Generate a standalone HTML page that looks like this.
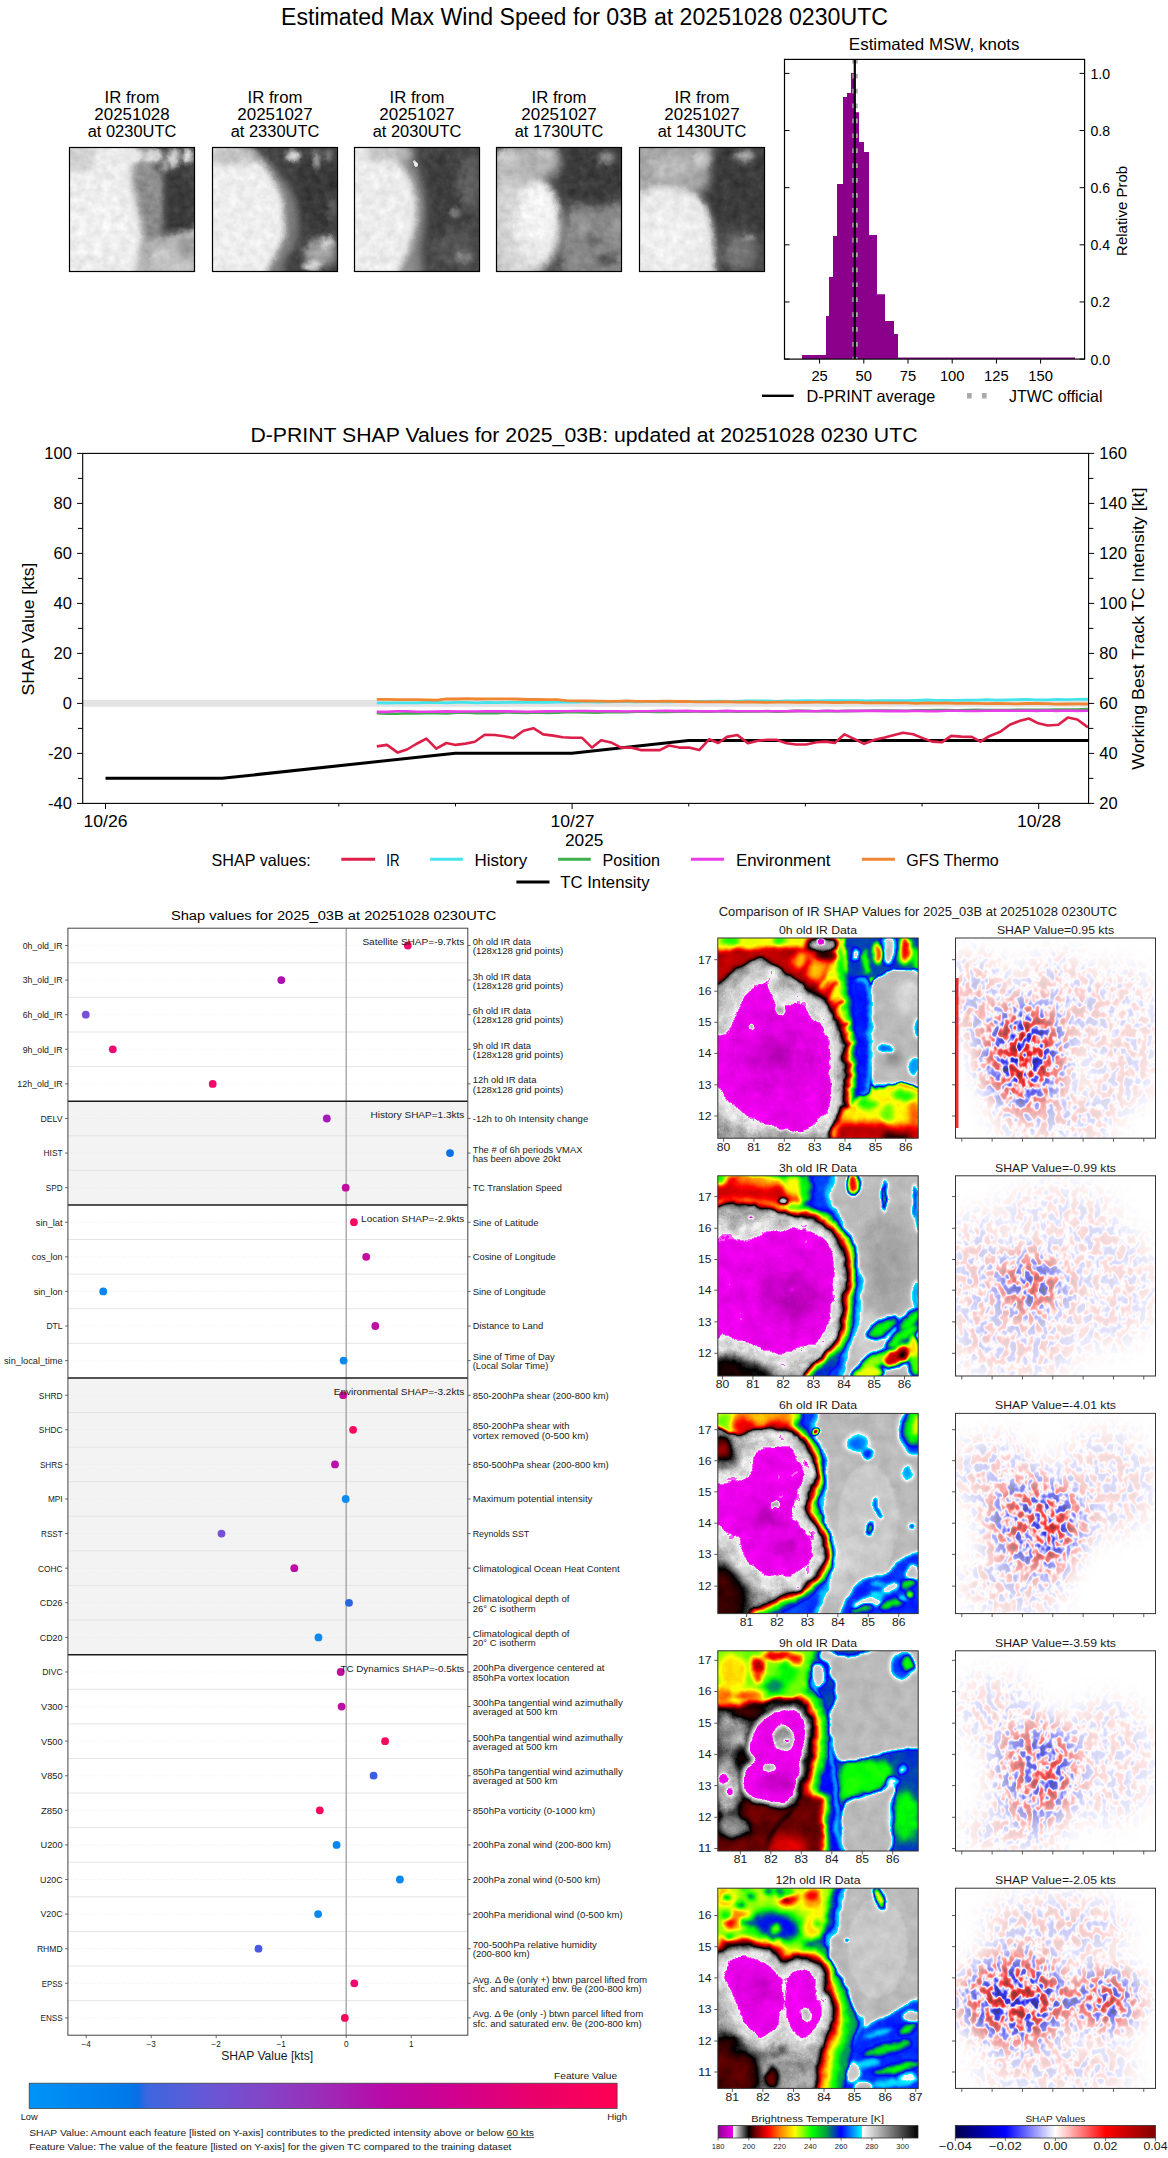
<!DOCTYPE html>
<html><head><meta charset="utf-8"><title>D-PRINT</title>
<style>html,body{margin:0;padding:0;background:#fff;overflow:hidden;}svg{display:block;}
text{font-family:"Liberation Sans", sans-serif;}</style></head>
<body><svg width="1168" height="2158" viewBox="0 0 1168 2158" font-family='"Liberation Sans", sans-serif'>
<defs><clipPath id="cpth"><rect x="0" y="0" width="125" height="124"/></clipPath><filter id="tb0.5" x="-40" y="-40" width="220" height="220" filterUnits="userSpaceOnUse"><feGaussianBlur stdDeviation="0.5"/></filter><filter id="tb2" x="-40" y="-40" width="220" height="220" filterUnits="userSpaceOnUse"><feGaussianBlur stdDeviation="2"/></filter><filter id="tb3" x="-40" y="-40" width="220" height="220" filterUnits="userSpaceOnUse"><feGaussianBlur stdDeviation="3"/></filter><filter id="tb4" x="-40" y="-40" width="220" height="220" filterUnits="userSpaceOnUse"><feGaussianBlur stdDeviation="4"/></filter><filter id="tb5" x="-40" y="-40" width="220" height="220" filterUnits="userSpaceOnUse"><feGaussianBlur stdDeviation="5"/></filter><filter id="tb6" x="-40" y="-40" width="220" height="220" filterUnits="userSpaceOnUse"><feGaussianBlur stdDeviation="6"/></filter><filter id="tb8" x="-40" y="-40" width="220" height="220" filterUnits="userSpaceOnUse"><feGaussianBlur stdDeviation="8"/></filter><filter id="thn0" x="-20" y="-20" width="165" height="165" filterUnits="userSpaceOnUse" color-interpolation-filters="sRGB"><feTurbulence type="fractalNoise" baseFrequency="0.12" numOctaves="3" seed="20" result="nz"/><feDisplacementMap in="SourceGraphic" in2="nz" scale="6" xChannelSelector="R" yChannelSelector="G" result="dp"/><feGaussianBlur in="dp" stdDeviation="0.6" result="bl"/><feColorMatrix in="nz" type="matrix" values="1 0 0 0 0 1 0 0 0 0 1 0 0 0 0 0 0 0 0 1" result="ng"/><feComposite in="bl" in2="ng" operator="arithmetic" k1="0" k2="1" k3="0.14" k4="-0.07"/></filter><filter id="thn1" x="-20" y="-20" width="165" height="165" filterUnits="userSpaceOnUse" color-interpolation-filters="sRGB"><feTurbulence type="fractalNoise" baseFrequency="0.12" numOctaves="3" seed="21" result="nz"/><feDisplacementMap in="SourceGraphic" in2="nz" scale="6" xChannelSelector="R" yChannelSelector="G" result="dp"/><feGaussianBlur in="dp" stdDeviation="0.6" result="bl"/><feColorMatrix in="nz" type="matrix" values="1 0 0 0 0 1 0 0 0 0 1 0 0 0 0 0 0 0 0 1" result="ng"/><feComposite in="bl" in2="ng" operator="arithmetic" k1="0" k2="1" k3="0.14" k4="-0.07"/></filter><filter id="thn2" x="-20" y="-20" width="165" height="165" filterUnits="userSpaceOnUse" color-interpolation-filters="sRGB"><feTurbulence type="fractalNoise" baseFrequency="0.12" numOctaves="3" seed="22" result="nz"/><feDisplacementMap in="SourceGraphic" in2="nz" scale="6" xChannelSelector="R" yChannelSelector="G" result="dp"/><feGaussianBlur in="dp" stdDeviation="0.6" result="bl"/><feColorMatrix in="nz" type="matrix" values="1 0 0 0 0 1 0 0 0 0 1 0 0 0 0 0 0 0 0 1" result="ng"/><feComposite in="bl" in2="ng" operator="arithmetic" k1="0" k2="1" k3="0.14" k4="-0.07"/></filter><filter id="thn3" x="-20" y="-20" width="165" height="165" filterUnits="userSpaceOnUse" color-interpolation-filters="sRGB"><feTurbulence type="fractalNoise" baseFrequency="0.12" numOctaves="3" seed="23" result="nz"/><feDisplacementMap in="SourceGraphic" in2="nz" scale="6" xChannelSelector="R" yChannelSelector="G" result="dp"/><feGaussianBlur in="dp" stdDeviation="0.6" result="bl"/><feColorMatrix in="nz" type="matrix" values="1 0 0 0 0 1 0 0 0 0 1 0 0 0 0 0 0 0 0 1" result="ng"/><feComposite in="bl" in2="ng" operator="arithmetic" k1="0" k2="1" k3="0.14" k4="-0.07"/></filter><filter id="thn4" x="-20" y="-20" width="165" height="165" filterUnits="userSpaceOnUse" color-interpolation-filters="sRGB"><feTurbulence type="fractalNoise" baseFrequency="0.12" numOctaves="3" seed="24" result="nz"/><feDisplacementMap in="SourceGraphic" in2="nz" scale="6" xChannelSelector="R" yChannelSelector="G" result="dp"/><feGaussianBlur in="dp" stdDeviation="0.6" result="bl"/><feColorMatrix in="nz" type="matrix" values="1 0 0 0 0 1 0 0 0 0 1 0 0 0 0 0 0 0 0 1" result="ng"/><feComposite in="bl" in2="ng" operator="arithmetic" k1="0" k2="1" k3="0.14" k4="-0.07"/></filter><linearGradient id="gshap" x1="0" x2="1" y1="0" y2="0">
<stop offset="0" stop-color="#0094f7"/><stop offset="0.17" stop-color="#0078ea"/><stop offset="0.185" stop-color="#0a6ee6"/>
<stop offset="0.2" stop-color="#3c66e0"/><stop offset="0.3" stop-color="#6658d6"/><stop offset="0.4" stop-color="#8444c8"/>
<stop offset="0.5" stop-color="#9c2cb8"/><stop offset="0.6" stop-color="#b80aa8"/><stop offset="0.72" stop-color="#d00090"/>
<stop offset="0.85" stop-color="#e8006c"/><stop offset="1" stop-color="#ff0052"/></linearGradient><filter id="b0_5" x="-40" y="-40" width="280" height="280" filterUnits="userSpaceOnUse" color-interpolation-filters="sRGB"><feGaussianBlur stdDeviation="0.5"/></filter><filter id="b1" x="-40" y="-40" width="280" height="280" filterUnits="userSpaceOnUse" color-interpolation-filters="sRGB"><feGaussianBlur stdDeviation="1"/></filter><filter id="b1_5" x="-40" y="-40" width="280" height="280" filterUnits="userSpaceOnUse" color-interpolation-filters="sRGB"><feGaussianBlur stdDeviation="1.5"/></filter><filter id="b2" x="-40" y="-40" width="280" height="280" filterUnits="userSpaceOnUse" color-interpolation-filters="sRGB"><feGaussianBlur stdDeviation="2"/></filter><filter id="b3" x="-40" y="-40" width="280" height="280" filterUnits="userSpaceOnUse" color-interpolation-filters="sRGB"><feGaussianBlur stdDeviation="3"/></filter><filter id="b4" x="-40" y="-40" width="280" height="280" filterUnits="userSpaceOnUse" color-interpolation-filters="sRGB"><feGaussianBlur stdDeviation="4"/></filter><filter id="b5" x="-40" y="-40" width="280" height="280" filterUnits="userSpaceOnUse" color-interpolation-filters="sRGB"><feGaussianBlur stdDeviation="5"/></filter><filter id="b6" x="-40" y="-40" width="280" height="280" filterUnits="userSpaceOnUse" color-interpolation-filters="sRGB"><feGaussianBlur stdDeviation="6"/></filter><filter id="b8" x="-40" y="-40" width="280" height="280" filterUnits="userSpaceOnUse" color-interpolation-filters="sRGB"><feGaussianBlur stdDeviation="8"/></filter><clipPath id="cp200"><rect x="0" y="0" width="200.4" height="200.2"/></clipPath><filter id="cm0" x="-40" y="-40" width="280" height="280" filterUnits="userSpaceOnUse" color-interpolation-filters="sRGB"><feTurbulence type="fractalNoise" baseFrequency="0.07" numOctaves="3" seed="3" result="nz"/><feDisplacementMap in="SourceGraphic" in2="nz" scale="6" xChannelSelector="R" yChannelSelector="G" result="dp"/><feGaussianBlur in="dp" stdDeviation="0.8" result="bl"/><feColorMatrix in="nz" type="matrix" values="1 0 0 0 0 1 0 0 0 0 1 0 0 0 0 0 0 0 0 1" result="ng"/><feComposite in="bl" in2="ng" operator="arithmetic" k1="0" k2="1" k3="0.032" k4="-0.016"/><feComponentTransfer><feFuncR type="table" tableValues="0.502 0.528 0.554 0.580 0.606 0.632 0.658 0.684 0.709 0.735 0.761 0.787 0.813 0.839 0.865 0.891 0.917 0.943 0.969 0.995 0.966 0.918 0.870 0.821 0.773 0.725 0.676 0.628 0.580 0.531 0.483 0.435 0.386 0.338 0.290 0.242 0.193 0.145 0.097 0.048 0.000 0.033 0.067 0.100 0.134 0.167 0.201 0.234 0.268 0.301 0.335 0.368 0.402 0.435 0.468 0.502 0.533 0.563 0.594 0.625 0.656 0.686 0.717 0.748 0.779 0.809 0.840 0.871 0.902 0.932 0.963 0.994 1.000 1.000 1.000 1.000 1.000 1.000 1.000 1.000 1.000 1.000 1.000 1.000 1.000 1.000 1.000 1.000 1.000 1.000 1.000 1.000 1.000 1.000 1.000 1.000 1.000 1.000 1.000 1.000 1.000 0.964 0.929 0.893 0.857 0.821 0.786 0.750 0.714 0.679 0.643 0.607 0.571 0.536 0.500 0.464 0.429 0.393 0.357 0.321 0.286 0.250 0.214 0.179 0.143 0.107 0.071 0.036 0.000 0.000 0.000 0.000 0.000 0.000 0.000 0.000 0.000 0.000 0.000 0.000 0.000 0.000 0.000 0.000 0.000 0.000 0.000 0.000 0.000 0.000 0.000 0.000 0.000 0.000 0.000 0.000 0.000 0.000 0.000 0.000 0.000 0.000 0.000 0.000 0.000 0.000 0.000 0.000 0.000 0.000 0.000 0.000 0.000 0.000 0.000 0.000 0.000 0.000 0.000 0.000 0.000 0.000 0.000 0.000 0.000 0.000 0.000 0.000 0.429 0.997 0.983 0.969 0.955 0.941 0.927 0.913 0.899 0.885 0.871 0.857 0.843 0.829 0.815 0.801 0.787 0.772 0.758 0.744 0.730 0.716 0.702 0.688 0.674 0.660 0.646 0.632 0.618 0.604 0.590 0.576 0.562 0.548 0.534 0.520 0.506 0.492 0.478 0.463 0.449 0.435 0.421 0.407 0.393 0.379 0.365 0.351 0.337 0.323 0.309 0.295 0.281 0.267 0.253 0.239 0.225 0.211 0.197 0.183 0.169 0.154 0.140 0.126 0.112 0.098 0.084 0.070 0.056 0.042 0.028 0.014 0.000"/><feFuncG type="table" tableValues="0.000 0.000 0.000 0.000 0.000 0.000 0.000 0.000 0.000 0.000 0.000 0.000 0.000 0.000 0.000 0.000 0.000 0.000 0.000 0.000 0.966 0.918 0.870 0.821 0.773 0.725 0.676 0.628 0.580 0.531 0.483 0.435 0.386 0.338 0.290 0.242 0.193 0.145 0.097 0.048 0.000 0.000 0.000 0.000 0.000 0.000 0.000 0.000 0.000 0.000 0.000 0.000 0.000 0.000 0.000 0.000 0.000 0.000 0.000 0.000 0.000 0.000 0.000 0.000 0.000 0.000 0.000 0.000 0.000 0.000 0.000 0.000 0.029 0.065 0.100 0.136 0.172 0.208 0.244 0.280 0.316 0.351 0.387 0.423 0.459 0.495 0.529 0.563 0.596 0.630 0.663 0.697 0.731 0.764 0.798 0.832 0.865 0.899 0.933 0.966 1.000 1.000 1.000 1.000 1.000 1.000 1.000 1.000 1.000 1.000 1.000 1.000 1.000 1.000 1.000 1.000 1.000 1.000 1.000 1.000 1.000 1.000 1.000 1.000 1.000 1.000 1.000 1.000 1.000 0.968 0.936 0.905 0.873 0.841 0.809 0.777 0.745 0.714 0.682 0.650 0.618 0.586 0.554 0.523 0.491 0.459 0.427 0.395 0.363 0.331 0.300 0.268 0.236 0.204 0.172 0.140 0.108 0.076 0.045 0.013 0.021 0.057 0.093 0.129 0.164 0.200 0.236 0.271 0.307 0.343 0.379 0.414 0.450 0.486 0.521 0.557 0.593 0.629 0.664 0.700 0.736 0.771 0.807 0.843 0.879 0.914 0.950 0.986 1.000 0.997 0.983 0.969 0.955 0.941 0.927 0.913 0.899 0.885 0.871 0.857 0.843 0.829 0.815 0.801 0.787 0.772 0.758 0.744 0.730 0.716 0.702 0.688 0.674 0.660 0.646 0.632 0.618 0.604 0.590 0.576 0.562 0.548 0.534 0.520 0.506 0.492 0.478 0.463 0.449 0.435 0.421 0.407 0.393 0.379 0.365 0.351 0.337 0.323 0.309 0.295 0.281 0.267 0.253 0.239 0.225 0.211 0.197 0.183 0.169 0.154 0.140 0.126 0.112 0.098 0.084 0.070 0.056 0.042 0.028 0.014 0.000"/><feFuncB type="table" tableValues="0.502 0.528 0.554 0.580 0.606 0.632 0.658 0.684 0.709 0.735 0.761 0.787 0.813 0.839 0.865 0.891 0.917 0.943 0.969 0.995 0.966 0.918 0.870 0.821 0.773 0.725 0.676 0.628 0.580 0.531 0.483 0.435 0.386 0.338 0.290 0.242 0.193 0.145 0.097 0.048 0.000 0.000 0.000 0.000 0.000 0.000 0.000 0.000 0.000 0.000 0.000 0.000 0.000 0.000 0.000 0.000 0.000 0.000 0.000 0.000 0.000 0.000 0.000 0.000 0.000 0.000 0.000 0.000 0.000 0.000 0.000 0.000 0.000 0.000 0.000 0.000 0.000 0.000 0.000 0.000 0.000 0.000 0.000 0.000 0.000 0.000 0.000 0.000 0.000 0.000 0.000 0.000 0.000 0.000 0.000 0.000 0.000 0.000 0.000 0.000 0.000 0.000 0.000 0.000 0.000 0.000 0.000 0.000 0.000 0.000 0.000 0.000 0.000 0.000 0.000 0.000 0.000 0.000 0.000 0.000 0.000 0.000 0.000 0.000 0.000 0.000 0.000 0.000 0.000 0.028 0.056 0.084 0.112 0.140 0.168 0.196 0.224 0.252 0.280 0.308 0.336 0.364 0.392 0.420 0.453 0.488 0.524 0.559 0.595 0.630 0.666 0.701 0.737 0.773 0.808 0.844 0.879 0.915 0.950 0.986 1.000 1.000 1.000 1.000 1.000 1.000 1.000 1.000 1.000 1.000 1.000 1.000 1.000 1.000 1.000 1.000 1.000 1.000 1.000 1.000 1.000 1.000 1.000 1.000 1.000 1.000 1.000 1.000 1.000 0.997 0.983 0.969 0.955 0.941 0.927 0.913 0.899 0.885 0.871 0.857 0.843 0.829 0.815 0.801 0.787 0.772 0.758 0.744 0.730 0.716 0.702 0.688 0.674 0.660 0.646 0.632 0.618 0.604 0.590 0.576 0.562 0.548 0.534 0.520 0.506 0.492 0.478 0.463 0.449 0.435 0.421 0.407 0.393 0.379 0.365 0.351 0.337 0.323 0.309 0.295 0.281 0.267 0.253 0.239 0.225 0.211 0.197 0.183 0.169 0.154 0.140 0.126 0.112 0.098 0.084 0.070 0.056 0.042 0.028 0.014 0.000"/></feComponentTransfer></filter><filter id="mkb" x="-60" y="-60" width="320" height="320" filterUnits="userSpaceOnUse"><feGaussianBlur stdDeviation="14"/></filter><filter id="sh0" x="0" y="0" width="200" height="200.2" filterUnits="userSpaceOnUse" color-interpolation-filters="sRGB">
<feTurbulence type="fractalNoise" baseFrequency="0.13 0.1" numOctaves="2" seed="11"/>
<feColorMatrix type="matrix" values="1.75 0 0 0 -0.325  1.75 0 0 0 -0.325  1.75 0 0 0 -0.325  0 0 0 0 1"/>
<feComponentTransfer><feFuncR type="table" tableValues="0 0 1 1 0.5"/><feFuncG type="table" tableValues="0 0 1 0 0"/>
<feFuncB type="table" tableValues="0.3 1 1 0 0"/></feComponentTransfer></filter><mask id="mk0" maskUnits="userSpaceOnUse" x="0" y="0" width="200" height="200.2"><g filter="url(#mkb)"><ellipse cx="68" cy="118" rx="38" ry="48" fill="#fff" fill-opacity="0.85"/><ellipse cx="100" cy="60" rx="40" ry="40" fill="#fff" fill-opacity="0.2"/><ellipse cx="165" cy="100" rx="40" ry="70" fill="#fff" fill-opacity="0.15"/><ellipse cx="100" cy="180" rx="60" ry="25" fill="#fff" fill-opacity="0.2"/><ellipse cx="20" cy="60" rx="30" ry="40" fill="#fff" fill-opacity="0.25"/></g></mask><filter id="cm1" x="-40" y="-40" width="280" height="280" filterUnits="userSpaceOnUse" color-interpolation-filters="sRGB"><feTurbulence type="fractalNoise" baseFrequency="0.07" numOctaves="3" seed="4" result="nz"/><feDisplacementMap in="SourceGraphic" in2="nz" scale="6" xChannelSelector="R" yChannelSelector="G" result="dp"/><feGaussianBlur in="dp" stdDeviation="0.8" result="bl"/><feColorMatrix in="nz" type="matrix" values="1 0 0 0 0 1 0 0 0 0 1 0 0 0 0 0 0 0 0 1" result="ng"/><feComposite in="bl" in2="ng" operator="arithmetic" k1="0" k2="1" k3="0.032" k4="-0.016"/><feComponentTransfer><feFuncR type="table" tableValues="0.502 0.528 0.554 0.580 0.606 0.632 0.658 0.684 0.709 0.735 0.761 0.787 0.813 0.839 0.865 0.891 0.917 0.943 0.969 0.995 0.966 0.918 0.870 0.821 0.773 0.725 0.676 0.628 0.580 0.531 0.483 0.435 0.386 0.338 0.290 0.242 0.193 0.145 0.097 0.048 0.000 0.033 0.067 0.100 0.134 0.167 0.201 0.234 0.268 0.301 0.335 0.368 0.402 0.435 0.468 0.502 0.533 0.563 0.594 0.625 0.656 0.686 0.717 0.748 0.779 0.809 0.840 0.871 0.902 0.932 0.963 0.994 1.000 1.000 1.000 1.000 1.000 1.000 1.000 1.000 1.000 1.000 1.000 1.000 1.000 1.000 1.000 1.000 1.000 1.000 1.000 1.000 1.000 1.000 1.000 1.000 1.000 1.000 1.000 1.000 1.000 0.964 0.929 0.893 0.857 0.821 0.786 0.750 0.714 0.679 0.643 0.607 0.571 0.536 0.500 0.464 0.429 0.393 0.357 0.321 0.286 0.250 0.214 0.179 0.143 0.107 0.071 0.036 0.000 0.000 0.000 0.000 0.000 0.000 0.000 0.000 0.000 0.000 0.000 0.000 0.000 0.000 0.000 0.000 0.000 0.000 0.000 0.000 0.000 0.000 0.000 0.000 0.000 0.000 0.000 0.000 0.000 0.000 0.000 0.000 0.000 0.000 0.000 0.000 0.000 0.000 0.000 0.000 0.000 0.000 0.000 0.000 0.000 0.000 0.000 0.000 0.000 0.000 0.000 0.000 0.000 0.000 0.000 0.000 0.000 0.000 0.000 0.000 0.429 0.997 0.983 0.969 0.955 0.941 0.927 0.913 0.899 0.885 0.871 0.857 0.843 0.829 0.815 0.801 0.787 0.772 0.758 0.744 0.730 0.716 0.702 0.688 0.674 0.660 0.646 0.632 0.618 0.604 0.590 0.576 0.562 0.548 0.534 0.520 0.506 0.492 0.478 0.463 0.449 0.435 0.421 0.407 0.393 0.379 0.365 0.351 0.337 0.323 0.309 0.295 0.281 0.267 0.253 0.239 0.225 0.211 0.197 0.183 0.169 0.154 0.140 0.126 0.112 0.098 0.084 0.070 0.056 0.042 0.028 0.014 0.000"/><feFuncG type="table" tableValues="0.000 0.000 0.000 0.000 0.000 0.000 0.000 0.000 0.000 0.000 0.000 0.000 0.000 0.000 0.000 0.000 0.000 0.000 0.000 0.000 0.966 0.918 0.870 0.821 0.773 0.725 0.676 0.628 0.580 0.531 0.483 0.435 0.386 0.338 0.290 0.242 0.193 0.145 0.097 0.048 0.000 0.000 0.000 0.000 0.000 0.000 0.000 0.000 0.000 0.000 0.000 0.000 0.000 0.000 0.000 0.000 0.000 0.000 0.000 0.000 0.000 0.000 0.000 0.000 0.000 0.000 0.000 0.000 0.000 0.000 0.000 0.000 0.029 0.065 0.100 0.136 0.172 0.208 0.244 0.280 0.316 0.351 0.387 0.423 0.459 0.495 0.529 0.563 0.596 0.630 0.663 0.697 0.731 0.764 0.798 0.832 0.865 0.899 0.933 0.966 1.000 1.000 1.000 1.000 1.000 1.000 1.000 1.000 1.000 1.000 1.000 1.000 1.000 1.000 1.000 1.000 1.000 1.000 1.000 1.000 1.000 1.000 1.000 1.000 1.000 1.000 1.000 1.000 1.000 0.968 0.936 0.905 0.873 0.841 0.809 0.777 0.745 0.714 0.682 0.650 0.618 0.586 0.554 0.523 0.491 0.459 0.427 0.395 0.363 0.331 0.300 0.268 0.236 0.204 0.172 0.140 0.108 0.076 0.045 0.013 0.021 0.057 0.093 0.129 0.164 0.200 0.236 0.271 0.307 0.343 0.379 0.414 0.450 0.486 0.521 0.557 0.593 0.629 0.664 0.700 0.736 0.771 0.807 0.843 0.879 0.914 0.950 0.986 1.000 0.997 0.983 0.969 0.955 0.941 0.927 0.913 0.899 0.885 0.871 0.857 0.843 0.829 0.815 0.801 0.787 0.772 0.758 0.744 0.730 0.716 0.702 0.688 0.674 0.660 0.646 0.632 0.618 0.604 0.590 0.576 0.562 0.548 0.534 0.520 0.506 0.492 0.478 0.463 0.449 0.435 0.421 0.407 0.393 0.379 0.365 0.351 0.337 0.323 0.309 0.295 0.281 0.267 0.253 0.239 0.225 0.211 0.197 0.183 0.169 0.154 0.140 0.126 0.112 0.098 0.084 0.070 0.056 0.042 0.028 0.014 0.000"/><feFuncB type="table" tableValues="0.502 0.528 0.554 0.580 0.606 0.632 0.658 0.684 0.709 0.735 0.761 0.787 0.813 0.839 0.865 0.891 0.917 0.943 0.969 0.995 0.966 0.918 0.870 0.821 0.773 0.725 0.676 0.628 0.580 0.531 0.483 0.435 0.386 0.338 0.290 0.242 0.193 0.145 0.097 0.048 0.000 0.000 0.000 0.000 0.000 0.000 0.000 0.000 0.000 0.000 0.000 0.000 0.000 0.000 0.000 0.000 0.000 0.000 0.000 0.000 0.000 0.000 0.000 0.000 0.000 0.000 0.000 0.000 0.000 0.000 0.000 0.000 0.000 0.000 0.000 0.000 0.000 0.000 0.000 0.000 0.000 0.000 0.000 0.000 0.000 0.000 0.000 0.000 0.000 0.000 0.000 0.000 0.000 0.000 0.000 0.000 0.000 0.000 0.000 0.000 0.000 0.000 0.000 0.000 0.000 0.000 0.000 0.000 0.000 0.000 0.000 0.000 0.000 0.000 0.000 0.000 0.000 0.000 0.000 0.000 0.000 0.000 0.000 0.000 0.000 0.000 0.000 0.000 0.000 0.028 0.056 0.084 0.112 0.140 0.168 0.196 0.224 0.252 0.280 0.308 0.336 0.364 0.392 0.420 0.453 0.488 0.524 0.559 0.595 0.630 0.666 0.701 0.737 0.773 0.808 0.844 0.879 0.915 0.950 0.986 1.000 1.000 1.000 1.000 1.000 1.000 1.000 1.000 1.000 1.000 1.000 1.000 1.000 1.000 1.000 1.000 1.000 1.000 1.000 1.000 1.000 1.000 1.000 1.000 1.000 1.000 1.000 1.000 1.000 0.997 0.983 0.969 0.955 0.941 0.927 0.913 0.899 0.885 0.871 0.857 0.843 0.829 0.815 0.801 0.787 0.772 0.758 0.744 0.730 0.716 0.702 0.688 0.674 0.660 0.646 0.632 0.618 0.604 0.590 0.576 0.562 0.548 0.534 0.520 0.506 0.492 0.478 0.463 0.449 0.435 0.421 0.407 0.393 0.379 0.365 0.351 0.337 0.323 0.309 0.295 0.281 0.267 0.253 0.239 0.225 0.211 0.197 0.183 0.169 0.154 0.140 0.126 0.112 0.098 0.084 0.070 0.056 0.042 0.028 0.014 0.000"/></feComponentTransfer></filter><filter id="sh1" x="0" y="0" width="200" height="200.2" filterUnits="userSpaceOnUse" color-interpolation-filters="sRGB">
<feTurbulence type="fractalNoise" baseFrequency="0.13 0.1" numOctaves="2" seed="18"/>
<feColorMatrix type="matrix" values="1.75 0 0 0 -0.345  1.75 0 0 0 -0.345  1.75 0 0 0 -0.345  0 0 0 0 1"/>
<feComponentTransfer><feFuncR type="table" tableValues="0 0 1 1 0.5"/><feFuncG type="table" tableValues="0 0 1 0 0"/>
<feFuncB type="table" tableValues="0.3 1 1 0 0"/></feComponentTransfer></filter><mask id="mk1" maskUnits="userSpaceOnUse" x="0" y="0" width="200" height="200.2"><g filter="url(#mkb)"><ellipse cx="75" cy="108" rx="32" ry="32" fill="#fff" fill-opacity="0.6"/><ellipse cx="100" cy="40" rx="60" ry="30" fill="#fff" fill-opacity="0.12"/><ellipse cx="150" cy="110" rx="50" ry="60" fill="#fff" fill-opacity="0.14"/><ellipse cx="60" cy="170" rx="60" ry="30" fill="#fff" fill-opacity="0.18"/><ellipse cx="20" cy="100" rx="25" ry="60" fill="#fff" fill-opacity="0.2"/></g></mask><filter id="cm2" x="-40" y="-40" width="280" height="280" filterUnits="userSpaceOnUse" color-interpolation-filters="sRGB"><feTurbulence type="fractalNoise" baseFrequency="0.07" numOctaves="3" seed="5" result="nz"/><feDisplacementMap in="SourceGraphic" in2="nz" scale="6" xChannelSelector="R" yChannelSelector="G" result="dp"/><feGaussianBlur in="dp" stdDeviation="0.8" result="bl"/><feColorMatrix in="nz" type="matrix" values="1 0 0 0 0 1 0 0 0 0 1 0 0 0 0 0 0 0 0 1" result="ng"/><feComposite in="bl" in2="ng" operator="arithmetic" k1="0" k2="1" k3="0.032" k4="-0.016"/><feComponentTransfer><feFuncR type="table" tableValues="0.502 0.528 0.554 0.580 0.606 0.632 0.658 0.684 0.709 0.735 0.761 0.787 0.813 0.839 0.865 0.891 0.917 0.943 0.969 0.995 0.966 0.918 0.870 0.821 0.773 0.725 0.676 0.628 0.580 0.531 0.483 0.435 0.386 0.338 0.290 0.242 0.193 0.145 0.097 0.048 0.000 0.033 0.067 0.100 0.134 0.167 0.201 0.234 0.268 0.301 0.335 0.368 0.402 0.435 0.468 0.502 0.533 0.563 0.594 0.625 0.656 0.686 0.717 0.748 0.779 0.809 0.840 0.871 0.902 0.932 0.963 0.994 1.000 1.000 1.000 1.000 1.000 1.000 1.000 1.000 1.000 1.000 1.000 1.000 1.000 1.000 1.000 1.000 1.000 1.000 1.000 1.000 1.000 1.000 1.000 1.000 1.000 1.000 1.000 1.000 1.000 0.964 0.929 0.893 0.857 0.821 0.786 0.750 0.714 0.679 0.643 0.607 0.571 0.536 0.500 0.464 0.429 0.393 0.357 0.321 0.286 0.250 0.214 0.179 0.143 0.107 0.071 0.036 0.000 0.000 0.000 0.000 0.000 0.000 0.000 0.000 0.000 0.000 0.000 0.000 0.000 0.000 0.000 0.000 0.000 0.000 0.000 0.000 0.000 0.000 0.000 0.000 0.000 0.000 0.000 0.000 0.000 0.000 0.000 0.000 0.000 0.000 0.000 0.000 0.000 0.000 0.000 0.000 0.000 0.000 0.000 0.000 0.000 0.000 0.000 0.000 0.000 0.000 0.000 0.000 0.000 0.000 0.000 0.000 0.000 0.000 0.000 0.000 0.429 0.997 0.983 0.969 0.955 0.941 0.927 0.913 0.899 0.885 0.871 0.857 0.843 0.829 0.815 0.801 0.787 0.772 0.758 0.744 0.730 0.716 0.702 0.688 0.674 0.660 0.646 0.632 0.618 0.604 0.590 0.576 0.562 0.548 0.534 0.520 0.506 0.492 0.478 0.463 0.449 0.435 0.421 0.407 0.393 0.379 0.365 0.351 0.337 0.323 0.309 0.295 0.281 0.267 0.253 0.239 0.225 0.211 0.197 0.183 0.169 0.154 0.140 0.126 0.112 0.098 0.084 0.070 0.056 0.042 0.028 0.014 0.000"/><feFuncG type="table" tableValues="0.000 0.000 0.000 0.000 0.000 0.000 0.000 0.000 0.000 0.000 0.000 0.000 0.000 0.000 0.000 0.000 0.000 0.000 0.000 0.000 0.966 0.918 0.870 0.821 0.773 0.725 0.676 0.628 0.580 0.531 0.483 0.435 0.386 0.338 0.290 0.242 0.193 0.145 0.097 0.048 0.000 0.000 0.000 0.000 0.000 0.000 0.000 0.000 0.000 0.000 0.000 0.000 0.000 0.000 0.000 0.000 0.000 0.000 0.000 0.000 0.000 0.000 0.000 0.000 0.000 0.000 0.000 0.000 0.000 0.000 0.000 0.000 0.029 0.065 0.100 0.136 0.172 0.208 0.244 0.280 0.316 0.351 0.387 0.423 0.459 0.495 0.529 0.563 0.596 0.630 0.663 0.697 0.731 0.764 0.798 0.832 0.865 0.899 0.933 0.966 1.000 1.000 1.000 1.000 1.000 1.000 1.000 1.000 1.000 1.000 1.000 1.000 1.000 1.000 1.000 1.000 1.000 1.000 1.000 1.000 1.000 1.000 1.000 1.000 1.000 1.000 1.000 1.000 1.000 0.968 0.936 0.905 0.873 0.841 0.809 0.777 0.745 0.714 0.682 0.650 0.618 0.586 0.554 0.523 0.491 0.459 0.427 0.395 0.363 0.331 0.300 0.268 0.236 0.204 0.172 0.140 0.108 0.076 0.045 0.013 0.021 0.057 0.093 0.129 0.164 0.200 0.236 0.271 0.307 0.343 0.379 0.414 0.450 0.486 0.521 0.557 0.593 0.629 0.664 0.700 0.736 0.771 0.807 0.843 0.879 0.914 0.950 0.986 1.000 0.997 0.983 0.969 0.955 0.941 0.927 0.913 0.899 0.885 0.871 0.857 0.843 0.829 0.815 0.801 0.787 0.772 0.758 0.744 0.730 0.716 0.702 0.688 0.674 0.660 0.646 0.632 0.618 0.604 0.590 0.576 0.562 0.548 0.534 0.520 0.506 0.492 0.478 0.463 0.449 0.435 0.421 0.407 0.393 0.379 0.365 0.351 0.337 0.323 0.309 0.295 0.281 0.267 0.253 0.239 0.225 0.211 0.197 0.183 0.169 0.154 0.140 0.126 0.112 0.098 0.084 0.070 0.056 0.042 0.028 0.014 0.000"/><feFuncB type="table" tableValues="0.502 0.528 0.554 0.580 0.606 0.632 0.658 0.684 0.709 0.735 0.761 0.787 0.813 0.839 0.865 0.891 0.917 0.943 0.969 0.995 0.966 0.918 0.870 0.821 0.773 0.725 0.676 0.628 0.580 0.531 0.483 0.435 0.386 0.338 0.290 0.242 0.193 0.145 0.097 0.048 0.000 0.000 0.000 0.000 0.000 0.000 0.000 0.000 0.000 0.000 0.000 0.000 0.000 0.000 0.000 0.000 0.000 0.000 0.000 0.000 0.000 0.000 0.000 0.000 0.000 0.000 0.000 0.000 0.000 0.000 0.000 0.000 0.000 0.000 0.000 0.000 0.000 0.000 0.000 0.000 0.000 0.000 0.000 0.000 0.000 0.000 0.000 0.000 0.000 0.000 0.000 0.000 0.000 0.000 0.000 0.000 0.000 0.000 0.000 0.000 0.000 0.000 0.000 0.000 0.000 0.000 0.000 0.000 0.000 0.000 0.000 0.000 0.000 0.000 0.000 0.000 0.000 0.000 0.000 0.000 0.000 0.000 0.000 0.000 0.000 0.000 0.000 0.000 0.000 0.028 0.056 0.084 0.112 0.140 0.168 0.196 0.224 0.252 0.280 0.308 0.336 0.364 0.392 0.420 0.453 0.488 0.524 0.559 0.595 0.630 0.666 0.701 0.737 0.773 0.808 0.844 0.879 0.915 0.950 0.986 1.000 1.000 1.000 1.000 1.000 1.000 1.000 1.000 1.000 1.000 1.000 1.000 1.000 1.000 1.000 1.000 1.000 1.000 1.000 1.000 1.000 1.000 1.000 1.000 1.000 1.000 1.000 1.000 1.000 0.997 0.983 0.969 0.955 0.941 0.927 0.913 0.899 0.885 0.871 0.857 0.843 0.829 0.815 0.801 0.787 0.772 0.758 0.744 0.730 0.716 0.702 0.688 0.674 0.660 0.646 0.632 0.618 0.604 0.590 0.576 0.562 0.548 0.534 0.520 0.506 0.492 0.478 0.463 0.449 0.435 0.421 0.407 0.393 0.379 0.365 0.351 0.337 0.323 0.309 0.295 0.281 0.267 0.253 0.239 0.225 0.211 0.197 0.183 0.169 0.154 0.140 0.126 0.112 0.098 0.084 0.070 0.056 0.042 0.028 0.014 0.000"/></feComponentTransfer></filter><filter id="sh2" x="0" y="0" width="200" height="200.2" filterUnits="userSpaceOnUse" color-interpolation-filters="sRGB">
<feTurbulence type="fractalNoise" baseFrequency="0.13 0.1" numOctaves="2" seed="25"/>
<feColorMatrix type="matrix" values="1.75 0 0 0 -0.345  1.75 0 0 0 -0.345  1.75 0 0 0 -0.345  0 0 0 0 1"/>
<feComponentTransfer><feFuncR type="table" tableValues="0 0 1 1 0.5"/><feFuncG type="table" tableValues="0 0 1 0 0"/>
<feFuncB type="table" tableValues="0.3 1 1 0 0"/></feComponentTransfer></filter><mask id="mk2" maskUnits="userSpaceOnUse" x="0" y="0" width="200" height="200.2"><g filter="url(#mkb)"><ellipse cx="80" cy="110" rx="45" ry="42" fill="#fff" fill-opacity="0.65"/><ellipse cx="100" cy="120" rx="10" ry="35" fill="#fff" fill-opacity="0.9"/><ellipse cx="150" cy="70" rx="50" ry="50" fill="#fff" fill-opacity="0.15"/><ellipse cx="40" cy="60" rx="40" ry="35" fill="#fff" fill-opacity="0.2"/><ellipse cx="60" cy="170" rx="50" ry="30" fill="#fff" fill-opacity="0.2"/></g></mask><filter id="cm3" x="-40" y="-40" width="280" height="280" filterUnits="userSpaceOnUse" color-interpolation-filters="sRGB"><feTurbulence type="fractalNoise" baseFrequency="0.07" numOctaves="3" seed="6" result="nz"/><feDisplacementMap in="SourceGraphic" in2="nz" scale="6" xChannelSelector="R" yChannelSelector="G" result="dp"/><feGaussianBlur in="dp" stdDeviation="0.8" result="bl"/><feColorMatrix in="nz" type="matrix" values="1 0 0 0 0 1 0 0 0 0 1 0 0 0 0 0 0 0 0 1" result="ng"/><feComposite in="bl" in2="ng" operator="arithmetic" k1="0" k2="1" k3="0.032" k4="-0.016"/><feComponentTransfer><feFuncR type="table" tableValues="0.502 0.528 0.554 0.580 0.606 0.632 0.658 0.684 0.709 0.735 0.761 0.787 0.813 0.839 0.865 0.891 0.917 0.943 0.969 0.995 0.966 0.918 0.870 0.821 0.773 0.725 0.676 0.628 0.580 0.531 0.483 0.435 0.386 0.338 0.290 0.242 0.193 0.145 0.097 0.048 0.000 0.033 0.067 0.100 0.134 0.167 0.201 0.234 0.268 0.301 0.335 0.368 0.402 0.435 0.468 0.502 0.533 0.563 0.594 0.625 0.656 0.686 0.717 0.748 0.779 0.809 0.840 0.871 0.902 0.932 0.963 0.994 1.000 1.000 1.000 1.000 1.000 1.000 1.000 1.000 1.000 1.000 1.000 1.000 1.000 1.000 1.000 1.000 1.000 1.000 1.000 1.000 1.000 1.000 1.000 1.000 1.000 1.000 1.000 1.000 1.000 0.964 0.929 0.893 0.857 0.821 0.786 0.750 0.714 0.679 0.643 0.607 0.571 0.536 0.500 0.464 0.429 0.393 0.357 0.321 0.286 0.250 0.214 0.179 0.143 0.107 0.071 0.036 0.000 0.000 0.000 0.000 0.000 0.000 0.000 0.000 0.000 0.000 0.000 0.000 0.000 0.000 0.000 0.000 0.000 0.000 0.000 0.000 0.000 0.000 0.000 0.000 0.000 0.000 0.000 0.000 0.000 0.000 0.000 0.000 0.000 0.000 0.000 0.000 0.000 0.000 0.000 0.000 0.000 0.000 0.000 0.000 0.000 0.000 0.000 0.000 0.000 0.000 0.000 0.000 0.000 0.000 0.000 0.000 0.000 0.000 0.000 0.000 0.429 0.997 0.983 0.969 0.955 0.941 0.927 0.913 0.899 0.885 0.871 0.857 0.843 0.829 0.815 0.801 0.787 0.772 0.758 0.744 0.730 0.716 0.702 0.688 0.674 0.660 0.646 0.632 0.618 0.604 0.590 0.576 0.562 0.548 0.534 0.520 0.506 0.492 0.478 0.463 0.449 0.435 0.421 0.407 0.393 0.379 0.365 0.351 0.337 0.323 0.309 0.295 0.281 0.267 0.253 0.239 0.225 0.211 0.197 0.183 0.169 0.154 0.140 0.126 0.112 0.098 0.084 0.070 0.056 0.042 0.028 0.014 0.000"/><feFuncG type="table" tableValues="0.000 0.000 0.000 0.000 0.000 0.000 0.000 0.000 0.000 0.000 0.000 0.000 0.000 0.000 0.000 0.000 0.000 0.000 0.000 0.000 0.966 0.918 0.870 0.821 0.773 0.725 0.676 0.628 0.580 0.531 0.483 0.435 0.386 0.338 0.290 0.242 0.193 0.145 0.097 0.048 0.000 0.000 0.000 0.000 0.000 0.000 0.000 0.000 0.000 0.000 0.000 0.000 0.000 0.000 0.000 0.000 0.000 0.000 0.000 0.000 0.000 0.000 0.000 0.000 0.000 0.000 0.000 0.000 0.000 0.000 0.000 0.000 0.029 0.065 0.100 0.136 0.172 0.208 0.244 0.280 0.316 0.351 0.387 0.423 0.459 0.495 0.529 0.563 0.596 0.630 0.663 0.697 0.731 0.764 0.798 0.832 0.865 0.899 0.933 0.966 1.000 1.000 1.000 1.000 1.000 1.000 1.000 1.000 1.000 1.000 1.000 1.000 1.000 1.000 1.000 1.000 1.000 1.000 1.000 1.000 1.000 1.000 1.000 1.000 1.000 1.000 1.000 1.000 1.000 0.968 0.936 0.905 0.873 0.841 0.809 0.777 0.745 0.714 0.682 0.650 0.618 0.586 0.554 0.523 0.491 0.459 0.427 0.395 0.363 0.331 0.300 0.268 0.236 0.204 0.172 0.140 0.108 0.076 0.045 0.013 0.021 0.057 0.093 0.129 0.164 0.200 0.236 0.271 0.307 0.343 0.379 0.414 0.450 0.486 0.521 0.557 0.593 0.629 0.664 0.700 0.736 0.771 0.807 0.843 0.879 0.914 0.950 0.986 1.000 0.997 0.983 0.969 0.955 0.941 0.927 0.913 0.899 0.885 0.871 0.857 0.843 0.829 0.815 0.801 0.787 0.772 0.758 0.744 0.730 0.716 0.702 0.688 0.674 0.660 0.646 0.632 0.618 0.604 0.590 0.576 0.562 0.548 0.534 0.520 0.506 0.492 0.478 0.463 0.449 0.435 0.421 0.407 0.393 0.379 0.365 0.351 0.337 0.323 0.309 0.295 0.281 0.267 0.253 0.239 0.225 0.211 0.197 0.183 0.169 0.154 0.140 0.126 0.112 0.098 0.084 0.070 0.056 0.042 0.028 0.014 0.000"/><feFuncB type="table" tableValues="0.502 0.528 0.554 0.580 0.606 0.632 0.658 0.684 0.709 0.735 0.761 0.787 0.813 0.839 0.865 0.891 0.917 0.943 0.969 0.995 0.966 0.918 0.870 0.821 0.773 0.725 0.676 0.628 0.580 0.531 0.483 0.435 0.386 0.338 0.290 0.242 0.193 0.145 0.097 0.048 0.000 0.000 0.000 0.000 0.000 0.000 0.000 0.000 0.000 0.000 0.000 0.000 0.000 0.000 0.000 0.000 0.000 0.000 0.000 0.000 0.000 0.000 0.000 0.000 0.000 0.000 0.000 0.000 0.000 0.000 0.000 0.000 0.000 0.000 0.000 0.000 0.000 0.000 0.000 0.000 0.000 0.000 0.000 0.000 0.000 0.000 0.000 0.000 0.000 0.000 0.000 0.000 0.000 0.000 0.000 0.000 0.000 0.000 0.000 0.000 0.000 0.000 0.000 0.000 0.000 0.000 0.000 0.000 0.000 0.000 0.000 0.000 0.000 0.000 0.000 0.000 0.000 0.000 0.000 0.000 0.000 0.000 0.000 0.000 0.000 0.000 0.000 0.000 0.000 0.028 0.056 0.084 0.112 0.140 0.168 0.196 0.224 0.252 0.280 0.308 0.336 0.364 0.392 0.420 0.453 0.488 0.524 0.559 0.595 0.630 0.666 0.701 0.737 0.773 0.808 0.844 0.879 0.915 0.950 0.986 1.000 1.000 1.000 1.000 1.000 1.000 1.000 1.000 1.000 1.000 1.000 1.000 1.000 1.000 1.000 1.000 1.000 1.000 1.000 1.000 1.000 1.000 1.000 1.000 1.000 1.000 1.000 1.000 1.000 0.997 0.983 0.969 0.955 0.941 0.927 0.913 0.899 0.885 0.871 0.857 0.843 0.829 0.815 0.801 0.787 0.772 0.758 0.744 0.730 0.716 0.702 0.688 0.674 0.660 0.646 0.632 0.618 0.604 0.590 0.576 0.562 0.548 0.534 0.520 0.506 0.492 0.478 0.463 0.449 0.435 0.421 0.407 0.393 0.379 0.365 0.351 0.337 0.323 0.309 0.295 0.281 0.267 0.253 0.239 0.225 0.211 0.197 0.183 0.169 0.154 0.140 0.126 0.112 0.098 0.084 0.070 0.056 0.042 0.028 0.014 0.000"/></feComponentTransfer></filter><filter id="sh3" x="0" y="0" width="200" height="200.2" filterUnits="userSpaceOnUse" color-interpolation-filters="sRGB">
<feTurbulence type="fractalNoise" baseFrequency="0.13 0.1" numOctaves="2" seed="32"/>
<feColorMatrix type="matrix" values="1.75 0 0 0 -0.355  1.75 0 0 0 -0.355  1.75 0 0 0 -0.355  0 0 0 0 1"/>
<feComponentTransfer><feFuncR type="table" tableValues="0 0 1 1 0.5"/><feFuncG type="table" tableValues="0 0 1 0 0"/>
<feFuncB type="table" tableValues="0.3 1 1 0 0"/></feComponentTransfer></filter><mask id="mk3" maskUnits="userSpaceOnUse" x="0" y="0" width="200" height="200.2"><g filter="url(#mkb)"><ellipse cx="80" cy="120" rx="38" ry="48" fill="#fff" fill-opacity="0.55"/><ellipse cx="98" cy="120" rx="8" ry="35" fill="#fff" fill-opacity="0.9"/><ellipse cx="150" cy="110" rx="50" ry="60" fill="#fff" fill-opacity="0.14"/><ellipse cx="40" cy="60" rx="40" ry="35" fill="#fff" fill-opacity="0.15"/><ellipse cx="60" cy="180" rx="50" ry="20" fill="#fff" fill-opacity="0.18"/></g></mask><filter id="cm4" x="-40" y="-40" width="280" height="280" filterUnits="userSpaceOnUse" color-interpolation-filters="sRGB"><feTurbulence type="fractalNoise" baseFrequency="0.07" numOctaves="3" seed="7" result="nz"/><feDisplacementMap in="SourceGraphic" in2="nz" scale="6" xChannelSelector="R" yChannelSelector="G" result="dp"/><feGaussianBlur in="dp" stdDeviation="0.8" result="bl"/><feColorMatrix in="nz" type="matrix" values="1 0 0 0 0 1 0 0 0 0 1 0 0 0 0 0 0 0 0 1" result="ng"/><feComposite in="bl" in2="ng" operator="arithmetic" k1="0" k2="1" k3="0.032" k4="-0.016"/><feComponentTransfer><feFuncR type="table" tableValues="0.502 0.528 0.554 0.580 0.606 0.632 0.658 0.684 0.709 0.735 0.761 0.787 0.813 0.839 0.865 0.891 0.917 0.943 0.969 0.995 0.966 0.918 0.870 0.821 0.773 0.725 0.676 0.628 0.580 0.531 0.483 0.435 0.386 0.338 0.290 0.242 0.193 0.145 0.097 0.048 0.000 0.033 0.067 0.100 0.134 0.167 0.201 0.234 0.268 0.301 0.335 0.368 0.402 0.435 0.468 0.502 0.533 0.563 0.594 0.625 0.656 0.686 0.717 0.748 0.779 0.809 0.840 0.871 0.902 0.932 0.963 0.994 1.000 1.000 1.000 1.000 1.000 1.000 1.000 1.000 1.000 1.000 1.000 1.000 1.000 1.000 1.000 1.000 1.000 1.000 1.000 1.000 1.000 1.000 1.000 1.000 1.000 1.000 1.000 1.000 1.000 0.964 0.929 0.893 0.857 0.821 0.786 0.750 0.714 0.679 0.643 0.607 0.571 0.536 0.500 0.464 0.429 0.393 0.357 0.321 0.286 0.250 0.214 0.179 0.143 0.107 0.071 0.036 0.000 0.000 0.000 0.000 0.000 0.000 0.000 0.000 0.000 0.000 0.000 0.000 0.000 0.000 0.000 0.000 0.000 0.000 0.000 0.000 0.000 0.000 0.000 0.000 0.000 0.000 0.000 0.000 0.000 0.000 0.000 0.000 0.000 0.000 0.000 0.000 0.000 0.000 0.000 0.000 0.000 0.000 0.000 0.000 0.000 0.000 0.000 0.000 0.000 0.000 0.000 0.000 0.000 0.000 0.000 0.000 0.000 0.000 0.000 0.000 0.429 0.997 0.983 0.969 0.955 0.941 0.927 0.913 0.899 0.885 0.871 0.857 0.843 0.829 0.815 0.801 0.787 0.772 0.758 0.744 0.730 0.716 0.702 0.688 0.674 0.660 0.646 0.632 0.618 0.604 0.590 0.576 0.562 0.548 0.534 0.520 0.506 0.492 0.478 0.463 0.449 0.435 0.421 0.407 0.393 0.379 0.365 0.351 0.337 0.323 0.309 0.295 0.281 0.267 0.253 0.239 0.225 0.211 0.197 0.183 0.169 0.154 0.140 0.126 0.112 0.098 0.084 0.070 0.056 0.042 0.028 0.014 0.000"/><feFuncG type="table" tableValues="0.000 0.000 0.000 0.000 0.000 0.000 0.000 0.000 0.000 0.000 0.000 0.000 0.000 0.000 0.000 0.000 0.000 0.000 0.000 0.000 0.966 0.918 0.870 0.821 0.773 0.725 0.676 0.628 0.580 0.531 0.483 0.435 0.386 0.338 0.290 0.242 0.193 0.145 0.097 0.048 0.000 0.000 0.000 0.000 0.000 0.000 0.000 0.000 0.000 0.000 0.000 0.000 0.000 0.000 0.000 0.000 0.000 0.000 0.000 0.000 0.000 0.000 0.000 0.000 0.000 0.000 0.000 0.000 0.000 0.000 0.000 0.000 0.029 0.065 0.100 0.136 0.172 0.208 0.244 0.280 0.316 0.351 0.387 0.423 0.459 0.495 0.529 0.563 0.596 0.630 0.663 0.697 0.731 0.764 0.798 0.832 0.865 0.899 0.933 0.966 1.000 1.000 1.000 1.000 1.000 1.000 1.000 1.000 1.000 1.000 1.000 1.000 1.000 1.000 1.000 1.000 1.000 1.000 1.000 1.000 1.000 1.000 1.000 1.000 1.000 1.000 1.000 1.000 1.000 0.968 0.936 0.905 0.873 0.841 0.809 0.777 0.745 0.714 0.682 0.650 0.618 0.586 0.554 0.523 0.491 0.459 0.427 0.395 0.363 0.331 0.300 0.268 0.236 0.204 0.172 0.140 0.108 0.076 0.045 0.013 0.021 0.057 0.093 0.129 0.164 0.200 0.236 0.271 0.307 0.343 0.379 0.414 0.450 0.486 0.521 0.557 0.593 0.629 0.664 0.700 0.736 0.771 0.807 0.843 0.879 0.914 0.950 0.986 1.000 0.997 0.983 0.969 0.955 0.941 0.927 0.913 0.899 0.885 0.871 0.857 0.843 0.829 0.815 0.801 0.787 0.772 0.758 0.744 0.730 0.716 0.702 0.688 0.674 0.660 0.646 0.632 0.618 0.604 0.590 0.576 0.562 0.548 0.534 0.520 0.506 0.492 0.478 0.463 0.449 0.435 0.421 0.407 0.393 0.379 0.365 0.351 0.337 0.323 0.309 0.295 0.281 0.267 0.253 0.239 0.225 0.211 0.197 0.183 0.169 0.154 0.140 0.126 0.112 0.098 0.084 0.070 0.056 0.042 0.028 0.014 0.000"/><feFuncB type="table" tableValues="0.502 0.528 0.554 0.580 0.606 0.632 0.658 0.684 0.709 0.735 0.761 0.787 0.813 0.839 0.865 0.891 0.917 0.943 0.969 0.995 0.966 0.918 0.870 0.821 0.773 0.725 0.676 0.628 0.580 0.531 0.483 0.435 0.386 0.338 0.290 0.242 0.193 0.145 0.097 0.048 0.000 0.000 0.000 0.000 0.000 0.000 0.000 0.000 0.000 0.000 0.000 0.000 0.000 0.000 0.000 0.000 0.000 0.000 0.000 0.000 0.000 0.000 0.000 0.000 0.000 0.000 0.000 0.000 0.000 0.000 0.000 0.000 0.000 0.000 0.000 0.000 0.000 0.000 0.000 0.000 0.000 0.000 0.000 0.000 0.000 0.000 0.000 0.000 0.000 0.000 0.000 0.000 0.000 0.000 0.000 0.000 0.000 0.000 0.000 0.000 0.000 0.000 0.000 0.000 0.000 0.000 0.000 0.000 0.000 0.000 0.000 0.000 0.000 0.000 0.000 0.000 0.000 0.000 0.000 0.000 0.000 0.000 0.000 0.000 0.000 0.000 0.000 0.000 0.000 0.028 0.056 0.084 0.112 0.140 0.168 0.196 0.224 0.252 0.280 0.308 0.336 0.364 0.392 0.420 0.453 0.488 0.524 0.559 0.595 0.630 0.666 0.701 0.737 0.773 0.808 0.844 0.879 0.915 0.950 0.986 1.000 1.000 1.000 1.000 1.000 1.000 1.000 1.000 1.000 1.000 1.000 1.000 1.000 1.000 1.000 1.000 1.000 1.000 1.000 1.000 1.000 1.000 1.000 1.000 1.000 1.000 1.000 1.000 1.000 0.997 0.983 0.969 0.955 0.941 0.927 0.913 0.899 0.885 0.871 0.857 0.843 0.829 0.815 0.801 0.787 0.772 0.758 0.744 0.730 0.716 0.702 0.688 0.674 0.660 0.646 0.632 0.618 0.604 0.590 0.576 0.562 0.548 0.534 0.520 0.506 0.492 0.478 0.463 0.449 0.435 0.421 0.407 0.393 0.379 0.365 0.351 0.337 0.323 0.309 0.295 0.281 0.267 0.253 0.239 0.225 0.211 0.197 0.183 0.169 0.154 0.140 0.126 0.112 0.098 0.084 0.070 0.056 0.042 0.028 0.014 0.000"/></feComponentTransfer></filter><filter id="sh4" x="0" y="0" width="200" height="200.2" filterUnits="userSpaceOnUse" color-interpolation-filters="sRGB">
<feTurbulence type="fractalNoise" baseFrequency="0.13 0.1" numOctaves="2" seed="39"/>
<feColorMatrix type="matrix" values="1.75 0 0 0 -0.335  1.75 0 0 0 -0.335  1.75 0 0 0 -0.335  0 0 0 0 1"/>
<feComponentTransfer><feFuncR type="table" tableValues="0 0 1 1 0.5"/><feFuncG type="table" tableValues="0 0 1 0 0"/>
<feFuncB type="table" tableValues="0.3 1 1 0 0"/></feComponentTransfer></filter><mask id="mk4" maskUnits="userSpaceOnUse" x="0" y="0" width="200" height="200.2"><g filter="url(#mkb)"><ellipse cx="60" cy="112" rx="52" ry="42" fill="#fff" fill-opacity="0.8"/><ellipse cx="150" cy="112" rx="32" ry="28" fill="#fff" fill-opacity="0.75"/><ellipse cx="100" cy="40" rx="70" ry="30" fill="#fff" fill-opacity="0.2"/><ellipse cx="100" cy="180" rx="80" ry="20" fill="#fff" fill-opacity="0.2"/></g></mask><linearGradient id="gbt" x1="0" x2="1" y1="0" y2="0">
<stop offset="0" stop-color="#900090"/><stop offset="0.0769" stop-color="#f000f0"/>
<stop offset="0.0770" stop-color="#ffffff"/><stop offset="0.1538" stop-color="#000000"/>
<stop offset="0.18" stop-color="#600000"/><stop offset="0.25" stop-color="#ff0000"/>
<stop offset="0.31" stop-color="#ff8000"/><stop offset="0.385" stop-color="#ffff00"/>
<stop offset="0.47" stop-color="#00ff00"/><stop offset="0.54" stop-color="#00a040"/>
<stop offset="0.615" stop-color="#0000ff"/><stop offset="0.72" stop-color="#00ffff"/>
<stop offset="0.7201" stop-color="#ffffff"/><stop offset="1" stop-color="#000000"/></linearGradient><linearGradient id="gsei" x1="0" x2="1" y1="0" y2="0">
<stop offset="0" stop-color="#00004c"/><stop offset="0.25" stop-color="#0000ff"/><stop offset="0.5" stop-color="#ffffff"/>
<stop offset="0.75" stop-color="#ff0000"/><stop offset="1" stop-color="#800000"/></linearGradient></defs>
<rect width="1168" height="2158" fill="#fff"/>
<text x="281.0" y="25.2" font-size="23" textLength="607.0" lengthAdjust="spacingAndGlyphs" >Estimated Max Wind Speed for 03B at 20251028 0230UTC</text>
<text x="132.0" y="102.8" font-size="15.8" text-anchor="middle" textLength="54.8" lengthAdjust="spacingAndGlyphs" >IR from</text>
<text x="132.0" y="120.2" font-size="15.8" text-anchor="middle" textLength="75.4" lengthAdjust="spacingAndGlyphs" >20251028</text>
<text x="132.0" y="137.0" font-size="15.8" text-anchor="middle" textLength="88.7" lengthAdjust="spacingAndGlyphs" >at 0230UTC</text>
<g transform="translate(69.5,147.5)"><g clip-path="url(#cpth)"><g filter="url(#thn0)"><rect x="-20" y="-20" width="165" height="165" fill="#484848"/><ellipse cx="108" cy="55" rx="18" ry="34" fill="#3a3a3a" filter="url(#tb4)"/><path d="M55.0,-20.0 L63.5,-18.1 L69.6,-15.6 L73.9,-12.4 L77.1,-8.9 L80.0,-5.0 L82.1,-0.4 L82.9,5.1 L83.1,10.7 L83.3,15.9 L84.0,20.0 L85.5,22.3 L87.2,23.3 L89.1,23.9 L90.8,25.1 L92.0,28.0 L92.7,32.9 L93.1,39.3 L93.2,46.4 L93.2,53.5 L93.0,60.0 L92.8,66.0 L92.4,72.0 L91.9,77.7 L91.1,82.8 L90.0,87.0 L88.4,89.4 L86.2,90.2 L83.9,90.7 L81.7,92.2 L80.0,96.0 L80.3,103.3 L82.4,113.2 L83.9,123.9 L82.6,133.5 L76.0,140.0 L61.2,145.4 L39.6,150.8 L15.9,153.6 L-5.5,150.9 L-20.0,140.0 L-27.3,115.7 L-30.5,79.8 L-30.0,40.2 L-26.3,4.3 L-20.0,-20.0 L-9.0,-30.5 L7.0,-32.2 L25.0,-28.8 L42.0,-23.5Z" fill="#9b9b9b" filter="url(#tb3)"/><ellipse cx="78.0" cy="28.0" rx="12" ry="2.0" fill="#787878" filter="url(#tb2)" transform="rotate(15 78.0 28.0)"/><ellipse cx="73.2" cy="35.5" rx="12" ry="2.0" fill="#787878" filter="url(#tb2)" transform="rotate(15 73.2 35.5)"/><ellipse cx="74.4" cy="43.0" rx="12" ry="2.0" fill="#787878" filter="url(#tb2)" transform="rotate(15 74.4 43.0)"/><ellipse cx="81.6" cy="50.5" rx="12" ry="2.0" fill="#787878" filter="url(#tb2)" transform="rotate(15 81.6 50.5)"/><ellipse cx="76.8" cy="58.0" rx="12" ry="2.0" fill="#787878" filter="url(#tb2)" transform="rotate(15 76.8 58.0)"/><ellipse cx="78.0" cy="65.5" rx="12" ry="2.0" fill="#787878" filter="url(#tb2)" transform="rotate(15 78.0 65.5)"/><ellipse cx="85.2" cy="73.0" rx="12" ry="2.0" fill="#787878" filter="url(#tb2)" transform="rotate(15 85.2 73.0)"/><ellipse cx="80.4" cy="80.5" rx="12" ry="2.0" fill="#787878" filter="url(#tb2)" transform="rotate(15 80.4 80.5)"/><ellipse cx="81.6" cy="88.0" rx="12" ry="2.0" fill="#787878" filter="url(#tb2)" transform="rotate(15 81.6 88.0)"/><path d="M-20.0,-20.0 L-7.9,-30.7 L9.9,-32.9 L29.6,-29.7 L47.6,-24.4 L60.0,-20.0 L65.8,-16.0 L67.4,-10.4 L66.5,-3.9 L64.8,2.5 L64.0,8.0 L63.9,12.3 L63.3,16.0 L62.7,19.4 L62.1,23.0 L62.0,27.0 L62.4,31.5 L63.0,36.1 L63.9,41.0 L64.9,46.3 L66.0,52.0 L67.4,58.6 L69.0,66.1 L70.7,73.7 L72.1,80.8 L73.0,86.8 L73.1,91.1 L72.7,94.0 L71.9,96.6 L71.3,99.6 L71.0,104.0 L72.7,110.6 L76.1,118.8 L78.8,127.3 L78.6,134.8 L73.0,140.0 L59.0,144.9 L38.2,150.3 L15.1,153.2 L-5.8,150.8 L-20.0,140.0 L-27.2,115.7 L-30.5,79.8 L-30.2,40.2 L-26.6,4.3Z" fill="#ececec" filter="url(#tb3)"/><ellipse cx="30" cy="75" rx="30" ry="35" fill="#f0f0f0" filter="url(#tb8)"/><ellipse cx="8" cy="10" rx="20" ry="15" fill="#d2d2d2" filter="url(#tb5)"/><ellipse cx="60" cy="8" rx="14" ry="8" fill="#e8e8e8" filter="url(#tb2)"/><ellipse cx="84" cy="8" rx="10" ry="7" fill="#d7d7d7" filter="url(#tb2)"/><ellipse cx="104" cy="10" rx="6" ry="10" fill="#cdcdcd" filter="url(#tb2)"/><ellipse cx="118" cy="8" rx="6" ry="8" fill="#d7d7d7" filter="url(#tb2)"/><ellipse cx="95" cy="18" rx="4" ry="7" fill="#aaaaaa" filter="url(#tb2)"/><path d="M73.0,100.0 L75.5,95.7 L78.6,92.8 L82.3,90.8 L86.2,89.4 L90.0,88.0 L93.6,86.9 L97.3,86.2 L101.1,85.9 L105.3,85.6 L110.0,85.0 L115.8,83.1 L122.7,80.0 L129.7,77.4 L135.8,76.9 L140.0,80.0 L143.0,88.8 L145.5,102.2 L146.5,117.2 L145.0,130.8 L140.0,140.0 L129.3,144.5 L113.5,146.2 L96.1,145.8 L80.4,143.5 L70.0,140.0 L65.7,134.1 L65.3,125.5 L67.3,115.9 L70.3,106.8Z" fill="#b4b4b4" filter="url(#tb3)"/><ellipse cx="95" cy="110" rx="14" ry="8" fill="#c8c8c8" filter="url(#tb3)"/><ellipse cx="118" cy="100" rx="8" ry="10" fill="#969696" filter="url(#tb3)"/><ellipse cx="112" cy="120" rx="10" ry="5" fill="#cdcdcd" filter="url(#tb2)"/></g></g></g>
<rect x="69.50" y="147.50" width="125.00" height="124.00" fill="none" stroke="#000" stroke-width="1.2" />
<text x="275.0" y="102.8" font-size="15.8" text-anchor="middle" textLength="54.8" lengthAdjust="spacingAndGlyphs" >IR from</text>
<text x="275.0" y="120.2" font-size="15.8" text-anchor="middle" textLength="75.4" lengthAdjust="spacingAndGlyphs" >20251027</text>
<text x="275.0" y="137.0" font-size="15.8" text-anchor="middle" textLength="88.7" lengthAdjust="spacingAndGlyphs" >at 2330UTC</text>
<g transform="translate(212.5,147.5)"><g clip-path="url(#cpth)"><g filter="url(#thn1)"><rect x="-20" y="-20" width="165" height="165" fill="#424242"/><ellipse cx="105" cy="45" rx="22" ry="40" fill="#373737" filter="url(#tb5)"/><path d="M10.0,-20.0 L16.1,-17.3 L22.4,-13.4 L28.6,-9.0 L34.5,-4.3 L40.0,0.0 L45.0,3.9 L49.6,7.8 L53.9,11.6 L58.0,15.7 L62.0,20.0 L66.0,24.7 L70.1,29.6 L73.9,34.8 L77.2,39.9 L80.0,45.0 L82.1,50.0 L83.6,55.0 L84.8,60.0 L85.5,65.0 L86.0,70.0 L86.3,75.1 L86.3,80.2 L85.9,85.4 L85.2,90.3 L84.0,95.0 L82.2,99.2 L79.7,103.1 L76.9,106.9 L74.2,110.8 L72.0,115.0 L71.5,120.1 L72.6,125.8 L73.2,131.6 L71.3,136.5 L65.0,140.0 L51.6,144.2 L32.5,149.5 L11.6,152.7 L-7.2,150.6 L-20.0,140.0 L-25.9,115.7 L-27.6,79.8 L-26.2,40.2 L-23.3,4.3 L-20.0,-20.0 L-15.9,-30.6 L-10.2,-32.5 L-3.4,-29.1 L3.5,-23.8Z" fill="#787878" filter="url(#tb3)"/><path d="M-20.0,-20.0 L-15.8,-30.6 L-9.7,-32.7 L-2.7,-29.5 L4.2,-24.2 L10.0,-20.0 L14.6,-16.4 L18.7,-11.1 L22.5,-5.1 L26.2,0.6 L30.0,5.0 L34.2,7.9 L38.5,9.8 L42.7,11.4 L46.6,12.9 L50.0,15.0 L52.6,17.6 L54.7,20.4 L56.5,23.4 L58.2,26.6 L60.0,30.0 L62.1,33.7 L64.4,37.6 L66.6,41.8 L68.5,45.9 L70.0,50.0 L70.9,54.0 L71.5,58.0 L71.7,62.1 L71.9,66.1 L72.0,70.0 L72.2,73.9 L72.5,77.8 L72.6,81.7 L72.5,85.4 L72.0,89.0 L71.1,92.3 L69.8,95.5 L68.4,98.5 L66.7,101.7 L65.0,105.0 L63.1,108.7 L61.0,112.5 L58.8,116.5 L56.7,120.3 L55.0,124.0 L54.7,127.6 L55.8,131.4 L56.4,134.9 L55.1,137.9 L50.0,140.0 L39.0,143.6 L23.3,148.8 L6.1,152.3 L-9.4,150.5 L-20.0,140.0 L-25.0,115.7 L-26.5,79.8 L-25.5,40.2 L-23.0,4.3Z" fill="#eeeeee" filter="url(#tb3)"/><ellipse cx="25" cy="80" rx="28" ry="35" fill="#eeeeee" filter="url(#tb8)"/><ellipse cx="20" cy="8" rx="25" ry="10" fill="#c3c3c3" filter="url(#tb4)"/><ellipse cx="81" cy="8" rx="7" ry="6" fill="#d7d7d7" filter="url(#tb2)"/><ellipse cx="104" cy="12" rx="3" ry="10" fill="#aaaaaa" filter="url(#tb2)"/><ellipse cx="115" cy="8" rx="5" ry="6" fill="#787878" filter="url(#tb2)"/><ellipse cx="108" cy="105" rx="16" ry="14" fill="#a5a5a5" filter="url(#tb4)"/><ellipse cx="115" cy="95" rx="8" ry="5" fill="#c8c8c8" filter="url(#tb2)"/><ellipse cx="100" cy="118" rx="10" ry="5" fill="#d2d2d2" filter="url(#tb2)"/><ellipse cx="120" cy="60" rx="5" ry="12" fill="#5f5f5f" filter="url(#tb3)"/></g></g></g>
<rect x="212.50" y="147.50" width="125.00" height="124.00" fill="none" stroke="#000" stroke-width="1.2" />
<text x="417.0" y="102.8" font-size="15.8" text-anchor="middle" textLength="54.8" lengthAdjust="spacingAndGlyphs" >IR from</text>
<text x="417.0" y="120.2" font-size="15.8" text-anchor="middle" textLength="75.4" lengthAdjust="spacingAndGlyphs" >20251027</text>
<text x="417.0" y="137.0" font-size="15.8" text-anchor="middle" textLength="88.7" lengthAdjust="spacingAndGlyphs" >at 2030UTC</text>
<g transform="translate(354.5,147.5)"><g clip-path="url(#cpth)"><g filter="url(#thn2)"><rect x="-20" y="-20" width="165" height="165" fill="#464646"/><ellipse cx="85" cy="50" rx="20" ry="45" fill="#3c3c3c" filter="url(#tb6)"/><ellipse cx="115" cy="35" rx="10" ry="25" fill="#646464" filter="url(#tb5)"/><path d="M30.0,-20.0 L36.8,-16.6 L42.5,-11.8 L47.3,-6.2 L51.4,-0.4 L55.0,5.0 L58.0,10.1 L60.3,15.2 L62.1,20.4 L63.6,25.3 L65.0,30.0 L66.4,34.2 L67.6,38.1 L68.6,41.9 L69.4,45.8 L70.0,50.0 L70.4,54.7 L70.6,59.6 L70.5,64.8 L70.3,69.9 L70.0,75.0 L69.5,79.8 L68.8,84.3 L67.9,88.9 L67.0,94.0 L66.0,100.0 L66.1,107.7 L67.3,116.8 L67.8,126.2 L66.0,134.3 L60.0,140.0 L47.5,145.1 L29.5,150.6 L9.8,153.4 L-7.9,150.9 L-20.0,140.0 L-25.9,115.7 L-28.2,79.8 L-27.4,40.2 L-24.5,4.3 L-20.0,-20.0 L-12.8,-30.6 L-2.4,-32.7 L9.4,-29.5 L20.8,-24.2Z" fill="#8c8c8c" filter="url(#tb4)"/><path d="M-20.0,-20.0 L-11.8,-30.7 L0.3,-33.0 L13.7,-29.8 L26.1,-24.5 L35.0,-20.0 L39.5,-15.8 L41.4,-9.7 L41.8,-2.7 L41.9,4.2 L43.0,10.0 L45.3,14.7 L47.8,19.0 L50.5,22.8 L53.0,26.5 L55.0,30.0 L56.5,33.3 L57.6,36.4 L58.6,39.2 L59.3,42.1 L60.0,45.0 L60.7,47.9 L61.2,50.8 L61.6,53.6 L61.9,56.7 L62.0,60.0 L61.9,63.7 L61.6,67.6 L61.2,71.8 L60.7,75.9 L60.0,80.0 L59.3,83.9 L58.5,87.8 L57.5,91.7 L56.4,95.7 L55.0,100.0 L53.2,104.7 L51.1,109.7 L48.9,114.8 L46.8,119.6 L45.0,124.0 L44.6,128.0 L45.3,131.7 L45.7,135.1 L44.4,138.0 L40.0,140.0 L30.6,143.6 L17.1,148.8 L2.3,152.3 L-11.0,150.5 L-20.0,140.0 L-24.7,115.7 L-27.0,79.8 L-26.8,40.2 L-24.5,4.3Z" fill="#ececec" filter="url(#tb3)"/><ellipse cx="25" cy="75" rx="25" ry="30" fill="#ececec" filter="url(#tb8)"/><ellipse cx="35" cy="5" rx="25" ry="8" fill="#bebebe" filter="url(#tb4)"/><ellipse cx="62" cy="16" rx="2.5" ry="2.5" fill="#e6e6e6" filter="url(#tb0.5)"/><ellipse cx="100" cy="100" rx="20" ry="18" fill="#555555" filter="url(#tb5)"/><ellipse cx="110" cy="110" rx="8" ry="6" fill="#828282" filter="url(#tb2)"/><ellipse cx="100" cy="65" rx="6" ry="4" fill="#828282" filter="url(#tb2)"/></g></g></g>
<rect x="354.50" y="147.50" width="125.00" height="124.00" fill="none" stroke="#000" stroke-width="1.2" />
<text x="559.0" y="102.8" font-size="15.8" text-anchor="middle" textLength="54.8" lengthAdjust="spacingAndGlyphs" >IR from</text>
<text x="559.0" y="120.2" font-size="15.8" text-anchor="middle" textLength="75.4" lengthAdjust="spacingAndGlyphs" >20251027</text>
<text x="559.0" y="137.0" font-size="15.8" text-anchor="middle" textLength="88.7" lengthAdjust="spacingAndGlyphs" >at 1730UTC</text>
<g transform="translate(496.5,147.5)"><g clip-path="url(#cpth)"><g filter="url(#thn3)"><rect x="-20" y="-20" width="165" height="165" fill="#505050"/><path d="M60.0,-20.0 L71.8,-25.8 L89.7,-29.0 L109.7,-29.3 L127.8,-26.4 L140.0,-20.0 L145.6,-7.6 L147.2,10.7 L146.0,31.0 L143.2,49.3 L140.0,62.0 L135.9,67.8 L130.2,69.2 L123.4,68.0 L116.5,66.0 L110.0,65.0 L103.8,64.9 L97.3,64.7 L90.9,64.1 L85.0,63.3 L80.0,62.0 L75.9,61.1 L72.4,60.6 L69.6,59.4 L67.1,56.3 L65.0,50.0 L62.0,38.6 L58.2,22.8 L55.4,5.7 L55.4,-9.6Z" fill="#3a3a3a" filter="url(#tb5)"/><path d="M72.0,62.0 L75.7,56.7 L80.8,55.7 L86.7,57.2 L93.2,59.2 L100.0,60.0 L107.9,58.3 L117.1,55.2 L126.3,52.8 L134.4,53.0 L140.0,58.0 L143.7,70.3 L146.2,88.7 L147.0,109.1 L145.1,127.5 L140.0,140.0 L129.3,146.5 L113.6,149.6 L96.2,149.6 L80.5,146.3 L70.0,140.0 L65.4,128.2 L64.4,110.8 L65.9,91.5 L68.8,74.0Z" fill="#878787" filter="url(#tb4)"/><ellipse cx="110" cy="112" rx="10" ry="6" fill="#505050" filter="url(#tb3)"/><ellipse cx="96" cy="92" rx="6" ry="5" fill="#5f5f5f" filter="url(#tb3)"/><ellipse cx="120" cy="80" rx="6" ry="8" fill="#a0a0a0" filter="url(#tb3)"/><ellipse cx="85" cy="80" rx="10" ry="8" fill="#969696" filter="url(#tb3)"/><ellipse cx="20" cy="75" rx="32" ry="70" fill="#d2d2d2" filter="url(#tb6)"/><ellipse cx="30" cy="15" rx="35" ry="18" fill="#b2b2b2" filter="url(#tb5)"/><ellipse cx="40" cy="78" rx="24" ry="42" fill="#eaeaea" filter="url(#tb4)"/><ellipse cx="42" cy="65" rx="16" ry="28" fill="#f4f4f4" filter="url(#tb4)"/><ellipse cx="12" cy="10" rx="10" ry="8" fill="#cdcdcd" filter="url(#tb3)"/><ellipse cx="50" cy="5" rx="10" ry="5" fill="#c8c8c8" filter="url(#tb3)"/><ellipse cx="110" cy="10" rx="8" ry="6" fill="#969696" filter="url(#tb3)"/></g></g></g>
<rect x="496.50" y="147.50" width="125.00" height="124.00" fill="none" stroke="#000" stroke-width="1.2" />
<text x="702.0" y="102.8" font-size="15.8" text-anchor="middle" textLength="54.8" lengthAdjust="spacingAndGlyphs" >IR from</text>
<text x="702.0" y="120.2" font-size="15.8" text-anchor="middle" textLength="75.4" lengthAdjust="spacingAndGlyphs" >20251027</text>
<text x="702.0" y="137.0" font-size="15.8" text-anchor="middle" textLength="88.7" lengthAdjust="spacingAndGlyphs" >at 1430UTC</text>
<g transform="translate(639.5,147.5)"><g clip-path="url(#cpth)"><g filter="url(#thn4)"><rect x="-20" y="-20" width="165" height="165" fill="#464646"/><path d="M60.0,-20.0 L71.8,-25.8 L89.7,-29.5 L109.7,-30.3 L127.8,-27.4 L140.0,-20.0 L145.8,-4.8 L147.7,17.7 L146.7,42.5 L143.8,64.9 L140.0,80.0 L134.3,86.2 L126.2,86.8 L116.8,84.1 L107.7,80.4 L100.0,78.0 L93.8,77.1 L88.2,76.0 L83.2,74.7 L78.8,72.8 L75.0,70.0 L72.0,66.7 L69.7,63.1 L67.9,58.7 L66.4,52.8 L65.0,45.0 L62.3,33.5 L58.6,18.8 L55.6,3.2 L55.5,-10.5Z" fill="#3a3a3a" filter="url(#tb5)"/><path d="M-20.0,-20.0 L-6.8,-24.8 L12.6,-26.6 L34.1,-26.0 L53.6,-23.6 L67.0,-20.0 L73.1,-14.3 L74.5,-6.0 L73.3,3.4 L71.1,12.6 L70.0,20.0 L70.2,25.7 L70.4,30.6 L70.2,34.7 L69.2,38.2 L67.0,41.0 L63.7,43.0 L59.5,44.0 L54.3,44.5 L47.9,44.7 L40.0,45.0 L29.2,46.3 L15.5,48.4 L1.3,49.9 L-11.3,49.2 L-20.0,45.0 L-25.2,35.1 L-28.5,20.6 L-29.1,4.4 L-26.5,-10.1Z" fill="#a5a5a5" filter="url(#tb4)"/><ellipse cx="30" cy="20" rx="20" ry="10" fill="#bebebe" filter="url(#tb4)"/><ellipse cx="60" cy="12" rx="10" ry="8" fill="#c8c8c8" filter="url(#tb3)"/><ellipse cx="105" cy="8" rx="10" ry="6" fill="#b4b4b4" filter="url(#tb3)"/><path d="M0.0,45.0 L4.0,43.9 L8.0,42.3 L12.0,40.5 L16.0,38.9 L20.0,38.0 L24.1,37.8 L28.2,38.0 L32.4,38.6 L36.3,39.3 L40.0,40.0 L43.4,40.7 L46.6,41.5 L49.6,42.5 L52.4,43.6 L55.0,45.0 L57.4,46.5 L59.5,48.2 L61.5,50.0 L63.3,52.3 L65.0,55.0 L66.7,58.4 L68.2,62.3 L69.6,66.5 L70.9,70.8 L72.0,75.0 L72.9,78.9 L73.6,82.6 L74.1,86.4 L74.6,90.4 L75.0,95.0 L75.3,100.4 L75.6,106.6 L75.8,112.9 L75.9,118.9 L76.0,124.0 L77.6,128.3 L80.7,132.1 L83.0,135.4 L82.2,138.0 L76.0,140.0 L61.4,142.5 L39.9,145.7 L16.1,147.6 L-5.4,146.3 L-20.0,140.0 L-26.5,125.6 L-27.9,104.3 L-26.0,80.7 L-22.8,59.4 L-20.0,45.0 L-17.3,39.0 L-13.4,38.5 L-9.0,40.9 L-4.3,43.9Z" fill="#e8e8e8" filter="url(#tb3)"/><ellipse cx="30" cy="90" rx="28" ry="30" fill="#f0f0f0" filter="url(#tb8)"/><ellipse cx="100" cy="105" rx="18" ry="18" fill="#737373" filter="url(#tb5)"/><ellipse cx="110" cy="90" rx="6" ry="4" fill="#969696" filter="url(#tb2)"/></g></g></g>
<rect x="639.50" y="147.50" width="125.00" height="124.00" fill="none" stroke="#000" stroke-width="1.2" />
<text x="934.2" y="50.1" font-size="16.5" text-anchor="middle" textLength="170.7" lengthAdjust="spacingAndGlyphs" >Estimated MSW, knots</text>
<path d="M802,359.1 L802,354.9 L826,354.9 L826,315.9 L829,315.9 L829,276.9 L833,276.9 L833,236.1 L837,236.1 L837,183.9 L843,183.9 L843,97.1 L847,97.1 L847,93.1 L851,93.1 L851,73.1 L855,73.1 L855,112.2 L859,112.2 L859,142.0 L864,142.0 L864,152.1 L869,152.1 L869,234.9 L877,234.9 L877,294.2 L885,294.2 L885,320.9 L894,320.9 L894,334.1 L898,334.1 L898,357.6 L1075,357.6 L1075,359.1 Z" fill="#8b008b"/>
<line x1="855.00" y1="59.40" x2="855.00" y2="359.10" stroke="#aaaaaa" stroke-width="5.5" stroke-dasharray="4.7,10.2" stroke-dashoffset="0.5"/>
<line x1="854.80" y1="59.40" x2="854.80" y2="359.10" stroke="#000" stroke-width="2.2" />
<rect x="784.50" y="59.40" width="300.10" height="299.70" fill="none" stroke="#000" stroke-width="1.2" />
<line x1="784.50" y1="359.10" x2="789.50" y2="359.10" stroke="#000" stroke-width="1.0" />
<line x1="1079.60" y1="359.10" x2="1084.60" y2="359.10" stroke="#000" stroke-width="1.0" />
<text x="1090.4" y="364.5" font-size="13.8" textLength="19.6" lengthAdjust="spacingAndGlyphs" >0.0</text>
<line x1="784.50" y1="301.96" x2="789.50" y2="301.96" stroke="#000" stroke-width="1.0" />
<line x1="1079.60" y1="301.96" x2="1084.60" y2="301.96" stroke="#000" stroke-width="1.0" />
<text x="1090.4" y="307.4" font-size="13.8" textLength="19.6" lengthAdjust="spacingAndGlyphs" >0.2</text>
<line x1="784.50" y1="244.82" x2="789.50" y2="244.82" stroke="#000" stroke-width="1.0" />
<line x1="1079.60" y1="244.82" x2="1084.60" y2="244.82" stroke="#000" stroke-width="1.0" />
<text x="1090.4" y="250.2" font-size="13.8" textLength="19.6" lengthAdjust="spacingAndGlyphs" >0.4</text>
<line x1="784.50" y1="187.68" x2="789.50" y2="187.68" stroke="#000" stroke-width="1.0" />
<line x1="1079.60" y1="187.68" x2="1084.60" y2="187.68" stroke="#000" stroke-width="1.0" />
<text x="1090.4" y="193.1" font-size="13.8" textLength="19.6" lengthAdjust="spacingAndGlyphs" >0.6</text>
<line x1="784.50" y1="130.54" x2="789.50" y2="130.54" stroke="#000" stroke-width="1.0" />
<line x1="1079.60" y1="130.54" x2="1084.60" y2="130.54" stroke="#000" stroke-width="1.0" />
<text x="1090.4" y="135.9" font-size="13.8" textLength="19.6" lengthAdjust="spacingAndGlyphs" >0.8</text>
<line x1="784.50" y1="73.40" x2="789.50" y2="73.40" stroke="#000" stroke-width="1.0" />
<line x1="1079.60" y1="73.40" x2="1084.60" y2="73.40" stroke="#000" stroke-width="1.0" />
<text x="1090.4" y="78.8" font-size="13.8" textLength="19.6" lengthAdjust="spacingAndGlyphs" >1.0</text>
<line x1="819.60" y1="359.10" x2="819.60" y2="363.60" stroke="#000" stroke-width="1.0" />
<text x="819.6" y="380.8" font-size="13.8" text-anchor="middle" textLength="16.4" lengthAdjust="spacingAndGlyphs" >25</text>
<line x1="863.80" y1="359.10" x2="863.80" y2="363.60" stroke="#000" stroke-width="1.0" />
<text x="863.8" y="380.8" font-size="13.8" text-anchor="middle" textLength="16.4" lengthAdjust="spacingAndGlyphs" >50</text>
<line x1="908.00" y1="359.10" x2="908.00" y2="363.60" stroke="#000" stroke-width="1.0" />
<text x="908.0" y="380.8" font-size="13.8" text-anchor="middle" textLength="16.4" lengthAdjust="spacingAndGlyphs" >75</text>
<line x1="952.20" y1="359.10" x2="952.20" y2="363.60" stroke="#000" stroke-width="1.0" />
<text x="952.2" y="380.8" font-size="13.8" text-anchor="middle" textLength="24.6" lengthAdjust="spacingAndGlyphs" >100</text>
<line x1="996.40" y1="359.10" x2="996.40" y2="363.60" stroke="#000" stroke-width="1.0" />
<text x="996.4" y="380.8" font-size="13.8" text-anchor="middle" textLength="24.6" lengthAdjust="spacingAndGlyphs" >125</text>
<line x1="1040.60" y1="359.10" x2="1040.60" y2="363.60" stroke="#000" stroke-width="1.0" />
<text x="1040.6" y="380.8" font-size="13.8" text-anchor="middle" textLength="24.6" lengthAdjust="spacingAndGlyphs" >150</text>
<text x="1127.2" y="210.9" font-size="15.2" text-anchor="middle" textLength="90.0" lengthAdjust="spacingAndGlyphs" transform="rotate(-90 1127.2 210.9)" >Relative Prob</text>
<line x1="762.00" y1="395.80" x2="793.70" y2="395.80" stroke="#000" stroke-width="2.4" />
<text x="806.4" y="401.8" font-size="16.5" textLength="128.9" lengthAdjust="spacingAndGlyphs" >D-PRINT average</text>
<line x1="967.00" y1="395.80" x2="996.40" y2="395.80" stroke="#aaaaaa" stroke-width="5.5" stroke-dasharray="4.7,10.2"/>
<text x="1009.0" y="401.8" font-size="16.5" textLength="93.5" lengthAdjust="spacingAndGlyphs" >JTWC official</text>
<text x="250.4" y="441.8" font-size="20.5" textLength="667.1" lengthAdjust="spacingAndGlyphs" >D-PRINT SHAP Values for 2025_03B: updated at 20251028 0230 UTC</text>
<rect x="82.70" y="699.80" width="1005.90" height="7.00" fill="#e3e3e3" />
<polyline points="376.8,713.3 386.8,713.8 396.8,713.7 406.8,713.2 416.8,713.4 426.8,713.3 436.8,713.3 446.8,713.4 456.8,712.8 466.8,712.7 476.8,713.2 486.8,712.9 496.8,713.1 506.8,712.5 516.8,712.7 526.8,712.9 536.8,712.5 546.8,712.9 556.8,712.8 566.8,712.1 576.8,712.1 586.8,712.4 596.8,712.6 606.8,712.2 616.8,712.0 626.8,712.1 636.8,711.7 646.8,711.8 656.8,711.9 666.8,711.9 676.8,711.6 686.8,711.6 696.8,711.5 706.8,711.6 716.8,711.4 726.8,711.2 736.8,711.7 746.8,711.5 756.8,711.5 766.8,711.1 776.8,711.6 786.8,711.4 796.8,710.9 806.8,710.9 816.8,711.2 826.8,711.1 836.8,711.2 846.8,710.8 856.8,711.0 866.8,710.8 876.8,710.5 886.8,710.6 896.8,710.8 906.8,710.7 916.8,710.4 926.8,710.4 936.8,710.0 946.8,710.1 956.8,710.4 966.8,710.1 976.8,709.8 986.8,710.0 996.8,710.1 1006.8,710.0 1016.8,709.7 1026.8,709.7 1036.8,709.7 1046.8,709.8 1056.8,709.6 1066.8,709.5 1076.8,709.5 1086.8,709.1 1088.0,709.1" fill="none" stroke="#3cb04a" stroke-width="2.6" stroke-linejoin="round" />
<polyline points="376.8,711.9 386.8,711.9 396.8,711.3 406.8,711.3 416.8,711.7 426.8,711.7 436.8,711.6 446.8,711.4 456.8,711.6 466.8,711.5 476.8,711.5 486.8,711.2 496.8,711.4 506.8,711.4 516.8,711.5 526.8,711.7 536.8,711.6 546.8,711.4 556.8,711.3 566.8,711.2 576.8,711.0 586.8,711.0 596.8,711.3 606.8,711.2 616.8,711.2 626.8,711.5 636.8,711.2 646.8,711.3 656.8,711.0 666.8,710.9 676.8,711.1 686.8,710.9 696.8,711.2 706.8,711.4 716.8,711.2 726.8,710.9 736.8,711.3 746.8,711.3 756.8,711.2 766.8,711.3 776.8,711.2 786.8,711.2 796.8,710.9 806.8,711.3 816.8,711.3 826.8,710.8 836.8,711.1 846.8,711.1 856.8,710.9 866.8,710.9 876.8,710.9 886.8,711.1 896.8,710.9 906.8,711.1 916.8,710.8 926.8,711.1 936.8,711.1 946.8,710.8 956.8,710.8 966.8,711.0 976.8,710.9 986.8,710.7 996.8,710.6 1006.8,710.6 1016.8,710.8 1026.8,710.5 1036.8,710.9 1046.8,710.5 1056.8,710.9 1066.8,710.5 1076.8,710.9 1086.8,710.7 1088.0,710.6" fill="none" stroke="#e83ee8" stroke-width="2.6" stroke-linejoin="round" />
<polyline points="376.8,702.8 386.8,703.0 396.8,702.8 406.8,702.9 416.8,702.9 426.8,702.5 436.8,702.4 446.8,702.8 456.8,702.4 466.8,702.4 476.8,702.8 486.8,702.4 496.8,702.6 506.8,702.3 516.8,702.4 526.8,702.0 536.8,702.3 546.8,702.4 556.8,702.1 566.8,702.2 576.8,702.1 586.8,701.7 596.8,702.0 606.8,701.9 616.8,701.7 626.8,701.5 636.8,701.9 646.8,701.6 656.8,701.7 666.8,701.8 676.8,701.6 686.8,701.7 696.8,701.3 706.8,701.5 716.8,701.2 726.8,701.5 736.8,701.4 746.8,700.9 756.8,700.9 766.8,700.9 776.8,701.3 786.8,700.9 796.8,700.9 806.8,700.7 816.8,700.8 826.8,700.7 836.8,700.6 846.8,700.7 856.8,700.6 866.8,700.8 876.8,700.6 886.8,700.7 896.8,700.6 906.8,700.6 916.8,700.4 926.8,700.0 936.8,700.4 946.8,700.4 956.8,700.3 966.8,700.1 976.8,700.1 986.8,699.7 996.8,700.1 1006.8,699.9 1016.8,699.6 1026.8,699.4 1036.8,699.9 1046.8,699.9 1056.8,699.3 1066.8,699.7 1076.8,699.4 1086.8,699.2 1088.0,699.3" fill="none" stroke="#44e4ec" stroke-width="2.8" stroke-linejoin="round" />
<polyline points="376.8,699.4 386.8,699.4 396.8,699.7 406.8,699.6 416.8,699.6 426.8,699.9 436.8,700.2 446.8,698.9 456.8,699.0 466.8,698.7 476.8,699.0 486.8,698.9 496.8,698.9 506.8,698.9 516.8,699.0 526.8,699.5 536.8,699.5 546.8,699.6 556.8,699.6 566.8,700.6 576.8,700.8 586.8,701.0 596.8,701.1 606.8,701.3 616.8,701.3 626.8,700.9 636.8,701.3 646.8,701.4 656.8,701.4 666.8,701.2 676.8,701.5 686.8,701.3 696.8,701.9 706.8,701.9 716.8,701.8 726.8,701.7 736.8,702.1 746.8,702.0 756.8,702.2 766.8,702.3 776.8,702.1 786.8,702.1 796.8,702.3 806.8,702.3 816.8,702.2 826.8,702.3 836.8,702.7 846.8,702.3 856.8,702.4 866.8,702.8 876.8,702.6 886.8,702.8 896.8,702.9 906.8,702.9 916.8,703.3 926.8,702.9 936.8,703.1 946.8,703.0 956.8,703.4 966.8,703.2 976.8,703.3 986.8,703.6 996.8,703.4 1006.8,703.6 1016.8,703.9 1026.8,703.5 1036.8,703.5 1046.8,703.7 1056.8,704.1 1066.8,704.0 1076.8,703.9 1086.8,704.0 1088.0,703.9" fill="none" stroke="#f08532" stroke-width="2.8" stroke-linejoin="round" />
<polyline points="105.5,778.3 222.1,778.3 455.3,753.2 571.9,753.2 688.5,740.4 1088.6,740.4" fill="none" stroke="#000" stroke-width="3.0" stroke-linejoin="round" />
<polyline points="376.8,746.4 387.0,744.9 397.7,752.6 407.0,749.5 416.2,744.0 426.4,738.7 436.3,748.6 446.4,743.0 455.7,744.9 465.6,743.6 474.8,741.8 484.7,734.7 494.8,735.0 504.1,736.2 513.3,738.1 523.5,730.7 533.4,728.2 543.2,734.4 553.4,735.6 562.7,737.2 571.9,737.8 582.1,737.8 592.0,747.6 601.2,740.2 611.0,742.4 621.2,747.6 630.5,747.6 640.7,750.1 650.5,750.1 659.8,750.1 669.0,745.5 679.2,747.6 689.0,747.6 699.2,750.1 709.1,739.3 718.3,743.0 727.0,736.9 737.4,735.0 747.9,743.2 758.0,740.7 767.5,739.7 776.4,739.7 786.5,743.2 796.0,744.5 806.2,744.5 816.6,742.3 826.1,741.6 834.7,742.9 844.5,734.3 854.6,739.1 864.1,743.8 874.6,739.7 884.7,737.5 894.2,735.0 903.1,732.8 913.2,734.3 922.7,738.1 932.2,741.6 941.7,742.3 951.2,735.9 961.4,736.6 971.8,736.9 980.4,741.6 989.2,736.2 1000.3,731.8 1009.8,724.8 1019.3,721.0 1028.8,718.5 1038.3,723.3 1047.8,725.5 1058.3,724.8 1067.8,717.6 1077.3,719.5 1088.0,727.4" fill="none" stroke="#dc1e48" stroke-width="2.6" stroke-linejoin="round" />
<rect x="82.70" y="453.40" width="1005.90" height="350.00" fill="none" stroke="#000" stroke-width="1.1" />
<line x1="77.10" y1="453.40" x2="82.70" y2="453.40" stroke="#000" stroke-width="1.0" />
<line x1="1088.60" y1="453.40" x2="1094.20" y2="453.40" stroke="#000" stroke-width="1.0" />
<text x="71.9" y="459.3" font-size="16.5" text-anchor="end" >100</text>
<text x="1099.3" y="459.3" font-size="16.5" >160</text>
<line x1="77.90" y1="478.40" x2="82.70" y2="478.40" stroke="#000" stroke-width="1.0" />
<line x1="1088.60" y1="478.40" x2="1093.40" y2="478.40" stroke="#000" stroke-width="1.0" />
<line x1="77.10" y1="503.40" x2="82.70" y2="503.40" stroke="#000" stroke-width="1.0" />
<line x1="1088.60" y1="503.40" x2="1094.20" y2="503.40" stroke="#000" stroke-width="1.0" />
<text x="71.9" y="509.3" font-size="16.5" text-anchor="end" >80</text>
<text x="1099.3" y="509.3" font-size="16.5" >140</text>
<line x1="77.90" y1="528.40" x2="82.70" y2="528.40" stroke="#000" stroke-width="1.0" />
<line x1="1088.60" y1="528.40" x2="1093.40" y2="528.40" stroke="#000" stroke-width="1.0" />
<line x1="77.10" y1="553.40" x2="82.70" y2="553.40" stroke="#000" stroke-width="1.0" />
<line x1="1088.60" y1="553.40" x2="1094.20" y2="553.40" stroke="#000" stroke-width="1.0" />
<text x="71.9" y="559.3" font-size="16.5" text-anchor="end" >60</text>
<text x="1099.3" y="559.3" font-size="16.5" >120</text>
<line x1="77.90" y1="578.40" x2="82.70" y2="578.40" stroke="#000" stroke-width="1.0" />
<line x1="1088.60" y1="578.40" x2="1093.40" y2="578.40" stroke="#000" stroke-width="1.0" />
<line x1="77.10" y1="603.40" x2="82.70" y2="603.40" stroke="#000" stroke-width="1.0" />
<line x1="1088.60" y1="603.40" x2="1094.20" y2="603.40" stroke="#000" stroke-width="1.0" />
<text x="71.9" y="609.3" font-size="16.5" text-anchor="end" >40</text>
<text x="1099.3" y="609.3" font-size="16.5" >100</text>
<line x1="77.90" y1="628.40" x2="82.70" y2="628.40" stroke="#000" stroke-width="1.0" />
<line x1="1088.60" y1="628.40" x2="1093.40" y2="628.40" stroke="#000" stroke-width="1.0" />
<line x1="77.10" y1="653.40" x2="82.70" y2="653.40" stroke="#000" stroke-width="1.0" />
<line x1="1088.60" y1="653.40" x2="1094.20" y2="653.40" stroke="#000" stroke-width="1.0" />
<text x="71.9" y="659.3" font-size="16.5" text-anchor="end" >20</text>
<text x="1099.3" y="659.3" font-size="16.5" >80</text>
<line x1="77.90" y1="678.40" x2="82.70" y2="678.40" stroke="#000" stroke-width="1.0" />
<line x1="1088.60" y1="678.40" x2="1093.40" y2="678.40" stroke="#000" stroke-width="1.0" />
<line x1="77.10" y1="703.40" x2="82.70" y2="703.40" stroke="#000" stroke-width="1.0" />
<line x1="1088.60" y1="703.40" x2="1094.20" y2="703.40" stroke="#000" stroke-width="1.0" />
<text x="71.9" y="709.3" font-size="16.5" text-anchor="end" >0</text>
<text x="1099.3" y="709.3" font-size="16.5" >60</text>
<line x1="77.90" y1="728.40" x2="82.70" y2="728.40" stroke="#000" stroke-width="1.0" />
<line x1="1088.60" y1="728.40" x2="1093.40" y2="728.40" stroke="#000" stroke-width="1.0" />
<line x1="77.10" y1="753.40" x2="82.70" y2="753.40" stroke="#000" stroke-width="1.0" />
<line x1="1088.60" y1="753.40" x2="1094.20" y2="753.40" stroke="#000" stroke-width="1.0" />
<text x="71.9" y="759.3" font-size="16.5" text-anchor="end" >-20</text>
<text x="1099.3" y="759.3" font-size="16.5" >40</text>
<line x1="77.90" y1="778.40" x2="82.70" y2="778.40" stroke="#000" stroke-width="1.0" />
<line x1="1088.60" y1="778.40" x2="1093.40" y2="778.40" stroke="#000" stroke-width="1.0" />
<line x1="77.10" y1="803.40" x2="82.70" y2="803.40" stroke="#000" stroke-width="1.0" />
<line x1="1088.60" y1="803.40" x2="1094.20" y2="803.40" stroke="#000" stroke-width="1.0" />
<text x="71.9" y="809.3" font-size="16.5" text-anchor="end" >-40</text>
<text x="1099.3" y="809.3" font-size="16.5" >20</text>
<line x1="105.50" y1="803.40" x2="105.50" y2="809.00" stroke="#000" stroke-width="1.0" />
<line x1="222.15" y1="803.40" x2="222.15" y2="806.40" stroke="#000" stroke-width="1.0" />
<line x1="338.80" y1="803.40" x2="338.80" y2="806.40" stroke="#000" stroke-width="1.0" />
<line x1="455.45" y1="803.40" x2="455.45" y2="806.40" stroke="#000" stroke-width="1.0" />
<line x1="572.10" y1="803.40" x2="572.10" y2="809.00" stroke="#000" stroke-width="1.0" />
<line x1="688.75" y1="803.40" x2="688.75" y2="806.40" stroke="#000" stroke-width="1.0" />
<line x1="805.40" y1="803.40" x2="805.40" y2="806.40" stroke="#000" stroke-width="1.0" />
<line x1="922.05" y1="803.40" x2="922.05" y2="806.40" stroke="#000" stroke-width="1.0" />
<line x1="1038.70" y1="803.40" x2="1038.70" y2="809.00" stroke="#000" stroke-width="1.0" />
<text x="105.5" y="826.6" font-size="16.5" text-anchor="middle" textLength="44.0" lengthAdjust="spacingAndGlyphs" >10/26</text>
<text x="572.5" y="826.6" font-size="16.5" text-anchor="middle" textLength="44.0" lengthAdjust="spacingAndGlyphs" >10/27</text>
<text x="1039.0" y="826.6" font-size="16.5" text-anchor="middle" textLength="44.0" lengthAdjust="spacingAndGlyphs" >10/28</text>
<text x="584.2" y="846.4" font-size="16.5" text-anchor="middle" textLength="38.5" lengthAdjust="spacingAndGlyphs" >2025</text>
<text x="34.2" y="629.0" font-size="16.5" text-anchor="middle" textLength="132.8" lengthAdjust="spacingAndGlyphs" transform="rotate(-90 34.2 629.0)" >SHAP Value [kts]</text>
<text x="1144.1" y="628.7" font-size="16.5" text-anchor="middle" textLength="282.2" lengthAdjust="spacingAndGlyphs" transform="rotate(-90 1144.1 628.7)" >Working Best Track TC Intensity [kt]</text>
<text x="211.5" y="866.1" font-size="16.5" textLength="99.3" lengthAdjust="spacingAndGlyphs" >SHAP values:</text>
<line x1="341.30" y1="859.30" x2="375.10" y2="859.30" stroke="#dc1e48" stroke-width="3" />
<text x="386.3" y="866.1" font-size="16.5" textLength="13.3" lengthAdjust="spacingAndGlyphs" >IR</text>
<line x1="430.10" y1="859.30" x2="462.90" y2="859.30" stroke="#44e4ec" stroke-width="3" />
<text x="474.4" y="866.1" font-size="16.5" textLength="52.8" lengthAdjust="spacingAndGlyphs" >History</text>
<line x1="558.10" y1="859.30" x2="590.80" y2="859.30" stroke="#3cb04a" stroke-width="3" />
<text x="602.4" y="866.1" font-size="16.5" textLength="57.6" lengthAdjust="spacingAndGlyphs" >Position</text>
<line x1="690.90" y1="859.30" x2="723.90" y2="859.30" stroke="#e83ee8" stroke-width="3" />
<text x="736.0" y="866.1" font-size="16.5" textLength="94.5" lengthAdjust="spacingAndGlyphs" >Environment</text>
<line x1="861.90" y1="859.30" x2="894.90" y2="859.30" stroke="#f08532" stroke-width="3" />
<text x="906.2" y="866.1" font-size="16.5" textLength="92.6" lengthAdjust="spacingAndGlyphs" >GFS Thermo</text>
<line x1="516.40" y1="882.00" x2="549.50" y2="882.00" stroke="#000" stroke-width="3" />
<text x="560.2" y="887.9" font-size="16.5" textLength="89.4" lengthAdjust="spacingAndGlyphs" >TC Intensity</text>
<text x="333.6" y="919.6" font-size="12.0" text-anchor="middle" textLength="325.4" lengthAdjust="spacingAndGlyphs" >Shap values for 2025_03B at 20251028 0230UTC</text>
<rect x="67.90" y="1101.17" width="399.90" height="103.78" fill="#f3f3f3" />
<rect x="67.90" y="1377.92" width="399.90" height="276.75" fill="#f3f3f3" />
<line x1="67.90" y1="945.50" x2="467.80" y2="945.50" stroke="#e6e6e6" stroke-width="0.7" stroke-dasharray="1,2"/>
<line x1="67.90" y1="980.09" x2="467.80" y2="980.09" stroke="#e6e6e6" stroke-width="0.7" stroke-dasharray="1,2"/>
<line x1="67.90" y1="962.79" x2="467.80" y2="962.79" stroke="#e2e2e2" stroke-width="0.9" />
<line x1="67.90" y1="1014.68" x2="467.80" y2="1014.68" stroke="#e6e6e6" stroke-width="0.7" stroke-dasharray="1,2"/>
<line x1="67.90" y1="997.39" x2="467.80" y2="997.39" stroke="#e2e2e2" stroke-width="0.9" />
<line x1="67.90" y1="1049.28" x2="467.80" y2="1049.28" stroke="#e6e6e6" stroke-width="0.7" stroke-dasharray="1,2"/>
<line x1="67.90" y1="1031.98" x2="467.80" y2="1031.98" stroke="#e2e2e2" stroke-width="0.9" />
<line x1="67.90" y1="1083.87" x2="467.80" y2="1083.87" stroke="#e6e6e6" stroke-width="0.7" stroke-dasharray="1,2"/>
<line x1="67.90" y1="1066.58" x2="467.80" y2="1066.58" stroke="#e2e2e2" stroke-width="0.9" />
<line x1="67.90" y1="1118.47" x2="467.80" y2="1118.47" stroke="#e6e6e6" stroke-width="0.7" stroke-dasharray="1,2"/>
<line x1="67.90" y1="1153.06" x2="467.80" y2="1153.06" stroke="#e6e6e6" stroke-width="0.7" stroke-dasharray="1,2"/>
<line x1="67.90" y1="1135.76" x2="467.80" y2="1135.76" stroke="#e2e2e2" stroke-width="0.9" />
<line x1="67.90" y1="1187.65" x2="467.80" y2="1187.65" stroke="#e6e6e6" stroke-width="0.7" stroke-dasharray="1,2"/>
<line x1="67.90" y1="1170.36" x2="467.80" y2="1170.36" stroke="#e2e2e2" stroke-width="0.9" />
<line x1="67.90" y1="1222.25" x2="467.80" y2="1222.25" stroke="#e6e6e6" stroke-width="0.7" stroke-dasharray="1,2"/>
<line x1="67.90" y1="1256.84" x2="467.80" y2="1256.84" stroke="#e6e6e6" stroke-width="0.7" stroke-dasharray="1,2"/>
<line x1="67.90" y1="1239.54" x2="467.80" y2="1239.54" stroke="#e2e2e2" stroke-width="0.9" />
<line x1="67.90" y1="1291.43" x2="467.80" y2="1291.43" stroke="#e6e6e6" stroke-width="0.7" stroke-dasharray="1,2"/>
<line x1="67.90" y1="1274.14" x2="467.80" y2="1274.14" stroke="#e2e2e2" stroke-width="0.9" />
<line x1="67.90" y1="1326.03" x2="467.80" y2="1326.03" stroke="#e6e6e6" stroke-width="0.7" stroke-dasharray="1,2"/>
<line x1="67.90" y1="1308.73" x2="467.80" y2="1308.73" stroke="#e2e2e2" stroke-width="0.9" />
<line x1="67.90" y1="1360.62" x2="467.80" y2="1360.62" stroke="#e6e6e6" stroke-width="0.7" stroke-dasharray="1,2"/>
<line x1="67.90" y1="1343.33" x2="467.80" y2="1343.33" stroke="#e2e2e2" stroke-width="0.9" />
<line x1="67.90" y1="1395.22" x2="467.80" y2="1395.22" stroke="#e6e6e6" stroke-width="0.7" stroke-dasharray="1,2"/>
<line x1="67.90" y1="1429.81" x2="467.80" y2="1429.81" stroke="#e6e6e6" stroke-width="0.7" stroke-dasharray="1,2"/>
<line x1="67.90" y1="1412.51" x2="467.80" y2="1412.51" stroke="#e2e2e2" stroke-width="0.9" />
<line x1="67.90" y1="1464.40" x2="467.80" y2="1464.40" stroke="#e6e6e6" stroke-width="0.7" stroke-dasharray="1,2"/>
<line x1="67.90" y1="1447.11" x2="467.80" y2="1447.11" stroke="#e2e2e2" stroke-width="0.9" />
<line x1="67.90" y1="1499.00" x2="467.80" y2="1499.00" stroke="#e6e6e6" stroke-width="0.7" stroke-dasharray="1,2"/>
<line x1="67.90" y1="1481.70" x2="467.80" y2="1481.70" stroke="#e2e2e2" stroke-width="0.9" />
<line x1="67.90" y1="1533.59" x2="467.80" y2="1533.59" stroke="#e6e6e6" stroke-width="0.7" stroke-dasharray="1,2"/>
<line x1="67.90" y1="1516.29" x2="467.80" y2="1516.29" stroke="#e2e2e2" stroke-width="0.9" />
<line x1="67.90" y1="1568.18" x2="467.80" y2="1568.18" stroke="#e6e6e6" stroke-width="0.7" stroke-dasharray="1,2"/>
<line x1="67.90" y1="1550.89" x2="467.80" y2="1550.89" stroke="#e2e2e2" stroke-width="0.9" />
<line x1="67.90" y1="1602.78" x2="467.80" y2="1602.78" stroke="#e6e6e6" stroke-width="0.7" stroke-dasharray="1,2"/>
<line x1="67.90" y1="1585.48" x2="467.80" y2="1585.48" stroke="#e2e2e2" stroke-width="0.9" />
<line x1="67.90" y1="1637.37" x2="467.80" y2="1637.37" stroke="#e6e6e6" stroke-width="0.7" stroke-dasharray="1,2"/>
<line x1="67.90" y1="1620.08" x2="467.80" y2="1620.08" stroke="#e2e2e2" stroke-width="0.9" />
<line x1="67.90" y1="1671.97" x2="467.80" y2="1671.97" stroke="#e6e6e6" stroke-width="0.7" stroke-dasharray="1,2"/>
<line x1="67.90" y1="1706.56" x2="467.80" y2="1706.56" stroke="#e6e6e6" stroke-width="0.7" stroke-dasharray="1,2"/>
<line x1="67.90" y1="1689.26" x2="467.80" y2="1689.26" stroke="#e2e2e2" stroke-width="0.9" />
<line x1="67.90" y1="1741.15" x2="467.80" y2="1741.15" stroke="#e6e6e6" stroke-width="0.7" stroke-dasharray="1,2"/>
<line x1="67.90" y1="1723.86" x2="467.80" y2="1723.86" stroke="#e2e2e2" stroke-width="0.9" />
<line x1="67.90" y1="1775.75" x2="467.80" y2="1775.75" stroke="#e6e6e6" stroke-width="0.7" stroke-dasharray="1,2"/>
<line x1="67.90" y1="1758.45" x2="467.80" y2="1758.45" stroke="#e2e2e2" stroke-width="0.9" />
<line x1="67.90" y1="1810.34" x2="467.80" y2="1810.34" stroke="#e6e6e6" stroke-width="0.7" stroke-dasharray="1,2"/>
<line x1="67.90" y1="1793.04" x2="467.80" y2="1793.04" stroke="#e2e2e2" stroke-width="0.9" />
<line x1="67.90" y1="1844.93" x2="467.80" y2="1844.93" stroke="#e6e6e6" stroke-width="0.7" stroke-dasharray="1,2"/>
<line x1="67.90" y1="1827.64" x2="467.80" y2="1827.64" stroke="#e2e2e2" stroke-width="0.9" />
<line x1="67.90" y1="1879.53" x2="467.80" y2="1879.53" stroke="#e6e6e6" stroke-width="0.7" stroke-dasharray="1,2"/>
<line x1="67.90" y1="1862.23" x2="467.80" y2="1862.23" stroke="#e2e2e2" stroke-width="0.9" />
<line x1="67.90" y1="1914.12" x2="467.80" y2="1914.12" stroke="#e6e6e6" stroke-width="0.7" stroke-dasharray="1,2"/>
<line x1="67.90" y1="1896.83" x2="467.80" y2="1896.83" stroke="#e2e2e2" stroke-width="0.9" />
<line x1="67.90" y1="1948.72" x2="467.80" y2="1948.72" stroke="#e6e6e6" stroke-width="0.7" stroke-dasharray="1,2"/>
<line x1="67.90" y1="1931.42" x2="467.80" y2="1931.42" stroke="#e2e2e2" stroke-width="0.9" />
<line x1="67.90" y1="1983.31" x2="467.80" y2="1983.31" stroke="#e6e6e6" stroke-width="0.7" stroke-dasharray="1,2"/>
<line x1="67.90" y1="1966.01" x2="467.80" y2="1966.01" stroke="#e2e2e2" stroke-width="0.9" />
<line x1="67.90" y1="2017.90" x2="467.80" y2="2017.90" stroke="#e6e6e6" stroke-width="0.7" stroke-dasharray="1,2"/>
<line x1="67.90" y1="2000.61" x2="467.80" y2="2000.61" stroke="#e2e2e2" stroke-width="0.9" />
<line x1="346.20" y1="928.20" x2="346.20" y2="2035.20" stroke="#a0a0a0" stroke-width="1.3" />
<line x1="67.90" y1="1101.17" x2="467.80" y2="1101.17" stroke="#1a1a1a" stroke-width="1.5" />
<line x1="67.90" y1="1204.95" x2="467.80" y2="1204.95" stroke="#1a1a1a" stroke-width="1.5" />
<line x1="67.90" y1="1377.92" x2="467.80" y2="1377.92" stroke="#1a1a1a" stroke-width="1.5" />
<line x1="67.90" y1="1654.67" x2="467.80" y2="1654.67" stroke="#1a1a1a" stroke-width="1.5" />
<circle cx="407.8" cy="945.5" r="3.9" fill="#ee0e6c"/>
<circle cx="281.3" cy="980.1" r="3.9" fill="#b00cb0"/>
<circle cx="85.8" cy="1014.7" r="3.9" fill="#7850d8"/>
<circle cx="112.8" cy="1049.3" r="3.9" fill="#ee0a72"/>
<circle cx="212.7" cy="1083.9" r="3.9" fill="#f20a66"/>
<circle cx="326.8" cy="1118.5" r="3.9" fill="#a41cb8"/>
<circle cx="450.0" cy="1153.1" r="3.9" fill="#0a70e8"/>
<circle cx="345.7" cy="1187.7" r="3.9" fill="#c00ca2"/>
<circle cx="353.9" cy="1222.2" r="3.9" fill="#f40a60"/>
<circle cx="366.2" cy="1256.8" r="3.9" fill="#c40c9e"/>
<circle cx="103.2" cy="1291.4" r="3.9" fill="#0888f0"/>
<circle cx="375.3" cy="1326.0" r="3.9" fill="#bc10a6"/>
<circle cx="343.6" cy="1360.6" r="3.9" fill="#0a8af0"/>
<circle cx="343.2" cy="1395.2" r="3.9" fill="#c80c98"/>
<circle cx="353.1" cy="1429.8" r="3.9" fill="#f80a5c"/>
<circle cx="335.0" cy="1464.4" r="3.9" fill="#b810a8"/>
<circle cx="345.7" cy="1499.0" r="3.9" fill="#0a8cf4"/>
<circle cx="221.5" cy="1533.6" r="3.9" fill="#7850d8"/>
<circle cx="294.3" cy="1568.2" r="3.9" fill="#c00ca4"/>
<circle cx="349.0" cy="1602.8" r="3.9" fill="#2866e0"/>
<circle cx="318.5" cy="1637.4" r="3.9" fill="#0a8af2"/>
<circle cx="340.7" cy="1672.0" r="3.9" fill="#c00ca0"/>
<circle cx="341.6" cy="1706.6" r="3.9" fill="#c00ca4"/>
<circle cx="385.1" cy="1741.2" r="3.9" fill="#f00a60"/>
<circle cx="373.6" cy="1775.7" r="3.9" fill="#3c5ee0"/>
<circle cx="319.8" cy="1810.3" r="3.9" fill="#f40a5c"/>
<circle cx="336.6" cy="1844.9" r="3.9" fill="#0a86f0"/>
<circle cx="399.9" cy="1879.5" r="3.9" fill="#0a88f2"/>
<circle cx="318.1" cy="1914.1" r="3.9" fill="#0a88f2"/>
<circle cx="258.5" cy="1948.7" r="3.9" fill="#4a5ae0"/>
<circle cx="354.3" cy="1983.3" r="3.9" fill="#ec0a70"/>
<circle cx="344.8" cy="2017.9" r="3.9" fill="#f40a58"/>
<text x="464.3" y="945.3" font-size="9.3" text-anchor="end" textLength="101.9" lengthAdjust="spacingAndGlyphs" fill="#1a1a1a" >Satellite SHAP=-9.7kts</text>
<text x="464.3" y="1118.3" font-size="9.3" text-anchor="end" textLength="93.8" lengthAdjust="spacingAndGlyphs" fill="#1a1a1a" >History SHAP=1.3kts</text>
<text x="464.3" y="1222.0" font-size="9.3" text-anchor="end" textLength="103.2" lengthAdjust="spacingAndGlyphs" fill="#1a1a1a" >Location SHAP=-2.9kts</text>
<text x="464.3" y="1395.0" font-size="9.3" text-anchor="end" textLength="130.6" lengthAdjust="spacingAndGlyphs" fill="#1a1a1a" >Environmental SHAP=-3.2kts</text>
<text x="464.3" y="1671.8" font-size="9.3" text-anchor="end" textLength="123.9" lengthAdjust="spacingAndGlyphs" fill="#1a1a1a" >TC Dynamics SHAP=-0.5kts</text>
<rect x="67.90" y="928.20" width="399.90" height="1107.00" fill="none" stroke="#444" stroke-width="1.0" />
<line x1="65.10" y1="945.50" x2="67.90" y2="945.50" stroke="#444" stroke-width="0.8" />
<line x1="467.80" y1="945.50" x2="470.60" y2="945.50" stroke="#444" stroke-width="0.8" />
<text x="62.6" y="948.8" font-size="8.7" text-anchor="end" textLength="39.9" lengthAdjust="spacingAndGlyphs" fill="#1a1a1a" >0h_old_IR</text>
<text x="472.7" y="944.9" font-size="8.7" textLength="58.4" lengthAdjust="spacingAndGlyphs" fill="#1a1a1a" >0h old IR data</text>
<text x="472.7" y="954.2" font-size="8.7" textLength="90.6" lengthAdjust="spacingAndGlyphs" fill="#1a1a1a" >(128x128 grid points)</text>
<line x1="65.10" y1="980.09" x2="67.90" y2="980.09" stroke="#444" stroke-width="0.8" />
<line x1="467.80" y1="980.09" x2="470.60" y2="980.09" stroke="#444" stroke-width="0.8" />
<text x="62.6" y="983.4" font-size="8.7" text-anchor="end" textLength="39.9" lengthAdjust="spacingAndGlyphs" fill="#1a1a1a" >3h_old_IR</text>
<text x="472.7" y="979.5" font-size="8.7" textLength="58.4" lengthAdjust="spacingAndGlyphs" fill="#1a1a1a" >3h old IR data</text>
<text x="472.7" y="988.8" font-size="8.7" textLength="90.6" lengthAdjust="spacingAndGlyphs" fill="#1a1a1a" >(128x128 grid points)</text>
<line x1="65.10" y1="1014.68" x2="67.90" y2="1014.68" stroke="#444" stroke-width="0.8" />
<line x1="467.80" y1="1014.68" x2="470.60" y2="1014.68" stroke="#444" stroke-width="0.8" />
<text x="62.6" y="1018.0" font-size="8.7" text-anchor="end" textLength="39.9" lengthAdjust="spacingAndGlyphs" fill="#1a1a1a" >6h_old_IR</text>
<text x="472.7" y="1014.1" font-size="8.7" textLength="58.4" lengthAdjust="spacingAndGlyphs" fill="#1a1a1a" >6h old IR data</text>
<text x="472.7" y="1023.4" font-size="8.7" textLength="90.6" lengthAdjust="spacingAndGlyphs" fill="#1a1a1a" >(128x128 grid points)</text>
<line x1="65.10" y1="1049.28" x2="67.90" y2="1049.28" stroke="#444" stroke-width="0.8" />
<line x1="467.80" y1="1049.28" x2="470.60" y2="1049.28" stroke="#444" stroke-width="0.8" />
<text x="62.6" y="1052.6" font-size="8.7" text-anchor="end" textLength="39.9" lengthAdjust="spacingAndGlyphs" fill="#1a1a1a" >9h_old_IR</text>
<text x="472.7" y="1048.7" font-size="8.7" textLength="58.4" lengthAdjust="spacingAndGlyphs" fill="#1a1a1a" >9h old IR data</text>
<text x="472.7" y="1058.0" font-size="8.7" textLength="90.6" lengthAdjust="spacingAndGlyphs" fill="#1a1a1a" >(128x128 grid points)</text>
<line x1="65.10" y1="1083.87" x2="67.90" y2="1083.87" stroke="#444" stroke-width="0.8" />
<line x1="467.80" y1="1083.87" x2="470.60" y2="1083.87" stroke="#444" stroke-width="0.8" />
<text x="62.6" y="1087.2" font-size="8.7" text-anchor="end" textLength="45.3" lengthAdjust="spacingAndGlyphs" fill="#1a1a1a" >12h_old_IR</text>
<text x="472.7" y="1083.3" font-size="8.7" textLength="63.7" lengthAdjust="spacingAndGlyphs" fill="#1a1a1a" >12h old IR data</text>
<text x="472.7" y="1092.6" font-size="8.7" textLength="90.6" lengthAdjust="spacingAndGlyphs" fill="#1a1a1a" >(128x128 grid points)</text>
<line x1="65.10" y1="1118.47" x2="67.90" y2="1118.47" stroke="#444" stroke-width="0.8" />
<line x1="467.80" y1="1118.47" x2="470.60" y2="1118.47" stroke="#444" stroke-width="0.8" />
<text x="62.6" y="1121.8" font-size="8.7" text-anchor="end" textLength="22.1" lengthAdjust="spacingAndGlyphs" fill="#1a1a1a" >DELV</text>
<text x="472.7" y="1121.9" font-size="8.7" textLength="115.6" lengthAdjust="spacingAndGlyphs" fill="#1a1a1a" >-12h to 0h Intensity change</text>
<line x1="65.10" y1="1153.06" x2="67.90" y2="1153.06" stroke="#444" stroke-width="0.8" />
<line x1="467.80" y1="1153.06" x2="470.60" y2="1153.06" stroke="#444" stroke-width="0.8" />
<text x="62.6" y="1156.4" font-size="8.7" text-anchor="end" textLength="19.1" lengthAdjust="spacingAndGlyphs" fill="#1a1a1a" >HIST</text>
<text x="472.7" y="1152.5" font-size="8.7" textLength="109.7" lengthAdjust="spacingAndGlyphs" fill="#1a1a1a" >The # of 6h periods VMAX</text>
<text x="472.7" y="1161.8" font-size="8.7" textLength="87.9" lengthAdjust="spacingAndGlyphs" fill="#1a1a1a" >has been above 20kt</text>
<line x1="65.10" y1="1187.65" x2="67.90" y2="1187.65" stroke="#444" stroke-width="0.8" />
<line x1="467.80" y1="1187.65" x2="470.60" y2="1187.65" stroke="#444" stroke-width="0.8" />
<text x="62.6" y="1191.0" font-size="8.7" text-anchor="end" textLength="16.8" lengthAdjust="spacingAndGlyphs" fill="#1a1a1a" >SPD</text>
<text x="472.7" y="1191.1" font-size="8.7" textLength="89.1" lengthAdjust="spacingAndGlyphs" fill="#1a1a1a" >TC Translation Speed</text>
<line x1="65.10" y1="1222.25" x2="67.90" y2="1222.25" stroke="#444" stroke-width="0.8" />
<line x1="467.80" y1="1222.25" x2="470.60" y2="1222.25" stroke="#444" stroke-width="0.8" />
<text x="62.6" y="1225.5" font-size="8.7" text-anchor="end" textLength="26.8" lengthAdjust="spacingAndGlyphs" fill="#1a1a1a" >sin_lat</text>
<text x="472.7" y="1225.6" font-size="8.7" textLength="65.8" lengthAdjust="spacingAndGlyphs" fill="#1a1a1a" >Sine of Latitude</text>
<line x1="65.10" y1="1256.84" x2="67.90" y2="1256.84" stroke="#444" stroke-width="0.8" />
<line x1="467.80" y1="1256.84" x2="470.60" y2="1256.84" stroke="#444" stroke-width="0.8" />
<text x="62.6" y="1260.1" font-size="8.7" text-anchor="end" textLength="30.9" lengthAdjust="spacingAndGlyphs" fill="#1a1a1a" >cos_lon</text>
<text x="472.7" y="1260.2" font-size="8.7" textLength="83.1" lengthAdjust="spacingAndGlyphs" fill="#1a1a1a" >Cosine of Longitude</text>
<line x1="65.10" y1="1291.43" x2="67.90" y2="1291.43" stroke="#444" stroke-width="0.8" />
<line x1="467.80" y1="1291.43" x2="470.60" y2="1291.43" stroke="#444" stroke-width="0.8" />
<text x="62.6" y="1294.7" font-size="8.7" text-anchor="end" textLength="28.9" lengthAdjust="spacingAndGlyphs" fill="#1a1a1a" >sin_lon</text>
<text x="472.7" y="1294.8" font-size="8.7" textLength="73.1" lengthAdjust="spacingAndGlyphs" fill="#1a1a1a" >Sine of Longitude</text>
<line x1="65.10" y1="1326.03" x2="67.90" y2="1326.03" stroke="#444" stroke-width="0.8" />
<line x1="467.80" y1="1326.03" x2="470.60" y2="1326.03" stroke="#444" stroke-width="0.8" />
<text x="62.6" y="1329.3" font-size="8.7" text-anchor="end" textLength="16.2" lengthAdjust="spacingAndGlyphs" fill="#1a1a1a" >DTL</text>
<text x="472.7" y="1329.4" font-size="8.7" textLength="70.6" lengthAdjust="spacingAndGlyphs" fill="#1a1a1a" >Distance to Land</text>
<line x1="65.10" y1="1360.62" x2="67.90" y2="1360.62" stroke="#444" stroke-width="0.8" />
<line x1="467.80" y1="1360.62" x2="470.60" y2="1360.62" stroke="#444" stroke-width="0.8" />
<text x="62.6" y="1363.9" font-size="8.7" text-anchor="end" textLength="58.6" lengthAdjust="spacingAndGlyphs" fill="#1a1a1a" >sin_local_time</text>
<text x="472.7" y="1360.0" font-size="8.7" textLength="81.9" lengthAdjust="spacingAndGlyphs" fill="#1a1a1a" >Sine of Time of Day</text>
<text x="472.7" y="1369.3" font-size="8.7" textLength="75.6" lengthAdjust="spacingAndGlyphs" fill="#1a1a1a" >(Local Solar Time)</text>
<line x1="65.10" y1="1395.22" x2="67.90" y2="1395.22" stroke="#444" stroke-width="0.8" />
<line x1="467.80" y1="1395.22" x2="470.60" y2="1395.22" stroke="#444" stroke-width="0.8" />
<text x="62.6" y="1398.5" font-size="8.7" text-anchor="end" textLength="23.8" lengthAdjust="spacingAndGlyphs" fill="#1a1a1a" >SHRD</text>
<text x="472.7" y="1398.6" font-size="8.7" textLength="136.0" lengthAdjust="spacingAndGlyphs" fill="#1a1a1a" >850-200hPa shear (200-800 km)</text>
<line x1="65.10" y1="1429.81" x2="67.90" y2="1429.81" stroke="#444" stroke-width="0.8" />
<line x1="467.80" y1="1429.81" x2="470.60" y2="1429.81" stroke="#444" stroke-width="0.8" />
<text x="62.6" y="1433.1" font-size="8.7" text-anchor="end" textLength="23.8" lengthAdjust="spacingAndGlyphs" fill="#1a1a1a" >SHDC</text>
<text x="472.7" y="1429.2" font-size="8.7" textLength="96.7" lengthAdjust="spacingAndGlyphs" fill="#1a1a1a" >850-200hPa shear with</text>
<text x="472.7" y="1438.5" font-size="8.7" textLength="115.7" lengthAdjust="spacingAndGlyphs" fill="#1a1a1a" >vortex removed (0-500 km)</text>
<line x1="65.10" y1="1464.40" x2="67.90" y2="1464.40" stroke="#444" stroke-width="0.8" />
<line x1="467.80" y1="1464.40" x2="470.60" y2="1464.40" stroke="#444" stroke-width="0.8" />
<text x="62.6" y="1467.7" font-size="8.7" text-anchor="end" textLength="22.7" lengthAdjust="spacingAndGlyphs" fill="#1a1a1a" >SHRS</text>
<text x="472.7" y="1467.8" font-size="8.7" textLength="136.0" lengthAdjust="spacingAndGlyphs" fill="#1a1a1a" >850-500hPa shear (200-800 km)</text>
<line x1="65.10" y1="1499.00" x2="67.90" y2="1499.00" stroke="#444" stroke-width="0.8" />
<line x1="467.80" y1="1499.00" x2="470.60" y2="1499.00" stroke="#444" stroke-width="0.8" />
<text x="62.6" y="1502.3" font-size="8.7" text-anchor="end" textLength="14.7" lengthAdjust="spacingAndGlyphs" fill="#1a1a1a" >MPI</text>
<text x="472.7" y="1502.4" font-size="8.7" textLength="119.8" lengthAdjust="spacingAndGlyphs" fill="#1a1a1a" >Maximum potential intensity</text>
<line x1="65.10" y1="1533.59" x2="67.90" y2="1533.59" stroke="#444" stroke-width="0.8" />
<line x1="467.80" y1="1533.59" x2="470.60" y2="1533.59" stroke="#444" stroke-width="0.8" />
<text x="62.6" y="1536.9" font-size="8.7" text-anchor="end" textLength="21.5" lengthAdjust="spacingAndGlyphs" fill="#1a1a1a" >RSST</text>
<text x="472.7" y="1537.0" font-size="8.7" textLength="56.6" lengthAdjust="spacingAndGlyphs" fill="#1a1a1a" >Reynolds SST</text>
<line x1="65.10" y1="1568.18" x2="67.90" y2="1568.18" stroke="#444" stroke-width="0.8" />
<line x1="467.80" y1="1568.18" x2="470.60" y2="1568.18" stroke="#444" stroke-width="0.8" />
<text x="62.6" y="1571.5" font-size="8.7" text-anchor="end" textLength="24.5" lengthAdjust="spacingAndGlyphs" fill="#1a1a1a" >COHC</text>
<text x="472.7" y="1571.6" font-size="8.7" textLength="146.9" lengthAdjust="spacingAndGlyphs" fill="#1a1a1a" >Climatological Ocean Heat Content</text>
<line x1="65.10" y1="1602.78" x2="67.90" y2="1602.78" stroke="#444" stroke-width="0.8" />
<line x1="467.80" y1="1602.78" x2="470.60" y2="1602.78" stroke="#444" stroke-width="0.8" />
<text x="62.6" y="1606.1" font-size="8.7" text-anchor="end" textLength="22.9" lengthAdjust="spacingAndGlyphs" fill="#1a1a1a" >CD26</text>
<text x="472.7" y="1602.2" font-size="8.7" textLength="96.8" lengthAdjust="spacingAndGlyphs" fill="#1a1a1a" >Climatological depth of</text>
<text x="472.7" y="1611.5" font-size="8.7" textLength="63.0" lengthAdjust="spacingAndGlyphs" fill="#1a1a1a" >26° C isotherm</text>
<line x1="65.10" y1="1637.37" x2="67.90" y2="1637.37" stroke="#444" stroke-width="0.8" />
<line x1="467.80" y1="1637.37" x2="470.60" y2="1637.37" stroke="#444" stroke-width="0.8" />
<text x="62.6" y="1640.7" font-size="8.7" text-anchor="end" textLength="22.9" lengthAdjust="spacingAndGlyphs" fill="#1a1a1a" >CD20</text>
<text x="472.7" y="1636.8" font-size="8.7" textLength="96.8" lengthAdjust="spacingAndGlyphs" fill="#1a1a1a" >Climatological depth of</text>
<text x="472.7" y="1646.1" font-size="8.7" textLength="63.0" lengthAdjust="spacingAndGlyphs" fill="#1a1a1a" >20° C isotherm</text>
<line x1="65.10" y1="1671.97" x2="67.90" y2="1671.97" stroke="#444" stroke-width="0.8" />
<line x1="467.80" y1="1671.97" x2="470.60" y2="1671.97" stroke="#444" stroke-width="0.8" />
<text x="62.6" y="1675.3" font-size="8.7" text-anchor="end" textLength="20.4" lengthAdjust="spacingAndGlyphs" fill="#1a1a1a" >DIVC</text>
<text x="472.7" y="1671.4" font-size="8.7" textLength="131.6" lengthAdjust="spacingAndGlyphs" fill="#1a1a1a" >200hPa divergence centered at</text>
<text x="472.7" y="1680.7" font-size="8.7" textLength="96.7" lengthAdjust="spacingAndGlyphs" fill="#1a1a1a" >850hPa vortex location</text>
<line x1="65.10" y1="1706.56" x2="67.90" y2="1706.56" stroke="#444" stroke-width="0.8" />
<line x1="467.80" y1="1706.56" x2="470.60" y2="1706.56" stroke="#444" stroke-width="0.8" />
<text x="62.6" y="1709.9" font-size="8.7" text-anchor="end" textLength="21.6" lengthAdjust="spacingAndGlyphs" fill="#1a1a1a" >V300</text>
<text x="472.7" y="1706.0" font-size="8.7" textLength="150.0" lengthAdjust="spacingAndGlyphs" fill="#1a1a1a" >300hPa tangential wind azimuthally</text>
<text x="472.7" y="1715.3" font-size="8.7" textLength="84.7" lengthAdjust="spacingAndGlyphs" fill="#1a1a1a" >averaged at 500 km</text>
<line x1="65.10" y1="1741.15" x2="67.90" y2="1741.15" stroke="#444" stroke-width="0.8" />
<line x1="467.80" y1="1741.15" x2="470.60" y2="1741.15" stroke="#444" stroke-width="0.8" />
<text x="62.6" y="1744.5" font-size="8.7" text-anchor="end" textLength="21.6" lengthAdjust="spacingAndGlyphs" fill="#1a1a1a" >V500</text>
<text x="472.7" y="1740.6" font-size="8.7" textLength="150.0" lengthAdjust="spacingAndGlyphs" fill="#1a1a1a" >500hPa tangential wind azimuthally</text>
<text x="472.7" y="1749.9" font-size="8.7" textLength="84.7" lengthAdjust="spacingAndGlyphs" fill="#1a1a1a" >averaged at 500 km</text>
<line x1="65.10" y1="1775.75" x2="67.90" y2="1775.75" stroke="#444" stroke-width="0.8" />
<line x1="467.80" y1="1775.75" x2="470.60" y2="1775.75" stroke="#444" stroke-width="0.8" />
<text x="62.6" y="1779.0" font-size="8.7" text-anchor="end" textLength="21.6" lengthAdjust="spacingAndGlyphs" fill="#1a1a1a" >V850</text>
<text x="472.7" y="1775.1" font-size="8.7" textLength="150.0" lengthAdjust="spacingAndGlyphs" fill="#1a1a1a" >850hPa tangential wind azimuthally</text>
<text x="472.7" y="1784.4" font-size="8.7" textLength="84.7" lengthAdjust="spacingAndGlyphs" fill="#1a1a1a" >averaged at 500 km</text>
<line x1="65.10" y1="1810.34" x2="67.90" y2="1810.34" stroke="#444" stroke-width="0.8" />
<line x1="467.80" y1="1810.34" x2="470.60" y2="1810.34" stroke="#444" stroke-width="0.8" />
<text x="62.6" y="1813.6" font-size="8.7" text-anchor="end" textLength="21.7" lengthAdjust="spacingAndGlyphs" fill="#1a1a1a" >Z850</text>
<text x="472.7" y="1813.7" font-size="8.7" textLength="122.6" lengthAdjust="spacingAndGlyphs" fill="#1a1a1a" >850hPa vorticity (0-1000 km)</text>
<line x1="65.10" y1="1844.93" x2="67.90" y2="1844.93" stroke="#444" stroke-width="0.8" />
<line x1="467.80" y1="1844.93" x2="470.60" y2="1844.93" stroke="#444" stroke-width="0.8" />
<text x="62.6" y="1848.2" font-size="8.7" text-anchor="end" textLength="22.0" lengthAdjust="spacingAndGlyphs" fill="#1a1a1a" >U200</text>
<text x="472.7" y="1848.3" font-size="8.7" textLength="138.3" lengthAdjust="spacingAndGlyphs" fill="#1a1a1a" >200hPa zonal wind (200-800 km)</text>
<line x1="65.10" y1="1879.53" x2="67.90" y2="1879.53" stroke="#444" stroke-width="0.8" />
<line x1="467.80" y1="1879.53" x2="470.60" y2="1879.53" stroke="#444" stroke-width="0.8" />
<text x="62.6" y="1882.8" font-size="8.7" text-anchor="end" textLength="22.6" lengthAdjust="spacingAndGlyphs" fill="#1a1a1a" >U20C</text>
<text x="472.7" y="1882.9" font-size="8.7" textLength="127.7" lengthAdjust="spacingAndGlyphs" fill="#1a1a1a" >200hPa zonal wind (0-500 km)</text>
<line x1="65.10" y1="1914.12" x2="67.90" y2="1914.12" stroke="#444" stroke-width="0.8" />
<line x1="467.80" y1="1914.12" x2="470.60" y2="1914.12" stroke="#444" stroke-width="0.8" />
<text x="62.6" y="1917.4" font-size="8.7" text-anchor="end" textLength="22.2" lengthAdjust="spacingAndGlyphs" fill="#1a1a1a" >V20C</text>
<text x="472.7" y="1917.5" font-size="8.7" textLength="150.0" lengthAdjust="spacingAndGlyphs" fill="#1a1a1a" >200hPa meridional wind (0-500 km)</text>
<line x1="65.10" y1="1948.72" x2="67.90" y2="1948.72" stroke="#444" stroke-width="0.8" />
<line x1="467.80" y1="1948.72" x2="470.60" y2="1948.72" stroke="#444" stroke-width="0.8" />
<text x="62.6" y="1952.0" font-size="8.7" text-anchor="end" textLength="25.7" lengthAdjust="spacingAndGlyphs" fill="#1a1a1a" >RHMD</text>
<text x="472.7" y="1948.1" font-size="8.7" textLength="124.2" lengthAdjust="spacingAndGlyphs" fill="#1a1a1a" >700-500hPa relative humidity</text>
<text x="472.7" y="1957.4" font-size="8.7" textLength="57.0" lengthAdjust="spacingAndGlyphs" fill="#1a1a1a" >(200-800 km)</text>
<line x1="65.10" y1="1983.31" x2="67.90" y2="1983.31" stroke="#444" stroke-width="0.8" />
<line x1="467.80" y1="1983.31" x2="470.60" y2="1983.31" stroke="#444" stroke-width="0.8" />
<text x="62.6" y="1986.6" font-size="8.7" text-anchor="end" textLength="20.9" lengthAdjust="spacingAndGlyphs" fill="#1a1a1a" >EPSS</text>
<text x="472.7" y="1982.7" font-size="8.7" textLength="174.5" lengthAdjust="spacingAndGlyphs" fill="#1a1a1a" >Avg. Δ θe (only +) btwn parcel lifted from</text>
<text x="472.7" y="1992.0" font-size="8.7" textLength="169.1" lengthAdjust="spacingAndGlyphs" fill="#1a1a1a" >sfc. and saturated env. θe (200-800 km)</text>
<line x1="65.10" y1="2017.90" x2="67.90" y2="2017.90" stroke="#444" stroke-width="0.8" />
<line x1="467.80" y1="2017.90" x2="470.60" y2="2017.90" stroke="#444" stroke-width="0.8" />
<text x="62.6" y="2021.2" font-size="8.7" text-anchor="end" textLength="22.1" lengthAdjust="spacingAndGlyphs" fill="#1a1a1a" >ENSS</text>
<text x="472.7" y="2017.3" font-size="8.7" textLength="170.5" lengthAdjust="spacingAndGlyphs" fill="#1a1a1a" >Avg. Δ θe (only -) btwn parcel lifted from</text>
<text x="472.7" y="2026.6" font-size="8.7" textLength="169.1" lengthAdjust="spacingAndGlyphs" fill="#1a1a1a" >sfc. and saturated env. θe (200-800 km)</text>
<line x1="86.20" y1="2035.20" x2="86.20" y2="2038.20" stroke="#444" stroke-width="0.8" />
<text x="86.2" y="2046.7" font-size="8.2" text-anchor="middle" fill="#1a1a1a" >−4</text>
<line x1="151.20" y1="2035.20" x2="151.20" y2="2038.20" stroke="#444" stroke-width="0.8" />
<text x="151.2" y="2046.7" font-size="8.2" text-anchor="middle" fill="#1a1a1a" >−3</text>
<line x1="216.20" y1="2035.20" x2="216.20" y2="2038.20" stroke="#444" stroke-width="0.8" />
<text x="216.2" y="2046.7" font-size="8.2" text-anchor="middle" fill="#1a1a1a" >−2</text>
<line x1="281.20" y1="2035.20" x2="281.20" y2="2038.20" stroke="#444" stroke-width="0.8" />
<text x="281.2" y="2046.7" font-size="8.2" text-anchor="middle" fill="#1a1a1a" >−1</text>
<line x1="346.20" y1="2035.20" x2="346.20" y2="2038.20" stroke="#444" stroke-width="0.8" />
<text x="346.2" y="2046.7" font-size="8.2" text-anchor="middle" fill="#1a1a1a" >0</text>
<line x1="411.20" y1="2035.20" x2="411.20" y2="2038.20" stroke="#444" stroke-width="0.8" />
<text x="411.2" y="2046.7" font-size="8.2" text-anchor="middle" fill="#1a1a1a" >1</text>
<text x="267.2" y="2059.5" font-size="12.0" text-anchor="middle" textLength="92.0" lengthAdjust="spacingAndGlyphs" fill="#1a1a1a" >SHAP Value [kts]</text>
<rect x="29.20" y="2083.20" width="587.90" height="25.20" fill="url(#gshap)" stroke="#444" stroke-width="0.8" />
<text x="617.1" y="2079.0" font-size="9.3" text-anchor="end" textLength="63.0" lengthAdjust="spacingAndGlyphs" fill="#1a1a1a" >Feature Value</text>
<text x="29.2" y="2120.2" font-size="9.0" text-anchor="middle" textLength="17.1" lengthAdjust="spacingAndGlyphs" fill="#1a1a1a" >Low</text>
<text x="617.1" y="2120.2" font-size="9.0" text-anchor="middle" textLength="19.8" lengthAdjust="spacingAndGlyphs" fill="#1a1a1a" >High</text>
<text x="29.2" y="2135.8" font-size="9.2" textLength="504.7" lengthAdjust="spacingAndGlyphs" fill="#1a1a1a" >SHAP Value: Amount each feature [listed on Y-axis] contributes to the predicted intensity above or below 60 kts</text>
<line x1="506.90" y1="2137.60" x2="533.90" y2="2137.60" stroke="#1a1a1a" stroke-width="0.8" />
<text x="29.2" y="2150.3" font-size="9.2" textLength="482.3" lengthAdjust="spacingAndGlyphs" fill="#1a1a1a" >Feature Value: The value of the feature [listed on Y-axis] for the given TC compared to the training dataset</text>
<text x="917.9" y="915.6" font-size="12.2" text-anchor="middle" textLength="398.3" lengthAdjust="spacingAndGlyphs" fill="#1a1a1a" >Comparison of IR SHAP Values for 2025_03B at 20251028 0230UTC</text>
<text x="818.0" y="933.7" font-size="11.4" text-anchor="middle" textLength="78.0" lengthAdjust="spacingAndGlyphs" fill="#1a1a1a" >0h old IR Data</text>
<text x="1055.5" y="933.7" font-size="11.4" text-anchor="middle" textLength="117.1" lengthAdjust="spacingAndGlyphs" fill="#1a1a1a" >SHAP Value=0.95 kts</text>
<g transform="translate(717.8,938.0)"><g clip-path="url(#cp200)"><g filter="url(#cm0)"><path d="M-30.0,-30.0 L230.0,-30.0 L230.0,230.0 L-30.0,230.0 Z" fill="#565656" /><path d="M158.0,38.0 C161.5,34.8 168.0,32.3 175.0,31.0 C182.0,29.7 190.8,30.2 200.0,30.0 C209.2,29.8 225.0,10.3 230.0,30.0 C235.0,49.7 235.0,128.2 230.0,148.0 C225.0,167.8 207.5,149.5 200.0,149.0 C192.5,148.5 190.8,144.7 185.0,145.0 C179.2,145.3 170.0,150.3 165.0,151.0 C160.0,151.7 157.0,154.2 155.0,149.0 C153.0,143.8 153.5,131.5 153.0,120.0 C152.5,108.5 151.8,91.7 152.0,80.0 C152.2,68.3 153.0,57.0 154.0,50.0 C155.0,43.0 154.5,41.2 158.0,38.0 Z" fill="#cccccc" /><ellipse cx="190" cy="60" rx="12" ry="18" fill="#c4c4c4" filter="url(#b3)"/><ellipse cx="175" cy="120" rx="10" ry="8" fill="#d6d6d6" filter="url(#b3)"/><ellipse cx="168" cy="110" rx="9" ry="5" fill="#a9a9a9" filter="url(#b1)"/><ellipse cx="196" cy="128" rx="6" ry="10" fill="#adadad" filter="url(#b1)"/><ellipse cx="200" cy="90" rx="4" ry="10" fill="#adadad" filter="url(#b1)"/><path d="M126.0,-30.0 L230.0,-30.0 L230.0,30.0 L200.0,32.0 L175.0,32.0 L160.0,38.0 L150.0,42.0 L130.0,42.0 Z" fill="#959595" /><ellipse cx="171" cy="12" rx="6" ry="14" fill="#cccccc" filter="url(#b2)"/><ellipse cx="138" cy="17" rx="4" ry="6" fill="#c8c8c8" filter="url(#b1_5)"/><ellipse cx="188" cy="12" rx="6" ry="14" fill="#434343" filter="url(#b2)"/><ellipse cx="160" cy="16" rx="4" ry="10" fill="#4e4e4e" filter="url(#b1_5)"/><ellipse cx="148" cy="24" rx="3" ry="12" fill="#767676" filter="url(#b1_5)"/><ellipse cx="200" cy="22" rx="5" ry="12" fill="#767676" filter="url(#b2)"/><path d="M130.0,176.0 C136.3,168.2 143.3,157.5 150.0,153.0 C156.7,148.5 161.7,149.3 170.0,149.0 C178.3,148.7 190.0,150.7 200.0,151.0 C210.0,151.3 225.0,136.2 230.0,151.0 C235.0,165.8 252.0,225.2 230.0,240.0 C208.0,254.8 117.7,246.7 98.0,240.0 C78.3,233.3 106.7,210.7 112.0,200.0 C117.3,189.3 123.7,183.8 130.0,176.0 Z" fill="#626262" filter="url(#b3)" /><ellipse cx="150" cy="166" rx="10" ry="5" fill="#7c7c7c" filter="url(#b2)"/><ellipse cx="186" cy="158" rx="12" ry="5" fill="#7c7c7c" filter="url(#b2)"/><ellipse cx="170" cy="178" rx="6" ry="14" fill="#727272" filter="url(#b2)"/><ellipse cx="196" cy="176" rx="6" ry="14" fill="#525252" filter="url(#b2)"/><path d="M100.0,240.0 C80.7,232.0 107.3,201.3 114.0,192.0 C120.7,182.7 130.7,185.0 140.0,184.0 C149.3,183.0 160.0,185.3 170.0,186.0 C180.0,186.7 190.0,187.3 200.0,188.0 C210.0,188.7 225.0,181.3 230.0,190.0 C235.0,198.7 251.7,231.7 230.0,240.0 C208.3,248.3 119.3,248.0 100.0,240.0 Z" fill="#3f3f3f" filter="url(#b3)" /><ellipse cx="178" cy="200" rx="14" ry="6" fill="#2b2b2b" filter="url(#b2)"/><path d="M-40.0,-40.0 L-50.6,-6.3 L-56.6,43.0 L-58.2,100.0 L-55.9,157.0 L-49.7,206.3 L-40.0,240.0 L-23.9,256.8 L-0.4,262.7 L26.8,260.9 L54.2,254.4 L78.5,246.4 L96.0,240.0 L106.1,233.7 L111.6,224.5 L113.8,213.9 L114.2,203.0 L114.5,193.3 L116.0,186.0 L118.5,181.3 L120.6,178.3 L122.5,176.4 L124.3,175.0 L126.1,173.8 L128.0,172.0 L130.0,169.9 L132.0,167.9 L133.9,165.9 L135.9,163.9 L137.9,162.0 L140.0,160.0 L142.2,158.9 L144.7,158.8 L147.2,158.8 L149.5,157.6 L151.5,154.4 L153.0,148.0 L153.9,136.9 L154.4,121.7 L154.6,104.4 L154.5,87.0 L154.3,71.5 L154.0,60.0 L153.8,52.8 L153.6,48.4 L153.2,45.9 L152.6,44.5 L151.5,43.5 L150.0,42.0 L147.7,40.4 L144.8,39.6 L141.5,39.0 L138.1,38.4 L134.8,37.6 L132.0,36.0 L129.6,34.2 L127.3,32.4 L125.1,30.2 L123.2,27.4 L121.5,23.5 L120.0,18.0 L120.6,10.0 L123.7,-0.5 L127.0,-12.1 L128.3,-23.5 L125.4,-33.2 L116.0,-40.0 L97.0,-46.6 L69.5,-54.7 L37.8,-61.1 L6.1,-62.9 L-21.3,-56.9 L-40.0,-40.0Z " fill="#9f9f9f" fill-rule="evenodd" filter="url(#b1_5)"/><path d="M144.7,158.8 L147.2,158.8 L149.5,157.6 L151.5,154.4 L153.0,148.0 L153.9,136.9 L154.4,121.7 L154.6,104.4 L154.5,87.0 L154.3,71.5 L154.0,60.0 L153.8,52.8 L153.6,48.4 L153.2,45.9 L152.6,44.5 L151.5,43.5 L150.0,42.0 L147.7,40.4 L144.8,39.6 L141.5,39.0 L138.8,38.6 L138.2,42.5 L140.8,42.9 L143.9,43.5 L146.0,44.1 L147.5,45.1 L148.7,46.3 L149.2,46.8 L149.3,47.0 L149.6,48.8 L149.8,53.0 L150.0,60.1 L150.3,71.6 L150.5,87.0 L150.6,104.4 L150.4,121.6 L149.9,136.7 L149.0,147.4 L147.8,152.9 L146.7,154.5 L146.2,154.8 L144.6,154.8 L142.1,154.9 L142.1,154.9 L143.6,158.3 L144.1,158.8 L144.7,158.8Z " fill="#b2b2b2" fill-rule="evenodd" filter="url(#b1)"/><path d="M-40.0,-40.0 C-14.7,-86.7 84.5,-48.3 112.0,-40.0 C139.5,-31.7 122.3,-1.7 125.0,10.0 C127.7,21.7 127.0,21.7 128.0,30.0 C129.0,38.3 130.0,50.0 131.0,60.0 C132.0,70.0 133.2,80.0 134.0,90.0 C134.8,100.0 135.7,110.0 136.0,120.0 C136.3,130.0 136.7,141.3 136.0,150.0 C135.3,158.7 134.7,165.3 132.0,172.0 C129.3,178.7 125.3,178.7 120.0,190.0 C114.7,201.3 126.7,231.7 100.0,240.0 C73.3,248.3 -16.7,286.7 -40.0,240.0 C-63.3,193.3 -65.3,6.7 -40.0,-40.0 Z" fill="#808080" filter="url(#b2)" /><path d="M-40.0,-40.0 C-16.3,-86.7 76.3,-48.3 102.0,-40.0 C127.7,-31.7 111.0,-1.7 114.0,10.0 C117.0,21.7 118.3,21.7 120.0,30.0 C121.7,38.3 122.7,50.0 124.0,60.0 C125.3,70.0 127.2,80.0 128.0,90.0 C128.8,100.0 128.8,110.0 129.0,120.0 C129.2,130.0 129.5,141.3 129.0,150.0 C128.5,158.7 128.2,165.3 126.0,172.0 C123.8,178.7 121.2,178.7 116.0,190.0 C110.8,201.3 121.0,231.7 95.0,240.0 C69.0,248.3 -17.5,286.7 -40.0,240.0 C-62.5,193.3 -63.7,6.7 -40.0,-40.0 Z" fill="#606060" filter="url(#b2)" /><path d="M-40.0,-40.0 C-18.0,-86.7 68.3,-48.3 92.0,-40.0 C115.7,-31.7 99.3,-1.7 102.0,10.0 C104.7,21.7 106.0,22.5 108.0,30.0 C110.0,37.5 112.0,45.0 114.0,55.0 C116.0,65.0 118.5,79.2 120.0,90.0 C121.5,100.8 122.5,110.0 123.0,120.0 C123.5,130.0 123.3,141.3 123.0,150.0 C122.7,158.7 122.7,165.7 121.0,172.0 C119.3,178.3 117.8,176.7 113.0,188.0 C108.2,199.3 117.5,231.3 92.0,240.0 C66.5,248.7 -18.0,286.7 -40.0,240.0 C-62.0,193.3 -62.0,6.7 -40.0,-40.0 Z" fill="#4c4c4c" filter="url(#b2)" /><path d="M-40.0,-40.0 C-20.0,-86.7 58.7,-48.3 80.0,-40.0 C101.3,-31.7 85.7,-1.7 88.0,10.0 C90.3,21.7 91.7,23.3 94.0,30.0 C96.3,36.7 99.2,43.3 102.0,50.0 C104.8,56.7 108.5,62.5 111.0,70.0 C113.5,77.5 115.5,86.7 117.0,95.0 C118.5,103.3 119.3,110.8 120.0,120.0 C120.7,129.2 121.2,141.3 121.0,150.0 C120.8,158.7 120.5,165.7 119.0,172.0 C117.5,178.3 116.8,176.7 112.0,188.0 C107.2,199.3 115.3,231.3 90.0,240.0 C64.7,248.7 -18.3,286.7 -40.0,240.0 C-61.7,193.3 -60.0,6.7 -40.0,-40.0 Z" fill="#353535" filter="url(#b2)" /><ellipse cx="104.0" cy="22.0" rx="11" ry="2.0" fill="#666666" filter="url(#b1)" transform="rotate(-61.1 104.0 22.0)"/><ellipse cx="106.7" cy="31.5" rx="11" ry="2.0" fill="#3f3f3f" filter="url(#b1)" transform="rotate(-57.3 106.7 31.5)"/><ellipse cx="109.4" cy="41.0" rx="11" ry="2.0" fill="#666666" filter="url(#b1)" transform="rotate(-53.0 109.4 41.0)"/><ellipse cx="112.1" cy="50.5" rx="11" ry="2.0" fill="#3f3f3f" filter="url(#b1)" transform="rotate(-48.2 112.1 50.5)"/><ellipse cx="114.9" cy="60.0" rx="11" ry="2.0" fill="#666666" filter="url(#b1)" transform="rotate(-42.8 114.9 60.0)"/><ellipse cx="117.6" cy="69.5" rx="11" ry="2.0" fill="#3f3f3f" filter="url(#b1)" transform="rotate(-36.8 117.6 69.5)"/><ellipse cx="120.3" cy="79.0" rx="11" ry="2.0" fill="#666666" filter="url(#b1)" transform="rotate(-30.3 120.3 79.0)"/><ellipse cx="123.0" cy="88.5" rx="11" ry="2.0" fill="#3f3f3f" filter="url(#b1)" transform="rotate(-23.3 123.0 88.5)"/><ellipse cx="124" cy="98.0" rx="11" ry="2.0" fill="#666666" filter="url(#b1)" transform="rotate(-16.6 124 98.0)"/><ellipse cx="124" cy="107.5" rx="11" ry="2.0" fill="#3f3f3f" filter="url(#b1)" transform="rotate(-9.6 124 107.5)"/><ellipse cx="124" cy="117.0" rx="11" ry="2.0" fill="#666666" filter="url(#b1)" transform="rotate(-2.3 124 117.0)"/><ellipse cx="124" cy="126.5" rx="11" ry="2.0" fill="#3f3f3f" filter="url(#b1)" transform="rotate(5.0 124 126.5)"/><ellipse cx="124" cy="136.0" rx="11" ry="2.0" fill="#666666" filter="url(#b1)" transform="rotate(12.2 124 136.0)"/><ellipse cx="124" cy="145.5" rx="11" ry="2.0" fill="#3f3f3f" filter="url(#b1)" transform="rotate(19.0 124 145.5)"/><ellipse cx="124" cy="155.0" rx="11" ry="2.0" fill="#666666" filter="url(#b1)" transform="rotate(25.3 124 155.0)"/><ellipse cx="124" cy="164.5" rx="11" ry="2.0" fill="#3f3f3f" filter="url(#b1)" transform="rotate(31.0 124 164.5)"/><path d="M83.5,21.6 L81.6,20.3 L81.5,20.2 L79.6,18.9 L79.4,18.8 L77.5,17.5 L77.3,17.3 L75.3,16.0 L75.0,15.8 L72.9,14.5 L72.6,14.2 L70.5,13.0 L68.6,11.8 L66.3,10.3 L66.1,10.1 L63.5,8.5 L62.6,7.9 L60.0,6.4 L58.2,5.5 L55.6,4.3 L54.0,3.7 L52.4,3.2 L49.9,2.6 L47.8,2.2 L45.6,2.0 L43.1,1.9 L41.3,2.0 L39.6,2.1 L37.1,2.5 L34.6,3.0 L32.1,3.7 L30.6,4.2 L28.1,5.2 L27.3,5.5 L24.8,6.5 L22.3,7.5 L22.3,7.5 L19.8,8.6 L19.2,8.8 L16.7,10.0 L16.0,10.3 L13.5,11.6 L12.8,11.9 L10.3,13.3 L9.6,13.7 L7.1,15.2 L6.4,15.7 L3.9,17.4 L2.6,18.3 L1.4,19.3 L-0.8,21.3 L-2.0,22.6 L-2.6,23.3 L-9.9,18.5 L-12.0,17.3 L-14.2,16.4 L-22.0,13.6 L-23.9,13.0 L-26.0,12.6 L-28.0,12.4 L-30.1,12.5 L-32.1,12.7 L-34.1,13.2 L-36.1,13.8 L-42.7,16.5 L-44.5,17.3 L-46.2,18.3 L-47.8,19.4 L-49.3,20.7 L-50.7,22.2 L-51.9,23.8 L-52.9,25.5 L-53.8,27.2 L-55.1,30.4 L-54.1,53.0 L-49.1,75.5 L-40.0,90.0 L-23.6,95.5 L0.4,94.8 L28.1,90.0 L55.7,83.0 L79.3,75.6 L95.0,70.0 L101.8,66.2 L102.6,62.6 L99.4,58.8 L94.1,54.1 L88.6,48.0 L85.0,40.0 L83.9,28.6 L83.9,21.9 L83.5,21.6Z " fill="#3d3d3d" fill-rule="evenodd" filter="url(#b3)"/><path d="M-40.0,-40.0 C-13.3,-48.7 94.7,-47.3 120.0,-40.0 C145.3,-32.7 117.0,-4.2 112.0,4.0 C107.0,12.2 98.7,8.0 90.0,9.0 C81.3,10.0 70.0,9.8 60.0,10.0 C50.0,10.2 46.7,9.7 30.0,10.0 C13.3,10.3 -28.3,20.3 -40.0,12.0 C-51.7,3.7 -66.7,-31.3 -40.0,-40.0 Z" fill="#646464" filter="url(#b2)" /><ellipse cx="12" cy="2" rx="10" ry="4" fill="#7c7c7c" filter="url(#b1_5)"/><ellipse cx="62" cy="2" rx="7" ry="4" fill="#7a7a7a" filter="url(#b1_5)"/><ellipse cx="100" cy="30" rx="8" ry="16" fill="#5a5a5a" filter="url(#b3)" transform="rotate(30 100 30)"/><ellipse cx="82" cy="22" rx="7" ry="10" fill="#5e5e5e" filter="url(#b3)" transform="rotate(30 82 22)"/><ellipse cx="108" cy="18" rx="12" ry="6" fill="#2f2f2f" filter="url(#b2)"/><ellipse cx="105" cy="6" rx="17" ry="8" fill="#1a1a1a" filter="url(#b2)"/><ellipse cx="103" cy="3" rx="4" ry="3" fill="#0e0e0e" filter="url(#b0_5)"/><path d="M-41.1,45.5 L-41.2,45.7 L-41.2,45.8 L-45.0,69.1 L-45.0,69.2 L-49.0,103.3 L-49.0,103.3 L-51.8,142.9 L-51.8,142.9 L-52.3,182.5 L-52.3,182.6 L-49.2,216.7 L-49.2,216.9 L-49.1,217.0 L-41.1,240.4 L-41.1,240.5 L-41.0,240.6 L-41.0,240.7 L-40.9,240.8 L-40.8,240.9 L-40.7,241.0 L-25.2,252.6 L-25.1,252.7 L-25.0,252.7 L-24.9,252.8 L-24.8,252.8 L-24.7,252.8 L-2.2,257.0 L-2.1,257.0 L-1.9,257.0 L24.2,255.7 L24.3,255.7 L50.6,251.2 L50.7,251.2 L73.8,245.6 L73.9,245.6 L90.3,241.2 L90.4,241.1 L90.5,241.1 L99.6,236.7 L99.7,236.6 L99.8,236.6 L99.9,236.5 L100.0,236.4 L100.1,236.3 L104.4,230.0 L104.5,229.9 L104.5,229.8 L104.6,229.7 L104.6,229.6 L104.6,229.5 L105.7,222.2 L105.8,222.0 L105.8,221.9 L105.2,214.4 L105.2,214.3 L104.5,207.5 L105.2,202.3 L106.9,198.6 L108.5,195.6 L110.0,193.3 L111.4,191.2 L111.4,191.2 L112.7,189.1 L112.8,189.0 L114.1,186.6 L114.1,186.5 L115.3,183.9 L115.3,183.9 L116.5,181.3 L116.5,181.3 L117.6,178.7 L117.6,178.7 L118.6,176.1 L118.6,176.0 L119.5,173.3 L119.5,173.2 L120.2,170.3 L120.2,170.2 L120.7,167.1 L120.7,167.1 L121.0,163.9 L121.0,163.9 L121.2,160.6 L121.2,160.6 L121.3,157.2 L121.3,157.2 L121.3,153.7 L121.3,153.6 L121.2,150.0 L121.2,150.0 L121.1,146.0 L121.1,146.0 L120.8,141.8 L120.8,141.8 L120.5,137.4 L120.5,137.4 L120.1,133.0 L120.1,133.0 L119.7,128.8 L119.7,128.8 L119.2,124.9 L119.2,124.8 L118.7,121.2 L118.7,121.1 L118.1,117.6 L118.1,117.6 L117.5,114.2 L117.5,114.1 L116.8,110.9 L116.8,110.8 L116.0,107.7 L116.0,107.7 L115.2,104.7 L115.1,104.6 L114.1,101.8 L114.1,101.7 L113.0,99.2 L113.0,99.1 L111.8,96.7 L111.8,96.6 L110.5,94.3 L109.3,91.9 L108.1,89.5 L106.9,87.0 L105.8,84.6 L104.7,82.1 L103.5,79.6 L102.3,77.1 L101.1,74.5 L99.8,71.7 L98.5,68.8 L97.2,65.8 L97.2,65.7 L95.8,62.8 L95.8,62.8 L94.4,60.0 L94.4,59.9 L93.1,57.4 L93.0,57.4 L91.7,55.2 L91.7,55.2 L90.5,53.2 L90.5,53.1 L89.2,51.3 L89.2,51.3 L87.9,49.6 L87.9,49.5 L86.5,47.9 L86.4,47.8 L84.9,46.2 L84.8,46.1 L83.0,44.5 L83.0,44.4 L81.0,42.9 L81.0,42.8 L79.0,41.3 L78.9,41.3 L76.8,39.9 L76.8,39.9 L74.7,38.4 L72.7,37.0 L70.7,35.6 L70.7,35.6 L68.8,34.3 L68.8,34.3 L66.9,32.9 L66.9,32.9 L64.9,31.6 L64.9,31.6 L62.8,30.3 L62.8,30.3 L60.6,29.0 L58.3,27.5 L55.9,25.9 L55.9,25.9 L53.3,24.2 L53.3,24.2 L50.7,22.7 L50.6,22.7 L48.0,21.5 L47.9,21.5 L47.8,21.5 L45.3,20.8 L45.2,20.8 L45.0,20.8 L42.5,20.7 L42.4,20.7 L42.3,20.7 L39.8,21.1 L39.7,21.1 L37.2,21.8 L37.1,21.9 L34.6,22.8 L34.5,22.8 L32.0,23.9 L29.5,24.9 L29.5,24.9 L27.0,25.9 L27.0,26.0 L24.5,27.1 L24.5,27.1 L22.0,28.4 L21.9,28.4 L19.4,29.8 L19.4,29.8 L16.9,31.3 L16.8,31.3 L14.3,33.0 L14.3,33.1 L14.2,33.1 L12.0,35.2 L11.9,35.2 L11.8,35.3 L10.0,37.8 L10.0,37.8 L8.1,40.3 L6.0,42.6 L3.4,44.5 L-0.0,45.7 L-5.2,44.3 L-12.3,39.5 L-12.3,39.5 L-20.3,34.2 L-20.4,34.1 L-20.5,34.1 L-28.3,31.3 L-28.4,31.2 L-28.5,31.2 L-28.7,31.2 L-28.8,31.2 L-28.9,31.2 L-29.0,31.3 L-29.1,31.3 L-35.8,33.9 L-35.9,34.0 L-36.0,34.0 L-36.1,34.1 L-36.2,34.2 L-36.3,34.3 L-36.3,34.4 L-36.4,34.5 L-36.5,34.6 L-41.1,45.5Z " fill="#292929" fill-rule="evenodd" filter="url(#b1_0)"/><path d="M-40.0,46.0 L-43.8,69.3 L-47.8,103.4 L-50.6,142.9 L-51.1,182.5 L-48.0,216.6 L-40.0,240.0 L-24.5,251.7 L-2.0,255.8 L24.1,254.5 L50.4,250.0 L73.5,244.4 L90.0,240.0 L99.1,235.6 L103.4,229.3 L104.6,222.0 L104.0,214.4 L103.3,207.5 L104.0,202.0 L105.8,198.1 L107.5,195.0 L109.0,192.6 L110.4,190.5 L111.7,188.4 L113.0,186.0 L114.2,183.4 L115.4,180.8 L116.5,178.2 L117.5,175.6 L118.3,172.9 L119.0,170.0 L119.5,167.0 L119.8,163.8 L120.0,160.6 L120.1,157.2 L120.1,153.7 L120.0,150.0 L119.9,146.1 L119.6,141.9 L119.3,137.5 L118.9,133.1 L118.5,128.9 L118.0,125.0 L117.5,121.3 L116.9,117.8 L116.3,114.4 L115.6,111.1 L114.9,108.0 L114.0,105.0 L113.0,102.2 L111.9,99.6 L110.7,97.2 L109.4,94.8 L108.2,92.4 L107.0,90.0 L105.8,87.5 L104.7,85.1 L103.6,82.6 L102.4,80.1 L101.2,77.6 L100.0,75.0 L98.7,72.2 L97.4,69.3 L96.1,66.2 L94.7,63.3 L93.3,60.5 L92.0,58.0 L90.7,55.8 L89.5,53.8 L88.2,52.0 L87.0,50.3 L85.6,48.6 L84.0,47.0 L82.2,45.4 L80.3,43.8 L78.2,42.3 L76.1,40.9 L74.0,39.4 L72.0,38.0 L70.0,36.6 L68.1,35.3 L66.2,33.9 L64.2,32.6 L62.2,31.3 L60.0,30.0 L57.7,28.5 L55.2,26.9 L52.7,25.2 L50.1,23.8 L47.5,22.6 L45.0,22.0 L42.5,21.9 L40.0,22.3 L37.5,23.0 L35.0,23.9 L32.5,25.0 L30.0,26.0 L27.5,27.0 L25.0,28.2 L22.5,29.4 L20.0,30.8 L17.5,32.3 L15.0,34.0 L12.8,36.0 L10.9,38.5 L9.1,41.1 L6.9,43.5 L3.9,45.6 L0.0,47.0 L-5.7,45.4 L-13.0,40.5 L-20.9,35.2 L-28.7,32.4 L-35.4,35.0 L-40.0,46.0Z " fill="#1b1b1b" fill-rule="evenodd" filter="url(#b2)"/><path d="M-8.5,166.0 L-8.0,166.9 L-7.8,167.3 L-6.4,169.4 L-5.9,170.3 L-4.4,172.4 L-3.4,173.7 L-1.7,175.6 L-0.6,176.9 L1.3,178.7 L2.1,179.5 L4.2,181.2 L4.8,181.8 L7.0,183.4 L7.5,183.8 L9.8,185.5 L10.2,185.8 L12.5,187.4 L12.8,187.5 L15.2,189.1 L15.5,189.3 L17.9,190.8 L18.4,191.1 L20.9,192.5 L21.3,192.7 L23.8,194.1 L24.2,194.3 L26.7,195.6 L27.0,195.7 L29.6,197.0 L29.8,197.1 L32.3,198.3 L32.7,198.5 L35.3,199.6 L35.8,199.8 L38.5,200.9 L38.8,201.0 L41.4,202.0 L41.5,202.0 L44.0,203.0 L46.1,203.8 L47.4,204.3 L47.9,204.6 L48.5,205.0 L49.7,205.8 L50.6,206.4 L52.1,207.2 L54.2,208.4 L55.9,209.1 L57.3,209.6 L58.9,210.0 L60.9,210.5 L63.0,210.9 L65.4,211.2 L66.6,211.3 L69.3,211.4 L70.4,211.4 L73.3,211.4 L74.5,211.3 L77.5,211.1 L78.8,210.9 L81.8,210.5 L83.4,210.2 L86.3,209.5 L88.1,208.9 L90.9,207.9 L92.3,207.3 L95.2,206.0 L96.3,205.5 L99.1,203.9 L100.0,203.4 L102.7,201.8 L103.4,201.3 L105.9,199.5 L106.6,199.0 L108.9,197.3 L109.8,196.6 L111.8,194.9 L112.8,193.9 L114.6,192.1 L115.5,191.1 L117.0,189.3 L117.7,188.4 L119.1,186.5 L119.7,185.7 L120.9,183.8 L121.4,183.1 L122.5,181.1 L122.9,180.5 L123.9,178.6 L124.3,177.7 L125.1,175.9 L125.6,174.7 L126.3,172.9 L126.8,171.7 L127.3,169.8 L127.6,168.6 L128.1,166.5 L128.3,165.6 L128.7,163.1 L128.9,162.2 L129.2,159.4 L129.3,158.5 L129.5,155.4 L129.6,154.8 L129.7,151.5 L129.7,151.1 L129.8,147.6 L129.8,147.5 L129.9,143.9 L130.0,140.4 L130.1,136.8 L130.1,136.7 L130.1,132.9 L130.1,132.8 L130.2,128.9 L130.2,128.7 L130.2,125.0 L130.2,124.7 L130.1,121.1 L130.1,120.7 L130.0,117.3 L130.0,117.0 L129.8,113.9 L129.8,113.7 L129.6,110.8 L129.6,110.4 L129.3,107.7 L129.2,107.0 L128.9,104.5 L128.7,103.6 L128.3,101.1 L128.1,100.0 L127.5,97.7 L127.1,96.3 L126.3,94.0 L125.8,92.6 L124.9,90.5 L124.4,89.5 L123.4,87.5 L123.0,86.7 L121.9,84.8 L121.7,84.5 L120.5,82.6 L120.5,82.6 L119.4,80.7 L119.4,80.7 L118.3,78.9 L118.1,78.5 L117.0,76.8 L116.7,76.4 L115.6,74.7 L115.3,74.3 L114.1,72.7 L113.8,72.2 L112.6,70.6 L112.2,70.2 L110.9,68.6 L110.9,68.5 L109.5,66.9 L109.5,66.9 L108.1,65.2 L107.8,64.9 L106.4,63.2 L105.7,62.5 L104.2,61.0 L103.1,60.0 L101.5,58.6 L99.9,57.3 L98.2,56.1 L96.4,55.1 L94.4,54.0 L93.1,53.4 L90.9,52.5 L89.7,52.0 L87.5,51.3 L86.3,50.9 L84.1,50.3 L82.9,50.0 L80.6,49.6 L79.3,49.4 L77.2,49.1 L75.7,49.0 L74.2,49.0 L72.1,49.1 L70.6,49.2 L70.3,49.3 L70.2,49.2 L69.6,47.5 L69.1,46.1 L68.4,44.6 L68.1,44.0 L67.5,42.7 L66.8,41.3 L66.5,40.7 L65.8,39.3 L64.8,37.6 L64.0,36.4 L62.9,34.8 L61.5,33.4 L60.6,32.5 L59.3,31.4 L57.9,30.4 L56.4,29.5 L54.9,28.8 L53.8,28.3 L52.2,27.8 L50.6,27.4 L48.9,27.1 L47.2,27.0 L45.5,27.1 L44.3,27.2 L42.5,27.4 L40.8,27.8 L39.1,28.4 L37.7,28.9 L36.4,29.5 L35.2,30.2 L33.7,31.1 L32.5,31.8 L31.0,32.9 L30.6,33.2 L29.0,34.3 L27.7,35.2 L26.3,36.2 L26.3,36.2 L24.5,37.4 L24.2,37.6 L22.4,38.9 L21.7,39.4 L20.0,40.8 L19.0,41.6 L17.4,43.1 L16.1,44.3 L14.7,45.9 L13.3,47.6 L12.1,49.4 L11.1,50.9 L10.0,52.8 L9.5,53.9 L8.5,55.9 L8.2,56.5 L7.3,58.6 L7.3,58.7 L6.4,60.7 L5.5,62.7 L4.5,64.9 L4.4,65.3 L3.4,67.7 L3.4,67.8 L2.4,70.2 L1.4,72.5 L0.5,74.5 L-0.4,76.5 L-0.4,76.6 L-1.3,78.6 L-1.5,79.0 L-1.6,79.3 L-3.6,79.8 L-5.4,80.4 L-7.1,81.2 L-8.7,82.2 L-10.3,83.4 L-12.2,85.0 L-13.4,86.2 L-14.6,87.4 L-15.6,88.8 L-16.4,90.2 L-17.2,91.7 L-18.5,94.9 L-19.1,96.4 L-19.5,97.9 L-19.8,99.5 L-20.6,105.0 L-20.7,106.7 L-21.1,114.2 L-21.1,115.0 L-21.1,123.5 L-21.1,124.0 L-20.9,132.5 L-20.9,133.0 L-20.5,140.5 L-20.4,141.1 L-19.9,146.6 L-19.7,148.5 L-19.0,151.7 L-18.6,153.4 L-18.0,155.0 L-17.3,156.6 L-16.5,158.2 L-15.5,159.8 L-14.3,161.4 L-13.0,162.8 L-11.5,164.1 L-9.9,165.2 L-8.9,165.8 L-8.5,166.0Z " fill="#171717" fill-rule="evenodd" filter="url(#b4)"/><path d="M0.3,155.5 L0.9,156.4 L2.0,158.2 L3.2,160.3 L3.3,160.4 L4.6,162.6 L4.8,162.8 L6.3,164.9 L6.5,165.3 L8.2,167.2 L8.5,167.6 L10.4,169.4 L10.6,169.6 L12.6,171.3 L12.8,171.5 L15.0,173.2 L15.1,173.3 L17.4,174.9 L17.5,175.0 L19.8,176.6 L19.9,176.7 L22.3,178.2 L22.4,178.3 L24.8,179.7 L24.9,179.8 L27.4,181.2 L27.5,181.3 L30.0,182.7 L30.1,182.7 L32.6,184.0 L32.7,184.0 L35.3,185.3 L35.3,185.3 L37.9,186.5 L38.0,186.6 L40.5,187.7 L40.7,187.8 L43.3,188.8 L43.4,188.9 L46.0,189.9 L46.1,189.9 L48.6,190.8 L50.9,191.7 L52.9,192.5 L54.4,193.3 L55.7,194.1 L57.1,195.1 L57.3,195.2 L58.8,196.1 L59.4,196.4 L61.0,197.1 L61.4,197.3 L61.8,197.4 L63.9,197.9 L64.4,198.0 L66.9,198.2 L67.2,198.3 L69.9,198.4 L70.2,198.4 L73.2,198.4 L73.5,198.4 L76.5,198.1 L76.9,198.1 L79.9,197.6 L80.3,197.6 L83.2,196.9 L83.7,196.7 L86.5,195.7 L86.9,195.5 L89.8,194.2 L90.1,194.1 L92.9,192.5 L93.1,192.4 L95.8,190.7 L96.1,190.6 L98.6,188.8 L98.8,188.7 L101.0,187.0 L101.3,186.8 L103.2,185.1 L103.5,184.8 L105.3,183.0 L105.5,182.7 L107.1,180.9 L107.3,180.7 L108.7,178.8 L108.8,178.5 L110.1,176.6 L110.2,176.5 L111.3,174.5 L111.4,174.4 L112.4,172.5 L112.5,172.3 L113.4,170.5 L113.5,170.1 L114.2,168.3 L114.3,168.0 L114.9,166.1 L114.9,165.7 L115.4,163.6 L115.5,163.3 L115.9,160.9 L116.0,160.6 L116.3,157.8 L116.3,157.5 L116.6,154.4 L116.6,154.2 L116.7,150.9 L116.7,150.8 L116.8,147.3 L116.9,147.2 L116.9,143.6 L117.0,140.1 L117.1,136.5 L117.1,136.5 L117.1,132.7 L117.1,132.6 L117.2,128.8 L117.2,128.7 L117.2,125.0 L117.2,124.9 L117.1,121.3 L117.1,121.2 L117.0,117.8 L117.0,117.7 L116.8,114.7 L116.8,114.6 L116.6,111.7 L116.6,111.6 L116.4,108.9 L116.3,108.7 L116.0,106.2 L116.0,105.9 L115.5,103.5 L115.4,103.2 L114.9,100.8 L114.7,100.4 L114.0,98.2 L113.8,97.8 L112.9,95.7 L112.8,95.4 L111.8,93.4 L111.7,93.2 L110.6,91.2 L110.5,91.1 L109.4,89.3 L109.4,89.3 L108.3,87.4 L108.3,87.4 L107.2,85.6 L107.1,85.5 L106.0,83.8 L106.0,83.7 L104.8,82.0 L104.7,81.9 L103.6,80.3 L103.5,80.1 L102.3,78.5 L102.2,78.4 L100.9,76.8 L100.9,76.8 L99.5,75.2 L99.5,75.2 L98.1,73.5 L98.1,73.4 L96.6,71.8 L96.4,71.6 L94.9,70.1 L94.6,69.8 L93.0,68.4 L92.6,68.1 L90.8,66.9 L90.3,66.6 L88.4,65.6 L88.0,65.4 L85.9,64.5 L85.5,64.3 L83.3,63.6 L83.0,63.5 L80.7,62.9 L80.4,62.8 L78.1,62.4 L77.8,62.3 L75.6,62.0 L75.2,62.0 L74.8,62.0 L72.7,62.1 L72.2,62.1 L71.8,62.2 L69.7,62.7 L69.3,62.8 L67.2,63.4 L65.5,63.9 L64.4,64.1 L64.2,64.1 L63.9,64.0 L63.4,63.6 L62.7,62.9 L62.0,61.9 L61.1,60.7 L60.3,59.4 L59.7,58.3 L59.2,57.0 L58.6,55.4 L58.1,53.7 L58.0,53.5 L57.4,51.8 L57.2,51.5 L56.6,49.9 L56.5,49.8 L55.8,48.4 L55.1,46.9 L55.0,46.7 L54.3,45.3 L54.0,44.8 L53.2,43.6 L52.8,43.1 L52.5,42.7 L51.6,41.8 L51.2,41.5 L50.8,41.2 L50.4,41.0 L50.0,40.8 L48.9,40.4 L48.4,40.2 L48.0,40.1 L47.5,40.0 L47.1,40.0 L46.6,40.0 L45.3,40.1 L44.8,40.2 L44.4,40.3 L43.9,40.5 L42.5,41.0 L42.1,41.2 L41.8,41.4 L40.3,42.3 L40.0,42.5 L38.4,43.6 L38.3,43.6 L36.7,44.8 L35.2,45.9 L33.6,47.0 L33.5,47.0 L31.8,48.2 L31.7,48.2 L29.9,49.5 L29.7,49.6 L28.0,51.0 L27.7,51.2 L26.1,52.7 L25.7,53.0 L24.3,54.6 L23.9,55.1 L22.7,56.9 L22.4,57.3 L21.4,59.2 L21.2,59.5 L20.2,61.5 L20.2,61.6 L19.3,63.7 L19.2,63.8 L18.4,65.9 L17.4,68.0 L16.4,70.2 L16.4,70.3 L15.4,72.7 L15.4,72.7 L14.4,75.2 L13.4,77.5 L12.4,79.8 L11.5,81.9 L11.4,81.9 L10.5,84.0 L10.5,84.1 L9.6,86.0 L8.9,87.8 L8.1,89.2 L7.3,90.4 L6.8,91.1 L6.6,91.2 L5.4,91.3 L3.2,91.5 L2.7,91.6 L2.3,91.7 L-0.0,92.3 L-0.5,92.5 L-1.0,92.7 L-1.5,93.0 L-1.9,93.3 L-3.8,95.0 L-4.2,95.3 L-4.5,95.6 L-4.8,96.0 L-5.0,96.4 L-5.2,96.8 L-6.6,100.0 L-6.8,100.4 L-6.9,100.9 L-7.0,101.3 L-7.7,106.8 L-7.8,107.3 L-8.1,114.8 L-8.1,115.0 L-8.1,123.5 L-8.1,123.6 L-7.9,132.1 L-7.9,132.3 L-7.5,139.8 L-7.5,139.9 L-7.0,145.4 L-6.9,146.0 L-6.3,149.2 L-6.2,149.6 L-6.0,150.1 L-5.8,150.5 L-4.9,152.1 L-4.7,152.6 L-4.3,153.0 L-4.0,153.4 L-3.6,153.8 L-3.1,154.1 L-2.1,154.7 L-1.7,154.9 L-1.3,155.1 L-0.8,155.3 L-0.3,155.4 L0.3,155.5Z " fill="#151515" fill-rule="evenodd" filter="url(#b3)"/><ellipse cx="60" cy="205" rx="60" ry="12" fill="#1b1b1b" filter="url(#b4)"/><path d="M47.0,45.0 L45.7,45.1 L44.3,45.7 L42.8,46.6 L41.2,47.7 L39.6,48.9 L38.0,50.0 L36.3,51.1 L34.6,52.3 L32.8,53.6 L31.1,54.9 L29.4,56.4 L28.0,58.0 L26.8,59.7 L25.7,61.6 L24.8,63.6 L23.9,65.7 L23.0,67.8 L22.0,70.0 L21.0,72.3 L20.0,74.6 L19.0,77.1 L18.0,79.5 L17.0,81.8 L16.0,84.0 L15.1,86.1 L14.2,88.0 L13.4,89.9 L12.4,91.7 L11.3,93.4 L10.0,95.0 L8.2,96.0 L6.0,96.3 L3.6,96.5 L1.3,97.1 L-0.6,98.8 L-2.0,102.0 L-2.8,107.5 L-3.1,115.0 L-3.1,123.5 L-2.9,132.0 L-2.5,139.5 L-2.0,145.0 L-1.4,148.2 L-0.5,149.8 L0.5,150.4 L1.6,150.6 L2.8,151.0 L4.0,152.0 L5.2,153.7 L6.3,155.7 L7.6,157.8 L8.9,160.0 L10.4,162.1 L12.0,164.0 L13.9,165.8 L15.9,167.6 L18.1,169.2 L20.3,170.9 L22.7,172.5 L25.0,174.0 L27.4,175.5 L29.9,176.9 L32.4,178.2 L34.9,179.6 L37.5,180.8 L40.0,182.0 L42.6,183.1 L45.2,184.2 L47.8,185.2 L50.4,186.1 L52.8,187.1 L55.0,188.0 L56.9,189.0 L58.4,190.0 L59.9,190.9 L61.3,191.8 L63.0,192.5 L65.0,193.0 L67.4,193.3 L70.2,193.4 L73.1,193.4 L76.1,193.1 L79.1,192.7 L82.0,192.0 L84.8,191.0 L87.7,189.7 L90.5,188.1 L93.2,186.4 L95.8,184.7 L98.0,183.0 L100.0,181.3 L101.7,179.5 L103.2,177.7 L104.6,175.8 L105.9,173.9 L107.0,172.0 L108.0,170.2 L108.8,168.4 L109.5,166.6 L110.1,164.6 L110.6,162.5 L111.0,160.0 L111.4,157.2 L111.6,154.0 L111.8,150.6 L111.9,147.1 L111.9,143.5 L112.0,140.0 L112.1,136.4 L112.1,132.6 L112.2,128.8 L112.2,125.0 L112.1,121.3 L112.0,118.0 L111.8,114.9 L111.6,112.1 L111.4,109.4 L111.0,106.8 L110.6,104.4 L110.0,102.0 L109.2,99.7 L108.3,97.6 L107.3,95.6 L106.2,93.7 L105.1,91.8 L104.0,90.0 L102.9,88.2 L101.8,86.5 L100.7,84.8 L99.5,83.2 L98.3,81.6 L97.0,80.0 L95.7,78.4 L94.3,76.7 L92.9,75.1 L91.4,73.6 L89.8,72.2 L88.0,71.0 L86.1,70.0 L83.9,69.1 L81.7,68.3 L79.4,67.7 L77.2,67.3 L75.0,67.0 L72.9,67.1 L70.7,67.6 L68.6,68.2 L66.6,68.8 L64.7,69.1 L63.0,69.0 L61.5,68.4 L60.2,67.4 L59.0,66.2 L57.9,64.9 L56.9,63.4 L56.0,62.0 L55.2,60.5 L54.5,58.8 L53.9,57.0 L53.3,55.2 L52.7,53.5 L52.0,52.0 L51.3,50.5 L50.6,49.0 L49.8,47.6 L49.0,46.3 L48.1,45.4 L47.0,45.0Z " fill="#101010" fill-rule="evenodd"/><ellipse cx="60" cy="120" rx="32" ry="30" fill="#0d0d0d" filter="url(#b8)"/><ellipse cx="62" cy="118" rx="12" ry="9" fill="#080808" filter="url(#b4)"/><ellipse cx="62" cy="73" rx="5" ry="6" fill="#1a1a1a" filter="url(#b1)"/><ellipse cx="34" cy="90" rx="3" ry="3" fill="#1a1a1a" filter="url(#b0_5)"/></g></g></g>
<g transform="translate(955.5,938.0)"><g clip-path="url(#cp200)"><rect width="200" height="200.2" fill="#fff"/><rect width="200" height="200.2" filter="url(#sh0)" mask="url(#mk0)"/><rect x="0" y="40" width="3" height="150" fill="#e00000" opacity="0.8"/></g></g>
<rect x="717.80" y="938.00" width="200.40" height="200.20" fill="none" stroke="#333" stroke-width="1.0" />
<rect x="955.50" y="938.00" width="200.00" height="200.20" fill="none" stroke="#333" stroke-width="1.0" />
<line x1="714.30" y1="959.70" x2="717.80" y2="959.70" stroke="#333" stroke-width="0.8" />
<line x1="952.00" y1="959.70" x2="955.50" y2="959.70" stroke="#333" stroke-width="0.8" />
<text x="711.5" y="963.6" font-size="10.8" text-anchor="end" textLength="13.5" lengthAdjust="spacingAndGlyphs" fill="#1a1a1a" >17</text>
<line x1="714.30" y1="991.20" x2="717.80" y2="991.20" stroke="#333" stroke-width="0.8" />
<line x1="952.00" y1="991.20" x2="955.50" y2="991.20" stroke="#333" stroke-width="0.8" />
<text x="711.5" y="995.1" font-size="10.8" text-anchor="end" textLength="13.5" lengthAdjust="spacingAndGlyphs" fill="#1a1a1a" >16</text>
<line x1="714.30" y1="1022.30" x2="717.80" y2="1022.30" stroke="#333" stroke-width="0.8" />
<line x1="952.00" y1="1022.30" x2="955.50" y2="1022.30" stroke="#333" stroke-width="0.8" />
<text x="711.5" y="1026.2" font-size="10.8" text-anchor="end" textLength="13.5" lengthAdjust="spacingAndGlyphs" fill="#1a1a1a" >15</text>
<line x1="714.30" y1="1053.40" x2="717.80" y2="1053.40" stroke="#333" stroke-width="0.8" />
<line x1="952.00" y1="1053.40" x2="955.50" y2="1053.40" stroke="#333" stroke-width="0.8" />
<text x="711.5" y="1057.3" font-size="10.8" text-anchor="end" textLength="13.5" lengthAdjust="spacingAndGlyphs" fill="#1a1a1a" >14</text>
<line x1="714.30" y1="1084.80" x2="717.80" y2="1084.80" stroke="#333" stroke-width="0.8" />
<line x1="952.00" y1="1084.80" x2="955.50" y2="1084.80" stroke="#333" stroke-width="0.8" />
<text x="711.5" y="1088.7" font-size="10.8" text-anchor="end" textLength="13.5" lengthAdjust="spacingAndGlyphs" fill="#1a1a1a" >13</text>
<line x1="714.30" y1="1116.00" x2="717.80" y2="1116.00" stroke="#333" stroke-width="0.8" />
<line x1="952.00" y1="1116.00" x2="955.50" y2="1116.00" stroke="#333" stroke-width="0.8" />
<text x="711.5" y="1119.9" font-size="10.8" text-anchor="end" textLength="13.5" lengthAdjust="spacingAndGlyphs" fill="#1a1a1a" >12</text>
<line x1="723.60" y1="1138.20" x2="723.60" y2="1141.70" stroke="#333" stroke-width="0.8" />
<text x="723.6" y="1150.5" font-size="10.8" text-anchor="middle" textLength="13.5" lengthAdjust="spacingAndGlyphs" fill="#1a1a1a" >80</text>
<line x1="753.95" y1="1138.20" x2="753.95" y2="1141.70" stroke="#333" stroke-width="0.8" />
<text x="754.0" y="1150.5" font-size="10.8" text-anchor="middle" textLength="13.5" lengthAdjust="spacingAndGlyphs" fill="#1a1a1a" >81</text>
<line x1="784.30" y1="1138.20" x2="784.30" y2="1141.70" stroke="#333" stroke-width="0.8" />
<text x="784.3" y="1150.5" font-size="10.8" text-anchor="middle" textLength="13.5" lengthAdjust="spacingAndGlyphs" fill="#1a1a1a" >82</text>
<line x1="814.65" y1="1138.20" x2="814.65" y2="1141.70" stroke="#333" stroke-width="0.8" />
<text x="814.7" y="1150.5" font-size="10.8" text-anchor="middle" textLength="13.5" lengthAdjust="spacingAndGlyphs" fill="#1a1a1a" >83</text>
<line x1="845.00" y1="1138.20" x2="845.00" y2="1141.70" stroke="#333" stroke-width="0.8" />
<text x="845.0" y="1150.5" font-size="10.8" text-anchor="middle" textLength="13.5" lengthAdjust="spacingAndGlyphs" fill="#1a1a1a" >84</text>
<line x1="875.35" y1="1138.20" x2="875.35" y2="1141.70" stroke="#333" stroke-width="0.8" />
<text x="875.4" y="1150.5" font-size="10.8" text-anchor="middle" textLength="13.5" lengthAdjust="spacingAndGlyphs" fill="#1a1a1a" >85</text>
<line x1="905.70" y1="1138.20" x2="905.70" y2="1141.70" stroke="#333" stroke-width="0.8" />
<text x="905.7" y="1150.5" font-size="10.8" text-anchor="middle" textLength="13.5" lengthAdjust="spacingAndGlyphs" fill="#1a1a1a" >86</text>
<line x1="961.80" y1="1138.20" x2="961.80" y2="1141.70" stroke="#333" stroke-width="0.8" />
<line x1="992.13" y1="1138.20" x2="992.13" y2="1141.70" stroke="#333" stroke-width="0.8" />
<line x1="1022.46" y1="1138.20" x2="1022.46" y2="1141.70" stroke="#333" stroke-width="0.8" />
<line x1="1052.79" y1="1138.20" x2="1052.79" y2="1141.70" stroke="#333" stroke-width="0.8" />
<line x1="1083.12" y1="1138.20" x2="1083.12" y2="1141.70" stroke="#333" stroke-width="0.8" />
<line x1="1113.45" y1="1138.20" x2="1113.45" y2="1141.70" stroke="#333" stroke-width="0.8" />
<line x1="1143.78" y1="1138.20" x2="1143.78" y2="1141.70" stroke="#333" stroke-width="0.8" />
<text x="818.0" y="1171.5" font-size="11.4" text-anchor="middle" textLength="78.0" lengthAdjust="spacingAndGlyphs" fill="#1a1a1a" >3h old IR Data</text>
<text x="1055.5" y="1171.5" font-size="11.4" text-anchor="middle" textLength="121.0" lengthAdjust="spacingAndGlyphs" fill="#1a1a1a" >SHAP Value=-0.99 kts</text>
<g transform="translate(717.8,1175.8)"><g clip-path="url(#cp200)"><g filter="url(#cm1)"><path d="M-30.0,-30.0 L230.0,-30.0 L230.0,230.0 L-30.0,230.0 Z" fill="#cccccc" /><ellipse cx="170" cy="90" rx="25" ry="50" fill="#d2d2d2" filter="url(#b8)"/><ellipse cx="150" cy="160" rx="15" ry="25" fill="#c6c6c6" filter="url(#b6)"/><ellipse cx="167" cy="20" rx="3" ry="16" fill="#a1a1a1" filter="url(#b1)"/><ellipse cx="167" cy="22" rx="1.5" ry="12" fill="#7c7c7c" filter="url(#b1)"/><ellipse cx="197" cy="25" rx="3" ry="18" fill="#a1a1a1" filter="url(#b1)"/><ellipse cx="198" cy="120" rx="4" ry="14" fill="#adadad" filter="url(#b1_5)"/><ellipse cx="200" cy="45" rx="3" ry="12" fill="#adadad" filter="url(#b1)"/><ellipse cx="136" cy="8" rx="7" ry="12" fill="#a1a1a1" filter="url(#b1)"/><ellipse cx="136" cy="8" rx="5" ry="10" fill="#434343" filter="url(#b1_5)"/><ellipse cx="165" cy="152" rx="19.5" ry="8" fill="#9b9b9b" filter="url(#b1)" transform="rotate(-30 165 152)"/><ellipse cx="185" cy="160" rx="21.5" ry="8" fill="#9b9b9b" filter="url(#b1)" transform="rotate(-35 185 160)"/><ellipse cx="158" cy="185" rx="19.5" ry="9" fill="#9b9b9b" filter="url(#b1)" transform="rotate(-30 158 185)"/><ellipse cx="192" cy="145" rx="15.5" ry="8" fill="#9b9b9b" filter="url(#b1)" transform="rotate(-40 192 145)"/><ellipse cx="180" cy="180" rx="18.5" ry="11" fill="#9b9b9b" filter="url(#b1)" transform="rotate(-35 180 180)"/><ellipse cx="150" cy="198" rx="17.5" ry="9" fill="#9b9b9b" filter="url(#b1)" transform="rotate(-10 150 198)"/><ellipse cx="198" cy="185" rx="9.5" ry="17" fill="#9b9b9b" filter="url(#b1)"/><ellipse cx="165" cy="152" rx="16" ry="5" fill="#7e7e7e" filter="url(#b1_5)" transform="rotate(-30 165 152)"/><ellipse cx="185" cy="160" rx="18" ry="5" fill="#7c7c7c" filter="url(#b1_5)" transform="rotate(-35 185 160)"/><ellipse cx="158" cy="185" rx="16" ry="6" fill="#6e6e6e" filter="url(#b1_5)" transform="rotate(-30 158 185)"/><ellipse cx="192" cy="145" rx="12" ry="5" fill="#7e7e7e" filter="url(#b1_5)" transform="rotate(-40 192 145)"/><ellipse cx="180" cy="180" rx="15" ry="8" fill="#3f3f3f" filter="url(#b1_5)" transform="rotate(-35 180 180)"/><ellipse cx="150" cy="198" rx="14" ry="6" fill="#666666" filter="url(#b1_5)" transform="rotate(-10 150 198)"/><ellipse cx="198" cy="185" rx="6" ry="14" fill="#767676" filter="url(#b1_5)"/><ellipse cx="184" cy="178" rx="5" ry="3" fill="#272727" filter="url(#b1)" transform="rotate(-35 184 178)"/><ellipse cx="196" cy="170" rx="5" ry="10" fill="#5e5e5e" filter="url(#b1_5)"/><ellipse cx="150" cy="198" rx="10" ry="5" fill="#666666" filter="url(#b1_5)"/><path d="M-40.0,-40.0 L-50.6,-6.3 L-57.1,43.0 L-59.4,100.0 L-57.3,157.0 L-50.9,206.3 L-40.0,240.0 L-21.1,256.7 L6.6,262.2 L38.6,260.0 L70.7,253.3 L98.6,245.6 L118.0,240.0 L127.9,235.5 L131.5,229.3 L130.9,221.9 L128.2,214.1 L125.5,206.6 L125.0,200.0 L126.3,194.3 L127.6,188.9 L129.0,183.8 L130.4,178.9 L131.7,174.3 L133.0,170.0 L134.3,166.1 L135.6,162.6 L136.8,159.4 L138.0,156.3 L139.1,153.2 L140.0,150.0 L140.8,146.7 L141.4,143.6 L141.9,140.4 L142.4,137.2 L142.7,133.7 L143.0,130.0 L143.2,125.9 L143.4,121.4 L143.5,116.7 L143.5,112.0 L143.3,107.3 L143.0,103.0 L142.5,99.0 L141.9,95.1 L141.1,91.4 L140.2,87.7 L139.2,83.9 L138.0,80.0 L136.6,75.9 L135.0,71.6 L133.3,67.3 L131.5,63.0 L129.7,58.9 L128.0,55.0 L126.3,51.3 L124.5,47.8 L122.8,44.4 L121.0,41.1 L119.4,38.0 L118.0,35.0 L116.7,32.7 L115.5,31.3 L114.4,30.0 L113.4,28.1 L112.6,25.0 L112.0,20.0 L113.4,11.9 L117.2,1.1 L121.1,-10.9 L123.0,-22.8 L120.7,-33.0 L112.0,-40.0 L93.7,-46.7 L67.0,-54.8 L36.0,-61.2 L5.0,-63.0 L-21.7,-56.9 L-40.0,-40.0Z " fill="#a3a3a3" fill-rule="evenodd" filter="url(#b1_5)"/><path d="M-50.6,-6.3 L-57.1,43.0 L-59.4,100.0 L-57.3,157.0 L-50.9,206.3 L-40.0,240.0 L-21.1,256.7 L6.6,262.2 L38.6,260.0 L70.7,253.3 L98.6,245.6 L118.0,240.0 L127.9,235.5 L131.5,229.3 L130.9,221.9 L128.2,214.1 L125.5,206.6 L125.0,200.0 L126.3,194.3 L127.6,188.9 L129.0,183.8 L130.4,178.9 L131.7,174.3 L133.0,170.0 L134.3,166.1 L135.6,162.6 L136.8,159.4 L138.0,156.3 L139.1,153.2 L140.0,150.0 L140.8,146.7 L141.4,143.6 L141.9,140.4 L142.4,137.2 L142.7,133.7 L143.0,130.0 L143.2,125.9 L143.4,121.4 L143.5,116.7 L143.5,112.0 L143.3,107.3 L143.0,103.0 L142.5,99.0 L141.9,95.1 L141.1,91.4 L140.2,87.7 L139.2,83.9 L138.0,80.0 L136.6,75.9 L135.0,71.6 L133.3,67.3 L131.5,63.0 L129.7,58.9 L128.0,55.0 L126.3,51.3 L124.5,47.8 L122.8,44.4 L121.0,41.1 L119.4,38.0 L118.0,35.0 L116.7,32.7 L115.5,31.3 L114.4,30.0 L113.4,28.1 L112.6,25.0 L112.0,20.0 L113.4,11.9 L117.2,1.1 L121.1,-10.9 L123.0,-22.8 L120.7,-33.0 L112.0,-40.0 L93.7,-46.7 L67.0,-54.8 L36.0,-61.2 L5.0,-63.0 L-21.7,-56.9 L-40.0,-40.0 L-50.6,-6.3Z M-19.8,-53.2 L5.4,-58.9 L35.5,-57.3 L66.0,-50.9 L92.4,-42.9 L110.0,-36.5 L117.1,-30.7 L119.0,-22.6 L117.2,-11.9 L113.4,-0.2 L109.6,10.6 L109.5,10.9 L109.5,11.2 L108.1,19.3 L108.0,19.7 L108.0,20.1 L108.0,20.5 L108.6,25.5 L108.7,26.0 L109.5,29.1 L109.7,29.6 L109.9,30.0 L110.8,31.9 L111.1,32.2 L111.3,32.6 L112.4,33.9 L113.4,35.0 L114.5,36.9 L115.8,39.7 L115.9,39.8 L117.5,42.9 L117.5,43.0 L119.2,46.2 L121.0,49.6 L122.7,53.1 L124.4,56.7 L126.1,60.5 L127.8,64.6 L129.6,68.8 L131.3,73.1 L132.9,77.2 L134.2,81.2 L135.3,85.0 L136.4,88.7 L137.2,92.2 L138.0,95.8 L138.6,99.5 L139.0,103.4 L139.3,107.6 L139.5,112.0 L139.5,116.7 L139.4,121.3 L139.2,125.7 L139.0,129.7 L138.7,133.4 L138.4,136.7 L138.0,139.8 L137.5,142.9 L136.9,145.9 L136.1,149.0 L135.3,152.0 L134.2,154.9 L133.1,157.9 L131.8,161.1 L131.8,161.2 L130.5,164.7 L130.5,164.9 L129.2,168.8 L129.2,168.9 L127.9,173.2 L127.9,173.2 L126.5,177.8 L126.5,177.8 L125.2,182.7 L125.1,182.7 L123.8,187.9 L123.7,187.9 L122.4,193.3 L122.4,193.4 L121.1,199.1 L121.0,199.5 L121.0,199.9 L121.0,200.3 L121.5,206.9 L121.6,207.2 L121.7,207.6 L121.8,207.9 L124.4,215.4 L126.9,222.7 L127.4,228.4 L125.1,232.4 L116.6,236.2 L97.5,241.7 L69.7,249.4 L38.0,256.0 L6.8,258.2 L-19.2,253.0 L-36.5,237.7 L-47.0,205.4 L-53.3,156.7 L-55.4,100.0 L-53.1,43.3 L-46.7,-5.4 L-36.5,-37.8 L-19.8,-53.2Z " fill="#b2b2b2" fill-rule="evenodd" filter="url(#b1)"/><path d="M98.8,245.5 L104.3,234.0 L104.9,230.0 L105.1,219.2 L103.4,206.7 L115.2,192.5 L122.1,181.0 L131.3,162.4 L134.9,150.3 L135.3,143.0 L135.0,133.4 L137.9,113.5 L138.2,97.1 L136.9,86.3 L134.4,74.4 L131.4,65.9 L126.9,57.4 L122.4,51.0 L117.1,45.1 L112.3,41.1 L106.2,37.1 L98.4,33.1 L83.3,27.5 L64.4,18.7 L55.6,15.4 L42.4,12.6 L15.9,9.0 L7.6,9.5 L0.7,12.0 L-10.2,4.6 L-14.9,2.3 L-26.3,-1.0 L-33.4,-0.5 L-46.6,5.8 L-51.4,11.0 L-53.5,15.3 L-57.1,43.0 L-59.4,100.0 L-57.3,157.0 L-50.9,206.3 L-40.0,240.0 L-21.1,256.7 L6.6,262.2 L38.6,260.0 L70.7,253.3 L98.8,245.5Z " fill="#979797" fill-rule="evenodd" filter="url(#b1_2)"/><path d="M-48.9,31.7 L-52.6,57.0 L-56.2,93.8 L-58.3,129.8 L-57.3,157.0 L-50.9,206.3 L-40.0,240.0 L-21.1,256.7 L6.6,262.2 L38.6,260.0 L43.4,259.0 L77.8,248.6 L87.2,243.3 L90.7,239.6 L94.6,231.5 L95.2,222.1 L93.3,206.8 L93.7,203.7 L97.0,198.3 L107.2,186.4 L111.7,179.1 L121.8,159.1 L124.9,149.1 L125.0,132.7 L128.0,112.7 L128.2,98.0 L127.0,88.0 L124.7,76.9 L122.1,69.7 L118.5,62.9 L110.3,52.5 L101.0,45.6 L94.7,42.4 L79.5,36.7 L55.9,26.1 L43.8,22.9 L15.3,18.9 L9.9,19.2 L6.5,20.2 L0.9,23.7 L-1.2,22.9 L-15.8,12.9 L-27.5,8.9 L-32.5,9.7 L-39.2,13.0 L-41.9,15.0 L-43.7,17.8 L-48.9,31.7Z " fill="#808080" fill-rule="evenodd" filter="url(#b1_2)"/><path d="M-45.9,32.1 L-49.6,57.3 L-53.2,94.0 L-55.7,136.1 L-55.9,167.9 L-50.9,206.3 L-40.0,240.0 L-21.1,256.7 L5.7,262.1 L18.1,261.3 L41.9,256.3 L76.8,245.7 L85.7,240.7 L88.0,238.3 L91.3,231.9 L91.9,229.4 L92.2,220.9 L90.3,206.8 L90.8,202.8 L94.6,196.5 L102.5,187.6 L109.1,177.7 L119.1,157.9 L122.0,148.7 L122.0,132.4 L125.0,112.7 L125.3,98.5 L124.1,88.5 L121.8,77.6 L119.4,70.9 L116.0,64.5 L108.3,54.7 L103.9,51.0 L96.9,46.7 L78.3,39.5 L56.9,29.7 L46.4,26.5 L14.5,21.9 L7.7,22.9 L3.0,26.1 L0.6,26.8 L-2.6,25.6 L-17.4,15.4 L-29.0,11.9 L-31.2,12.4 L-39.7,17.0 L-45.9,32.1Z " fill="#646464" fill-rule="evenodd" filter="url(#b1_2)"/><path d="M-43.5,32.5 L-47.1,57.6 L-50.7,94.1 L-53.2,136.3 L-53.5,178.6 L-50.9,206.3 L-40.0,240.0 L-21.1,256.7 L-3.8,260.1 L17.6,258.8 L40.9,254.0 L76.1,243.3 L84.4,238.6 L85.8,237.1 L89.4,229.3 L89.7,221.3 L87.8,206.8 L88.4,202.0 L92.6,195.0 L100.5,186.1 L106.9,176.5 L116.8,156.8 L119.5,148.4 L119.5,132.3 L122.5,112.4 L122.8,98.7 L121.6,88.9 L119.4,78.2 L117.1,71.8 L113.9,65.9 L106.6,56.5 L102.5,53.1 L95.7,48.9 L77.3,41.8 L56.0,32.0 L46.1,29.0 L14.5,24.4 L8.6,25.3 L4.2,28.3 L0.3,29.4 L-3.8,27.8 L-18.8,17.5 L-28.8,14.4 L-37.9,18.7 L-43.5,32.5Z " fill="#4c4c4c" fill-rule="evenodd" filter="url(#b1_2)"/><path d="M-41.5,32.8 L-45.1,57.8 L-48.7,94.2 L-51.2,136.4 L-51.5,178.7 L-48.8,212.8 L-40.0,240.0 L-23.4,254.6 L-6.2,258.3 L17.2,256.8 L40.5,252.0 L75.5,241.4 L83.4,236.8 L87.4,229.3 L87.7,221.5 L85.8,206.9 L86.5,201.4 L91.0,193.8 L98.9,184.9 L105.1,175.5 L115.0,156.0 L117.5,148.2 L117.5,132.1 L120.5,112.2 L120.8,98.8 L119.6,89.2 L117.5,78.7 L115.2,72.6 L112.3,67.0 L105.3,58.0 L101.4,54.8 L94.7,50.7 L76.6,43.6 L55.2,33.9 L45.6,30.9 L14.6,26.4 L9.4,27.1 L5.1,30.1 L0.1,31.5 L-4.8,29.6 L-19.9,19.1 L-28.7,16.4 L-36.4,20.1 L-41.5,32.8Z " fill="#373737" fill-rule="evenodd" filter="url(#b1_2)"/><path d="M89.5,18.1 L87.6,17.3 L85.7,16.5 L83.6,15.5 L81.3,14.4 L78.9,13.2 L78.6,13.1 L76.2,11.9 L75.6,11.7 L73.2,10.6 L73.0,10.5 L70.9,9.6 L68.8,8.7 L68.5,8.5 L66.5,7.7 L65.6,7.3 L63.6,6.5 L62.3,6.1 L60.1,5.3 L58.7,4.8 L56.2,4.2 L54.8,3.8 L52.1,3.1 L50.9,2.9 L48.0,2.3 L47.2,2.2 L44.2,1.7 L43.7,1.6 L40.6,1.2 L40.3,1.1 L37.2,0.7 L37.1,0.7 L34.3,0.3 L31.7,-0.1 L28.7,-0.6 L28.5,-0.6 L25.3,-1.1 L24.4,-1.3 L21.3,-1.7 L19.6,-1.8 L16.7,-2.0 L13.7,-2.1 L11.1,-2.0 L8.0,-1.7 L5.0,-1.2 L3.0,-0.7 L2.1,-0.4 L-4.1,-4.6 L-6.5,-6.0 L-9.0,-7.2 L-11.6,-8.2 L-19.4,-10.7 L-22.1,-11.4 L-25.0,-11.9 L-27.8,-12.1 L-30.6,-12.1 L-33.5,-11.8 L-36.2,-11.2 L-38.9,-10.3 L-41.6,-9.2 L-48.3,-6.0 L-50.8,-4.6 L-52.0,-3.8 L-49.4,9.6 L-45.0,21.9 L-40.0,30.0 L-33.2,33.4 L-23.7,33.5 L-12.5,31.6 L-0.7,28.7 L10.5,26.1 L20.0,25.0 L27.9,25.4 L35.2,26.5 L41.9,27.8 L48.1,29.1 L54.1,29.9 L60.0,30.0 L65.9,29.8 L71.7,29.6 L77.2,29.1 L82.2,27.6 L86.6,24.7 L90.0,20.0 L90.7,18.5 L89.5,18.1Z " fill="#414141" fill-rule="evenodd" filter="url(#b3)"/><ellipse cx="40" cy="5" rx="25" ry="6" fill="#565656" filter="url(#b3)"/><ellipse cx="75" cy="10" rx="10" ry="12" fill="#626262" filter="url(#b3)"/><ellipse cx="3" cy="3" rx="6" ry="6" fill="#7c7c7c" filter="url(#b2)"/><ellipse cx="88" cy="12" rx="5" ry="14" fill="#7e7e7e" filter="url(#b2)"/><ellipse cx="65" cy="25" rx="5" ry="2.5" fill="#181818" filter="url(#b0_5)"/><path d="M-41.1,32.6 L-41.2,32.7 L-41.2,32.8 L-44.8,57.7 L-44.8,57.8 L-48.4,94.2 L-48.4,94.3 L-50.9,136.4 L-50.9,136.5 L-51.2,178.7 L-51.2,178.8 L-48.3,215.2 L-48.3,215.3 L-48.3,215.4 L-41.2,240.3 L-41.1,240.4 L-41.1,240.5 L-41.0,240.6 L-41.0,240.7 L-40.9,240.8 L-40.8,240.9 L-27.1,253.3 L-27.0,253.4 L-26.9,253.5 L-26.8,253.5 L-26.6,253.6 L-26.5,253.6 L-6.6,258.0 L-6.4,258.0 L-6.3,258.0 L-6.2,258.0 L16.9,256.6 L17.1,256.6 L40.4,251.7 L40.5,251.7 L60.9,245.8 L60.9,245.8 L75.4,241.1 L75.5,241.1 L75.6,241.0 L83.3,236.6 L83.4,236.5 L83.5,236.4 L83.6,236.4 L83.6,236.3 L83.7,236.2 L83.8,236.1 L87.0,229.7 L87.0,229.6 L87.1,229.5 L87.1,229.4 L87.1,229.2 L87.4,221.8 L87.4,221.7 L87.4,221.6 L86.4,213.9 L85.5,206.9 L86.2,201.4 L88.3,197.2 L90.8,193.6 L93.4,190.5 L96.1,187.6 L96.1,187.6 L98.6,184.8 L98.7,184.7 L101.0,181.7 L101.0,181.6 L103.0,178.5 L103.0,178.5 L104.9,175.4 L104.9,175.3 L106.6,172.3 L106.6,172.3 L108.2,169.3 L108.2,169.2 L109.7,166.3 L109.7,166.3 L111.1,163.5 L111.1,163.5 L112.4,160.9 L112.4,160.9 L113.6,158.3 L113.6,158.3 L114.7,155.9 L114.7,155.8 L115.7,153.4 L115.7,153.3 L116.5,150.9 L116.6,150.8 L117.2,148.3 L117.2,148.1 L117.5,145.6 L117.5,145.4 L117.5,142.9 L117.5,142.8 L117.4,140.2 L117.4,140.2 L117.2,137.6 L117.1,134.9 L117.2,132.1 L117.6,129.0 L118.1,125.7 L119.3,118.7 L119.3,118.7 L119.8,115.3 L119.8,115.3 L120.2,112.1 L120.2,112.1 L120.4,109.2 L120.4,109.2 L120.6,106.6 L120.6,106.6 L120.6,104.0 L120.6,104.0 L120.6,101.5 L120.6,101.4 L120.5,98.8 L120.5,98.7 L120.2,95.9 L120.2,95.9 L119.8,92.7 L119.8,92.7 L119.3,89.3 L119.3,89.2 L118.7,85.7 L118.7,85.7 L118.0,82.2 L118.0,82.1 L117.2,78.8 L117.1,78.7 L116.1,75.6 L116.1,75.5 L114.9,72.7 L114.9,72.6 L113.6,69.9 L113.5,69.8 L112.0,67.2 L112.0,67.2 L110.4,64.7 L110.4,64.7 L108.7,62.4 L108.7,62.3 L106.9,60.2 L106.9,60.2 L105.1,58.3 L105.1,58.2 L103.3,56.6 L103.2,56.5 L101.3,55.1 L101.2,55.0 L99.2,53.6 L99.2,53.6 L97.0,52.3 L97.0,52.3 L94.6,50.9 L94.5,50.9 L91.8,49.6 L91.8,49.6 L88.8,48.4 L88.7,48.4 L85.6,47.2 L85.6,47.2 L82.4,46.1 L79.3,45.0 L76.5,43.9 L73.8,42.7 L71.2,41.5 L68.7,40.3 L66.3,39.1 L66.3,39.1 L63.9,38.0 L63.8,38.0 L61.5,36.9 L61.5,36.9 L59.3,35.9 L57.2,35.0 L57.2,35.0 L55.2,34.1 L55.1,34.1 L53.1,33.3 L53.0,33.3 L50.8,32.6 L50.8,32.5 L48.3,31.8 L48.3,31.8 L45.6,31.2 L45.5,31.2 L42.6,30.6 L42.6,30.6 L39.5,30.1 L39.5,30.1 L36.4,29.7 L36.3,29.7 L33.2,29.2 L33.2,29.2 L30.2,28.8 L27.1,28.3 L24.0,27.8 L24.0,27.8 L20.8,27.3 L20.8,27.3 L17.7,26.9 L17.6,26.9 L14.7,26.7 L14.6,26.7 L12.0,26.8 L11.8,26.8 L11.7,26.8 L9.7,27.3 L9.6,27.4 L9.5,27.4 L9.4,27.5 L8.0,28.3 L7.9,28.4 L7.8,28.4 L6.6,29.4 L5.3,30.4 L3.2,31.2 L0.1,31.8 L-4.9,29.8 L-12.0,24.7 L-12.1,24.7 L-20.1,19.4 L-20.2,19.3 L-20.3,19.3 L-20.4,19.2 L-28.2,16.7 L-28.3,16.7 L-28.4,16.7 L-28.6,16.7 L-28.7,16.7 L-28.8,16.7 L-28.9,16.7 L-29.0,16.7 L-29.1,16.8 L-35.8,20.0 L-35.9,20.0 L-36.0,20.1 L-36.1,20.2 L-36.2,20.3 L-36.3,20.3 L-36.3,20.4 L-36.4,20.5 L-36.4,20.6 L-41.1,32.6Z " fill="#292929" fill-rule="evenodd" filter="url(#b1_0)"/><path d="M-40.0,33.0 L-43.6,57.9 L-47.2,94.3 L-49.7,136.5 L-50.0,178.7 L-47.1,215.1 L-40.0,240.0 L-26.3,252.4 L-6.3,256.8 L16.9,255.4 L40.2,250.6 L60.6,244.7 L75.0,240.0 L82.7,235.5 L85.9,229.2 L86.2,221.8 L85.2,214.0 L84.3,206.9 L85.0,201.0 L87.3,196.5 L89.8,192.9 L92.5,189.7 L95.2,186.8 L97.7,184.0 L100.0,181.0 L102.0,177.8 L103.9,174.7 L105.6,171.7 L107.1,168.7 L108.6,165.8 L110.0,163.0 L111.3,160.3 L112.5,157.8 L113.6,155.4 L114.6,153.0 L115.4,150.5 L116.0,148.0 L116.3,145.4 L116.3,142.9 L116.2,140.3 L116.0,137.7 L115.9,134.9 L116.0,132.0 L116.4,128.9 L116.9,125.5 L117.5,122.0 L118.1,118.5 L118.6,115.1 L119.0,112.0 L119.2,109.1 L119.4,106.5 L119.4,104.0 L119.4,101.5 L119.3,98.9 L119.0,96.0 L118.6,92.8 L118.1,89.4 L117.6,85.9 L116.9,82.4 L116.0,79.1 L115.0,76.0 L113.8,73.1 L112.5,70.4 L111.0,67.8 L109.4,65.4 L107.7,63.1 L106.0,61.0 L104.2,59.1 L102.4,57.5 L100.6,56.0 L98.6,54.6 L96.4,53.3 L94.0,52.0 L91.3,50.7 L88.3,49.5 L85.2,48.4 L82.0,47.3 L78.9,46.1 L76.0,45.0 L73.3,43.8 L70.7,42.6 L68.2,41.4 L65.7,40.2 L63.3,39.1 L61.0,38.0 L58.8,37.0 L56.7,36.1 L54.7,35.2 L52.6,34.4 L50.4,33.7 L48.0,33.0 L45.3,32.4 L42.4,31.8 L39.3,31.3 L36.2,30.9 L33.1,30.4 L30.0,30.0 L26.9,29.5 L23.8,29.0 L20.6,28.5 L17.6,28.1 L14.7,27.9 L12.0,28.0 L10.0,28.5 L8.6,29.3 L7.4,30.4 L5.9,31.4 L3.6,32.4 L0.0,33.0 L-5.5,30.9 L-12.7,25.7 L-20.8,20.4 L-28.6,17.9 L-35.3,21.1 L-40.0,33.0Z " fill="#1b1b1b" fill-rule="evenodd" filter="url(#b2)"/><ellipse cx="15" cy="200" rx="40" ry="25" fill="#292929" filter="url(#b5)"/><path d="M11.2,47.9 L10.0,46.8 L8.7,45.7 L7.2,44.7 L5.6,43.9 L4.0,43.2 L2.3,42.7 L0.6,42.3 L-1.2,42.1 L-2.9,42.1 L-4.7,42.3 L-6.4,42.7 L-8.1,43.2 L-9.8,43.8 L-11.3,44.7 L-12.8,45.7 L-14.2,46.8 L-15.4,48.0 L-16.5,49.4 L-17.5,50.9 L-18.4,52.5 L-19.0,54.1 L-19.5,55.5 L-20.0,57.0 L-20.3,58.6 L-20.5,60.1 L-20.9,65.4 L-21.0,66.2 L-21.3,77.1 L-21.4,77.4 L-21.6,93.4 L-21.6,93.5 L-21.8,112.0 L-21.8,112.2 L-21.8,130.6 L-21.8,130.9 L-21.5,146.9 L-21.5,147.4 L-21.0,158.4 L-20.8,160.2 L-20.0,165.4 L-19.7,167.1 L-19.1,168.9 L-18.4,170.5 L-17.6,172.1 L-16.5,173.6 L-15.5,174.9 L-14.4,176.3 L-13.1,177.5 L-11.7,178.6 L-10.2,179.6 L-8.6,180.4 L-7.0,181.1 L-5.2,181.6 L-3.5,181.9 L-1.7,182.0 L0.1,182.0 L1.9,181.8 L3.6,181.4 L5.3,180.8 L6.9,180.1 L8.5,179.2 L9.9,178.2 L10.1,178.0 L12.3,178.8 L15.0,179.8 L17.5,180.8 L20.0,181.9 L22.9,183.1 L23.1,183.2 L26.1,184.5 L26.6,184.7 L29.8,185.9 L30.5,186.2 L33.9,187.3 L34.2,187.4 L37.8,188.5 L41.7,189.7 L42.1,189.8 L46.1,191.0 L46.9,191.2 L51.0,192.2 L52.2,192.5 L56.3,193.2 L58.1,193.4 L62.0,193.7 L64.3,193.7 L68.1,193.4 L70.0,193.2 L73.8,192.5 L75.2,192.2 L78.9,191.3 L79.9,191.0 L83.5,189.9 L84.1,189.7 L87.6,188.4 L87.8,188.3 L91.2,187.1 L91.3,187.1 L94.7,185.8 L95.1,185.6 L98.4,184.3 L99.0,184.0 L102.3,182.6 L103.1,182.2 L106.1,180.7 L107.3,180.0 L110.0,178.4 L111.5,177.4 L113.9,175.6 L115.6,174.1 L117.5,172.3 L119.1,170.6 L120.6,168.7 L121.9,166.8 L123.2,164.8 L124.2,163.0 L125.2,160.8 L125.8,159.3 L126.7,157.0 L127.1,155.8 L127.7,153.4 L128.2,151.2 L128.6,148.7 L128.8,146.0 L128.8,143.5 L128.7,142.1 L128.5,139.4 L128.5,139.2 L128.3,136.8 L128.2,135.3 L128.3,134.1 L128.6,132.5 L129.2,129.9 L130.0,126.7 L130.9,123.3 L131.0,122.9 L131.8,119.6 L132.0,118.7 L132.6,115.5 L132.7,114.6 L133.1,111.6 L133.2,111.0 L133.5,108.2 L133.5,107.6 L133.7,104.8 L133.7,104.3 L133.8,101.6 L133.8,101.1 L133.8,98.5 L133.8,98.0 L133.8,95.5 L133.8,95.2 L133.7,92.7 L133.7,92.4 L133.6,90.0 L133.5,89.4 L133.4,87.0 L133.3,86.1 L133.0,83.8 L132.8,82.6 L132.3,80.3 L132.0,79.0 L131.4,76.6 L131.0,75.5 L130.2,73.1 L129.9,72.3 L128.9,69.7 L128.6,68.9 L127.4,66.4 L127.0,65.4 L125.7,62.9 L125.1,61.9 L123.6,59.5 L122.8,58.3 L121.2,56.1 L120.3,55.0 L118.6,53.0 L117.8,52.2 L115.9,50.2 L115.0,49.4 L112.9,47.6 L111.8,46.6 L109.6,45.0 L108.2,44.1 L105.9,42.6 L104.3,41.8 L101.8,40.6 L99.8,39.7 L97.1,38.8 L95.3,38.3 L92.3,37.7 L91.0,37.4 L87.9,37.0 L87.0,36.9 L83.9,36.5 L83.3,36.5 L80.2,36.3 L79.9,36.3 L76.8,36.1 L76.4,36.1 L73.2,36.0 L72.5,36.0 L69.3,36.1 L68.7,36.1 L65.4,36.2 L65.0,36.3 L61.8,36.5 L61.4,36.5 L58.5,36.8 L58.1,36.8 L55.6,37.1 L54.8,37.2 L52.9,37.5 L51.5,37.8 L50.1,38.2 L48.6,38.6 L47.4,39.0 L46.6,39.3 L45.5,39.7 L44.5,40.1 L43.1,40.6 L40.7,41.3 L40.5,41.4 L37.6,42.3 L34.6,43.3 L31.7,44.2 L28.9,45.0 L26.5,45.6 L24.1,46.1 L21.4,46.6 L18.6,47.0 L15.7,47.4 L12.8,47.7 L11.2,47.9Z " fill="#171717" fill-rule="evenodd" filter="url(#b4)"/><path d="M4.0,61.6 L3.3,59.6 L3.1,59.1 L2.9,58.6 L2.2,57.6 L2.0,57.1 L1.6,56.8 L1.3,56.4 L0.9,56.1 L0.5,55.8 L0.1,55.6 L-0.4,55.4 L-0.9,55.3 L-1.3,55.2 L-1.8,55.1 L-2.3,55.1 L-2.8,55.2 L-3.3,55.3 L-3.8,55.4 L-4.2,55.6 L-4.6,55.8 L-5.1,56.1 L-5.4,56.4 L-5.8,56.8 L-6.1,57.1 L-6.4,57.6 L-6.6,58.0 L-6.8,58.4 L-7.3,59.9 L-7.4,60.3 L-7.5,60.7 L-7.6,61.2 L-8.0,66.4 L-8.0,66.6 L-8.4,77.6 L-8.4,77.6 L-8.6,93.6 L-8.6,93.6 L-8.8,112.1 L-8.8,112.2 L-8.8,130.6 L-8.8,130.7 L-8.5,146.7 L-8.5,146.8 L-8.0,157.7 L-7.9,158.2 L-7.2,163.4 L-7.1,163.9 L-6.9,164.4 L-6.7,164.9 L-6.5,165.3 L-6.2,165.7 L-5.2,167.0 L-4.9,167.4 L-4.5,167.8 L-4.1,168.1 L-3.7,168.3 L-3.3,168.6 L-2.8,168.8 L-2.3,168.9 L-1.8,169.0 L-1.3,169.0 L-0.8,169.0 L-0.4,168.9 L0.1,168.8 L0.6,168.7 L1.1,168.5 L1.5,168.2 L1.9,167.9 L2.3,167.6 L3.5,166.4 L3.8,166.1 L4.1,165.8 L4.3,165.4 L5.6,163.3 L5.9,162.9 L6.0,162.9 L8.3,163.6 L11.0,164.5 L13.8,165.5 L16.8,166.6 L19.6,167.7 L22.4,168.8 L25.2,169.9 L28.1,171.2 L28.1,171.2 L31.1,172.5 L31.3,172.5 L34.4,173.7 L34.7,173.8 L38.0,174.9 L38.1,175.0 L41.7,176.1 L45.6,177.3 L45.7,177.4 L49.8,178.5 L50.0,178.6 L54.1,179.6 L54.4,179.7 L58.5,180.4 L59.0,180.4 L62.9,180.7 L63.5,180.7 L67.3,180.5 L67.8,180.4 L71.6,179.7 L72.0,179.7 L75.7,178.7 L76.0,178.6 L79.6,177.5 L79.7,177.4 L83.3,176.2 L83.3,176.1 L86.7,174.9 L86.8,174.9 L90.1,173.6 L90.2,173.6 L93.6,172.2 L93.7,172.2 L97.0,170.7 L97.2,170.6 L100.3,169.1 L100.6,168.9 L103.3,167.2 L103.7,167.0 L106.1,165.2 L106.6,164.8 L108.5,162.9 L108.9,162.5 L110.5,160.5 L110.9,160.0 L112.1,157.9 L112.4,157.5 L113.4,155.3 L113.6,154.8 L114.4,152.6 L114.5,152.2 L115.2,149.9 L115.3,149.2 L115.7,146.8 L115.8,146.0 L115.8,143.4 L115.8,143.1 L115.6,140.4 L115.6,140.3 L115.3,137.7 L115.2,135.1 L115.4,132.7 L115.8,129.9 L116.6,126.8 L117.4,123.4 L118.3,120.0 L118.4,119.9 L119.2,116.5 L119.2,116.3 L119.8,113.1 L119.9,112.9 L120.2,109.9 L120.3,109.7 L120.5,106.9 L120.6,106.7 L120.7,104.0 L120.7,103.8 L120.8,101.2 L120.8,101.0 L120.8,98.4 L120.8,98.3 L120.8,95.7 L120.8,95.6 L120.7,93.1 L120.7,93.0 L120.6,90.6 L120.6,90.4 L120.4,88.0 L120.4,87.8 L120.1,85.4 L120.0,85.1 L119.6,82.7 L119.5,82.4 L118.8,80.0 L118.7,79.7 L117.9,77.2 L117.8,77.0 L116.8,74.5 L116.7,74.2 L115.6,71.7 L115.5,71.4 L114.2,69.0 L114.0,68.7 L112.5,66.3 L112.3,66.0 L110.7,63.8 L110.5,63.5 L108.7,61.5 L108.5,61.3 L106.6,59.4 L106.4,59.1 L104.3,57.3 L104.0,57.1 L101.8,55.4 L101.4,55.2 L99.1,53.7 L98.6,53.5 L96.2,52.3 L95.6,52.1 L92.9,51.1 L92.4,51.0 L89.5,50.3 L89.1,50.3 L86.0,49.8 L85.8,49.8 L82.6,49.5 L82.5,49.5 L79.3,49.3 L79.2,49.3 L76.2,49.1 L76.0,49.1 L72.9,49.0 L72.7,49.0 L69.4,49.1 L69.3,49.1 L66.0,49.2 L65.9,49.2 L62.7,49.4 L62.6,49.5 L59.7,49.7 L59.6,49.7 L57.1,50.0 L56.9,50.1 L55.0,50.4 L54.6,50.5 L53.1,50.8 L52.7,50.9 L51.5,51.3 L51.3,51.4 L50.2,51.9 L48.9,52.4 L47.1,52.9 L44.6,53.7 L44.5,53.7 L41.7,54.7 L38.6,55.7 L35.4,56.7 L32.3,57.6 L29.4,58.3 L26.5,58.9 L23.4,59.4 L20.3,59.9 L17.3,60.3 L14.4,60.6 L11.8,60.9 L9.6,61.2 L7.6,61.4 L5.7,61.5 L4.1,61.6 L4.0,61.6Z " fill="#151515" fill-rule="evenodd" filter="url(#b3)"/><path d="M1.5,66.8 L0.3,65.8 L-0.6,63.5 L-1.4,61.2 L-2.1,60.1 L-2.6,61.6 L-3.0,66.8 L-3.4,77.7 L-3.6,93.7 L-3.8,112.1 L-3.8,130.6 L-3.5,146.6 L-3.0,157.5 L-2.2,162.7 L-1.2,164.0 L0.0,162.8 L1.5,160.5 L3.2,158.2 L5.1,157.5 L7.3,158.1 L9.9,158.9 L12.6,159.8 L15.5,160.8 L18.5,161.9 L21.4,163.0 L24.3,164.1 L27.1,165.3 L30.0,166.6 L33.1,167.9 L36.2,169.1 L39.6,170.2 L43.2,171.3 L47.1,172.6 L51.2,173.7 L55.3,174.7 L59.3,175.4 L63.2,175.7 L67.0,175.5 L70.7,174.8 L74.4,173.9 L78.1,172.7 L81.6,171.4 L85.0,170.2 L88.4,168.9 L91.7,167.6 L95.0,166.1 L98.0,164.6 L100.8,163.0 L103.1,161.2 L105.0,159.3 L106.6,157.4 L107.9,155.3 L108.9,153.1 L109.7,150.9 L110.4,148.5 L110.8,146.0 L110.8,143.4 L110.6,140.8 L110.3,138.0 L110.2,135.1 L110.4,132.1 L110.9,128.9 L111.7,125.6 L112.6,122.2 L113.5,118.7 L114.3,115.4 L114.9,112.2 L115.3,109.2 L115.6,106.4 L115.7,103.7 L115.8,101.0 L115.8,98.4 L115.8,95.8 L115.7,93.3 L115.6,90.8 L115.4,88.4 L115.1,86.1 L114.6,83.7 L114.0,81.3 L113.2,78.8 L112.2,76.3 L111.0,73.8 L109.7,71.3 L108.3,69.0 L106.7,66.8 L105.0,64.8 L103.1,62.9 L101.0,61.1 L98.8,59.4 L96.5,58.0 L94.0,56.8 L91.3,55.9 L88.4,55.2 L85.3,54.8 L82.1,54.5 L79.0,54.3 L75.9,54.1 L72.8,54.0 L69.5,54.1 L66.2,54.2 L63.1,54.4 L60.2,54.7 L57.7,55.0 L55.8,55.3 L54.3,55.7 L53.1,56.1 L52.0,56.5 L50.5,57.1 L48.6,57.7 L46.1,58.5 L43.2,59.4 L40.1,60.5 L36.9,61.5 L33.6,62.4 L30.5,63.2 L27.4,63.8 L24.2,64.4 L21.0,64.8 L17.9,65.2 L15.0,65.6 L12.4,65.9 L10.1,66.2 L8.0,66.4 L6.1,66.5 L4.4,66.6 L2.9,66.7 L1.5,66.8Z " fill="#101010" fill-rule="evenodd"/><ellipse cx="72" cy="118" rx="32" ry="28" fill="#0c0c0c" filter="url(#b8)"/><ellipse cx="76" cy="124" rx="12" ry="10" fill="#070707" filter="url(#b4)"/><ellipse cx="75" cy="114" rx="2" ry="1.5" fill="#161616" filter="url(#b0_3)"/><ellipse cx="34" cy="42" rx="3" ry="2.5" fill="#101010" filter="url(#b0_5)"/></g></g></g>
<g transform="translate(955.5,1175.8)"><g clip-path="url(#cp200)"><rect width="200" height="200.2" fill="#fff"/><rect width="200" height="200.2" filter="url(#sh1)" mask="url(#mk1)"/></g></g>
<rect x="717.80" y="1175.80" width="200.40" height="200.20" fill="none" stroke="#333" stroke-width="1.0" />
<rect x="955.50" y="1175.80" width="200.00" height="200.20" fill="none" stroke="#333" stroke-width="1.0" />
<line x1="714.30" y1="1196.60" x2="717.80" y2="1196.60" stroke="#333" stroke-width="0.8" />
<line x1="952.00" y1="1196.60" x2="955.50" y2="1196.60" stroke="#333" stroke-width="0.8" />
<text x="711.5" y="1200.5" font-size="10.8" text-anchor="end" textLength="13.5" lengthAdjust="spacingAndGlyphs" fill="#1a1a1a" >17</text>
<line x1="714.30" y1="1228.30" x2="717.80" y2="1228.30" stroke="#333" stroke-width="0.8" />
<line x1="952.00" y1="1228.30" x2="955.50" y2="1228.30" stroke="#333" stroke-width="0.8" />
<text x="711.5" y="1232.2" font-size="10.8" text-anchor="end" textLength="13.5" lengthAdjust="spacingAndGlyphs" fill="#1a1a1a" >16</text>
<line x1="714.30" y1="1259.50" x2="717.80" y2="1259.50" stroke="#333" stroke-width="0.8" />
<line x1="952.00" y1="1259.50" x2="955.50" y2="1259.50" stroke="#333" stroke-width="0.8" />
<text x="711.5" y="1263.4" font-size="10.8" text-anchor="end" textLength="13.5" lengthAdjust="spacingAndGlyphs" fill="#1a1a1a" >15</text>
<line x1="714.30" y1="1290.20" x2="717.80" y2="1290.20" stroke="#333" stroke-width="0.8" />
<line x1="952.00" y1="1290.20" x2="955.50" y2="1290.20" stroke="#333" stroke-width="0.8" />
<text x="711.5" y="1294.1" font-size="10.8" text-anchor="end" textLength="13.5" lengthAdjust="spacingAndGlyphs" fill="#1a1a1a" >14</text>
<line x1="714.30" y1="1321.90" x2="717.80" y2="1321.90" stroke="#333" stroke-width="0.8" />
<line x1="952.00" y1="1321.90" x2="955.50" y2="1321.90" stroke="#333" stroke-width="0.8" />
<text x="711.5" y="1325.8" font-size="10.8" text-anchor="end" textLength="13.5" lengthAdjust="spacingAndGlyphs" fill="#1a1a1a" >13</text>
<line x1="714.30" y1="1353.30" x2="717.80" y2="1353.30" stroke="#333" stroke-width="0.8" />
<line x1="952.00" y1="1353.30" x2="955.50" y2="1353.30" stroke="#333" stroke-width="0.8" />
<text x="711.5" y="1357.2" font-size="10.8" text-anchor="end" textLength="13.5" lengthAdjust="spacingAndGlyphs" fill="#1a1a1a" >12</text>
<line x1="722.60" y1="1376.00" x2="722.60" y2="1379.50" stroke="#333" stroke-width="0.8" />
<text x="722.6" y="1388.3" font-size="10.8" text-anchor="middle" textLength="13.5" lengthAdjust="spacingAndGlyphs" fill="#1a1a1a" >80</text>
<line x1="752.92" y1="1376.00" x2="752.92" y2="1379.50" stroke="#333" stroke-width="0.8" />
<text x="752.9" y="1388.3" font-size="10.8" text-anchor="middle" textLength="13.5" lengthAdjust="spacingAndGlyphs" fill="#1a1a1a" >81</text>
<line x1="783.24" y1="1376.00" x2="783.24" y2="1379.50" stroke="#333" stroke-width="0.8" />
<text x="783.2" y="1388.3" font-size="10.8" text-anchor="middle" textLength="13.5" lengthAdjust="spacingAndGlyphs" fill="#1a1a1a" >82</text>
<line x1="813.56" y1="1376.00" x2="813.56" y2="1379.50" stroke="#333" stroke-width="0.8" />
<text x="813.6" y="1388.3" font-size="10.8" text-anchor="middle" textLength="13.5" lengthAdjust="spacingAndGlyphs" fill="#1a1a1a" >83</text>
<line x1="843.88" y1="1376.00" x2="843.88" y2="1379.50" stroke="#333" stroke-width="0.8" />
<text x="843.9" y="1388.3" font-size="10.8" text-anchor="middle" textLength="13.5" lengthAdjust="spacingAndGlyphs" fill="#1a1a1a" >84</text>
<line x1="874.20" y1="1376.00" x2="874.20" y2="1379.50" stroke="#333" stroke-width="0.8" />
<text x="874.2" y="1388.3" font-size="10.8" text-anchor="middle" textLength="13.5" lengthAdjust="spacingAndGlyphs" fill="#1a1a1a" >85</text>
<line x1="904.52" y1="1376.00" x2="904.52" y2="1379.50" stroke="#333" stroke-width="0.8" />
<text x="904.5" y="1388.3" font-size="10.8" text-anchor="middle" textLength="13.5" lengthAdjust="spacingAndGlyphs" fill="#1a1a1a" >86</text>
<line x1="961.80" y1="1376.00" x2="961.80" y2="1379.50" stroke="#333" stroke-width="0.8" />
<line x1="992.13" y1="1376.00" x2="992.13" y2="1379.50" stroke="#333" stroke-width="0.8" />
<line x1="1022.46" y1="1376.00" x2="1022.46" y2="1379.50" stroke="#333" stroke-width="0.8" />
<line x1="1052.79" y1="1376.00" x2="1052.79" y2="1379.50" stroke="#333" stroke-width="0.8" />
<line x1="1083.12" y1="1376.00" x2="1083.12" y2="1379.50" stroke="#333" stroke-width="0.8" />
<line x1="1113.45" y1="1376.00" x2="1113.45" y2="1379.50" stroke="#333" stroke-width="0.8" />
<line x1="1143.78" y1="1376.00" x2="1143.78" y2="1379.50" stroke="#333" stroke-width="0.8" />
<text x="818.0" y="1409.1" font-size="11.4" text-anchor="middle" textLength="78.0" lengthAdjust="spacingAndGlyphs" fill="#1a1a1a" >6h old IR Data</text>
<text x="1055.5" y="1409.1" font-size="11.4" text-anchor="middle" textLength="121.0" lengthAdjust="spacingAndGlyphs" fill="#1a1a1a" >SHAP Value=-4.01 kts</text>
<g transform="translate(717.8,1413.4)"><g clip-path="url(#cp200)"><g filter="url(#cm2)"><path d="M-30.0,-30.0 L230.0,-30.0 L230.0,230.0 L-30.0,230.0 Z" fill="#cccccc" /><ellipse cx="150" cy="110" rx="30" ry="60" fill="#c8c8c8" filter="url(#b10)"/><ellipse cx="120" cy="150" rx="12" ry="30" fill="#c4c4c4" filter="url(#b6)"/><ellipse cx="160" cy="95" rx="3" ry="12" fill="#a1a1a1" filter="url(#b1)" transform="rotate(-20 160 95)"/><ellipse cx="152" cy="116" rx="4" ry="8" fill="#999999" filter="url(#b1)"/><ellipse cx="152" cy="116" rx="2" ry="4" fill="#7e7e7e" filter="url(#b1)"/><ellipse cx="193" cy="112" rx="3" ry="3" fill="#a1a1a1" filter="url(#b1)"/><ellipse cx="140" cy="30" rx="12" ry="8" fill="#a9a9a9" filter="url(#b2)"/><ellipse cx="150" cy="40" rx="6" ry="5" fill="#a1a1a1" filter="url(#b1)"/><ellipse cx="190" cy="60" rx="6" ry="8" fill="#adadad" filter="url(#b1_5)"/><ellipse cx="196" cy="18" rx="14" ry="24" fill="#a1a1a1" filter="url(#b2)"/><ellipse cx="196" cy="14" rx="10" ry="18" fill="#7e7e7e" filter="url(#b2)"/><ellipse cx="198" cy="12" rx="4" ry="10" fill="#666666" filter="url(#b1_5)"/><path d="M135.0,175.0 L133.0,177.5 L131.1,180.0 L129.4,182.8 L127.8,186.1 L126.3,190.1 L125.0,195.0 L122.4,201.6 L118.3,209.8 L114.4,218.8 L112.2,227.4 L113.5,234.8 L120.0,240.0 L134.2,243.8 L155.2,247.0 L179.7,249.1 L204.3,249.1 L225.5,246.3 L240.0,240.0 L247.6,227.9 L250.9,210.2 L250.9,189.7 L248.5,169.3 L244.6,151.7 L240.0,140.0 L233.6,134.6 L224.3,133.5 L213.4,135.3 L202.4,138.7 L192.5,142.4 L185.0,145.0 L180.2,147.0 L177.2,149.6 L175.3,152.5 L173.9,155.4 L172.3,158.0 L170.0,160.0 L166.9,161.4 L163.5,162.2 L160.0,162.8 L156.5,163.3 L153.1,164.0 L150.0,165.0 L147.2,166.3 L144.4,167.6 L141.9,169.1 L139.4,170.7 L137.2,172.7 L135.0,175.0Z " fill="#a1a1a1" fill-rule="evenodd" filter="url(#b1_5)"/><ellipse cx="150" cy="190" rx="14" ry="5" fill="#c8c8c8" filter="url(#b1_5)" transform="rotate(-10 150 190)"/><ellipse cx="172" cy="175" rx="10" ry="4" fill="#c6c6c6" filter="url(#b1_5)" transform="rotate(-20 172 175)"/><ellipse cx="195" cy="160" rx="6" ry="8" fill="#cacaca" filter="url(#b1_5)"/><ellipse cx="160" cy="170" rx="8" ry="3" fill="#b1b1b1" filter="url(#b1)"/><ellipse cx="175" cy="190" rx="14" ry="4" fill="#7e7e7e" filter="url(#b1_5)" transform="rotate(-20 175 190)"/><ellipse cx="145" cy="195" rx="12" ry="3" fill="#7e7e7e" filter="url(#b1_5)" transform="rotate(-10 145 195)"/><ellipse cx="190" cy="170" rx="8" ry="4" fill="#7e7e7e" filter="url(#b1_5)" transform="rotate(-30 190 170)"/><ellipse cx="160" cy="182" rx="6" ry="4" fill="#b4b4b4" filter="url(#b1)"/><ellipse cx="185" cy="185" rx="5" ry="4" fill="#b4b4b4" filter="url(#b1)"/><ellipse cx="192" cy="180" rx="3" ry="3" fill="#666666" filter="url(#b1)"/><path d="M-40.0,-40.0 L-49.7,-6.3 L-55.4,43.0 L-57.2,100.0 L-55.2,157.0 L-49.4,206.3 L-40.0,240.0 L-23.8,256.7 L-0.2,262.2 L27.2,260.0 L54.6,253.3 L78.5,245.6 L95.0,240.0 L103.3,235.5 L106.1,229.1 L105.3,221.6 L102.8,213.7 L100.4,206.3 L100.0,200.0 L101.4,195.0 L103.1,190.6 L105.0,186.6 L106.9,182.8 L108.6,179.0 L110.0,175.0 L111.2,170.8 L112.4,166.7 L113.4,162.5 L114.3,158.3 L114.8,154.2 L115.0,150.0 L114.8,145.8 L114.1,141.7 L113.2,137.5 L112.1,133.3 L111.0,129.2 L110.0,125.0 L108.9,120.8 L107.7,116.5 L106.4,112.2 L105.3,108.0 L104.4,103.9 L104.0,100.0 L104.1,96.5 L104.7,93.3 L105.6,90.3 L106.6,87.2 L107.4,83.9 L108.0,80.0 L108.3,75.5 L108.6,70.4 L108.8,65.0 L108.7,59.6 L108.5,54.5 L108.0,50.0 L107.1,46.1 L105.7,42.6 L104.2,39.4 L102.6,36.3 L101.1,33.2 L100.0,30.0 L99.1,27.0 L98.4,24.4 L97.8,21.9 L97.4,18.9 L97.1,15.1 L97.0,10.0 L98.8,2.8 L102.9,-6.3 L107.1,-16.2 L109.4,-25.9 L107.7,-34.2 L100.0,-40.0 L83.3,-46.1 L58.7,-54.1 L30.2,-60.6 L1.6,-62.6 L-23.1,-56.8 L-40.0,-40.0Z " fill="#a3a3a3" fill-rule="evenodd" filter="url(#b1_5)"/><path d="M-49.7,-6.3 L-55.4,43.0 L-57.2,100.0 L-55.2,157.0 L-49.4,206.3 L-40.0,240.0 L-23.8,256.7 L-0.2,262.2 L27.2,260.0 L54.6,253.3 L78.5,245.6 L95.0,240.0 L103.3,235.5 L106.1,229.1 L105.3,221.6 L102.8,213.7 L100.4,206.3 L100.0,200.0 L101.4,195.0 L103.1,190.6 L105.0,186.6 L106.9,182.8 L108.6,179.0 L110.0,175.0 L111.2,170.8 L112.4,166.7 L113.4,162.5 L114.3,158.3 L114.8,154.2 L115.0,150.0 L114.8,145.8 L114.1,141.7 L113.2,137.5 L112.1,133.3 L111.0,129.2 L110.0,125.0 L108.9,120.8 L107.7,116.5 L106.4,112.2 L105.3,108.0 L104.4,103.9 L104.0,100.0 L104.1,96.5 L104.7,93.3 L105.6,90.3 L106.6,87.2 L107.4,83.9 L108.0,80.0 L108.3,75.5 L108.6,70.4 L108.8,65.0 L108.7,59.6 L108.5,54.5 L108.0,50.0 L107.1,46.1 L105.7,42.6 L104.2,39.4 L102.6,36.3 L101.1,33.2 L100.0,30.0 L99.1,27.0 L98.4,24.4 L97.8,21.9 L97.4,18.9 L97.1,15.1 L97.0,10.0 L98.8,2.8 L102.9,-6.3 L107.1,-16.2 L109.4,-25.9 L107.7,-34.2 L100.0,-40.0 L83.3,-46.1 L58.7,-54.1 L30.2,-60.6 L1.6,-62.6 L-23.1,-56.8 L-40.0,-40.0 L-49.7,-6.3Z M-21.1,-53.1 L1.9,-58.6 L29.6,-56.7 L57.7,-50.2 L82.0,-42.4 L98.1,-36.4 L104.1,-31.9 L105.3,-26.0 L103.2,-17.5 L99.2,-7.9 L95.2,1.2 L95.0,1.5 L94.9,1.8 L93.1,9.0 L93.1,9.4 L93.0,9.7 L93.0,10.1 L93.1,15.1 L93.1,15.4 L93.4,19.2 L93.4,19.5 L93.9,22.5 L93.9,22.8 L94.5,25.3 L94.6,25.5 L95.3,28.1 L95.3,28.1 L96.2,31.1 L96.2,31.3 L97.4,34.5 L97.5,34.9 L99.0,38.0 L99.0,38.1 L100.6,41.2 L102.1,44.2 L103.2,47.3 L104.1,50.7 L104.5,54.9 L104.7,59.7 L104.7,64.9 L104.6,70.2 L104.3,75.2 L104.0,79.6 L103.5,83.1 L102.7,86.1 L101.8,89.1 L101.8,89.2 L100.9,92.2 L100.8,92.6 L100.2,95.7 L100.2,96.0 L100.1,96.3 L100.0,99.8 L100.0,100.1 L100.0,100.4 L100.5,104.3 L100.5,104.7 L101.4,108.8 L101.4,109.0 L102.6,113.2 L102.6,113.3 L103.9,117.6 L105.1,121.8 L106.1,126.0 L107.1,130.1 L107.1,130.2 L108.2,134.3 L109.3,138.4 L110.2,142.4 L110.8,146.3 L111.0,150.0 L110.8,153.8 L110.3,157.7 L109.5,161.6 L108.5,165.6 L107.4,169.7 L106.2,173.8 L104.9,177.5 L103.2,181.1 L101.4,184.8 L101.4,184.9 L99.5,188.9 L99.4,189.1 L97.7,193.5 L97.6,193.9 L96.2,198.9 L96.1,199.3 L96.0,199.8 L96.0,200.2 L96.4,206.5 L96.4,206.8 L96.5,207.2 L96.6,207.5 L99.0,214.9 L101.4,222.4 L102.0,228.4 L100.2,232.6 L93.4,236.3 L77.2,241.8 L53.5,249.5 L26.5,256.0 L0.1,258.2 L-21.8,253.0 L-36.4,237.9 L-45.5,205.5 L-51.2,156.7 L-53.2,100.0 L-51.4,43.3 L-45.7,-5.5 L-36.4,-37.9 L-21.1,-53.1Z " fill="#b2b2b2" fill-rule="evenodd" filter="url(#b1)"/><path d="M16.6,260.9 L31.7,250.9 L38.3,243.3 L42.8,230.0 L44.7,207.3 L54.1,204.6 L68.1,198.0 L81.6,190.2 L92.1,182.8 L98.6,176.8 L104.5,169.7 L108.6,163.3 L112.7,154.5 L114.8,146.7 L113.2,137.5 L104.4,103.6 L98.5,94.9 L102.6,79.5 L104.2,70.9 L104.6,59.2 L103.3,46.8 L99.8,34.3 L96.4,26.9 L92.8,21.0 L83.9,11.1 L78.1,6.8 L73.9,4.6 L69.0,2.9 L62.6,1.7 L48.2,1.2 L27.8,3.2 L17.3,5.9 L14.3,4.8 L-5.7,-6.6 L-9.1,-8.0 L-19.9,-11.0 L-26.3,-11.5 L-41.5,-6.4 L-44.0,-4.6 L-47.8,0.2 L-51.2,6.8 L-55.4,43.0 L-57.2,100.0 L-55.2,157.0 L-49.4,206.3 L-40.0,240.0 L-23.8,256.7 L-0.2,262.2 L16.6,260.9Z " fill="#979797" fill-rule="evenodd" filter="url(#b1_2)"/><path d="M-50.5,16.6 L-54.9,45.7 L-57.2,100.0 L-55.2,157.0 L-49.4,206.3 L-40.0,240.0 L-23.8,256.7 L-0.2,262.2 L4.6,261.8 L25.9,249.3 L34.0,240.8 L37.8,229.4 L39.8,206.2 L40.8,203.3 L52.4,199.9 L65.5,193.7 L75.6,188.0 L85.8,181.3 L92.2,176.1 L98.1,169.9 L102.4,163.9 L107.1,155.0 L109.8,146.3 L110.5,139.2 L109.9,131.4 L108.3,123.8 L104.3,112.7 L93.0,95.6 L97.9,78.0 L99.6,67.2 L99.4,55.4 L97.6,43.9 L95.4,36.8 L92.4,30.0 L86.0,20.4 L77.7,12.6 L71.7,9.1 L66.1,7.3 L55.3,6.2 L41.6,6.5 L28.5,8.1 L20.4,10.6 L16.6,10.9 L12.2,9.4 L-8.2,-2.2 L-21.3,-6.2 L-25.6,-6.5 L-37.1,-2.9 L-40.7,-0.8 L-43.3,2.5 L-50.5,16.6Z " fill="#808080" fill-rule="evenodd" filter="url(#b1_2)"/><path d="M-46.7,17.9 L-50.9,45.9 L-53.3,84.9 L-54.2,129.7 L-53.5,171.1 L-49.4,206.3 L-40.0,240.0 L-23.8,256.7 L-4.3,261.2 L5.0,257.3 L23.7,245.9 L30.5,238.7 L33.8,228.9 L35.8,205.5 L36.9,201.9 L38.0,200.4 L41.0,198.9 L51.0,196.2 L63.8,190.1 L73.5,184.6 L83.5,178.0 L89.6,173.1 L94.9,167.4 L99.0,161.8 L103.3,153.9 L105.9,145.4 L106.5,139.1 L105.9,131.9 L104.4,124.8 L100.8,114.7 L89.0,96.1 L95.3,70.0 L95.6,59.4 L94.4,48.2 L92.7,41.3 L90.1,34.4 L87.2,28.8 L83.3,23.4 L75.5,15.9 L69.9,12.7 L65.4,11.2 L55.1,10.2 L41.8,10.5 L29.0,12.1 L21.3,14.5 L16.0,14.9 L10.5,13.0 L-10.1,1.3 L-22.4,-2.3 L-25.1,-2.5 L-35.8,0.9 L-38.1,2.2 L-39.8,4.3 L-46.7,17.9Z " fill="#646464" fill-rule="evenodd" filter="url(#b1_2)"/><path d="M-44.3,18.6 L-48.4,46.1 L-50.8,84.9 L-51.7,129.9 L-51.0,174.8 L-49.0,208.0 L-40.0,240.0 L-23.8,256.7 L-8.4,260.3 L3.2,255.4 L14.6,248.7 L22.4,243.8 L28.4,237.4 L31.4,228.6 L33.3,205.0 L34.6,200.8 L36.2,198.6 L40.3,196.5 L50.2,193.8 L59.7,189.3 L69.0,184.4 L78.9,178.2 L85.3,173.5 L90.7,168.5 L95.0,163.2 L99.9,155.2 L102.9,147.6 L103.9,142.0 L103.9,135.7 L102.7,128.5 L98.8,116.3 L88.1,100.1 L86.5,96.4 L92.7,70.1 L93.2,62.8 L92.5,52.0 L89.1,38.6 L86.4,32.6 L83.2,27.4 L79.0,22.3 L74.5,18.3 L68.8,15.0 L64.9,13.7 L55.1,12.7 L42.0,13.0 L29.4,14.5 L21.8,16.9 L15.7,17.5 L9.4,15.3 L-11.3,3.5 L-24.8,-0.1 L-36.5,4.1 L-44.3,18.6Z " fill="#4c4c4c" fill-rule="evenodd" filter="url(#b1_2)"/><path d="M-41.9,19.4 L-45.9,46.2 L-48.3,85.0 L-49.2,129.9 L-48.5,174.8 L-46.1,213.8 L-44.5,223.8 L-40.0,240.0 L-23.8,256.7 L-14.6,258.8 L-9.9,258.2 L2.2,253.0 L21.5,241.4 L26.2,236.2 L28.8,228.7 L30.9,204.6 L32.3,199.6 L34.5,196.8 L36.9,195.1 L49.3,191.5 L64.8,184.0 L77.5,176.1 L86.3,169.3 L93.0,161.8 L98.7,151.8 L101.1,144.2 L101.3,135.7 L99.6,125.9 L96.5,117.3 L86.0,101.4 L84.0,96.7 L84.3,93.5 L86.9,84.8 L90.3,69.6 L90.4,56.0 L88.8,45.8 L85.7,36.7 L82.8,31.3 L77.4,24.2 L72.9,20.2 L67.7,17.2 L64.7,16.2 L54.9,15.2 L45.3,15.3 L35.7,16.2 L27.3,17.5 L22.4,19.4 L15.3,20.0 L8.4,17.6 L-12.5,5.7 L-24.1,2.4 L-34.9,6.0 L-41.9,19.4Z " fill="#373737" fill-rule="evenodd" filter="url(#b1_2)"/><ellipse cx="98.6" cy="18.1" rx="4" ry="4" fill="#a1a1a1" filter="url(#b0_5)"/><ellipse cx="98.6" cy="18.1" rx="3" ry="3" fill="#414141" filter="url(#b0_5)"/><ellipse cx="98.6" cy="18.1" rx="1.2" ry="1.2" fill="#272727" filter="url(#b0_3)"/><path d="M83.0,-0.7 L80.3,-2.2 L77.8,-3.4 L74.4,-4.8 L71.7,-5.7 L68.6,-6.5 L65.7,-7.0 L63.5,-7.3 L60.4,-7.6 L58.9,-7.7 L55.8,-7.8 L55.0,-7.8 L51.8,-7.8 L51.6,-7.8 L48.5,-7.8 L48.0,-7.8 L44.9,-7.7 L43.8,-7.7 L40.6,-7.5 L39.9,-7.4 L36.7,-7.1 L36.1,-7.0 L33.0,-6.6 L32.6,-6.6 L29.6,-6.2 L29.4,-6.2 L26.5,-5.8 L24.7,-5.4 L22.4,-4.9 L20.5,-4.4 L18.6,-3.8 L17.9,-3.5 L10.4,-8.0 L9.6,-8.4 L-1.4,-14.5 L-4.0,-15.7 L-6.7,-16.6 L-17.5,-19.7 L-19.9,-20.2 L-22.4,-20.5 L-24.9,-20.6 L-27.4,-20.4 L-29.9,-20.0 L-32.3,-19.3 L-41.5,-16.1 L-43.8,-15.3 L-45.9,-14.2 L-47.9,-12.9 L-49.8,-11.4 L-51.6,-9.8 L-52.4,-8.8 L-52.5,-6.9 L-50.4,6.5 L-46.0,17.8 L-40.0,25.0 L-30.8,27.6 L-17.6,26.9 L-2.2,24.1 L13.7,20.4 L28.3,17.0 L40.0,15.0 L48.8,15.1 L56.1,16.3 L62.2,17.8 L67.2,18.7 L71.4,18.1 L75.0,15.0 L79.0,8.4 L83.2,-0.6 L83.0,-0.7Z " fill="#565656" fill-rule="evenodd" filter="url(#b3)"/><ellipse cx="8" cy="12" rx="12" ry="14" fill="#727272" filter="url(#b3)"/><ellipse cx="45" cy="5" rx="18" ry="6" fill="#5c5c5c" filter="url(#b3)"/><ellipse cx="25" cy="12" rx="12" ry="8" fill="#434343" filter="url(#b3)"/><ellipse cx="60" cy="12" rx="10" ry="6" fill="#474747" filter="url(#b3)"/><path d="M-41.1,19.4 L-41.1,19.6 L-41.2,19.7 L-41.2,19.8 L-45.1,46.2 L-45.1,46.3 L-47.5,85.0 L-47.5,85.0 L-48.4,129.9 L-48.4,129.9 L-47.7,174.8 L-47.7,174.8 L-45.3,213.6 L-45.3,213.7 L-41.2,240.2 L-41.2,240.3 L-41.1,240.4 L-41.1,240.6 L-34.0,253.8 L-33.9,253.9 L-33.8,254.0 L-33.8,254.0 L-33.7,254.1 L-33.6,254.2 L-33.5,254.3 L-33.4,254.3 L-23.1,258.9 L-23.0,259.0 L-22.9,259.0 L-22.8,259.0 L-22.7,259.0 L-22.6,259.0 L-22.5,259.0 L-10.5,257.5 L-10.4,257.5 L-10.3,257.5 L-10.2,257.4 L1.9,252.3 L2.1,252.2 L12.8,246.0 L12.8,246.0 L20.6,241.0 L20.7,241.0 L20.8,240.9 L20.9,240.8 L25.4,236.0 L25.5,235.9 L25.6,235.7 L25.6,235.6 L25.7,235.5 L28.0,228.5 L28.1,228.4 L28.1,228.2 L29.1,220.1 L29.1,220.0 L29.5,211.7 L30.1,204.4 L31.6,199.3 L33.9,196.2 L36.5,194.4 L39.4,193.3 L42.5,192.6 L45.7,191.9 L45.9,191.9 L49.0,190.7 L49.1,190.7 L52.1,189.2 L55.2,187.8 L58.2,186.4 L58.2,186.4 L61.3,184.9 L61.3,184.9 L64.3,183.3 L64.4,183.3 L67.4,181.5 L67.4,181.5 L70.5,179.6 L70.6,179.6 L73.8,177.6 L73.8,177.6 L77.0,175.5 L77.1,175.5 L80.2,173.3 L80.2,173.3 L83.1,171.0 L83.2,171.0 L85.8,168.7 L85.8,168.6 L88.2,166.3 L88.2,166.3 L90.3,163.9 L90.4,163.8 L92.3,161.4 L92.3,161.3 L94.0,158.9 L94.0,158.8 L95.5,156.4 L95.6,156.3 L96.9,153.9 L96.9,153.8 L98.0,151.4 L98.0,151.4 L98.9,149.0 L99.0,149.0 L99.7,146.6 L99.7,146.5 L100.2,144.2 L100.3,144.1 L100.6,141.6 L100.6,141.5 L100.7,138.8 L100.7,138.7 L100.6,135.9 L100.5,135.8 L100.2,132.7 L100.1,132.6 L99.5,129.4 L99.5,129.3 L98.8,126.1 L98.8,126.1 L97.9,123.0 L97.9,123.0 L96.9,120.2 L96.9,120.1 L95.8,117.7 L95.8,117.6 L94.5,115.3 L94.4,115.3 L93.0,113.2 L93.0,113.1 L91.6,111.2 L90.2,109.3 L89.0,107.4 L87.8,105.5 L87.8,105.4 L86.5,103.6 L85.3,101.9 L84.3,100.2 L83.6,98.5 L83.2,96.8 L83.2,95.1 L83.5,93.4 L84.0,91.5 L84.8,89.4 L84.8,89.4 L85.5,87.1 L85.5,87.1 L86.2,84.6 L86.2,84.6 L86.8,81.9 L87.5,79.0 L87.5,79.0 L88.3,76.0 L88.3,76.0 L89.0,72.8 L89.0,72.8 L89.5,69.6 L89.5,69.5 L89.8,66.3 L89.8,66.2 L89.9,63.0 L89.9,62.9 L89.8,59.5 L89.8,59.5 L89.6,56.0 L89.6,56.0 L89.2,52.5 L89.2,52.5 L88.7,49.2 L88.7,49.1 L88.0,45.9 L88.0,45.9 L87.1,42.9 L87.1,42.8 L86.1,39.9 L86.1,39.8 L84.9,37.0 L84.9,37.0 L83.6,34.3 L83.6,34.2 L82.1,31.7 L82.1,31.6 L80.5,29.2 L80.4,29.2 L78.7,26.9 L78.7,26.9 L76.8,24.7 L76.7,24.7 L74.7,22.7 L74.6,22.6 L72.4,20.8 L72.3,20.8 L70.0,19.2 L69.8,19.2 L67.3,17.9 L67.2,17.9 L64.5,17.0 L64.3,17.0 L61.4,16.4 L61.3,16.4 L58.2,16.1 L58.1,16.1 L54.9,16.0 L54.9,16.0 L51.7,16.0 L51.7,16.0 L48.6,16.0 L48.6,16.0 L45.5,16.1 L45.4,16.1 L42.2,16.3 L42.2,16.3 L39.0,16.6 L39.0,16.6 L35.8,17.0 L35.8,17.0 L32.7,17.4 L32.7,17.4 L29.8,17.8 L29.7,17.8 L27.5,18.3 L27.4,18.3 L27.3,18.4 L25.8,19.0 L25.7,19.0 L24.4,19.6 L22.6,20.2 L19.7,20.6 L15.2,20.8 L8.0,18.3 L-1.8,12.5 L-1.8,12.4 L-12.9,6.4 L-13.0,6.3 L-13.1,6.3 L-23.9,3.3 L-24.1,3.2 L-24.2,3.2 L-24.3,3.2 L-24.4,3.2 L-24.5,3.2 L-24.6,3.3 L-33.9,6.4 L-34.0,6.4 L-34.1,6.5 L-34.2,6.6 L-34.3,6.6 L-34.4,6.7 L-34.5,6.8 L-34.6,6.9 L-34.6,7.0 L-41.1,19.4Z " fill="#292929" fill-rule="evenodd" filter="url(#b1_0)"/><path d="M-40.0,20.0 L-43.9,46.4 L-46.3,85.0 L-47.2,129.9 L-46.5,174.7 L-44.1,213.5 L-40.0,240.0 L-32.9,253.2 L-22.6,257.8 L-10.7,256.3 L1.4,251.2 L12.2,244.9 L20.0,240.0 L24.5,235.1 L26.9,228.1 L27.9,219.9 L28.3,211.6 L28.9,204.2 L30.5,198.7 L33.1,195.3 L36.0,193.3 L39.1,192.1 L42.3,191.4 L45.5,190.7 L48.6,189.6 L51.6,188.1 L54.7,186.7 L57.7,185.3 L60.7,183.8 L63.8,182.2 L66.8,180.5 L69.9,178.6 L73.1,176.6 L76.4,174.5 L79.5,172.3 L82.4,170.1 L85.0,167.8 L87.3,165.5 L89.4,163.1 L91.3,160.7 L93.0,158.2 L94.5,155.7 L95.8,153.3 L96.9,150.9 L97.8,148.6 L98.6,146.3 L99.1,143.9 L99.4,141.4 L99.5,138.8 L99.4,135.9 L99.0,132.8 L98.4,129.6 L97.6,126.4 L96.7,123.4 L95.8,120.6 L94.7,118.2 L93.4,115.9 L92.0,113.8 L90.6,111.9 L89.2,109.9 L88.0,108.0 L86.8,106.1 L85.5,104.3 L84.3,102.5 L83.3,100.7 L82.5,98.9 L82.0,97.0 L82.0,95.0 L82.3,93.1 L82.9,91.1 L83.6,89.0 L84.4,86.7 L85.0,84.3 L85.6,81.6 L86.4,78.7 L87.1,75.7 L87.8,72.6 L88.3,69.4 L88.6,66.2 L88.7,62.9 L88.6,59.5 L88.4,56.1 L88.0,52.7 L87.5,49.3 L86.8,46.2 L86.0,43.2 L85.0,40.3 L83.8,37.5 L82.5,34.8 L81.1,32.3 L79.5,29.9 L77.8,27.7 L75.9,25.5 L73.8,23.5 L71.6,21.8 L69.3,20.2 L66.8,19.0 L64.1,18.1 L61.2,17.6 L58.1,17.3 L54.9,17.2 L51.7,17.2 L48.6,17.2 L45.5,17.3 L42.3,17.5 L39.1,17.8 L35.9,18.2 L32.9,18.6 L30.0,19.0 L27.8,19.5 L26.2,20.1 L24.8,20.7 L22.8,21.3 L19.8,21.8 L15.0,22.0 L7.5,19.4 L-2.4,13.5 L-13.4,7.4 L-24.3,4.4 L-33.6,7.5 L-40.0,20.0Z " fill="#1b1b1b" fill-rule="evenodd" filter="url(#b2)"/><ellipse cx="5" cy="185" rx="25" ry="35" fill="#2d2d2d" filter="url(#b6)"/><ellipse cx="8" cy="50" rx="16" ry="14" fill="#292929" filter="url(#b3)"/><ellipse cx="4" cy="35" rx="10" ry="10" fill="#393939" filter="url(#b3)"/><path d="M-5.9,129.8 L-4.9,130.7 L-3.4,132.1 L-1.7,133.5 L0.2,134.7 L2.1,135.7 L3.5,136.4 L5.0,136.9 L6.1,137.3 L6.6,139.7 L6.9,141.1 L7.3,142.5 L8.1,144.8 L8.7,146.2 L9.4,147.6 L10.5,149.6 L11.3,150.9 L12.6,152.8 L13.5,154.0 L14.9,155.7 L15.6,156.6 L17.2,158.3 L17.8,158.9 L19.5,160.6 L19.9,161.0 L21.7,162.8 L23.7,164.6 L25.8,166.7 L26.3,167.1 L28.6,169.1 L29.5,169.9 L32.0,171.9 L33.5,172.9 L36.2,174.6 L38.4,175.8 L41.3,177.0 L42.6,177.6 L43.9,178.0 L47.2,178.9 L49.0,179.3 L52.8,179.9 L54.0,180.1 L58.0,180.4 L59.0,180.5 L63.0,180.7 L63.9,180.7 L67.6,180.6 L68.6,180.6 L71.7,180.4 L73.7,180.1 L76.1,179.6 L77.5,179.3 L78.8,178.9 L80.8,178.2 L82.1,177.8 L83.3,177.2 L85.0,176.3 L86.8,175.2 L88.3,174.1 L89.2,173.5 L90.6,172.4 L92.2,171.2 L92.3,171.2 L94.0,169.9 L94.7,169.3 L96.4,167.8 L97.0,167.3 L98.6,165.7 L99.3,165.1 L100.8,163.5 L101.4,162.8 L102.8,161.3 L103.5,160.4 L104.7,158.8 L105.1,158.3 L106.1,156.8 L106.4,156.4 L107.3,155.1 L108.1,153.8 L108.8,152.4 L109.9,150.2 L110.5,148.7 L111.0,147.2 L111.3,145.7 L111.7,144.1 L111.9,142.4 L112.0,140.8 L112.0,139.0 L111.9,137.4 L111.8,135.8 L111.4,133.7 L110.9,131.5 L110.2,129.2 L109.8,127.9 L108.8,125.4 L108.5,124.7 L107.4,122.1 L107.2,121.7 L106.1,119.2 L106.0,119.0 L104.9,116.7 L104.8,116.4 L103.7,114.2 L103.5,113.7 L102.3,111.4 L102.0,111.0 L100.8,108.8 L100.6,108.3 L99.3,106.2 L99.0,105.7 L97.7,103.7 L97.3,103.1 L96.1,101.3 L95.3,100.2 L94.4,99.2 L93.0,97.8 L91.7,96.5 L91.7,95.6 L92.0,92.5 L92.4,89.7 L92.6,88.5 L92.8,88.2 L93.6,86.9 L94.6,85.3 L95.4,83.7 L95.7,83.1 L96.6,81.4 L97.5,79.4 L97.6,79.3 L98.7,77.1 L99.0,76.5 L100.0,74.2 L100.5,73.1 L101.3,70.9 L101.9,68.9 L102.4,66.8 L102.7,65.3 L102.9,63.9 L103.0,61.9 L103.0,59.4 L102.9,57.4 L102.6,55.5 L102.3,53.6 L102.0,52.4 L101.5,50.5 L101.3,49.8 L100.8,48.1 L100.8,48.0 L100.3,46.4 L100.2,46.2 L99.8,44.8 L99.4,43.8 L99.0,42.6 L98.5,41.5 L98.0,40.3 L97.4,39.3 L96.8,38.2 L96.4,37.4 L95.7,36.3 L95.4,35.8 L94.6,34.6 L94.5,34.5 L93.6,33.0 L93.5,32.9 L92.4,31.3 L92.1,30.9 L90.9,29.1 L90.4,28.4 L89.1,26.8 L88.1,25.6 L86.8,24.2 L85.0,22.5 L83.6,21.4 L82.5,20.5 L81.2,19.7 L79.9,19.0 L78.7,18.3 L77.5,17.8 L76.2,17.3 L75.0,16.8 L73.6,16.5 L72.3,16.2 L70.2,15.8 L68.7,15.7 L67.4,15.6 L65.8,15.5 L65.2,15.5 L63.3,15.5 L63.0,15.5 L60.6,15.5 L60.2,15.5 L57.4,15.6 L56.8,15.7 L53.8,15.9 L53.0,15.9 L50.0,16.3 L48.9,16.4 L46.1,16.9 L44.4,17.3 L42.0,17.9 L39.6,18.8 L37.6,19.7 L35.5,20.7 L33.7,21.8 L32.0,23.0 L30.4,24.3 L28.9,25.5 L27.5,26.8 L26.4,28.1 L25.2,29.5 L24.2,30.7 L23.2,32.1 L22.4,33.3 L21.7,34.6 L21.0,36.0 L20.2,37.7 L19.7,39.5 L19.3,41.0 L18.9,43.4 L18.7,44.9 L18.6,45.8 L18.5,47.1 L18.5,47.5 L18.4,47.9 L18.1,49.3 L18.0,49.8 L17.9,50.3 L16.6,50.6 L14.4,51.2 L11.5,51.8 L8.1,52.4 L5.6,52.8 L4.9,52.5 L3.2,51.8 L1.5,51.3 L-0.3,51.0 L-2.0,50.9 L-3.8,51.0 L-5.6,51.2 L-7.4,51.6 L-9.1,52.2 L-10.7,52.9 L-12.2,53.8 L-13.7,54.9 L-15.0,56.1 L-16.2,57.4 L-17.3,58.8 L-18.2,60.3 L-18.5,60.9 L-19.2,62.3 L-19.8,63.8 L-20.2,65.3 L-20.5,66.9 L-20.8,69.0 L-21.0,70.4 L-21.3,75.0 L-21.3,75.7 L-21.5,82.4 L-21.5,82.8 L-21.6,90.6 L-21.6,90.8 L-21.5,98.6 L-21.5,99.0 L-21.3,105.7 L-21.3,106.4 L-21.0,111.0 L-20.6,113.6 L-20.1,115.7 L-19.7,117.4 L-19.0,119.1 L-18.3,120.7 L-17.3,122.2 L-16.2,123.6 L-15.0,124.9 L-13.7,126.0 L-12.3,127.1 L-11.6,127.5 L-10.1,128.4 L-8.4,129.1 L-6.7,129.7 L-5.9,129.8Z " fill="#171717" fill-rule="evenodd" filter="url(#b4)"/><path d="M0.4,116.7 L0.5,116.8 L1.7,118.5 L1.9,118.9 L3.3,120.5 L3.5,120.8 L3.8,121.1 L5.3,122.5 L5.8,122.9 L6.3,123.2 L8.2,124.2 L8.6,124.4 L9.0,124.6 L11.3,125.3 L11.6,125.4 L13.9,126.0 L15.8,126.6 L17.0,127.2 L17.5,127.5 L17.8,128.1 L18.2,129.6 L18.5,131.9 L18.8,134.5 L18.9,134.8 L19.4,137.4 L19.4,137.8 L19.6,138.2 L20.4,140.5 L20.5,140.9 L20.7,141.2 L21.9,143.3 L22.1,143.6 L23.4,145.5 L23.6,145.8 L25.0,147.6 L25.2,147.8 L26.8,149.6 L27.0,149.7 L28.7,151.5 L28.8,151.6 L30.7,153.3 L32.7,155.2 L34.8,157.3 L34.9,157.4 L37.2,159.4 L37.5,159.7 L40.0,161.6 L40.4,161.9 L43.1,163.6 L43.7,163.9 L46.6,165.2 L46.9,165.3 L47.3,165.4 L50.6,166.3 L51.1,166.4 L54.9,167.1 L55.3,167.1 L59.3,167.5 L59.5,167.5 L63.5,167.7 L63.7,167.7 L67.4,167.6 L67.7,167.6 L70.8,167.4 L71.3,167.3 L73.8,166.9 L74.1,166.8 L74.5,166.7 L76.6,166.0 L76.9,165.8 L77.2,165.7 L79.0,164.8 L79.5,164.5 L81.0,163.4 L81.2,163.2 L82.7,162.1 L84.3,160.9 L84.3,160.9 L86.0,159.6 L86.2,159.4 L87.9,158.0 L88.1,157.8 L89.7,156.3 L89.9,156.1 L91.4,154.5 L91.6,154.3 L93.0,152.7 L93.2,152.5 L94.4,150.9 L94.5,150.8 L95.5,149.3 L95.6,149.2 L96.5,147.8 L96.7,147.5 L97.5,146.1 L97.8,145.5 L98.3,144.0 L98.5,143.6 L98.6,143.2 L98.9,141.6 L99.0,141.1 L99.0,140.7 L99.0,138.8 L99.0,138.4 L98.9,138.0 L98.6,135.8 L98.4,135.3 L97.7,132.9 L97.6,132.5 L96.7,130.0 L96.6,129.8 L95.5,127.2 L95.4,127.1 L94.3,124.6 L94.2,124.6 L93.1,122.2 L93.1,122.1 L92.0,119.8 L91.9,119.7 L90.7,117.4 L90.7,117.3 L89.4,115.1 L89.4,114.9 L88.1,112.8 L88.0,112.7 L86.8,110.7 L86.6,110.5 L85.4,108.7 L85.2,108.4 L84.9,108.2 L83.6,106.8 L83.2,106.4 L82.8,106.1 L81.4,105.1 L81.1,104.9 L79.8,104.2 L79.2,103.8 L79.1,103.6 L78.9,103.1 L78.6,101.2 L78.6,98.2 L78.8,94.7 L79.1,91.2 L79.5,87.9 L79.9,85.3 L80.3,83.8 L80.7,82.9 L81.2,82.1 L81.9,81.0 L82.0,80.9 L82.8,79.7 L83.1,79.2 L83.9,77.6 L84.0,77.5 L84.9,75.6 L86.0,73.5 L86.0,73.5 L87.1,71.3 L87.2,71.1 L88.2,68.9 L88.3,68.6 L89.1,66.4 L89.3,65.8 L89.8,63.8 L89.8,63.4 L89.9,62.9 L90.0,61.0 L90.0,60.3 L89.9,58.3 L89.8,57.8 L89.5,55.9 L89.4,55.6 L88.9,53.8 L88.9,53.6 L88.4,51.9 L88.4,51.8 L87.9,50.2 L87.9,50.2 L87.4,48.8 L87.3,48.5 L86.8,47.3 L86.7,47.0 L86.2,45.8 L86.0,45.5 L85.4,44.4 L85.3,44.2 L84.6,43.1 L84.5,42.9 L83.7,41.7 L83.7,41.7 L82.7,40.2 L82.7,40.1 L81.6,38.5 L81.5,38.3 L80.3,36.6 L80.1,36.4 L78.8,34.8 L78.6,34.5 L77.2,33.0 L76.7,32.6 L75.4,31.4 L75.1,31.2 L74.7,31.0 L73.4,30.2 L73.1,30.0 L72.7,29.9 L71.4,29.4 L71.1,29.3 L70.7,29.2 L69.4,28.8 L68.8,28.7 L67.3,28.6 L67.0,28.6 L65.3,28.5 L65.2,28.5 L63.2,28.5 L63.1,28.5 L60.8,28.5 L60.6,28.5 L57.8,28.6 L57.7,28.6 L54.7,28.8 L54.5,28.9 L51.5,29.2 L51.1,29.2 L48.3,29.7 L47.9,29.8 L45.5,30.5 L44.8,30.7 L42.8,31.6 L42.2,31.9 L40.4,33.0 L39.9,33.3 L38.3,34.5 L37.9,34.9 L36.5,36.2 L36.2,36.6 L35.0,38.0 L34.7,38.3 L33.7,39.7 L33.5,40.0 L33.3,40.4 L32.6,41.8 L32.4,42.2 L32.3,42.8 L31.9,44.2 L31.8,44.9 L31.6,46.4 L31.6,46.6 L31.5,48.1 L31.4,49.3 L31.1,50.6 L30.7,52.3 L30.7,52.5 L30.3,54.3 L29.9,56.1 L29.4,57.6 L29.0,58.6 L28.5,59.3 L27.8,60.0 L26.9,60.6 L25.7,61.2 L24.2,61.9 L22.3,62.5 L20.1,63.2 L17.3,63.9 L13.9,64.6 L10.2,65.2 L6.6,65.8 L3.3,66.3 L2.0,66.5 L2.0,66.4 L1.6,65.9 L1.2,65.5 L0.9,65.1 L0.5,64.8 L0.1,64.6 L-0.4,64.3 L-0.8,64.2 L-1.3,64.0 L-1.8,63.9 L-2.3,63.9 L-2.8,63.9 L-3.3,64.0 L-3.8,64.1 L-4.3,64.3 L-4.7,64.5 L-5.1,64.7 L-5.5,65.0 L-5.9,65.3 L-6.2,65.7 L-6.5,66.1 L-6.8,66.5 L-7.1,67.1 L-7.3,67.5 L-7.4,67.9 L-7.6,68.3 L-7.6,68.7 L-7.9,70.9 L-8.0,71.3 L-8.3,75.9 L-8.3,76.1 L-8.5,82.8 L-8.5,82.9 L-8.6,90.7 L-8.6,90.7 L-8.5,98.5 L-8.5,98.6 L-8.3,105.3 L-8.3,105.5 L-8.0,110.1 L-7.9,110.9 L-7.4,113.0 L-7.3,113.4 L-7.1,113.9 L-6.9,114.3 L-6.6,114.8 L-6.3,115.2 L-6.0,115.5 L-5.6,115.8 L-5.2,116.1 L-4.6,116.5 L-4.2,116.8 L-3.7,117.0 L-3.3,117.1 L-2.8,117.2 L-2.3,117.3 L-1.8,117.3 L-1.3,117.3 L-0.8,117.2 L-0.3,117.0 L0.2,116.8 L0.4,116.7Z " fill="#151515" fill-rule="evenodd" filter="url(#b3)"/><path d="M63.2,33.5 L60.8,33.5 L58.0,33.6 L55.0,33.8 L52.0,34.2 L49.2,34.6 L46.8,35.3 L44.8,36.2 L43.0,37.3 L41.4,38.5 L40.0,39.8 L38.8,41.2 L37.8,42.6 L37.1,44.0 L36.7,45.4 L36.6,46.9 L36.5,48.5 L36.3,50.1 L36.0,51.7 L35.6,53.5 L35.2,55.4 L34.7,57.4 L34.1,59.3 L33.4,61.1 L32.3,62.6 L31.0,63.8 L29.5,64.9 L27.9,65.8 L26.0,66.5 L23.8,67.3 L21.4,68.0 L18.4,68.7 L14.9,69.5 L11.0,70.1 L7.3,70.7 L4.0,71.2 L1.5,71.6 L-0.2,71.4 L-1.3,70.5 L-2.0,69.4 L-2.4,68.9 L-2.7,69.4 L-3.0,71.6 L-3.3,76.2 L-3.5,82.9 L-3.6,90.7 L-3.5,98.5 L-3.3,105.2 L-3.0,109.8 L-2.5,111.9 L-1.9,112.3 L-1.2,111.6 L-0.4,110.5 L0.5,109.7 L1.5,109.8 L2.5,110.8 L3.5,112.3 L4.6,114.0 L5.8,115.7 L7.2,117.4 L8.7,118.8 L10.6,119.8 L12.9,120.6 L15.3,121.2 L17.6,121.9 L19.7,122.9 L21.4,124.3 L22.5,126.2 L23.1,128.6 L23.5,131.2 L23.8,133.9 L24.3,136.5 L25.1,138.8 L26.2,140.8 L27.5,142.7 L28.9,144.5 L30.5,146.2 L32.2,147.9 L34.1,149.7 L36.1,151.6 L38.3,153.7 L40.5,155.7 L43.0,157.6 L45.7,159.3 L48.6,160.6 L51.9,161.5 L55.7,162.1 L59.7,162.5 L63.7,162.7 L67.3,162.6 L70.4,162.4 L72.9,161.9 L74.9,161.2 L76.6,160.3 L78.2,159.3 L79.7,158.1 L81.3,156.9 L83.0,155.6 L84.7,154.2 L86.3,152.6 L87.8,151.0 L89.2,149.4 L90.4,147.9 L91.4,146.5 L92.3,145.1 L93.1,143.7 L93.7,142.2 L94.0,140.6 L94.0,138.8 L93.6,136.7 L92.9,134.3 L92.0,131.8 L90.9,129.2 L89.7,126.7 L88.6,124.3 L87.5,122.0 L86.3,119.7 L85.1,117.5 L83.8,115.4 L82.5,113.4 L81.3,111.6 L80.0,110.2 L78.6,109.2 L77.1,108.4 L75.8,107.5 L74.7,106.2 L74.0,104.3 L73.6,101.6 L73.6,98.2 L73.8,94.4 L74.1,90.6 L74.5,87.1 L75.0,84.3 L75.5,82.2 L76.2,80.6 L77.0,79.3 L77.8,78.2 L78.7,76.9 L79.5,75.3 L80.4,73.4 L81.5,71.3 L82.6,69.1 L83.6,66.8 L84.4,64.7 L84.9,62.6 L85.0,60.6 L84.9,58.7 L84.6,56.8 L84.1,55.0 L83.6,53.3 L83.1,51.7 L82.6,50.3 L82.2,49.1 L81.6,47.9 L81.0,46.8 L80.3,45.7 L79.5,44.4 L78.5,42.9 L77.4,41.2 L76.2,39.5 L74.9,37.9 L73.6,36.4 L72.2,35.3 L70.9,34.5 L69.6,34.0 L68.3,33.7 L66.8,33.6 L65.1,33.5 L63.2,33.5Z " fill="#101010" fill-rule="evenodd"/><ellipse cx="48" cy="105" rx="14" ry="10" fill="#0a0a0a" filter="url(#b5)"/><ellipse cx="68" cy="132" rx="10" ry="10" fill="#0a0a0a" filter="url(#b5)"/><ellipse cx="56.8" cy="92.5" rx="5" ry="5" fill="#1a1a1a" filter="url(#b0_5)"/><ellipse cx="56.8" cy="95.5" rx="2.5" ry="2" fill="#0e0e0e" filter="url(#b0_3)"/></g></g></g>
<g transform="translate(955.5,1413.4)"><g clip-path="url(#cp200)"><rect width="200" height="200.2" fill="#fff"/><rect width="200" height="200.2" filter="url(#sh2)" mask="url(#mk2)"/></g></g>
<rect x="717.80" y="1413.40" width="200.40" height="200.20" fill="none" stroke="#333" stroke-width="1.0" />
<rect x="955.50" y="1413.40" width="200.00" height="200.20" fill="none" stroke="#333" stroke-width="1.0" />
<line x1="714.30" y1="1429.70" x2="717.80" y2="1429.70" stroke="#333" stroke-width="0.8" />
<line x1="952.00" y1="1429.70" x2="955.50" y2="1429.70" stroke="#333" stroke-width="0.8" />
<text x="711.5" y="1433.6" font-size="10.8" text-anchor="end" textLength="13.5" lengthAdjust="spacingAndGlyphs" fill="#1a1a1a" >17</text>
<line x1="714.30" y1="1460.70" x2="717.80" y2="1460.70" stroke="#333" stroke-width="0.8" />
<line x1="952.00" y1="1460.70" x2="955.50" y2="1460.70" stroke="#333" stroke-width="0.8" />
<text x="711.5" y="1464.6" font-size="10.8" text-anchor="end" textLength="13.5" lengthAdjust="spacingAndGlyphs" fill="#1a1a1a" >16</text>
<line x1="714.30" y1="1491.80" x2="717.80" y2="1491.80" stroke="#333" stroke-width="0.8" />
<line x1="952.00" y1="1491.80" x2="955.50" y2="1491.80" stroke="#333" stroke-width="0.8" />
<text x="711.5" y="1495.7" font-size="10.8" text-anchor="end" textLength="13.5" lengthAdjust="spacingAndGlyphs" fill="#1a1a1a" >15</text>
<line x1="714.30" y1="1523.20" x2="717.80" y2="1523.20" stroke="#333" stroke-width="0.8" />
<line x1="952.00" y1="1523.20" x2="955.50" y2="1523.20" stroke="#333" stroke-width="0.8" />
<text x="711.5" y="1527.1" font-size="10.8" text-anchor="end" textLength="13.5" lengthAdjust="spacingAndGlyphs" fill="#1a1a1a" >14</text>
<line x1="714.30" y1="1554.40" x2="717.80" y2="1554.40" stroke="#333" stroke-width="0.8" />
<line x1="952.00" y1="1554.40" x2="955.50" y2="1554.40" stroke="#333" stroke-width="0.8" />
<text x="711.5" y="1558.3" font-size="10.8" text-anchor="end" textLength="13.5" lengthAdjust="spacingAndGlyphs" fill="#1a1a1a" >13</text>
<line x1="714.30" y1="1586.10" x2="717.80" y2="1586.10" stroke="#333" stroke-width="0.8" />
<line x1="952.00" y1="1586.10" x2="955.50" y2="1586.10" stroke="#333" stroke-width="0.8" />
<text x="711.5" y="1590.0" font-size="10.8" text-anchor="end" textLength="13.5" lengthAdjust="spacingAndGlyphs" fill="#1a1a1a" >12</text>
<line x1="746.60" y1="1613.60" x2="746.60" y2="1617.10" stroke="#333" stroke-width="0.8" />
<text x="746.6" y="1625.9" font-size="10.8" text-anchor="middle" textLength="13.5" lengthAdjust="spacingAndGlyphs" fill="#1a1a1a" >81</text>
<line x1="777.02" y1="1613.60" x2="777.02" y2="1617.10" stroke="#333" stroke-width="0.8" />
<text x="777.0" y="1625.9" font-size="10.8" text-anchor="middle" textLength="13.5" lengthAdjust="spacingAndGlyphs" fill="#1a1a1a" >82</text>
<line x1="807.44" y1="1613.60" x2="807.44" y2="1617.10" stroke="#333" stroke-width="0.8" />
<text x="807.4" y="1625.9" font-size="10.8" text-anchor="middle" textLength="13.5" lengthAdjust="spacingAndGlyphs" fill="#1a1a1a" >83</text>
<line x1="837.86" y1="1613.60" x2="837.86" y2="1617.10" stroke="#333" stroke-width="0.8" />
<text x="837.9" y="1625.9" font-size="10.8" text-anchor="middle" textLength="13.5" lengthAdjust="spacingAndGlyphs" fill="#1a1a1a" >84</text>
<line x1="868.28" y1="1613.60" x2="868.28" y2="1617.10" stroke="#333" stroke-width="0.8" />
<text x="868.3" y="1625.9" font-size="10.8" text-anchor="middle" textLength="13.5" lengthAdjust="spacingAndGlyphs" fill="#1a1a1a" >85</text>
<line x1="898.70" y1="1613.60" x2="898.70" y2="1617.10" stroke="#333" stroke-width="0.8" />
<text x="898.7" y="1625.9" font-size="10.8" text-anchor="middle" textLength="13.5" lengthAdjust="spacingAndGlyphs" fill="#1a1a1a" >86</text>
<line x1="961.80" y1="1613.60" x2="961.80" y2="1617.10" stroke="#333" stroke-width="0.8" />
<line x1="992.13" y1="1613.60" x2="992.13" y2="1617.10" stroke="#333" stroke-width="0.8" />
<line x1="1022.46" y1="1613.60" x2="1022.46" y2="1617.10" stroke="#333" stroke-width="0.8" />
<line x1="1052.79" y1="1613.60" x2="1052.79" y2="1617.10" stroke="#333" stroke-width="0.8" />
<line x1="1083.12" y1="1613.60" x2="1083.12" y2="1617.10" stroke="#333" stroke-width="0.8" />
<line x1="1113.45" y1="1613.60" x2="1113.45" y2="1617.10" stroke="#333" stroke-width="0.8" />
<line x1="1143.78" y1="1613.60" x2="1143.78" y2="1617.10" stroke="#333" stroke-width="0.8" />
<text x="818.0" y="1646.5" font-size="11.4" text-anchor="middle" textLength="78.0" lengthAdjust="spacingAndGlyphs" fill="#1a1a1a" >9h old IR Data</text>
<text x="1055.5" y="1646.5" font-size="11.4" text-anchor="middle" textLength="121.0" lengthAdjust="spacingAndGlyphs" fill="#1a1a1a" >SHAP Value=-3.59 kts</text>
<g transform="translate(717.8,1650.8)"><g clip-path="url(#cp200)"><g filter="url(#cm3)"><path d="M-30.0,-30.0 L230.0,-30.0 L230.0,230.0 L-30.0,230.0 Z" fill="#959595" /><path d="M115.0,5.0 C121.3,2.0 129.2,9.5 150.0,2.0 C170.8,-5.5 225.0,-56.3 240.0,-40.0 C255.0,-23.7 246.7,77.0 240.0,100.0 C233.3,123.0 210.8,98.0 200.0,98.0 C189.2,98.0 183.3,98.7 175.0,100.0 C166.7,101.3 158.3,104.3 150.0,106.0 C141.7,107.7 130.7,111.0 125.0,110.0 C119.3,109.0 118.2,106.7 116.0,100.0 C113.8,93.3 111.7,80.0 112.0,70.0 C112.3,60.0 118.0,48.3 118.0,40.0 C118.0,31.7 112.5,25.8 112.0,20.0 C111.5,14.2 108.7,8.0 115.0,5.0 Z" fill="#cccccc" filter="url(#b1)" /><ellipse cx="185" cy="15" rx="12" ry="14" fill="#a1a1a1" filter="url(#b2)"/><ellipse cx="190" cy="12" rx="6" ry="8" fill="#7c7c7c" filter="url(#b1_5)"/><path d="M128.0,150.0 C131.5,142.8 138.8,135.7 145.0,132.0 C151.2,128.3 159.5,127.0 165.0,128.0 C170.5,129.0 176.2,131.0 178.0,138.0 C179.8,145.0 177.7,158.8 176.0,170.0 C174.3,181.2 175.7,199.2 168.0,205.0 C160.3,210.8 137.3,210.0 130.0,205.0 C122.7,200.0 124.3,184.2 124.0,175.0 C123.7,165.8 124.5,157.2 128.0,150.0 Z" fill="#cccccc" filter="url(#b1)" /><ellipse cx="100" cy="25" rx="8" ry="12" fill="#c8c8c8" filter="url(#b1_5)"/><ellipse cx="110" cy="5" rx="8" ry="6" fill="#c8c8c8" filter="url(#b1_5)"/><path d="M128.0,112.0 C132.7,108.7 143.0,110.0 150.0,110.0 C157.0,110.0 166.3,108.7 170.0,112.0 C173.7,115.3 173.7,125.3 172.0,130.0 C170.3,134.7 165.3,137.5 160.0,140.0 C154.7,142.5 145.8,143.3 140.0,145.0 C134.2,146.7 128.0,152.5 125.0,150.0 C122.0,147.5 121.5,136.3 122.0,130.0 C122.5,123.7 123.3,115.3 128.0,112.0 Z" fill="#7c7c7c" filter="url(#b2)" /><ellipse cx="188" cy="165" rx="14" ry="25" fill="#7e7e7e" filter="url(#b3)"/><ellipse cx="175" cy="130" rx="6" ry="5" fill="#bababa" filter="url(#b1)"/><ellipse cx="185" cy="118" rx="4" ry="4" fill="#bababa" filter="url(#b1)"/><path d="M-40.0,-40.0 L-49.1,-6.3 L-55.1,43.0 L-57.7,100.0 L-56.3,157.0 L-50.6,206.3 L-40.0,240.0 L-21.0,256.9 L6.7,263.0 L38.8,261.2 L70.9,254.8 L98.8,246.7 L118.0,240.0 L127.6,233.1 L131.0,223.3 L130.0,211.9 L126.8,200.0 L123.5,189.0 L122.0,180.0 L122.0,173.3 L121.8,167.8 L121.4,163.1 L120.9,158.9 L120.4,154.7 L120.0,150.0 L119.7,144.9 L119.4,139.6 L119.1,134.4 L118.8,129.3 L118.4,124.4 L118.0,120.0 L117.4,116.1 L116.7,112.6 L116.0,109.4 L115.3,106.3 L114.6,103.2 L114.0,100.0 L113.6,96.7 L113.3,93.3 L113.0,90.0 L112.7,86.7 L112.4,83.3 L112.0,80.0 L111.5,76.7 L111.0,73.3 L110.4,70.0 L109.7,66.7 L108.9,63.3 L108.0,60.0 L106.9,56.7 L105.8,53.5 L104.5,50.3 L103.1,47.0 L101.6,43.6 L100.0,40.0 L98.1,36.5 L96.0,33.1 L93.7,29.7 L91.5,25.7 L89.5,21.0 L88.0,15.0 L88.4,6.9 L90.9,-3.1 L93.6,-14.1 L94.7,-24.6 L92.5,-33.7 L85.0,-40.0 L69.8,-46.4 L47.7,-54.4 L22.3,-60.9 L-3.1,-62.8 L-25.0,-56.8 L-40.0,-40.0Z " fill="#9d9d9d" fill-rule="evenodd" filter="url(#b1_5)"/><path d="M130.0,211.9 L126.8,200.0 L123.5,189.0 L122.0,180.0 L122.0,173.3 L121.8,167.8 L121.4,163.1 L120.9,158.9 L120.4,154.7 L120.0,150.0 L119.7,144.9 L119.4,139.6 L119.1,134.4 L118.8,129.3 L118.4,124.4 L118.0,120.0 L117.4,116.1 L116.7,112.6 L116.0,109.4 L115.3,106.3 L114.6,103.2 L114.0,100.0 L113.6,96.7 L113.3,93.3 L113.0,90.0 L112.7,86.7 L112.4,83.3 L112.0,80.0 L111.5,76.7 L111.0,73.3 L110.4,70.0 L109.7,66.7 L108.9,63.3 L108.0,60.0 L106.9,56.7 L105.8,53.5 L104.5,50.3 L103.1,47.0 L101.6,43.6 L100.0,40.0 L98.1,36.5 L96.0,33.1 L93.7,29.7 L91.5,25.7 L89.5,21.0 L88.0,15.0 L88.1,13.3 L86.5,24.1 L86.5,24.2 L87.8,27.3 L88.0,27.7 L90.2,31.6 L90.3,31.9 L92.6,35.3 L94.7,38.5 L96.4,41.8 L98.0,45.2 L99.4,48.6 L100.8,51.8 L102.0,54.9 L103.2,58.0 L104.2,61.1 L105.0,64.3 L105.8,67.5 L106.4,70.7 L107.0,74.0 L107.5,77.3 L108.0,80.6 L108.4,83.8 L108.8,87.0 L109.0,90.3 L109.3,93.6 L109.3,93.7 L109.6,97.0 L109.6,97.2 L110.0,100.5 L110.1,100.7 L110.6,103.9 L110.7,104.1 L111.4,107.2 L111.4,107.2 L112.1,110.3 L112.8,113.4 L113.5,116.8 L114.0,120.5 L114.5,124.8 L114.8,129.5 L115.1,134.6 L115.4,139.8 L115.7,145.1 L115.7,145.1 L116.0,150.2 L116.0,150.3 L116.4,155.0 L116.4,155.1 L116.9,159.3 L117.4,163.5 L117.8,168.0 L118.0,173.3 L118.0,180.0 L118.0,180.3 L118.1,180.6 L119.5,189.6 L119.6,190.1 L123.0,201.1 L126.0,212.6 L126.7,220.8 L130.5,217.2 L130.0,211.9Z M90.2,-0.4 L90.0,0.0 L89.9,0.8 L90.2,-0.4Z " fill="#b2b2b2" fill-rule="evenodd" filter="url(#b1)"/><path d="M34.4,261.5 L50.0,253.8 L60.2,243.0 L64.6,231.1 L65.5,227.2 L66.4,215.7 L66.2,197.8 L67.3,192.3 L82.5,176.6 L87.8,169.9 L93.3,160.3 L98.0,148.6 L106.3,122.0 L109.2,109.3 L111.3,95.8 L111.9,79.1 L108.0,60.0 L104.7,51.5 L98.9,42.9 L92.2,37.4 L86.9,34.9 L82.2,33.5 L67.4,31.8 L55.2,32.8 L45.7,34.6 L22.0,42.2 L17.0,43.1 L4.4,41.4 L-11.8,30.7 L-23.2,26.1 L-29.1,25.1 L-35.0,26.3 L-41.5,28.8 L-47.1,32.3 L-51.0,37.8 L-55.3,47.6 L-57.7,100.0 L-56.3,157.0 L-50.6,206.3 L-40.0,240.0 L-21.0,256.9 L6.7,263.0 L34.4,261.5Z " fill="#898989" fill-rule="evenodd" filter="url(#b1_2)"/><path d="M-52.9,53.1 L-56.2,76.0 L-57.7,100.0 L-56.3,157.0 L-50.6,206.3 L-40.0,240.0 L-21.0,256.9 L6.7,263.0 L21.6,262.2 L34.5,257.2 L47.6,250.5 L56.8,240.9 L61.5,226.9 L62.4,215.8 L62.2,197.6 L63.6,190.7 L64.8,188.5 L79.5,173.8 L85.6,166.0 L91.0,155.7 L96.3,141.3 L103.9,114.9 L107.7,91.9 L108.0,81.6 L107.2,71.8 L105.6,64.6 L102.9,57.2 L99.0,49.6 L94.3,43.9 L87.8,39.6 L81.2,37.4 L67.5,35.8 L55.7,36.7 L44.1,39.2 L20.7,46.7 L15.4,47.0 L3.4,45.3 L0.5,44.0 L-16.9,32.6 L-24.6,29.9 L-29.1,29.1 L-33.6,30.0 L-40.1,32.5 L-44.4,35.2 L-47.3,39.4 L-52.9,53.1Z " fill="#7c7c7c" fill-rule="evenodd" filter="url(#b1_2)"/><path d="M-48.9,53.7 L-52.2,76.4 L-54.9,108.9 L-56.5,146.9 L-56.3,157.0 L-50.6,206.3 L-40.0,240.0 L-21.0,256.9 L4.9,262.6 L18.8,258.9 L33.8,253.1 L45.3,247.3 L52.2,240.4 L54.3,237.0 L57.5,226.5 L58.4,215.8 L58.2,197.4 L58.8,192.1 L59.9,189.1 L61.8,185.9 L76.9,170.8 L83.8,161.3 L89.5,148.5 L97.7,123.4 L101.3,107.6 L103.9,88.6 L103.6,75.6 L101.5,65.2 L96.3,52.8 L93.2,48.5 L89.9,45.5 L82.8,42.0 L70.6,40.0 L61.6,40.0 L50.9,41.6 L21.5,50.6 L15.0,51.0 L2.3,49.2 L-1.5,47.5 L-18.2,36.3 L-27.4,33.2 L-30.6,33.3 L-38.7,36.2 L-41.6,38.1 L-43.6,41.0 L-48.9,53.7Z " fill="#646464" fill-rule="evenodd" filter="url(#b1_2)"/><path d="M-45.9,54.1 L-49.2,76.6 L-51.9,109.1 L-53.5,147.1 L-53.4,182.1 L-50.6,206.3 L-40.0,240.0 L-21.0,256.9 L-3.1,260.8 L0.9,260.5 L17.0,256.4 L32.0,250.6 L42.7,245.4 L50.0,238.4 L51.4,236.1 L54.5,226.3 L55.4,215.9 L55.1,197.2 L55.9,191.4 L57.2,187.8 L59.5,183.9 L74.6,168.9 L81.2,159.8 L86.7,147.5 L94.8,122.6 L98.4,107.0 L100.9,88.4 L100.6,75.8 L98.7,66.1 L95.1,56.8 L91.7,51.4 L89.3,48.8 L86.2,46.6 L82.0,44.9 L70.6,43.0 L62.1,43.0 L51.4,44.6 L22.1,53.6 L14.7,54.0 L1.6,52.1 L-3.0,50.1 L-17.9,39.8 L-29.0,36.1 L-37.6,39.0 L-39.6,40.3 L-40.9,42.2 L-45.9,54.1Z " fill="#4c4c4c" fill-rule="evenodd" filter="url(#b1_2)"/><path d="M-42.5,54.6 L-45.7,76.9 L-48.4,109.4 L-50.0,147.2 L-49.9,185.1 L-47.8,215.3 L-40.0,240.0 L-21.2,256.8 L-15.9,258.0 L-0.0,257.1 L16.2,253.0 L30.9,247.3 L41.5,242.0 L47.9,235.5 L51.0,226.0 L51.9,215.9 L51.6,197.0 L52.4,190.6 L54.0,186.4 L56.9,181.6 L71.8,166.7 L78.1,158.3 L83.4,146.4 L90.5,124.9 L94.3,109.4 L97.2,91.2 L97.3,79.1 L96.2,70.2 L92.0,58.5 L88.9,53.4 L86.8,51.2 L81.1,48.2 L72.9,46.8 L64.9,46.4 L54.5,47.5 L39.3,51.6 L22.9,57.0 L14.3,57.5 L0.7,55.6 L-4.7,53.2 L-19.9,42.7 L-28.9,39.6 L-37.1,42.8 L-42.5,54.6Z " fill="#373737" fill-rule="evenodd" filter="url(#b1_2)"/><path d="M-40.0,-40.0 L-48.4,-29.5 L-51.9,-14.2 L-51.6,3.5 L-48.7,21.2 L-44.5,36.5 L-40.0,47.0 L-34.3,52.0 L-26.3,53.4 L-16.9,52.4 L-7.0,50.1 L2.2,47.9 L10.0,47.0 L16.2,47.1 L21.5,47.2 L26.2,47.4 L30.7,47.6 L35.2,47.8 L40.0,48.0 L45.2,48.4 L50.6,49.0 L55.9,49.7 L61.1,50.2 L65.9,50.3 L70.0,50.0 L73.5,49.2 L76.4,48.1 L78.9,46.7 L81.1,44.9 L83.1,42.7 L85.0,40.0 L86.7,37.0 L88.1,33.9 L89.2,30.3 L90.3,26.1 L91.2,21.1 L92.0,15.0 L94.3,6.9 L98.4,-3.1 L102.4,-14.1 L104.4,-24.6 L102.5,-33.7 L95.0,-40.0 L78.9,-44.2 L55.2,-47.3 L27.7,-48.9 L0.1,-48.5 L-23.7,-45.7 L-40.0,-40.0Z " fill="#727272" fill-rule="evenodd" filter="url(#b2)"/><ellipse cx="15" cy="20" rx="15" ry="18" fill="#5e5e5e" filter="url(#b3)"/><ellipse cx="5" cy="45" rx="10" ry="10" fill="#525252" filter="url(#b3)"/><ellipse cx="40" cy="15" rx="6" ry="10" fill="#3b3b3b" filter="url(#b2)"/><ellipse cx="42" cy="30" rx="4" ry="8" fill="#3f3f3f" filter="url(#b2)" transform="rotate(-30 42 30)"/><ellipse cx="55" cy="35" rx="14" ry="8" fill="#8d8d8d" filter="url(#b3)"/><ellipse cx="70" cy="20" rx="10" ry="12" fill="#808080" filter="url(#b3)"/><ellipse cx="30" cy="45" rx="16" ry="6" fill="#4b4b4b" filter="url(#b3)"/><ellipse cx="60" cy="5" rx="15" ry="5" fill="#3f3f3f" filter="url(#b2)"/><ellipse cx="78" cy="8" rx="8" ry="6" fill="#454545" filter="url(#b2)"/><path d="M-40.0,55.0 L-43.2,77.1 L-45.9,109.6 L-47.5,147.3 L-47.4,185.1 L-45.1,217.7 L-40.0,240.0 L-30.5,251.3 L-16.7,255.6 L-0.6,254.7 L15.6,250.6 L29.8,245.0 L40.0,240.0 L45.7,234.2 L48.5,225.7 L49.4,215.9 L49.3,205.9 L49.1,196.9 L50.0,190.0 L51.7,185.4 L53.3,182.2 L55.0,180.0 L56.7,178.3 L58.3,176.8 L60.0,175.0 L61.7,173.0 L63.4,171.3 L65.2,169.7 L66.9,168.1 L68.5,166.6 L70.0,165.0 L71.4,163.4 L72.6,161.9 L73.8,160.3 L74.9,158.7 L75.9,157.0 L77.0,155.0 L78.1,152.8 L79.1,150.5 L80.1,148.1 L81.0,145.5 L82.0,142.8 L83.0,140.0 L84.0,137.1 L85.1,133.9 L86.1,130.7 L87.1,127.4 L88.1,124.2 L89.0,121.0 L89.8,117.9 L90.6,114.9 L91.2,111.9 L91.9,109.0 L92.5,106.0 L93.0,103.0 L93.5,100.0 L94.0,97.0 L94.4,93.9 L94.7,90.9 L94.9,87.9 L95.0,85.0 L95.0,82.1 L94.9,79.2 L94.6,76.3 L94.3,73.5 L93.7,70.7 L93.0,68.0 L92.1,65.3 L91.0,62.4 L89.8,59.7 L88.4,57.1 L86.8,54.8 L85.0,53.0 L82.9,51.6 L80.5,50.7 L77.9,50.0 L75.3,49.6 L72.6,49.2 L70.0,49.0 L67.5,48.8 L65.0,48.9 L62.5,49.0 L60.0,49.3 L57.5,49.6 L55.0,50.0 L52.6,50.5 L50.2,51.0 L47.8,51.7 L45.4,52.4 L42.8,53.2 L40.0,54.0 L37.0,55.0 L33.7,56.1 L30.3,57.4 L26.9,58.5 L23.4,59.4 L20.0,60.0 L16.9,60.1 L14.1,60.0 L11.2,59.6 L8.1,59.0 L4.5,58.5 L0.0,58.0 L-6.0,55.4 L-13.3,50.1 L-21.2,44.8 L-28.9,42.1 L-35.4,44.6 L-40.0,55.0Z " fill="#252525" fill-rule="evenodd" filter="url(#b2)"/><path d="M105.5,164.9 L106.5,162.6 L106.9,161.7 L107.9,159.3 L108.1,158.7 L109.1,156.1 L109.2,155.7 L110.2,153.0 L110.3,152.8 L111.3,150.0 L111.3,149.8 L112.2,147.5 L100.7,143.8 L83.4,141.4 L80.7,140.7 L75.0,140.3 L72.6,140.0 L40.0,138.8 L7.4,140.0 L-20.7,143.8 L-40.0,150.0 L-51.1,160.8 L-57.8,176.7 L-60.0,195.0 L-57.8,213.3 L-51.1,229.2 L-40.0,240.0 L-20.7,246.2 L7.4,250.0 L40.0,251.2 L60.6,250.5 L67.5,251.1 L80.7,249.9 L92.2,246.2 L100.0,240.0 L104.5,229.1 L107.2,213.3 L108.1,194.9 L107.2,176.5 L105.3,165.4 L105.5,164.9Z " fill="#333333" fill-rule="evenodd" filter="url(#b3)"/><path d="M-41.1,54.6 L-41.2,54.7 L-41.2,54.8 L-44.4,76.9 L-44.4,77.0 L-47.1,109.5 L-47.1,109.5 L-48.7,147.3 L-48.7,147.3 L-48.6,185.1 L-48.6,185.2 L-46.3,217.8 L-46.3,217.9 L-46.3,218.0 L-41.2,240.3 L-41.1,240.4 L-41.1,240.5 L-41.0,240.6 L-41.0,240.7 L-40.9,240.8 L-31.4,252.1 L-31.3,252.1 L-31.2,252.2 L-31.1,252.3 L-31.1,252.3 L-30.9,252.4 L-30.8,252.4 L-17.0,256.7 L-16.9,256.7 L-16.8,256.7 L-16.7,256.8 L-16.6,256.8 L-0.6,255.9 L-0.4,255.9 L-0.3,255.9 L15.9,251.7 L16.0,251.7 L30.2,246.2 L30.3,246.1 L40.5,241.1 L40.6,241.0 L40.8,240.9 L40.9,240.8 L46.6,235.0 L46.6,234.9 L46.7,234.8 L46.8,234.7 L46.8,234.6 L46.9,234.5 L49.7,226.1 L49.7,226.0 L49.7,225.8 L50.6,216.0 L50.6,215.9 L50.5,205.9 L50.5,205.9 L50.3,197.0 L51.2,190.3 L52.8,185.9 L54.4,182.9 L55.9,180.8 L57.5,179.2 L59.1,177.7 L59.2,177.6 L60.9,175.8 L60.9,175.8 L62.6,173.9 L64.3,172.2 L66.0,170.6 L67.7,169.0 L67.7,169.0 L69.3,167.5 L69.4,167.4 L70.9,165.8 L70.9,165.8 L72.3,164.2 L72.3,164.1 L73.5,162.6 L73.6,162.6 L74.7,161.0 L74.7,161.0 L75.8,159.4 L75.9,159.3 L76.9,157.6 L77.0,157.5 L78.1,155.6 L78.1,155.5 L79.1,153.4 L79.2,153.3 L80.2,151.0 L80.2,151.0 L81.2,148.5 L81.2,148.5 L82.2,145.9 L82.2,145.9 L83.1,143.2 L83.1,143.2 L84.1,140.4 L84.1,140.4 L85.2,137.4 L85.2,137.4 L86.2,134.3 L86.2,134.3 L87.3,131.1 L87.3,131.0 L88.3,127.8 L88.3,127.7 L89.3,124.5 L89.3,124.5 L90.2,121.3 L90.2,121.3 L91.0,118.2 L91.0,118.2 L91.7,115.2 L91.7,115.2 L92.4,112.2 L92.4,112.2 L93.1,109.2 L93.1,109.2 L93.6,106.2 L93.7,106.2 L94.2,103.2 L94.2,103.2 L94.7,100.2 L94.7,100.2 L95.1,97.1 L95.2,97.1 L95.6,94.1 L95.6,94.1 L95.9,91.1 L95.9,91.0 L96.1,88.0 L96.1,88.0 L96.2,85.0 L96.2,85.0 L96.2,82.1 L96.2,82.0 L96.1,79.1 L96.0,79.1 L95.8,76.2 L95.8,76.2 L95.4,73.3 L95.4,73.3 L94.9,70.5 L94.9,70.4 L94.2,67.7 L94.1,67.6 L93.2,64.9 L93.2,64.8 L92.2,62.0 L92.1,62.0 L90.9,59.2 L90.9,59.1 L89.5,56.5 L89.4,56.4 L87.8,54.1 L87.7,54.1 L87.7,54.0 L85.9,52.2 L85.8,52.1 L85.7,52.0 L83.6,50.6 L83.5,50.6 L83.4,50.5 L81.0,49.6 L80.8,49.5 L78.2,48.8 L78.1,48.8 L75.5,48.4 L75.4,48.4 L72.7,48.1 L72.7,48.1 L70.1,47.8 L70.1,47.8 L67.6,47.6 L67.5,47.6 L65.0,47.7 L64.9,47.7 L62.4,47.8 L62.4,47.8 L59.9,48.1 L59.8,48.1 L57.3,48.4 L57.3,48.4 L54.8,48.8 L54.8,48.8 L52.3,49.3 L52.3,49.3 L49.9,49.9 L49.9,49.9 L47.5,50.5 L47.5,50.5 L45.0,51.3 L45.0,51.3 L42.4,52.0 L39.7,52.8 L39.6,52.9 L36.6,53.8 L36.5,53.8 L33.3,55.0 L33.3,55.0 L29.9,56.2 L26.5,57.4 L23.1,58.3 L19.9,58.8 L16.9,58.9 L14.2,58.8 L11.4,58.4 L8.3,57.9 L8.3,57.9 L4.7,57.3 L4.6,57.3 L0.3,56.8 L-5.4,54.3 L-12.6,49.1 L-12.7,49.1 L-20.6,43.8 L-20.7,43.8 L-20.8,43.7 L-20.8,43.7 L-28.5,41.0 L-28.6,40.9 L-28.7,40.9 L-28.8,40.9 L-29.0,40.9 L-29.1,40.9 L-29.2,41.0 L-29.3,41.0 L-35.8,43.5 L-36.0,43.6 L-36.1,43.6 L-36.2,43.7 L-36.2,43.8 L-36.3,43.8 L-36.4,43.9 L-36.5,44.0 L-36.5,44.1 L-41.1,54.5 L-41.1,54.6Z M-34.3,45.8 L-28.9,43.7 L-21.9,46.2 L-14.2,51.3 L-6.8,56.6 L-6.7,56.7 L-6.6,56.8 L-0.6,59.4 L-0.5,59.4 L-0.3,59.5 L-0.2,59.5 L4.3,60.0 L7.9,60.5 L11.0,61.0 L11.0,61.0 L13.9,61.4 L14.0,61.5 L16.8,61.6 L17.0,61.6 L20.1,61.5 L20.2,61.5 L23.6,60.9 L23.8,60.9 L27.2,60.0 L27.3,59.9 L30.8,58.8 L30.8,58.8 L34.2,57.6 L37.4,56.4 L40.4,55.4 L43.2,54.6 L43.2,54.6 L45.8,53.8 L48.2,53.1 L50.6,52.5 L52.9,51.9 L55.3,51.5 L57.7,51.1 L60.2,50.7 L62.6,50.5 L65.0,50.4 L67.5,50.3 L69.9,50.5 L72.4,50.7 L75.1,51.0 L77.6,51.5 L80.0,52.1 L82.2,53.0 L84.0,54.2 L85.7,55.8 L87.1,57.9 L88.5,60.4 L89.6,63.0 L90.7,65.8 L91.6,68.4 L92.3,71.0 L92.8,73.7 L93.1,76.5 L93.4,79.3 L93.5,82.1 L93.5,85.0 L93.4,87.9 L93.2,90.8 L92.9,93.8 L92.5,96.7 L92.0,99.8 L91.5,102.7 L91.0,105.7 L90.4,108.7 L89.8,111.6 L89.1,114.6 L88.4,117.6 L87.6,120.6 L86.7,123.7 L85.7,127.0 L84.7,130.2 L83.6,133.5 L82.6,136.6 L81.6,139.5 L80.6,142.3 L79.6,145.0 L78.7,147.5 L77.7,149.9 L76.7,152.2 L75.7,154.3 L74.6,156.2 L73.6,157.9 L72.5,159.4 L71.4,160.9 L70.2,162.4 L68.9,164.0 L67.4,165.6 L65.9,167.0 L64.2,168.6 L64.2,168.6 L62.4,170.2 L62.4,170.2 L60.6,172.0 L60.6,172.1 L58.9,174.0 L57.3,175.7 L55.7,177.2 L55.6,177.3 L53.9,178.9 L53.8,179.1 L52.1,181.3 L52.1,181.4 L52.0,181.5 L50.3,184.7 L50.3,184.9 L48.6,189.5 L48.5,189.6 L48.5,189.8 L47.7,196.7 L47.6,196.9 L47.8,205.9 L47.9,215.9 L47.0,225.4 L44.4,233.4 L39.1,238.8 L29.2,243.7 L15.1,249.1 L-0.9,253.2 L-16.5,254.0 L-29.6,250.0 L-38.6,239.3 L-43.6,217.5 L-45.9,185.0 L-46.0,147.3 L-44.4,109.7 L-41.7,77.3 L-38.5,55.4 L-34.3,45.8Z " fill="#292929" fill-rule="evenodd" filter="url(#b1)"/><ellipse cx="15" cy="80" rx="15" ry="20" fill="#1b1b1b" filter="url(#b4)"/><ellipse cx="30" cy="62" rx="20" ry="6" fill="#2f2f2f" filter="url(#b3)"/><ellipse cx="70" cy="195" rx="20" ry="10" fill="#434343" filter="url(#b4)"/><ellipse cx="10" cy="135" rx="16" ry="30" fill="#1a1a1a" filter="url(#b4)"/><ellipse cx="25" cy="110" rx="8" ry="14" fill="#292929" filter="url(#b3)"/><ellipse cx="15" cy="175" rx="16" ry="14" fill="#1d1d1d" filter="url(#b3)"/><ellipse cx="6" cy="128" rx="6" ry="6" fill="#111111" filter="url(#b1)"/><ellipse cx="12" cy="142" rx="4" ry="4" fill="#111111" filter="url(#b1)"/><path d="M31.1,109.3 L30.2,109.9 L28.3,111.3 L27.9,111.6 L26.1,113.1 L25.7,113.6 L25.3,114.0 L24.0,115.7 L23.6,116.3 L23.3,116.8 L22.4,118.8 L22.1,119.3 L21.4,121.4 L21.2,122.0 L20.7,124.2 L20.6,124.6 L20.2,126.9 L20.1,127.4 L20.0,129.6 L20.0,130.2 L20.0,132.2 L20.0,132.8 L20.3,134.7 L20.3,135.2 L20.7,137.2 L20.8,137.8 L21.4,139.7 L21.7,140.4 L22.5,142.3 L22.7,142.7 L23.0,143.1 L24.1,144.8 L24.4,145.2 L24.7,145.7 L26.2,147.1 L26.6,147.6 L27.1,148.0 L29.0,149.2 L29.4,149.5 L29.8,149.7 L32.1,150.7 L32.6,151.0 L35.1,151.9 L35.4,152.0 L38.1,152.8 L38.2,152.8 L40.8,153.5 L43.3,154.2 L45.7,155.0 L45.7,155.0 L48.2,155.8 L48.3,155.8 L50.8,156.5 L51.0,156.6 L53.5,157.2 L53.8,157.3 L56.1,157.7 L56.6,157.8 L58.8,158.1 L59.2,158.1 L61.2,158.2 L61.5,158.2 L63.5,158.2 L64.0,158.2 L65.9,158.1 L66.6,158.0 L68.4,157.7 L68.9,157.6 L69.3,157.4 L71.0,156.8 L71.5,156.6 L72.1,156.3 L73.5,155.4 L74.1,155.1 L74.6,154.6 L75.8,153.4 L76.2,153.0 L76.5,152.6 L77.6,151.1 L78.0,150.4 L78.9,148.6 L79.2,148.1 L80.0,146.2 L80.1,145.9 L80.8,143.7 L80.9,143.6 L81.6,141.2 L81.7,141.0 L82.4,138.4 L82.5,138.1 L83.1,135.1 L83.1,135.0 L83.7,131.8 L83.7,131.8 L84.3,128.5 L84.8,125.4 L85.4,122.3 L86.0,119.3 L86.6,116.3 L87.2,113.3 L87.8,110.3 L88.4,107.3 L89.0,104.3 L89.6,101.5 L90.3,98.5 L91.1,95.5 L91.1,95.4 L91.8,92.4 L91.9,92.1 L92.4,89.1 L92.5,88.6 L92.8,85.6 L92.8,85.2 L92.9,82.0 L92.9,81.7 L92.8,78.3 L92.8,78.1 L92.6,74.7 L92.5,74.4 L92.2,71.2 L92.1,70.8 L91.6,68.0 L91.4,67.4 L90.8,65.1 L90.6,64.6 L90.3,64.1 L89.5,62.4 L89.1,61.8 L88.7,61.2 L87.6,60.0 L87.1,59.5 L86.6,59.0 L85.4,58.2 L84.9,57.9 L84.5,57.6 L83.1,57.0 L82.7,56.8 L81.3,56.3 L79.8,55.8 L78.2,55.2 L77.8,55.1 L76.1,54.6 L75.8,54.5 L73.9,54.0 L73.5,54.0 L71.6,53.7 L71.1,53.6 L69.2,53.5 L68.6,53.5 L66.7,53.5 L66.2,53.5 L64.2,53.7 L63.8,53.8 L61.7,54.1 L61.3,54.2 L59.2,54.7 L58.8,54.8 L56.6,55.5 L56.1,55.7 L54.0,56.5 L53.5,56.8 L51.4,57.9 L50.9,58.1 L48.7,59.5 L48.4,59.7 L46.2,61.3 L45.9,61.5 L43.7,63.3 L43.4,63.5 L41.2,65.5 L41.0,65.7 L38.9,67.8 L38.6,68.1 L36.8,70.2 L36.5,70.6 L34.9,72.9 L34.6,73.3 L33.2,75.8 L33.0,76.1 L31.7,78.6 L31.6,78.9 L30.5,81.4 L30.4,81.7 L29.4,84.1 L29.3,84.3 L28.5,86.5 L28.4,86.6 L27.7,88.7 L27.7,88.9 L27.1,90.7 L27.0,91.1 L26.6,92.9 L26.5,93.4 L26.2,95.2 L26.2,95.9 L26.1,97.6 L26.1,98.4 L26.3,100.1 L26.5,100.8 L26.7,101.5 L27.3,103.4 L27.6,104.0 L27.9,104.5 L29.1,106.4 L29.3,106.8 L30.6,108.6 L31.1,109.3Z " fill="#292929" fill-rule="evenodd" filter="url(#b1)"/><path d="M33.1,109.6 L32.7,110.0 L31.1,111.2 L29.2,112.5 L28.9,112.8 L27.1,114.3 L26.8,114.6 L26.5,114.9 L25.1,116.6 L24.9,117.0 L24.6,117.5 L23.7,119.4 L23.5,119.8 L22.8,121.9 L22.7,122.3 L22.1,124.5 L22.1,124.9 L21.7,127.1 L21.6,127.5 L21.5,129.7 L21.5,130.1 L21.5,132.2 L21.5,132.6 L21.7,134.6 L21.8,134.9 L22.2,136.9 L22.3,137.4 L22.9,139.3 L23.1,139.8 L23.9,141.7 L24.0,142.0 L24.2,142.3 L25.3,144.0 L25.6,144.3 L25.8,144.6 L27.2,146.1 L27.6,146.4 L28.0,146.7 L29.8,148.0 L30.1,148.2 L30.4,148.3 L32.7,149.4 L33.1,149.5 L35.6,150.4 L35.8,150.5 L38.5,151.3 L38.6,151.3 L41.2,152.1 L43.7,152.8 L46.1,153.6 L46.1,153.6 L48.6,154.3 L48.7,154.4 L51.2,155.1 L51.4,155.1 L53.8,155.7 L54.1,155.8 L56.4,156.2 L56.8,156.3 L59.0,156.6 L59.2,156.6 L61.3,156.7 L61.5,156.7 L63.6,156.7 L63.9,156.7 L65.8,156.6 L66.3,156.5 L68.1,156.2 L68.5,156.1 L68.8,156.0 L70.5,155.4 L70.9,155.3 L71.3,155.0 L72.7,154.1 L73.1,153.9 L73.5,153.5 L74.8,152.3 L75.1,152.0 L75.3,151.7 L76.4,150.2 L76.7,149.7 L77.6,148.0 L77.8,147.6 L78.6,145.6 L78.7,145.4 L79.4,143.2 L79.4,143.1 L80.2,140.8 L80.2,140.6 L81.0,138.0 L81.0,137.7 L81.6,134.8 L81.7,134.7 L82.2,131.6 L82.3,131.5 L82.8,128.3 L83.4,125.1 L83.9,122.0 L84.5,119.1 L85.1,116.0 L85.7,113.0 L86.3,110.0 L86.9,107.0 L87.5,104.0 L88.2,101.1 L88.9,98.2 L89.7,95.2 L89.7,95.1 L90.4,92.0 L90.4,91.8 L90.9,88.8 L91.0,88.5 L91.3,85.4 L91.3,85.1 L91.4,81.9 L91.4,81.7 L91.3,78.4 L91.3,78.2 L91.1,74.8 L91.1,74.6 L90.7,71.4 L90.6,71.1 L90.1,68.3 L90.0,67.8 L89.3,65.5 L89.2,65.1 L89.0,64.8 L88.2,63.1 L87.9,62.6 L87.5,62.2 L86.5,61.0 L86.1,60.6 L85.7,60.2 L84.5,59.4 L84.2,59.2 L83.8,59.0 L82.5,58.4 L82.1,58.2 L80.7,57.7 L79.3,57.2 L77.7,56.6 L77.4,56.5 L75.7,56.0 L75.4,55.9 L73.6,55.5 L73.3,55.4 L71.4,55.1 L71.0,55.1 L69.1,55.0 L68.7,55.0 L66.7,55.0 L66.3,55.0 L64.3,55.2 L64.1,55.3 L62.0,55.6 L61.7,55.7 L59.5,56.2 L59.2,56.3 L57.1,56.9 L56.7,57.1 L54.5,57.9 L54.2,58.1 L52.0,59.2 L51.7,59.4 L49.5,60.7 L49.3,60.9 L47.1,62.5 L46.9,62.7 L44.6,64.5 L44.4,64.6 L42.2,66.6 L42.0,66.8 L40.0,68.8 L39.8,69.1 L38.0,71.2 L37.7,71.5 L36.1,73.7 L35.9,74.1 L34.5,76.5 L34.4,76.8 L33.1,79.3 L33.0,79.5 L31.8,82.1 L31.8,82.2 L30.8,84.7 L30.7,84.8 L29.9,87.0 L29.8,87.1 L29.1,89.1 L29.1,89.3 L28.5,91.2 L28.4,91.5 L28.0,93.2 L27.9,93.6 L27.7,95.4 L27.7,95.9 L27.6,97.6 L27.6,98.2 L27.8,100.0 L27.9,100.5 L28.1,101.0 L28.7,102.9 L28.9,103.3 L29.2,103.7 L30.3,105.6 L30.5,105.9 L31.8,107.7 L32.9,109.2 L33.1,109.6Z " fill="#1b1b1b" fill-rule="evenodd" filter="url(#b1_5)"/><path d="M66.8,57.5 L66.6,57.5 L64.6,57.7 L64.5,57.7 L62.4,58.1 L62.2,58.1 L60.1,58.6 L60.0,58.6 L57.8,59.3 L57.6,59.4 L55.5,60.2 L55.3,60.3 L53.2,61.4 L53.0,61.5 L50.9,62.9 L50.8,62.9 L48.5,64.5 L48.4,64.6 L46.2,66.4 L46.1,66.5 L43.9,68.4 L43.8,68.5 L41.8,70.6 L41.7,70.7 L39.9,72.8 L39.8,72.9 L38.2,75.2 L38.1,75.3 L36.6,77.8 L36.6,77.9 L35.3,80.4 L35.2,80.5 L34.1,83.1 L34.1,83.2 L33.1,85.6 L33.1,85.7 L32.2,87.9 L32.2,87.9 L31.5,90.0 L31.5,90.0 L30.9,91.9 L30.9,92.0 L30.5,93.8 L30.4,94.0 L30.2,95.7 L30.2,96.0 L30.1,97.7 L30.1,97.9 L30.3,99.7 L30.4,99.9 L30.4,100.2 L31.1,102.0 L31.2,102.2 L31.3,102.4 L32.4,104.3 L32.5,104.4 L33.9,106.2 L35.0,107.9 L35.7,109.2 L35.8,110.0 L35.4,110.8 L34.3,111.9 L32.6,113.2 L30.6,114.6 L30.5,114.7 L28.7,116.2 L28.6,116.3 L28.4,116.5 L27.1,118.2 L27.0,118.4 L26.9,118.5 L26.0,120.5 L25.9,120.7 L25.2,122.8 L25.1,122.9 L24.6,125.1 L24.5,125.3 L24.2,127.5 L24.1,127.7 L24.0,129.9 L24.0,130.1 L24.0,132.1 L24.0,132.3 L24.2,134.3 L24.3,134.5 L24.6,136.4 L24.7,136.6 L25.3,138.6 L25.3,138.8 L26.2,140.6 L26.2,140.8 L26.3,140.9 L27.4,142.6 L27.5,142.8 L27.6,142.9 L29.1,144.4 L29.2,144.5 L29.4,144.7 L31.2,145.9 L31.3,146.0 L31.5,146.1 L33.7,147.1 L33.9,147.2 L36.5,148.1 L36.6,148.1 L39.2,148.9 L39.3,148.9 L41.9,149.7 L44.4,150.4 L46.9,151.2 L46.9,151.2 L49.4,152.0 L49.4,152.0 L51.9,152.7 L52.0,152.7 L54.4,153.3 L54.5,153.3 L56.9,153.8 L57.1,153.8 L59.3,154.1 L59.4,154.1 L61.5,154.2 L61.6,154.2 L63.6,154.2 L63.7,154.2 L65.6,154.1 L65.9,154.1 L67.7,153.7 L67.8,153.7 L68.0,153.7 L69.6,153.1 L69.8,153.0 L70.0,152.9 L71.4,152.0 L71.6,151.9 L71.8,151.7 L73.0,150.5 L73.2,150.4 L73.3,150.3 L74.3,148.8 L74.5,148.5 L75.4,146.8 L75.5,146.6 L76.3,144.7 L76.3,144.6 L77.0,142.4 L77.1,142.3 L77.8,140.0 L77.8,139.9 L78.5,137.3 L78.6,137.2 L79.2,134.3 L79.2,134.2 L79.8,131.1 L79.8,131.1 L80.3,127.9 L80.9,124.7 L81.5,121.6 L82.1,118.6 L82.7,115.5 L83.3,112.5 L83.9,109.5 L84.5,106.5 L85.1,103.5 L85.7,100.5 L86.5,97.6 L87.2,94.5 L87.2,94.5 L87.9,91.5 L87.9,91.4 L88.5,88.4 L88.5,88.2 L88.8,85.2 L88.8,85.1 L88.9,81.9 L88.9,81.8 L88.8,78.4 L88.8,78.3 L88.6,75.0 L88.6,74.9 L88.2,71.7 L88.2,71.6 L87.6,68.7 L87.6,68.5 L86.9,66.2 L86.9,66.1 L86.8,65.9 L85.9,64.2 L85.8,64.0 L85.7,63.8 L84.6,62.6 L84.5,62.4 L84.3,62.3 L83.1,61.4 L82.9,61.4 L82.8,61.3 L81.5,60.7 L81.3,60.6 L79.9,60.1 L78.4,59.5 L76.8,58.9 L76.7,58.9 L75.0,58.4 L74.9,58.4 L73.0,57.9 L72.9,57.9 L71.0,57.6 L70.8,57.6 L68.9,57.5 L68.7,57.5 L66.8,57.5Z " fill="#161616" fill-rule="evenodd" filter="url(#b1)"/><path d="M66.8,59.5 L64.8,59.7 L62.7,60.1 L60.6,60.5 L58.4,61.2 L56.2,62.1 L54.1,63.2 L51.9,64.6 L49.7,66.2 L47.4,68.0 L45.2,69.9 L43.2,72.0 L41.4,74.1 L39.8,76.3 L38.4,78.8 L37.1,81.3 L35.9,83.9 L34.9,86.3 L34.1,88.6 L33.4,90.6 L32.8,92.5 L32.4,94.3 L32.2,96.0 L32.1,97.7 L32.3,99.5 L33.0,101.3 L34.1,103.2 L35.5,105.1 L36.8,106.9 L37.6,108.7 L37.8,110.4 L37.1,112.0 L35.6,113.4 L33.8,114.8 L31.8,116.2 L30.0,117.7 L28.7,119.4 L27.8,121.3 L27.1,123.4 L26.5,125.6 L26.1,127.9 L26.0,130.0 L26.0,132.1 L26.2,134.1 L26.6,136.1 L27.2,138.0 L28.0,139.8 L29.1,141.5 L30.5,143.0 L32.3,144.3 L34.6,145.3 L37.1,146.2 L39.8,147.0 L42.5,147.8 L45.0,148.5 L47.5,149.3 L50.0,150.0 L52.5,150.8 L54.9,151.4 L57.3,151.8 L59.5,152.1 L61.6,152.2 L63.6,152.2 L65.5,152.1 L67.3,151.8 L68.9,151.2 L70.4,150.3 L71.7,149.1 L72.7,147.6 L73.6,145.9 L74.4,143.9 L75.2,141.7 L75.9,139.4 L76.6,136.8 L77.2,133.9 L77.8,130.8 L78.4,127.5 L78.9,124.3 L79.5,121.2 L80.1,118.2 L80.7,115.2 L81.3,112.1 L81.9,109.1 L82.5,106.1 L83.1,103.1 L83.8,100.1 L84.5,97.1 L85.3,94.1 L86.0,91.0 L86.5,88.0 L86.8,85.0 L86.9,81.8 L86.8,78.5 L86.6,75.1 L86.2,71.9 L85.7,69.1 L85.0,66.8 L84.1,65.1 L83.1,63.9 L81.9,63.1 L80.6,62.5 L79.2,61.9 L77.7,61.4 L76.1,60.8 L74.4,60.3 L72.6,59.9 L70.7,59.6 L68.8,59.5 L66.8,59.5Z " fill="#101010" fill-rule="evenodd"/><ellipse cx="65" cy="88" rx="11" ry="13" fill="#1a1a1a" filter="url(#b1_5)"/><ellipse cx="68" cy="90" rx="3" ry="1.5" fill="#101010" filter="url(#b0_3)"/><ellipse cx="53" cy="118" rx="6" ry="5" fill="#1b1b1b" filter="url(#b1)"/><ellipse cx="60" cy="130" rx="12" ry="10" fill="#0a0a0a" filter="url(#b4)"/></g></g></g>
<g transform="translate(955.5,1650.8)"><g clip-path="url(#cp200)"><rect width="200" height="200.2" fill="#fff"/><rect width="200" height="200.2" filter="url(#sh3)" mask="url(#mk3)"/></g></g>
<rect x="717.80" y="1650.80" width="200.40" height="200.20" fill="none" stroke="#333" stroke-width="1.0" />
<rect x="955.50" y="1650.80" width="200.00" height="200.20" fill="none" stroke="#333" stroke-width="1.0" />
<line x1="714.30" y1="1660.30" x2="717.80" y2="1660.30" stroke="#333" stroke-width="0.8" />
<line x1="952.00" y1="1660.30" x2="955.50" y2="1660.30" stroke="#333" stroke-width="0.8" />
<text x="711.5" y="1664.2" font-size="10.8" text-anchor="end" textLength="13.5" lengthAdjust="spacingAndGlyphs" fill="#1a1a1a" >17</text>
<line x1="714.30" y1="1691.50" x2="717.80" y2="1691.50" stroke="#333" stroke-width="0.8" />
<line x1="952.00" y1="1691.50" x2="955.50" y2="1691.50" stroke="#333" stroke-width="0.8" />
<text x="711.5" y="1695.4" font-size="10.8" text-anchor="end" textLength="13.5" lengthAdjust="spacingAndGlyphs" fill="#1a1a1a" >16</text>
<line x1="714.30" y1="1723.20" x2="717.80" y2="1723.20" stroke="#333" stroke-width="0.8" />
<line x1="952.00" y1="1723.20" x2="955.50" y2="1723.20" stroke="#333" stroke-width="0.8" />
<text x="711.5" y="1727.1" font-size="10.8" text-anchor="end" textLength="13.5" lengthAdjust="spacingAndGlyphs" fill="#1a1a1a" >15</text>
<line x1="714.30" y1="1754.40" x2="717.80" y2="1754.40" stroke="#333" stroke-width="0.8" />
<line x1="952.00" y1="1754.40" x2="955.50" y2="1754.40" stroke="#333" stroke-width="0.8" />
<text x="711.5" y="1758.3" font-size="10.8" text-anchor="end" textLength="13.5" lengthAdjust="spacingAndGlyphs" fill="#1a1a1a" >14</text>
<line x1="714.30" y1="1785.60" x2="717.80" y2="1785.60" stroke="#333" stroke-width="0.8" />
<line x1="952.00" y1="1785.60" x2="955.50" y2="1785.60" stroke="#333" stroke-width="0.8" />
<text x="711.5" y="1789.5" font-size="10.8" text-anchor="end" textLength="13.5" lengthAdjust="spacingAndGlyphs" fill="#1a1a1a" >13</text>
<line x1="714.30" y1="1817.30" x2="717.80" y2="1817.30" stroke="#333" stroke-width="0.8" />
<line x1="952.00" y1="1817.30" x2="955.50" y2="1817.30" stroke="#333" stroke-width="0.8" />
<text x="711.5" y="1821.2" font-size="10.8" text-anchor="end" textLength="13.5" lengthAdjust="spacingAndGlyphs" fill="#1a1a1a" >12</text>
<line x1="714.30" y1="1848.50" x2="717.80" y2="1848.50" stroke="#333" stroke-width="0.8" />
<line x1="952.00" y1="1848.50" x2="955.50" y2="1848.50" stroke="#333" stroke-width="0.8" />
<text x="711.5" y="1852.4" font-size="10.8" text-anchor="end" textLength="13.5" lengthAdjust="spacingAndGlyphs" fill="#1a1a1a" >11</text>
<line x1="740.40" y1="1851.00" x2="740.40" y2="1854.50" stroke="#333" stroke-width="0.8" />
<text x="740.4" y="1863.3" font-size="10.8" text-anchor="middle" textLength="13.5" lengthAdjust="spacingAndGlyphs" fill="#1a1a1a" >81</text>
<line x1="770.86" y1="1851.00" x2="770.86" y2="1854.50" stroke="#333" stroke-width="0.8" />
<text x="770.9" y="1863.3" font-size="10.8" text-anchor="middle" textLength="13.5" lengthAdjust="spacingAndGlyphs" fill="#1a1a1a" >82</text>
<line x1="801.32" y1="1851.00" x2="801.32" y2="1854.50" stroke="#333" stroke-width="0.8" />
<text x="801.3" y="1863.3" font-size="10.8" text-anchor="middle" textLength="13.5" lengthAdjust="spacingAndGlyphs" fill="#1a1a1a" >83</text>
<line x1="831.78" y1="1851.00" x2="831.78" y2="1854.50" stroke="#333" stroke-width="0.8" />
<text x="831.8" y="1863.3" font-size="10.8" text-anchor="middle" textLength="13.5" lengthAdjust="spacingAndGlyphs" fill="#1a1a1a" >84</text>
<line x1="862.24" y1="1851.00" x2="862.24" y2="1854.50" stroke="#333" stroke-width="0.8" />
<text x="862.2" y="1863.3" font-size="10.8" text-anchor="middle" textLength="13.5" lengthAdjust="spacingAndGlyphs" fill="#1a1a1a" >85</text>
<line x1="892.70" y1="1851.00" x2="892.70" y2="1854.50" stroke="#333" stroke-width="0.8" />
<text x="892.7" y="1863.3" font-size="10.8" text-anchor="middle" textLength="13.5" lengthAdjust="spacingAndGlyphs" fill="#1a1a1a" >86</text>
<line x1="961.80" y1="1851.00" x2="961.80" y2="1854.50" stroke="#333" stroke-width="0.8" />
<line x1="992.13" y1="1851.00" x2="992.13" y2="1854.50" stroke="#333" stroke-width="0.8" />
<line x1="1022.46" y1="1851.00" x2="1022.46" y2="1854.50" stroke="#333" stroke-width="0.8" />
<line x1="1052.79" y1="1851.00" x2="1052.79" y2="1854.50" stroke="#333" stroke-width="0.8" />
<line x1="1083.12" y1="1851.00" x2="1083.12" y2="1854.50" stroke="#333" stroke-width="0.8" />
<line x1="1113.45" y1="1851.00" x2="1113.45" y2="1854.50" stroke="#333" stroke-width="0.8" />
<line x1="1143.78" y1="1851.00" x2="1143.78" y2="1854.50" stroke="#333" stroke-width="0.8" />
<text x="818.0" y="1883.9" font-size="11.4" text-anchor="middle" textLength="85.0" lengthAdjust="spacingAndGlyphs" fill="#1a1a1a" >12h old IR Data</text>
<text x="1055.5" y="1883.9" font-size="11.4" text-anchor="middle" textLength="121.0" lengthAdjust="spacingAndGlyphs" fill="#1a1a1a" >SHAP Value=-2.05 kts</text>
<g transform="translate(717.8,1888.2)"><g clip-path="url(#cp200)"><g filter="url(#cm4)"><path d="M-30.0,-30.0 L230.0,-30.0 L230.0,230.0 L-30.0,230.0 Z" fill="#cccccc" /><ellipse cx="160" cy="60" rx="30" ry="50" fill="#c8c8c8" filter="url(#b10)"/><ellipse cx="162" cy="10" rx="5" ry="14" fill="#a1a1a1" filter="url(#b1_5)" transform="rotate(-20 162 10)"/><ellipse cx="162" cy="10" rx="3" ry="10" fill="#565656" filter="url(#b1_5)" transform="rotate(-20 162 10)"/><ellipse cx="128" cy="52" rx="2" ry="2" fill="#a1a1a1" filter="url(#b0_5)"/><path d="M120.0,120.0 L115.8,133.4 L110.4,154.2 L105.3,178.9 L102.4,203.8 L103.4,225.3 L110.0,240.0 L125.1,248.4 L147.8,253.7 L174.4,255.6 L201.1,254.1 L224.2,248.9 L240.0,240.0 L248.0,224.3 L251.1,201.4 L250.6,174.9 L247.8,148.4 L243.8,125.5 L240.0,110.0 L235.4,102.6 L228.9,100.6 L221.2,102.2 L213.3,105.9 L206.0,109.7 L200.0,112.0 L195.5,113.2 L191.9,114.7 L188.8,116.5 L185.9,118.4 L183.1,120.2 L180.0,122.0 L176.6,123.7 L173.1,125.5 L169.7,127.2 L166.3,129.0 L163.0,130.6 L160.0,132.0 L157.3,133.5 L155.0,135.2 L152.8,136.8 L150.6,137.9 L148.0,138.4 L145.0,138.0 L141.2,134.8 L136.9,128.7 L132.2,121.9 L127.6,116.7 L123.4,115.3 L120.0,120.0Z " fill="#a1a1a1" fill-rule="evenodd" filter="url(#b1_5)"/><ellipse cx="135" cy="185" rx="8" ry="10" fill="#c8c8c8" filter="url(#b1_5)"/><ellipse cx="190" cy="190" rx="10" ry="5" fill="#bcbcbc" filter="url(#b1)"/><ellipse cx="170" cy="160" rx="25" ry="4" fill="#7e7e7e" filter="url(#b1_5)" transform="rotate(-15 170 160)"/><ellipse cx="160" cy="145" rx="14" ry="3" fill="#b4b4b4" filter="url(#b1)" transform="rotate(-15 160 145)"/><ellipse cx="180" cy="180" rx="25" ry="4" fill="#7e7e7e" filter="url(#b1_5)" transform="rotate(-10 180 180)"/><ellipse cx="150" cy="175" rx="12" ry="4" fill="#b4b4b4" filter="url(#b1)" transform="rotate(-15 150 175)"/><ellipse cx="175" cy="195" rx="20" ry="4" fill="#b4b4b4" filter="url(#b1)" transform="rotate(-5 175 195)"/><ellipse cx="190" cy="140" rx="10" ry="4" fill="#7e7e7e" filter="url(#b1_5)" transform="rotate(-30 190 140)"/><ellipse cx="145" cy="200" rx="10" ry="6" fill="#cccccc" filter="url(#b1)"/><ellipse cx="195" cy="128" rx="10" ry="6" fill="#cccccc" filter="url(#b1)"/><path d="M-40.0,-40.0 L-51.0,-6.3 L-57.6,43.0 L-59.9,100.0 L-57.7,157.0 L-51.1,206.3 L-40.0,240.0 L-20.8,256.7 L7.2,262.2 L39.7,260.0 L72.2,253.3 L100.5,245.6 L120.0,240.0 L129.7,235.6 L133.0,229.6 L131.9,222.5 L128.7,214.8 L125.7,207.1 L125.0,200.0 L126.4,193.2 L128.0,186.1 L129.7,179.1 L131.5,172.2 L133.3,165.8 L135.0,160.0 L136.9,154.8 L139.0,150.1 L141.2,145.9 L143.1,142.0 L144.4,138.4 L145.0,135.0 L144.6,132.2 L143.5,130.0 L141.8,128.2 L139.9,126.3 L137.8,124.0 L136.0,121.0 L134.3,117.0 L132.6,112.3 L130.8,107.2 L128.9,102.1 L127.0,97.2 L125.0,93.0 L122.8,89.4 L120.4,86.3 L117.9,83.4 L115.5,80.6 L113.5,77.9 L112.0,75.0 L111.0,72.1 L110.4,69.3 L110.1,66.6 L110.1,63.7 L110.4,60.5 L111.0,57.0 L112.2,53.5 L114.0,50.3 L116.1,46.8 L118.2,42.5 L120.0,37.1 L121.0,30.0 L123.0,20.0 L126.7,7.3 L130.0,-6.7 L131.0,-20.3 L127.6,-31.9 L118.0,-40.0 L98.8,-47.3 L71.0,-55.6 L38.8,-61.9 L6.7,-63.3 L-21.0,-57.0 L-40.0,-40.0Z " fill="#999999" fill-rule="evenodd" filter="url(#b1_5)"/><path d="M136.9,154.8 L139.0,150.1 L141.2,145.9 L143.1,142.0 L144.4,138.4 L145.0,135.0 L144.6,132.2 L143.5,130.0 L141.8,128.2 L139.9,126.3 L137.8,124.0 L136.0,121.0 L134.3,117.0 L132.6,112.3 L130.8,107.2 L128.9,102.1 L127.0,97.2 L125.0,93.0 L122.8,89.4 L120.4,86.3 L117.9,83.4 L115.5,80.6 L113.5,77.9 L112.0,75.0 L111.0,72.1 L110.4,69.3 L110.1,66.6 L110.1,63.7 L110.4,60.5 L111.0,57.0 L112.2,53.5 L114.0,50.3 L116.1,46.8 L118.2,42.5 L120.0,37.1 L121.0,30.0 L123.0,20.0 L126.7,7.3 L130.0,-6.7 L131.0,-20.3 L127.6,-31.9 L118.0,-40.0 L106.1,-44.5 L102.3,-41.7 L115.9,-36.5 L124.1,-29.6 L126.9,-19.8 L126.0,-7.3 L122.8,6.2 L119.2,18.9 L119.1,19.2 L117.1,29.2 L117.0,29.4 L116.0,36.2 L114.5,41.0 L112.6,44.8 L110.6,48.2 L110.5,48.3 L108.7,51.6 L108.5,51.9 L108.4,52.2 L107.2,55.7 L107.1,56.0 L107.1,56.3 L106.4,59.8 L106.4,60.1 L106.1,63.3 L106.1,63.7 L106.1,66.5 L106.1,67.0 L106.4,69.8 L106.5,70.2 L107.1,73.0 L107.2,73.4 L108.2,76.3 L108.3,76.6 L108.4,76.8 L109.9,79.7 L110.1,80.0 L110.3,80.3 L112.3,83.0 L112.5,83.2 L114.8,86.0 L114.9,86.0 L117.3,88.8 L119.5,91.7 L121.5,94.9 L123.3,98.8 L125.1,103.5 L127.0,108.6 L128.8,113.7 L128.8,113.7 L130.6,118.4 L130.6,118.6 L132.3,122.6 L132.6,123.1 L134.4,126.1 L134.6,126.4 L134.8,126.7 L136.9,128.9 L137.1,129.2 L138.9,131.0 L140.2,132.3 L140.8,133.4 L141.0,134.9 L140.6,137.3 L139.4,140.4 L137.6,144.1 L135.5,148.4 L135.4,148.5 L133.3,153.2 L133.1,153.5 L131.8,157.1 L135.6,158.2 L136.9,154.8Z " fill="#b2b2b2" fill-rule="evenodd" filter="url(#b1)"/><path d="M125.0,200.0 L131.5,166.3 L136.0,152.6 L138.0,143.7 L138.5,135.0 L137.8,125.3 L137.6,123.6 L134.3,117.0 L125.0,93.0 L122.8,89.4 L113.5,77.9 L112.0,75.0 L110.1,66.6 L110.5,60.1 L105.1,56.9 L99.6,54.7 L93.4,53.3 L80.7,52.8 L69.9,54.6 L58.0,46.9 L42.1,40.6 L33.3,38.4 L23.9,37.1 L12.7,36.6 L4.3,37.4 L-6.8,31.0 L-13.2,28.4 L-27.0,25.3 L-33.0,25.7 L-45.6,30.0 L-50.3,32.4 L-54.4,35.6 L-57.0,38.5 L-59.9,100.0 L-57.7,157.0 L-51.1,206.3 L-40.0,240.0 L-20.8,256.7 L7.2,262.2 L39.7,260.0 L72.2,253.3 L120.0,240.0 L129.7,235.6 L133.0,229.6 L131.9,222.5 L125.7,207.1 L125.0,200.0Z " fill="#898989" fill-rule="evenodd" filter="url(#b1_5)"/><path d="M-58.2,57.9 L-59.9,100.0 L-57.7,157.0 L-51.1,206.3 L-40.0,240.0 L-20.8,256.7 L7.2,262.2 L39.7,260.0 L72.2,253.3 L120.0,240.0 L123.3,238.5 L125.2,232.6 L125.4,225.8 L123.3,214.1 L117.8,198.4 L123.7,164.5 L129.6,145.4 L130.4,140.0 L130.4,130.7 L129.3,122.5 L127.5,114.4 L125.7,109.7 L121.8,103.0 L116.2,81.5 L113.5,77.9 L110.9,71.7 L108.1,68.5 L101.3,64.0 L95.1,61.8 L89.8,60.9 L77.4,61.1 L68.2,63.6 L62.7,59.1 L55.5,54.7 L47.6,51.0 L39.7,48.2 L30.4,46.0 L19.3,44.8 L9.2,44.8 L3.0,46.0 L-10.7,38.0 L-15.3,36.1 L-27.4,33.3 L-31.7,33.6 L-35.8,34.7 L-46.0,39.1 L-48.9,41.4 L-53.3,47.4 L-58.2,57.9Z " fill="#7c7c7c" fill-rule="evenodd" filter="url(#b1_5)"/><path d="M-53.8,63.4 L-57.7,84.4 L-59.9,100.6 L-57.7,157.0 L-51.1,206.3 L-40.0,240.0 L-20.8,256.7 L7.2,262.2 L39.7,260.0 L72.2,253.3 L115.7,241.2 L119.4,231.4 L119.5,226.7 L117.7,216.1 L112.2,201.5 L111.7,198.5 L117.8,163.2 L123.7,144.4 L124.4,139.7 L124.4,132.2 L123.5,124.3 L121.8,116.4 L119.4,110.5 L116.2,105.2 L110.5,83.1 L108.6,78.9 L105.4,74.2 L102.3,71.4 L98.6,69.3 L93.5,67.6 L89.0,66.8 L81.3,66.8 L76.2,67.4 L67.0,70.7 L60.2,64.8 L55.4,61.5 L41.0,54.9 L30.3,52.0 L22.0,51.0 L9.6,50.7 L2.5,52.3 L-13.7,43.2 L-27.7,39.3 L-33.6,40.3 L-40.4,43.0 L-44.8,45.8 L-47.9,50.0 L-53.8,63.4Z " fill="#646464" fill-rule="evenodd" filter="url(#b1_5)"/><path d="M-47.9,64.5 L-51.8,85.9 L-56.0,116.9 L-58.2,143.6 L-57.7,157.0 L-51.1,206.3 L-40.0,240.0 L-20.8,256.7 L6.9,262.2 L36.4,260.2 L72.2,253.3 L102.3,245.0 L108.5,241.2 L110.5,238.2 L113.1,231.6 L113.6,227.5 L112.0,218.2 L106.4,203.1 L105.7,198.7 L112.0,161.8 L117.8,143.4 L118.4,132.4 L116.1,118.3 L114.0,113.2 L110.5,107.2 L105.1,86.0 L103.5,82.0 L101.1,78.5 L98.7,76.3 L94.2,74.0 L84.8,72.6 L75.3,73.8 L66.1,78.0 L53.1,67.1 L46.3,63.5 L39.4,60.7 L29.1,57.9 L18.5,56.7 L9.9,56.7 L1.6,58.3 L-1.6,57.2 L-16.6,48.5 L-28.0,45.3 L-31.4,45.9 L-40.7,50.2 L-42.5,52.6 L-47.9,64.5Z " fill="#525252" fill-rule="evenodd" filter="url(#b1_5)"/><path d="M-42.9,65.4 L-46.9,86.5 L-51.0,117.3 L-54.0,152.7 L-54.4,181.6 L-51.1,206.3 L-40.0,240.0 L-24.5,253.4 L0.0,257.4 L27.8,256.4 L55.4,252.4 L79.2,247.3 L95.8,242.9 L105.1,237.5 L108.6,228.3 L107.3,219.9 L101.5,204.4 L100.6,198.8 L106.5,163.6 L108.6,155.0 L112.8,142.5 L113.4,132.6 L111.3,119.8 L105.8,109.0 L100.3,87.4 L97.6,82.0 L95.4,80.0 L90.6,78.2 L81.8,77.7 L76.1,78.8 L65.3,83.8 L50.3,71.2 L37.7,65.4 L28.0,62.8 L18.2,61.7 L10.2,61.7 L0.9,63.4 L-3.8,61.7 L-19.0,52.8 L-28.3,50.3 L-37.3,53.8 L-42.9,65.4Z " fill="#3b3b3b" fill-rule="evenodd" filter="url(#b1_5)"/><path d="M-40.0,-40.0 L-49.5,-28.6 L-53.5,-11.9 L-53.2,7.5 L-50.1,26.9 L-45.2,43.6 L-40.0,55.0 L-33.1,60.4 L-23.3,61.9 L-11.9,60.6 L0.0,58.1 L11.0,55.8 L20.0,55.0 L26.7,55.5 L32.2,56.3 L36.9,57.2 L41.1,58.1 L45.3,59.1 L50.0,60.0 L55.1,61.1 L60.4,62.6 L65.6,64.1 L70.7,65.2 L75.6,65.6 L80.0,65.0 L84.0,63.2 L87.8,60.4 L91.2,56.9 L94.4,53.0 L97.4,48.9 L100.0,45.0 L102.3,41.5 L104.4,38.3 L106.1,35.0 L107.6,31.1 L108.9,26.2 L110.0,20.0 L112.6,11.3 L117.0,0.4 L121.1,-11.6 L123.0,-23.1 L120.7,-33.1 L112.0,-40.0 L93.8,-44.6 L67.1,-48.0 L36.1,-49.7 L5.1,-49.3 L-21.7,-46.2 L-40.0,-40.0Z " fill="#6e6e6e" fill-rule="evenodd" filter="url(#b2)"/><ellipse cx="60" cy="38" rx="30" ry="16" fill="#898989" filter="url(#b3)" transform="rotate(10 60 38)"/><ellipse cx="58" cy="38" rx="22" ry="11" fill="#9b9b9b" filter="url(#b2)" transform="rotate(10 58 38)"/><ellipse cx="100" cy="30" rx="8" ry="20" fill="#626262" filter="url(#b3)"/><ellipse cx="30" cy="45" rx="12" ry="8" fill="#7c7c7c" filter="url(#b3)"/><ellipse cx="20" cy="30" rx="12" ry="10" fill="#525252" filter="url(#b3)"/><ellipse cx="8" cy="10" rx="10" ry="10" fill="#585858" filter="url(#b3)"/><ellipse cx="70" cy="10" rx="10" ry="8" fill="#3b3b3b" filter="url(#b3)"/><ellipse cx="95" cy="8" rx="10" ry="6" fill="#3f3f3f" filter="url(#b3)"/><ellipse cx="92" cy="40" rx="8" ry="12" fill="#5e5e5e" filter="url(#b3)"/><ellipse cx="40" cy="8" rx="12" ry="5" fill="#666666" filter="url(#b3)"/><ellipse cx="15" cy="55" rx="15" ry="6" fill="#474747" filter="url(#b3)"/><ellipse cx="55" cy="62" rx="15" ry="5" fill="#4e4e4e" filter="url(#b3)"/><ellipse cx="68" cy="10" rx="3" ry="3" fill="#272727" filter="url(#b1)"/><ellipse cx="34.0" cy="8.7" rx="3.2" ry="4.5" fill="#999999" filter="url(#b2)" transform="rotate(-32 34.0 8.7)"/><ellipse cx="61.2" cy="52.8" rx="3.1" ry="3.3" fill="#525252" filter="url(#b2)" transform="rotate(-34 61.2 52.8)"/><ellipse cx="9.5" cy="24.6" rx="5.3" ry="4.8" fill="#6e6e6e" filter="url(#b2)" transform="rotate(10 9.5 24.6)"/><ellipse cx="61.2" cy="3.6" rx="4.6" ry="4.9" fill="#8d8d8d" filter="url(#b2)" transform="rotate(-36 61.2 3.6)"/><ellipse cx="90.1" cy="16.8" rx="5.2" ry="3.7" fill="#525252" filter="url(#b2)" transform="rotate(5 90.1 16.8)"/><ellipse cx="71.6" cy="6.0" rx="5.6" ry="3.1" fill="#8d8d8d" filter="url(#b2)" transform="rotate(4 71.6 6.0)"/><ellipse cx="6.6" cy="3.5" rx="5.0" ry="3.6" fill="#525252" filter="url(#b2)" transform="rotate(22 6.6 3.5)"/><ellipse cx="48.9" cy="53.6" rx="4.2" ry="4.4" fill="#626262" filter="url(#b2)" transform="rotate(16 48.9 53.6)"/><ellipse cx="25.6" cy="33.3" rx="5.0" ry="3.0" fill="#8d8d8d" filter="url(#b2)" transform="rotate(-4 25.6 33.3)"/><ellipse cx="63.9" cy="4.2" rx="4.7" ry="4.3" fill="#8d8d8d" filter="url(#b2)" transform="rotate(-28 63.9 4.2)"/><ellipse cx="51.3" cy="2.3" rx="3.3" ry="3.7" fill="#999999" filter="url(#b2)" transform="rotate(23 51.3 2.3)"/><ellipse cx="85.9" cy="19.7" rx="5.4" ry="3.7" fill="#626262" filter="url(#b2)" transform="rotate(-4 85.9 19.7)"/><ellipse cx="88.2" cy="54.8" rx="5.8" ry="2.2" fill="#7e7e7e" filter="url(#b2)" transform="rotate(18 88.2 54.8)"/><ellipse cx="32.5" cy="33.5" rx="6.3" ry="2.9" fill="#999999" filter="url(#b2)" transform="rotate(-9 32.5 33.5)"/><ellipse cx="70.2" cy="1.3" rx="4.4" ry="3.8" fill="#7e7e7e" filter="url(#b2)" transform="rotate(-1 70.2 1.3)"/><ellipse cx="22.9" cy="16.7" rx="4.0" ry="3.2" fill="#999999" filter="url(#b2)" transform="rotate(30 22.9 16.7)"/><ellipse cx="8.5" cy="26.1" rx="4.1" ry="2.4" fill="#8d8d8d" filter="url(#b2)" transform="rotate(-6 8.5 26.1)"/><ellipse cx="57.8" cy="41.0" rx="5.7" ry="3.1" fill="#626262" filter="url(#b2)" transform="rotate(-22 57.8 41.0)"/><ellipse cx="8.7" cy="8.8" rx="3.9" ry="3.5" fill="#999999" filter="url(#b2)" transform="rotate(7 8.7 8.8)"/><ellipse cx="27.6" cy="0.2" rx="5.1" ry="3.8" fill="#7e7e7e" filter="url(#b2)" transform="rotate(-15 27.6 0.2)"/><ellipse cx="13.2" cy="49.8" rx="5.6" ry="4.2" fill="#8d8d8d" filter="url(#b2)" transform="rotate(-3 13.2 49.8)"/><ellipse cx="91.5" cy="55.2" rx="6.2" ry="3.2" fill="#999999" filter="url(#b2)" transform="rotate(-8 91.5 55.2)"/><ellipse cx="10.9" cy="36.8" rx="3.8" ry="5.0" fill="#434343" filter="url(#b2)" transform="rotate(-5 10.9 36.8)"/><ellipse cx="11.5" cy="34.8" rx="3.0" ry="2.5" fill="#434343" filter="url(#b2)" transform="rotate(-32 11.5 34.8)"/><ellipse cx="38.2" cy="1.5" rx="3.8" ry="3.1" fill="#6e6e6e" filter="url(#b2)" transform="rotate(11 38.2 1.5)"/><ellipse cx="100.3" cy="34.9" rx="3.5" ry="4.5" fill="#7e7e7e" filter="url(#b2)" transform="rotate(39 100.3 34.9)"/><path d="M-40.0,66.0 L-43.9,86.9 L-48.0,117.5 L-51.0,153.0 L-51.5,188.4 L-48.3,219.1 L-40.0,240.0 L-23.8,250.5 L-0.1,254.4 L27.3,253.4 L54.8,249.5 L78.6,244.4 L95.0,240.0 L103.1,235.3 L105.6,228.7 L104.5,220.9 L101.6,212.8 L98.6,205.2 L97.6,198.9 L98.2,193.9 L98.8,189.5 L99.4,185.7 L100.0,182.1 L100.7,178.7 L101.3,175.3 L101.9,172.0 L102.4,168.8 L103.0,165.9 L103.6,163.0 L104.2,160.1 L104.9,157.1 L105.8,154.1 L106.9,151.1 L108.0,148.1 L109.0,145.0 L109.9,142.0 L110.4,139.0 L110.6,135.9 L110.4,132.7 L110.1,129.4 L109.7,126.3 L109.1,123.4 L108.5,120.8 L107.8,118.6 L106.9,116.8 L105.9,115.2 L104.8,113.6 L103.8,111.9 L103.0,110.0 L102.3,107.8 L101.8,105.3 L101.2,102.8 L100.7,100.3 L100.2,97.8 L99.5,95.4 L98.8,93.0 L98.1,90.6 L97.4,88.2 L96.6,86.0 L95.5,84.2 L94.0,82.7 L92.1,81.7 L89.8,81.1 L87.2,80.7 L84.5,80.6 L81.9,80.7 L79.5,81.0 L77.2,81.6 L74.8,82.5 L72.5,83.6 L70.3,84.8 L68.4,85.8 L66.8,86.4 L65.8,86.8 L65.3,87.1 L65.1,87.3 L64.9,87.2 L64.3,86.8 L63.2,86.0 L61.4,84.6 L59.3,82.6 L56.8,80.3 L54.1,77.9 L51.4,75.6 L48.6,73.7 L45.8,72.1 L42.8,70.7 L39.8,69.4 L36.7,68.2 L33.6,67.2 L30.5,66.4 L27.4,65.7 L24.2,65.3 L21.1,64.9 L18.0,64.7 L15.1,64.6 L12.4,64.6 L10.4,64.7 L9.0,65.0 L7.8,65.4 L6.4,65.8 L4.1,66.2 L0.5,66.4 L-5.1,64.4 L-12.4,60.0 L-20.5,55.4 L-28.4,53.3 L-35.3,56.0 L-40.0,66.0Z " fill="#1c1c1c" fill-rule="evenodd" filter="url(#b2)"/><ellipse cx="15" cy="180" rx="30" ry="35" fill="#313131" filter="url(#b6)"/><ellipse cx="65" cy="175" rx="25" ry="25" fill="#1b1b1b" filter="url(#b5)"/><ellipse cx="55" cy="190" rx="6" ry="10" fill="#313131" filter="url(#b2)"/><ellipse cx="40" cy="160" rx="30" ry="8" fill="#272727" filter="url(#b3)"/><path d="M-41.1,65.6 L-41.2,65.7 L-41.2,65.8 L-45.1,86.7 L-45.1,86.8 L-49.2,117.4 L-49.2,117.4 L-52.2,152.9 L-52.2,153.0 L-52.7,188.4 L-52.7,188.6 L-49.5,219.2 L-49.5,219.3 L-49.4,219.4 L-49.4,219.5 L-41.1,240.4 L-41.1,240.6 L-41.0,240.7 L-40.9,240.8 L-40.8,240.9 L-40.8,240.9 L-40.7,241.0 L-24.4,251.6 L-24.3,251.6 L-24.2,251.7 L-24.1,251.7 L-24.0,251.7 L-0.3,255.6 L-0.2,255.6 L-0.1,255.6 L27.4,254.6 L27.5,254.6 L55.0,250.7 L55.1,250.7 L78.9,245.6 L78.9,245.6 L95.3,241.2 L95.4,241.1 L95.5,241.1 L95.6,241.0 L103.7,236.4 L103.8,236.3 L103.9,236.2 L104.0,236.1 L104.0,236.1 L104.1,236.0 L104.2,235.9 L104.2,235.8 L106.8,229.1 L106.8,229.0 L106.8,228.9 L106.8,228.8 L106.8,228.6 L106.8,228.5 L105.7,220.8 L105.7,220.6 L105.6,220.5 L102.7,212.4 L102.7,212.4 L99.8,204.9 L98.8,198.9 L99.3,194.0 L99.9,189.7 L100.6,185.9 L101.2,182.3 L101.9,178.9 L101.9,178.9 L102.5,175.5 L102.5,175.5 L103.1,172.2 L103.6,169.0 L104.2,166.1 L104.7,163.2 L105.4,160.3 L106.1,157.4 L106.9,154.5 L108.0,151.5 L109.1,148.5 L109.1,148.4 L110.2,145.4 L110.2,145.4 L111.0,142.3 L111.1,142.2 L111.6,139.2 L111.6,139.1 L111.8,135.9 L111.8,135.8 L111.6,132.6 L111.6,132.6 L111.3,129.3 L111.3,129.3 L110.9,126.1 L110.9,126.1 L110.3,123.2 L110.3,123.1 L109.7,120.5 L109.6,120.4 L108.9,118.2 L108.8,118.1 L107.9,116.3 L107.9,116.2 L106.9,114.5 L106.9,114.5 L105.8,113.0 L104.9,111.4 L104.1,109.6 L103.5,107.5 L102.9,105.1 L102.4,102.6 L101.9,100.0 L101.9,100.0 L101.3,97.5 L101.3,97.4 L100.7,95.1 L100.7,95.1 L100.0,92.7 L99.3,90.3 L99.3,90.3 L98.6,87.9 L98.6,87.8 L97.7,85.6 L97.7,85.5 L97.6,85.4 L96.5,83.5 L96.4,83.5 L96.4,83.4 L96.3,83.3 L94.8,81.9 L94.8,81.8 L94.7,81.7 L94.6,81.6 L92.6,80.6 L92.5,80.6 L92.4,80.5 L90.1,79.9 L89.9,79.9 L87.4,79.5 L87.2,79.5 L84.6,79.4 L84.5,79.4 L81.9,79.5 L81.8,79.6 L79.4,79.8 L79.2,79.8 L76.9,80.4 L76.7,80.4 L74.4,81.4 L74.3,81.4 L71.9,82.5 L71.9,82.6 L69.7,83.7 L67.9,84.7 L66.3,85.3 L65.3,85.7 L65.2,85.8 L65.1,85.8 L65.1,85.9 L65.0,85.9 L65.0,85.9 L63.9,85.0 L62.2,83.7 L60.1,81.7 L57.6,79.4 L57.6,79.4 L54.9,77.0 L54.9,76.9 L52.1,74.7 L52.0,74.6 L49.3,72.7 L49.2,72.7 L46.4,71.1 L46.3,71.1 L43.4,69.6 L43.3,69.6 L40.2,68.3 L40.2,68.3 L37.1,67.1 L37.0,67.1 L33.9,66.1 L33.9,66.1 L30.8,65.2 L30.8,65.2 L27.7,64.6 L27.6,64.6 L24.4,64.1 L24.4,64.1 L21.2,63.7 L21.1,63.7 L18.1,63.5 L18.0,63.5 L15.1,63.4 L15.1,63.4 L12.4,63.4 L12.3,63.4 L10.3,63.5 L10.2,63.5 L10.1,63.5 L8.8,63.8 L8.7,63.9 L7.5,64.3 L6.1,64.7 L3.9,65.0 L0.7,65.2 L-4.5,63.4 L-11.8,58.9 L-11.8,58.9 L-19.9,54.4 L-20.0,54.3 L-20.1,54.3 L-20.2,54.3 L-28.1,52.1 L-28.2,52.1 L-28.3,52.1 L-28.5,52.1 L-28.6,52.1 L-28.7,52.1 L-28.8,52.1 L-28.9,52.2 L-35.7,54.9 L-35.8,54.9 L-35.9,55.0 L-36.0,55.1 L-36.1,55.1 L-36.2,55.2 L-36.2,55.3 L-36.3,55.4 L-36.3,55.5 L-41.1,65.5 L-41.1,65.6Z M-35.3,56.0 L-28.4,53.3 L-20.5,55.4 L-12.4,60.0 L-5.1,64.4 L0.5,66.4 L4.1,66.2 L6.4,65.8 L7.8,65.4 L9.0,65.0 L10.4,64.7 L12.4,64.6 L15.1,64.6 L18.0,64.7 L21.1,64.9 L24.2,65.3 L27.4,65.7 L30.5,66.4 L33.6,67.2 L36.7,68.2 L39.8,69.4 L42.8,70.7 L45.8,72.1 L48.6,73.7 L51.4,75.6 L54.1,77.9 L56.8,80.3 L59.3,82.6 L61.4,84.6 L63.2,86.0 L64.3,86.8 L64.9,87.2 L65.1,87.3 L65.3,87.1 L65.8,86.8 L66.8,86.4 L68.4,85.8 L70.3,84.8 L72.5,83.6 L74.8,82.5 L77.2,81.6 L79.5,81.0 L81.9,80.7 L84.5,80.6 L87.2,80.7 L89.8,81.1 L92.1,81.7 L94.0,82.7 L95.5,84.2 L96.6,86.0 L97.4,88.2 L98.1,90.6 L98.8,93.0 L99.5,95.4 L100.2,97.8 L100.7,100.3 L101.2,102.8 L101.8,105.3 L102.3,107.8 L103.0,110.0 L103.8,111.9 L104.8,113.6 L105.9,115.2 L106.9,116.8 L107.8,118.6 L108.5,120.8 L109.1,123.4 L109.7,126.3 L110.1,129.4 L110.4,132.7 L110.6,135.9 L110.4,139.0 L109.9,142.0 L109.0,145.0 L108.0,148.1 L106.9,151.1 L105.8,154.1 L104.9,157.1 L104.2,160.1 L103.6,163.0 L103.0,165.9 L102.4,168.8 L101.9,172.0 L101.3,175.3 L100.7,178.7 L100.0,182.1 L99.4,185.7 L98.8,189.5 L98.2,193.9 L97.6,198.9 L98.6,205.2 L101.6,212.8 L104.5,220.9 L105.6,228.7 L103.1,235.3 L95.0,240.0 L78.6,244.4 L54.8,249.5 L27.3,253.4 L-0.1,254.4 L-23.8,250.5 L-40.0,240.0 L-48.3,219.1 L-51.5,188.4 L-51.0,153.0 L-48.0,117.5 L-43.9,86.9 L-40.0,66.0 L-35.3,56.0Z " fill="#292929" fill-rule="evenodd" filter="url(#b1_0)"/><path d="M14.2,54.4 L12.0,55.1 L10.7,55.6 L9.3,56.2 L7.9,57.0 L6.9,57.6 L5.5,58.6 L4.3,59.7 L3.4,60.5 L2.6,61.5 L1.7,62.5 L1.0,63.5 L0.3,64.6 L-0.4,65.8 L-0.6,66.0 L-1.3,67.2 L-2.2,68.6 L-3.4,70.6 L-3.8,71.1 L-5.0,73.3 L-5.6,74.5 L-6.7,76.8 L-7.5,78.9 L-8.2,81.2 L-8.6,82.9 L-8.9,84.7 L-9.1,87.0 L-9.1,88.5 L-9.0,90.0 L-8.8,91.5 L-8.3,93.8 L-7.9,95.4 L-7.3,96.9 L-6.3,99.2 L-5.4,100.8 L-4.1,103.2 L-3.7,103.7 L-2.3,106.0 L-1.1,107.9 L-0.3,109.5 L0.6,111.7 L1.8,114.5 L3.0,117.6 L4.2,120.8 L4.2,120.8 L5.4,123.8 L5.4,124.0 L6.5,126.7 L7.4,128.8 L8.1,130.9 L8.1,130.9 L8.9,133.0 L9.1,133.6 L9.9,135.6 L10.4,136.7 L11.3,138.6 L12.1,140.0 L13.3,141.9 L14.3,143.3 L15.8,145.3 L16.7,146.3 L18.5,148.3 L19.1,148.9 L21.1,150.8 L21.4,151.2 L23.4,153.0 L23.6,153.2 L25.5,154.9 L27.0,156.2 L28.4,157.5 L29.7,158.7 L30.0,159.0 L31.2,160.1 L31.9,160.7 L33.1,161.6 L34.6,162.6 L35.6,163.3 L37.1,164.1 L38.7,164.8 L39.7,165.1 L41.1,165.5 L42.5,165.8 L43.9,166.0 L45.4,166.0 L46.1,166.0 L47.6,165.9 L49.2,165.6 L50.7,165.2 L52.1,164.6 L53.5,163.9 L54.9,163.1 L55.3,162.8 L56.6,161.8 L57.7,160.7 L58.8,159.5 L59.7,158.2 L60.0,157.8 L60.8,157.3 L60.9,157.2 L62.9,155.8 L63.7,155.3 L65.3,154.1 L65.5,154.3 L67.1,156.0 L68.2,157.0 L69.8,158.4 L70.9,159.2 L72.5,160.3 L73.7,161.2 L75.1,162.0 L77.1,162.9 L78.2,163.4 L79.5,163.8 L80.9,164.2 L82.2,164.4 L83.1,164.5 L84.6,164.6 L86.0,164.6 L87.5,164.5 L88.9,164.2 L89.7,164.0 L91.2,163.5 L92.7,162.9 L94.1,162.2 L94.9,161.7 L96.8,160.3 L97.7,159.6 L98.1,159.2 L99.2,158.3 L99.5,158.0 L100.8,156.8 L101.4,156.2 L102.9,154.6 L103.4,154.1 L105.0,152.3 L105.5,151.7 L107.1,149.7 L107.7,149.1 L109.2,146.9 L109.8,146.0 L111.2,143.9 L111.5,143.3 L112.8,141.1 L112.9,140.9 L114.2,138.5 L114.6,137.8 L115.8,135.3 L116.3,134.1 L117.3,131.6 L117.9,129.6 L118.5,127.1 L118.8,125.6 L118.9,124.1 L119.1,121.7 L119.1,120.2 L119.0,118.7 L118.7,117.3 L118.1,114.8 L117.7,113.1 L117.0,111.5 L115.8,108.9 L115.0,107.4 L113.4,104.9 L113.1,104.5 L111.7,102.3 L111.5,102.0 L111.7,101.0 L111.8,100.1 L111.9,98.4 L111.9,96.1 L111.8,94.3 L111.6,92.7 L111.2,90.8 L111.2,90.4 L110.8,88.4 L110.6,87.6 L110.1,85.6 L109.8,84.4 L109.1,82.5 L108.4,80.7 L107.7,79.0 L106.9,77.6 L106.0,76.2 L105.0,74.9 L104.0,73.7 L102.8,72.5 L101.5,71.5 L100.3,70.6 L99.1,69.8 L97.8,69.2 L96.5,68.6 L95.0,68.1 L93.6,67.6 L92.3,67.3 L90.6,67.0 L88.9,66.8 L87.2,66.7 L86.3,66.7 L84.7,66.7 L84.4,66.7 L83.0,66.7 L82.5,66.7 L81.2,66.8 L79.9,66.9 L78.7,67.0 L77.3,67.2 L76.1,67.5 L74.7,67.8 L73.5,68.2 L72.1,68.6 L71.0,69.1 L69.7,69.7 L68.6,70.3 L67.8,70.7 L67.2,71.0 L66.2,70.0 L65.3,69.1 L63.5,67.6 L62.6,66.8 L60.8,65.4 L59.9,64.8 L57.8,63.4 L56.9,62.9 L54.7,61.6 L53.8,61.1 L51.3,59.9 L50.4,59.5 L47.7,58.4 L47.0,58.1 L44.1,57.1 L43.5,56.9 L40.6,56.0 L40.0,55.8 L37.2,55.1 L36.5,54.9 L33.9,54.4 L33.0,54.2 L30.6,53.8 L29.6,53.7 L27.3,53.5 L26.3,53.4 L24.0,53.3 L22.9,53.3 L20.8,53.4 L19.4,53.5 L17.5,53.7 L15.8,54.0 L14.2,54.4Z " fill="#171717" fill-rule="evenodd" filter="url(#b4)"/><path d="M16.9,66.1 L16.3,66.3 L15.0,66.8 L14.7,66.9 L14.3,67.1 L13.3,67.8 L13.0,68.0 L12.7,68.3 L11.8,69.1 L11.6,69.3 L11.4,69.6 L10.7,70.6 L10.5,70.8 L9.8,72.0 L9.8,72.1 L9.0,73.4 L8.0,75.0 L6.7,77.0 L6.6,77.1 L5.4,79.3 L5.2,79.6 L4.2,81.9 L4.0,82.4 L3.3,84.7 L3.1,85.2 L3.1,85.6 L2.9,87.9 L2.9,88.3 L2.9,88.6 L3.0,89.0 L3.5,91.3 L3.6,91.7 L3.7,92.1 L4.7,94.4 L4.9,94.8 L6.3,97.1 L6.4,97.3 L7.9,99.7 L9.4,102.0 L10.6,104.4 L11.7,107.1 L13.0,110.1 L14.2,113.3 L15.4,116.5 L15.4,116.5 L16.6,119.5 L16.6,119.5 L17.7,122.3 L18.6,124.6 L19.4,126.9 L19.4,126.9 L20.2,129.0 L20.2,129.1 L21.0,131.1 L21.1,131.4 L22.1,133.3 L22.3,133.7 L23.5,135.6 L23.7,136.0 L25.3,137.9 L25.5,138.2 L27.3,140.2 L27.5,140.3 L29.4,142.3 L29.5,142.3 L31.5,144.2 L31.6,144.2 L33.5,145.9 L35.1,147.4 L36.5,148.7 L37.9,149.9 L38.0,150.0 L39.2,151.1 L39.4,151.3 L40.5,152.2 L40.9,152.4 L41.9,153.1 L42.3,153.3 L42.7,153.4 L43.7,153.8 L44.0,153.9 L44.4,154.0 L44.7,154.0 L45.1,154.0 L45.8,154.0 L46.2,154.0 L46.6,153.9 L47.0,153.8 L47.3,153.6 L47.7,153.5 L48.0,153.3 L48.5,152.9 L48.8,152.7 L49.1,152.4 L49.3,152.1 L49.6,151.8 L49.9,151.2 L50.1,151.0 L50.4,150.3 L50.8,149.8 L51.3,149.3 L52.4,148.4 L54.2,147.3 L54.2,147.3 L56.3,145.9 L56.4,145.7 L58.5,144.2 L58.9,143.9 L60.8,142.1 L61.0,141.9 L61.2,141.6 L62.7,139.6 L62.9,139.3 L63.1,138.9 L64.2,136.7 L64.4,136.3 L65.2,133.8 L65.3,133.5 L65.9,130.8 L66.0,130.6 L66.2,129.1 L66.9,131.5 L66.9,131.7 L67.9,134.8 L68.0,135.0 L69.1,137.9 L69.2,138.2 L70.4,140.7 L70.6,141.1 L71.9,143.3 L72.2,143.7 L73.8,145.6 L74.0,145.9 L75.7,147.6 L75.9,147.8 L77.6,149.3 L77.9,149.5 L79.4,150.6 L79.7,150.8 L81.1,151.6 L81.6,151.8 L82.7,152.2 L83.0,152.4 L83.4,152.4 L83.7,152.5 L84.6,152.6 L84.9,152.6 L85.3,152.6 L85.7,152.6 L86.0,152.5 L86.8,152.3 L87.2,152.2 L87.6,152.1 L87.9,151.9 L88.7,151.4 L89.2,151.1 L90.1,150.3 L90.2,150.2 L91.2,149.3 L91.3,149.2 L92.7,148.0 L92.8,147.8 L94.3,146.3 L94.5,146.1 L96.1,144.3 L96.2,144.2 L97.8,142.2 L98.0,142.0 L99.5,139.9 L99.7,139.7 L101.0,137.5 L101.1,137.4 L102.3,135.2 L102.4,135.1 L103.7,132.7 L103.8,132.5 L105.0,130.1 L105.1,129.8 L106.1,127.2 L106.2,126.8 L106.8,124.2 L106.9,123.9 L107.0,123.5 L107.1,121.0 L107.1,120.6 L107.1,120.3 L107.0,119.9 L106.4,117.4 L106.3,117.0 L106.2,116.6 L105.0,114.1 L104.7,113.7 L103.2,111.2 L103.1,111.1 L101.5,108.7 L100.3,106.7 L99.7,105.1 L99.4,103.9 L99.4,102.6 L99.5,101.1 L99.8,99.4 L99.8,99.2 L99.9,97.5 L99.9,96.9 L99.8,95.1 L99.7,94.7 L99.4,92.8 L99.4,92.7 L99.0,90.7 L99.0,90.5 L98.5,88.4 L98.4,88.1 L97.7,86.2 L97.6,85.8 L96.8,84.1 L96.6,83.7 L96.4,83.4 L95.4,82.1 L95.1,81.8 L94.8,81.5 L94.5,81.2 L93.3,80.4 L93.0,80.2 L92.7,80.0 L92.4,79.9 L90.9,79.3 L90.5,79.2 L90.2,79.2 L88.6,78.9 L88.1,78.8 L86.5,78.7 L86.2,78.7 L84.6,78.7 L84.5,78.7 L83.1,78.7 L83.0,78.7 L81.6,78.8 L81.3,78.8 L80.0,78.9 L79.7,79.0 L78.5,79.2 L78.1,79.3 L77.0,79.7 L76.6,79.8 L75.5,80.2 L75.1,80.4 L74.1,80.9 L73.9,81.0 L72.8,81.7 L72.7,81.8 L71.6,82.4 L71.3,82.6 L70.3,83.4 L70.0,83.8 L69.1,84.7 L68.8,84.9 L68.7,85.2 L67.8,86.3 L67.7,86.6 L67.5,86.8 L66.8,88.2 L66.6,88.8 L66.1,90.4 L66.0,90.8 L65.9,91.1 L65.8,90.9 L65.7,90.5 L64.8,88.4 L64.7,88.1 L63.7,86.2 L63.5,85.9 L62.4,84.1 L62.2,83.9 L60.9,82.1 L60.8,82.0 L59.3,80.2 L59.1,80.0 L57.5,78.3 L57.3,78.1 L55.6,76.6 L55.4,76.4 L53.5,74.9 L53.2,74.8 L51.2,73.4 L51.0,73.3 L48.8,72.0 L48.5,71.9 L46.1,70.7 L45.9,70.6 L43.1,69.5 L43.0,69.4 L40.1,68.4 L39.9,68.4 L37.0,67.5 L36.9,67.4 L34.1,66.7 L33.9,66.6 L31.3,66.1 L31.1,66.0 L28.7,65.7 L28.5,65.6 L26.1,65.4 L25.9,65.4 L23.6,65.3 L23.3,65.3 L21.2,65.4 L20.9,65.4 L19.0,65.6 L18.6,65.7 L16.9,66.1Z " fill="#151515" fill-rule="evenodd" filter="url(#b2)"/><path d="M17.8,70.0 L16.5,70.5 L15.5,71.2 L14.7,72.0 L13.9,72.9 L13.2,74.1 L12.4,75.5 L11.3,77.2 L10.1,79.1 L8.9,81.3 L7.8,83.6 L7.1,85.9 L6.9,88.2 L7.4,90.5 L8.4,92.8 L9.8,95.1 L11.3,97.5 L12.8,100.1 L14.2,102.7 L15.4,105.6 L16.7,108.7 L17.9,111.9 L19.1,115.0 L20.3,118.1 L21.4,120.8 L22.4,123.2 L23.2,125.5 L23.9,127.6 L24.7,129.6 L25.7,131.6 L26.9,133.5 L28.4,135.5 L30.3,137.5 L32.2,139.4 L34.2,141.2 L36.1,142.9 L37.8,144.4 L39.3,145.7 L40.6,147.0 L41.9,148.1 L43.0,149.0 L44.1,149.7 L45.0,150.0 L45.7,150.0 L46.2,149.7 L46.6,149.1 L47.0,148.3 L47.6,147.3 L48.6,146.3 L50.1,145.2 L52.0,143.9 L54.0,142.5 L56.1,141.0 L58.0,139.2 L59.5,137.2 L60.6,135.0 L61.4,132.5 L62.0,129.9 L62.5,127.1 L62.9,124.0 L63.2,120.8 L63.5,117.2 L63.7,113.1 L63.8,108.8 L63.7,104.5 L63.6,100.6 L63.2,97.2 L62.7,94.4 L62.0,92.0 L61.1,89.9 L60.1,88.1 L59.0,86.3 L57.7,84.5 L56.3,82.7 L54.7,81.1 L52.9,79.5 L51.0,78.1 L49.0,76.8 L46.8,75.5 L44.4,74.3 L41.6,73.2 L38.8,72.2 L35.9,71.3 L33.1,70.6 L30.5,70.0 L28.1,69.6 L25.7,69.4 L23.5,69.3 L21.4,69.4 L19.5,69.6 L17.8,70.0Z M83.1,82.7 L81.8,82.7 L80.5,82.9 L79.3,83.1 L78.1,83.5 L77.0,83.9 L75.9,84.5 L74.8,85.1 L73.8,85.8 L72.8,86.6 L71.9,87.5 L71.1,88.6 L70.4,90.0 L69.9,91.6 L69.5,93.5 L69.2,95.6 L68.9,97.8 L68.8,100.2 L68.6,102.7 L68.4,105.4 L68.3,108.3 L68.2,111.4 L68.1,114.6 L68.3,117.7 L68.6,120.8 L69.1,123.9 L69.9,127.2 L70.7,130.5 L71.7,133.6 L72.8,136.5 L74.0,139.0 L75.3,141.2 L76.9,143.1 L78.5,144.8 L80.2,146.2 L81.7,147.3 L83.1,148.1 L84.2,148.5 L85.1,148.6 L85.9,148.5 L86.6,148.0 L87.5,147.3 L88.6,146.3 L89.9,145.1 L91.5,143.5 L93.1,141.7 L94.7,139.6 L96.3,137.5 L97.6,135.4 L98.9,133.2 L100.2,130.8 L101.4,128.3 L102.3,125.8 L103.0,123.3 L103.1,120.8 L102.5,118.3 L101.3,115.8 L99.8,113.3 L98.2,110.9 L96.7,108.5 L95.8,106.3 L95.4,104.3 L95.4,102.4 L95.6,100.6 L95.8,98.9 L95.9,97.2 L95.8,95.4 L95.5,93.5 L95.1,91.4 L94.6,89.4 L93.9,87.5 L93.2,85.8 L92.2,84.5 L91.0,83.6 L89.5,83.1 L87.9,82.8 L86.2,82.7 L84.6,82.7 L83.1,82.7Z " fill="#101010" fill-rule="evenodd"/><ellipse cx="40" cy="100" rx="12" ry="15" fill="#0c0c0c" filter="url(#b5)"/><ellipse cx="89" cy="127" rx="5" ry="7" fill="#181818" filter="url(#b1)"/></g></g></g>
<g transform="translate(955.5,1888.2)"><g clip-path="url(#cp200)"><rect width="200" height="200.2" fill="#fff"/><rect width="200" height="200.2" filter="url(#sh4)" mask="url(#mk4)"/></g></g>
<rect x="717.80" y="1888.20" width="200.40" height="200.20" fill="none" stroke="#333" stroke-width="1.0" />
<rect x="955.50" y="1888.20" width="200.00" height="200.20" fill="none" stroke="#333" stroke-width="1.0" />
<line x1="714.30" y1="1915.50" x2="717.80" y2="1915.50" stroke="#333" stroke-width="0.8" />
<line x1="952.00" y1="1915.50" x2="955.50" y2="1915.50" stroke="#333" stroke-width="0.8" />
<text x="711.5" y="1919.4" font-size="10.8" text-anchor="end" textLength="13.5" lengthAdjust="spacingAndGlyphs" fill="#1a1a1a" >16</text>
<line x1="714.30" y1="1946.70" x2="717.80" y2="1946.70" stroke="#333" stroke-width="0.8" />
<line x1="952.00" y1="1946.70" x2="955.50" y2="1946.70" stroke="#333" stroke-width="0.8" />
<text x="711.5" y="1950.6" font-size="10.8" text-anchor="end" textLength="13.5" lengthAdjust="spacingAndGlyphs" fill="#1a1a1a" >15</text>
<line x1="714.30" y1="1977.90" x2="717.80" y2="1977.90" stroke="#333" stroke-width="0.8" />
<line x1="952.00" y1="1977.90" x2="955.50" y2="1977.90" stroke="#333" stroke-width="0.8" />
<text x="711.5" y="1981.8" font-size="10.8" text-anchor="end" textLength="13.5" lengthAdjust="spacingAndGlyphs" fill="#1a1a1a" >14</text>
<line x1="714.30" y1="2009.50" x2="717.80" y2="2009.50" stroke="#333" stroke-width="0.8" />
<line x1="952.00" y1="2009.50" x2="955.50" y2="2009.50" stroke="#333" stroke-width="0.8" />
<text x="711.5" y="2013.4" font-size="10.8" text-anchor="end" textLength="13.5" lengthAdjust="spacingAndGlyphs" fill="#1a1a1a" >13</text>
<line x1="714.30" y1="2041.00" x2="717.80" y2="2041.00" stroke="#333" stroke-width="0.8" />
<line x1="952.00" y1="2041.00" x2="955.50" y2="2041.00" stroke="#333" stroke-width="0.8" />
<text x="711.5" y="2044.9" font-size="10.8" text-anchor="end" textLength="13.5" lengthAdjust="spacingAndGlyphs" fill="#1a1a1a" >12</text>
<line x1="714.30" y1="2072.00" x2="717.80" y2="2072.00" stroke="#333" stroke-width="0.8" />
<line x1="952.00" y1="2072.00" x2="955.50" y2="2072.00" stroke="#333" stroke-width="0.8" />
<text x="711.5" y="2075.9" font-size="10.8" text-anchor="end" textLength="13.5" lengthAdjust="spacingAndGlyphs" fill="#1a1a1a" >11</text>
<line x1="732.30" y1="2088.40" x2="732.30" y2="2091.90" stroke="#333" stroke-width="0.8" />
<text x="732.3" y="2100.7" font-size="10.8" text-anchor="middle" textLength="13.5" lengthAdjust="spacingAndGlyphs" fill="#1a1a1a" >81</text>
<line x1="762.88" y1="2088.40" x2="762.88" y2="2091.90" stroke="#333" stroke-width="0.8" />
<text x="762.9" y="2100.7" font-size="10.8" text-anchor="middle" textLength="13.5" lengthAdjust="spacingAndGlyphs" fill="#1a1a1a" >82</text>
<line x1="793.46" y1="2088.40" x2="793.46" y2="2091.90" stroke="#333" stroke-width="0.8" />
<text x="793.5" y="2100.7" font-size="10.8" text-anchor="middle" textLength="13.5" lengthAdjust="spacingAndGlyphs" fill="#1a1a1a" >83</text>
<line x1="824.04" y1="2088.40" x2="824.04" y2="2091.90" stroke="#333" stroke-width="0.8" />
<text x="824.0" y="2100.7" font-size="10.8" text-anchor="middle" textLength="13.5" lengthAdjust="spacingAndGlyphs" fill="#1a1a1a" >84</text>
<line x1="854.62" y1="2088.40" x2="854.62" y2="2091.90" stroke="#333" stroke-width="0.8" />
<text x="854.6" y="2100.7" font-size="10.8" text-anchor="middle" textLength="13.5" lengthAdjust="spacingAndGlyphs" fill="#1a1a1a" >85</text>
<line x1="885.20" y1="2088.40" x2="885.20" y2="2091.90" stroke="#333" stroke-width="0.8" />
<text x="885.2" y="2100.7" font-size="10.8" text-anchor="middle" textLength="13.5" lengthAdjust="spacingAndGlyphs" fill="#1a1a1a" >86</text>
<line x1="915.78" y1="2088.40" x2="915.78" y2="2091.90" stroke="#333" stroke-width="0.8" />
<text x="915.8" y="2100.7" font-size="10.8" text-anchor="middle" textLength="13.5" lengthAdjust="spacingAndGlyphs" fill="#1a1a1a" >87</text>
<line x1="961.80" y1="2088.40" x2="961.80" y2="2091.90" stroke="#333" stroke-width="0.8" />
<line x1="992.13" y1="2088.40" x2="992.13" y2="2091.90" stroke="#333" stroke-width="0.8" />
<line x1="1022.46" y1="2088.40" x2="1022.46" y2="2091.90" stroke="#333" stroke-width="0.8" />
<line x1="1052.79" y1="2088.40" x2="1052.79" y2="2091.90" stroke="#333" stroke-width="0.8" />
<line x1="1083.12" y1="2088.40" x2="1083.12" y2="2091.90" stroke="#333" stroke-width="0.8" />
<line x1="1113.45" y1="2088.40" x2="1113.45" y2="2091.90" stroke="#333" stroke-width="0.8" />
<line x1="1143.78" y1="2088.40" x2="1143.78" y2="2091.90" stroke="#333" stroke-width="0.8" />
<rect x="718.10" y="2125.60" width="199.90" height="12.40" fill="url(#gbt)" stroke="#333" stroke-width="0.8" />
<text x="817.7" y="2122.0" font-size="9.9" text-anchor="middle" textLength="133.0" lengthAdjust="spacingAndGlyphs" fill="#1a1a1a" >Brightness Temperature [K]</text>
<line x1="718.10" y1="2138.00" x2="718.10" y2="2140.50" stroke="#333" stroke-width="0.7" />
<text x="718.1" y="2148.9" font-size="7.0" text-anchor="middle" textLength="12.6" lengthAdjust="spacingAndGlyphs" fill="#1a1a1a" >180</text>
<line x1="748.85" y1="2138.00" x2="748.85" y2="2140.50" stroke="#333" stroke-width="0.7" />
<text x="748.9" y="2148.9" font-size="7.0" text-anchor="middle" textLength="12.6" lengthAdjust="spacingAndGlyphs" fill="#1a1a1a" >200</text>
<line x1="779.61" y1="2138.00" x2="779.61" y2="2140.50" stroke="#333" stroke-width="0.7" />
<text x="779.6" y="2148.9" font-size="7.0" text-anchor="middle" textLength="12.6" lengthAdjust="spacingAndGlyphs" fill="#1a1a1a" >220</text>
<line x1="810.36" y1="2138.00" x2="810.36" y2="2140.50" stroke="#333" stroke-width="0.7" />
<text x="810.4" y="2148.9" font-size="7.0" text-anchor="middle" textLength="12.6" lengthAdjust="spacingAndGlyphs" fill="#1a1a1a" >240</text>
<line x1="841.12" y1="2138.00" x2="841.12" y2="2140.50" stroke="#333" stroke-width="0.7" />
<text x="841.1" y="2148.9" font-size="7.0" text-anchor="middle" textLength="12.6" lengthAdjust="spacingAndGlyphs" fill="#1a1a1a" >260</text>
<line x1="871.87" y1="2138.00" x2="871.87" y2="2140.50" stroke="#333" stroke-width="0.7" />
<text x="871.9" y="2148.9" font-size="7.0" text-anchor="middle" textLength="12.6" lengthAdjust="spacingAndGlyphs" fill="#1a1a1a" >280</text>
<line x1="902.62" y1="2138.00" x2="902.62" y2="2140.50" stroke="#333" stroke-width="0.7" />
<text x="902.6" y="2148.9" font-size="7.0" text-anchor="middle" textLength="12.6" lengthAdjust="spacingAndGlyphs" fill="#1a1a1a" >300</text>
<rect x="955.30" y="2125.40" width="200.20" height="12.60" fill="url(#gsei)" stroke="#333" stroke-width="0.8" />
<text x="1055.4" y="2122.0" font-size="9.9" text-anchor="middle" textLength="60.0" lengthAdjust="spacingAndGlyphs" fill="#1a1a1a" >SHAP Values</text>
<line x1="955.30" y1="2138.00" x2="955.30" y2="2141.00" stroke="#333" stroke-width="0.7" />
<text x="955.3" y="2150.3" font-size="11.2" text-anchor="middle" textLength="33.1" lengthAdjust="spacingAndGlyphs" fill="#1a1a1a" >−0.04</text>
<line x1="1005.35" y1="2138.00" x2="1005.35" y2="2141.00" stroke="#333" stroke-width="0.7" />
<text x="1005.3" y="2150.3" font-size="11.2" text-anchor="middle" textLength="33.1" lengthAdjust="spacingAndGlyphs" fill="#1a1a1a" >−0.02</text>
<line x1="1055.40" y1="2138.00" x2="1055.40" y2="2141.00" stroke="#333" stroke-width="0.7" />
<text x="1055.4" y="2150.3" font-size="11.2" text-anchor="middle" textLength="24.0" lengthAdjust="spacingAndGlyphs" fill="#1a1a1a" >0.00</text>
<line x1="1105.45" y1="2138.00" x2="1105.45" y2="2141.00" stroke="#333" stroke-width="0.7" />
<text x="1105.4" y="2150.3" font-size="11.2" text-anchor="middle" textLength="24.0" lengthAdjust="spacingAndGlyphs" fill="#1a1a1a" >0.02</text>
<line x1="1155.50" y1="2138.00" x2="1155.50" y2="2141.00" stroke="#333" stroke-width="0.7" />
<text x="1155.5" y="2150.3" font-size="11.2" text-anchor="middle" textLength="24.0" lengthAdjust="spacingAndGlyphs" fill="#1a1a1a" >0.04</text>
</svg></body></html>
